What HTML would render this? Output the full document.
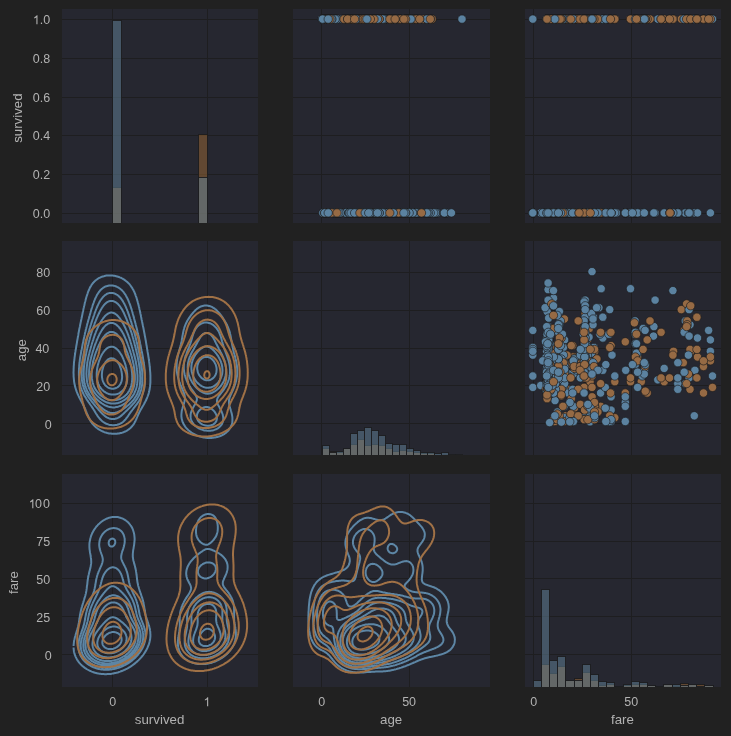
<!DOCTYPE html>
<html><head><meta charset="utf-8"><title>pairgrid</title>
<style>html,body{margin:0;padding:0;background:#212121;}body{width:731px;height:736px;overflow:hidden;font-family:"Liberation Sans",sans-serif;}</style>
</head><body>
<svg width="731" height="736" viewBox="0 0 731 736" font-family="Liberation Sans, sans-serif" style="display:block">
<rect width="731" height="736" fill="#212121"/>
<defs>
<clipPath id="c00"><rect x="62" y="9" width="196" height="214"/></clipPath>
<clipPath id="c01"><rect x="293" y="9" width="197" height="214"/></clipPath>
<clipPath id="c02"><rect x="525" y="9" width="196" height="214"/></clipPath>
<clipPath id="c10"><rect x="62" y="241" width="196" height="214"/></clipPath>
<clipPath id="c11"><rect x="293" y="241" width="197" height="214"/></clipPath>
<clipPath id="c12"><rect x="525" y="241" width="196" height="214"/></clipPath>
<clipPath id="c20"><rect x="62" y="474" width="196" height="213"/></clipPath>
<clipPath id="c21"><rect x="293" y="474" width="197" height="213"/></clipPath>
<clipPath id="c22"><rect x="525" y="474" width="196" height="213"/></clipPath>
</defs>
<g clip-path="url(#c00)">
<rect x="62" y="9" width="196" height="214" fill="#262730"/>
<path d="M112.5 9V223M207.5 9V223M62 213.5H258M62 174.5H258M62 135.5H258M62 97.5H258M62 58.5H258M62 19.5H258" stroke="#1e1e20" stroke-width="1" fill="none"/>
<rect x="112.5" y="187.5" width="9.0" height="38.5" fill="#9e6934" fill-opacity="0.5" stroke="#1c1c1e" stroke-width="1" stroke-opacity="0.9"/>
<rect x="198.5" y="134.5" width="9.0" height="91.5" fill="#9e6934" fill-opacity="0.5" stroke="#1c1c1e" stroke-width="1" stroke-opacity="0.9"/>
<rect x="112.5" y="20.5" width="9.0" height="205.5" fill="#64869c" fill-opacity="0.5" stroke="#1c1c1e" stroke-width="1" stroke-opacity="0.9"/>
<rect x="198.5" y="177.5" width="9.0" height="48.5" fill="#64869c" fill-opacity="0.5" stroke="#1c1c1e" stroke-width="1" stroke-opacity="0.9"/>
</g>
<g clip-path="url(#c01)">
<rect x="293" y="9" width="197" height="214" fill="#262730"/>
<path d="M321.5 9V223M409.5 9V223M293 213.5H490M293 174.5H490M293 135.5H490M293 97.5H490M293 58.5H490M293 19.5H490" stroke="#1e1e20" stroke-width="1" fill="none"/>
<g stroke="#1c1c1e" stroke-width="0.67">
<circle cx="359.9" cy="212.9" r="4.17" fill="#5b82a0"/>
<circle cx="388" cy="19.1" r="4.17" fill="#966a44"/>
<circle cx="366.9" cy="19.1" r="4.17" fill="#966a44"/>
<circle cx="382.8" cy="19.1" r="4.17" fill="#966a44"/>
<circle cx="382.8" cy="212.9" r="4.17" fill="#5b82a0"/>
<circle cx="416.2" cy="212.9" r="4.17" fill="#5b82a0"/>
<circle cx="324.7" cy="212.9" r="4.17" fill="#5b82a0"/>
<circle cx="368.7" cy="19.1" r="4.17" fill="#966a44"/>
<circle cx="345.8" cy="19.1" r="4.17" fill="#966a44"/>
<circle cx="328.2" cy="19.1" r="4.17" fill="#966a44"/>
<circle cx="423.2" cy="19.1" r="4.17" fill="#966a44"/>
<circle cx="356.4" cy="212.9" r="4.17" fill="#5b82a0"/>
<circle cx="389.8" cy="212.9" r="4.17" fill="#5b82a0"/>
<circle cx="345.8" cy="212.9" r="4.17" fill="#966a44"/>
<circle cx="418" cy="19.1" r="4.17" fill="#966a44"/>
<circle cx="324.7" cy="212.9" r="4.17" fill="#5b82a0"/>
<circle cx="375.7" cy="212.9" r="4.17" fill="#966a44"/>
<circle cx="382.8" cy="212.9" r="4.17" fill="#5b82a0"/>
<circle cx="381" cy="19.1" r="4.17" fill="#5b82a0"/>
<circle cx="347.6" cy="19.1" r="4.17" fill="#966a44"/>
<circle cx="370.4" cy="19.1" r="4.17" fill="#5b82a0"/>
<circle cx="335.2" cy="212.9" r="4.17" fill="#966a44"/>
<circle cx="388" cy="19.1" r="4.17" fill="#966a44"/>
<circle cx="391.6" cy="212.9" r="4.17" fill="#5b82a0"/>
<circle cx="437.3" cy="212.9" r="4.17" fill="#5b82a0"/>
<circle cx="370.4" cy="212.9" r="4.17" fill="#5b82a0"/>
<circle cx="395.1" cy="212.9" r="4.17" fill="#5b82a0"/>
<circle cx="358.1" cy="212.9" r="4.17" fill="#5b82a0"/>
<circle cx="352.8" cy="212.9" r="4.17" fill="#966a44"/>
<circle cx="345.8" cy="19.1" r="4.17" fill="#966a44"/>
<circle cx="391.6" cy="212.9" r="4.17" fill="#966a44"/>
<circle cx="368.7" cy="212.9" r="4.17" fill="#966a44"/>
<circle cx="326.4" cy="19.1" r="4.17" fill="#966a44"/>
<circle cx="354.6" cy="19.1" r="4.17" fill="#966a44"/>
<circle cx="352.8" cy="212.9" r="4.17" fill="#966a44"/>
<circle cx="333.5" cy="212.9" r="4.17" fill="#5b82a0"/>
<circle cx="358.1" cy="212.9" r="4.17" fill="#5b82a0"/>
<circle cx="407.4" cy="19.1" r="4.17" fill="#966a44"/>
<circle cx="372.2" cy="19.1" r="4.17" fill="#966a44"/>
<circle cx="435.6" cy="212.9" r="4.17" fill="#5b82a0"/>
<circle cx="358.1" cy="19.1" r="4.17" fill="#966a44"/>
<circle cx="371.3" cy="212.9" r="4.17" fill="#5b82a0"/>
<circle cx="330" cy="19.1" r="4.17" fill="#966a44"/>
<circle cx="340.5" cy="212.9" r="4.17" fill="#5b82a0"/>
<circle cx="359.9" cy="212.9" r="4.17" fill="#5b82a0"/>
<circle cx="388" cy="19.1" r="4.17" fill="#966a44"/>
<circle cx="400.4" cy="212.9" r="4.17" fill="#5b82a0"/>
<circle cx="328.2" cy="212.9" r="4.17" fill="#5b82a0"/>
<circle cx="372.2" cy="19.1" r="4.17" fill="#966a44"/>
<circle cx="354.6" cy="212.9" r="4.17" fill="#5b82a0"/>
<circle cx="351.1" cy="19.1" r="4.17" fill="#966a44"/>
<circle cx="366.9" cy="212.9" r="4.17" fill="#5b82a0"/>
<circle cx="377.5" cy="212.9" r="4.17" fill="#5b82a0"/>
<circle cx="349.3" cy="212.9" r="4.17" fill="#966a44"/>
<circle cx="358.1" cy="212.9" r="4.17" fill="#5b82a0"/>
<circle cx="366.9" cy="212.9" r="4.17" fill="#5b82a0"/>
<circle cx="377.5" cy="19.1" r="4.17" fill="#5b82a0"/>
<circle cx="365.2" cy="212.9" r="4.17" fill="#5b82a0"/>
<circle cx="322.6" cy="19.1" r="4.17" fill="#5b82a0"/>
<circle cx="374" cy="19.1" r="4.17" fill="#966a44"/>
<circle cx="359.9" cy="212.9" r="4.17" fill="#5b82a0"/>
<circle cx="372.2" cy="19.1" r="4.17" fill="#5b82a0"/>
<circle cx="370.4" cy="212.9" r="4.17" fill="#5b82a0"/>
<circle cx="351.1" cy="19.1" r="4.17" fill="#966a44"/>
<circle cx="379.2" cy="19.1" r="4.17" fill="#966a44"/>
<circle cx="349.3" cy="212.9" r="4.17" fill="#5b82a0"/>
<circle cx="363.4" cy="212.9" r="4.17" fill="#5b82a0"/>
<circle cx="372.2" cy="212.9" r="4.17" fill="#5b82a0"/>
<circle cx="356.4" cy="212.9" r="4.17" fill="#5b82a0"/>
<circle cx="402.1" cy="212.9" r="4.17" fill="#5b82a0"/>
<circle cx="366.9" cy="212.9" r="4.17" fill="#5b82a0"/>
<circle cx="425" cy="212.9" r="4.17" fill="#5b82a0"/>
<circle cx="446.1" cy="212.9" r="4.17" fill="#5b82a0"/>
<circle cx="361.6" cy="19.1" r="4.17" fill="#5b82a0"/>
<circle cx="381" cy="19.1" r="4.17" fill="#966a44"/>
<circle cx="381" cy="212.9" r="4.17" fill="#5b82a0"/>
<circle cx="370.4" cy="212.9" r="4.17" fill="#966a44"/>
<circle cx="358.1" cy="212.9" r="4.17" fill="#5b82a0"/>
<circle cx="379.2" cy="212.9" r="4.17" fill="#5b82a0"/>
<circle cx="386.3" cy="212.9" r="4.17" fill="#5b82a0"/>
<circle cx="370.4" cy="212.9" r="4.17" fill="#5b82a0"/>
<circle cx="358.1" cy="19.1" r="4.17" fill="#966a44"/>
<circle cx="388" cy="212.9" r="4.17" fill="#5b82a0"/>
<circle cx="403.9" cy="212.9" r="4.17" fill="#5b82a0"/>
<circle cx="346.7" cy="212.9" r="4.17" fill="#966a44"/>
<circle cx="359.9" cy="212.9" r="4.17" fill="#5b82a0"/>
<circle cx="356.4" cy="212.9" r="4.17" fill="#966a44"/>
<circle cx="351.1" cy="212.9" r="4.17" fill="#966a44"/>
<circle cx="358.1" cy="212.9" r="4.17" fill="#5b82a0"/>
<circle cx="445.2" cy="212.9" r="4.17" fill="#5b82a0"/>
<circle cx="372.2" cy="212.9" r="4.17" fill="#5b82a0"/>
<circle cx="324.7" cy="212.9" r="4.17" fill="#966a44"/>
<circle cx="358.1" cy="212.9" r="4.17" fill="#5b82a0"/>
<circle cx="378.4" cy="212.9" r="4.17" fill="#5b82a0"/>
<circle cx="378.4" cy="19.1" r="4.17" fill="#966a44"/>
<circle cx="416.2" cy="212.9" r="4.17" fill="#5b82a0"/>
<circle cx="342.3" cy="19.1" r="4.17" fill="#5b82a0"/>
<circle cx="363.4" cy="19.1" r="4.17" fill="#5b82a0"/>
<circle cx="400.4" cy="212.9" r="4.17" fill="#5b82a0"/>
<circle cx="379.2" cy="212.9" r="4.17" fill="#5b82a0"/>
<circle cx="356.4" cy="212.9" r="4.17" fill="#5b82a0"/>
<circle cx="403.9" cy="212.9" r="4.17" fill="#966a44"/>
<circle cx="372.2" cy="19.1" r="4.17" fill="#966a44"/>
<circle cx="365.2" cy="212.9" r="4.17" fill="#5b82a0"/>
<circle cx="361.6" cy="212.9" r="4.17" fill="#5b82a0"/>
<circle cx="354.6" cy="19.1" r="4.17" fill="#966a44"/>
<circle cx="386.3" cy="212.9" r="4.17" fill="#5b82a0"/>
<circle cx="349.3" cy="212.9" r="4.17" fill="#5b82a0"/>
<circle cx="363.4" cy="212.9" r="4.17" fill="#5b82a0"/>
<circle cx="359.9" cy="19.1" r="4.17" fill="#966a44"/>
<circle cx="363.4" cy="19.1" r="4.17" fill="#966a44"/>
<circle cx="354.6" cy="212.9" r="4.17" fill="#5b82a0"/>
<circle cx="352.8" cy="212.9" r="4.17" fill="#5b82a0"/>
<circle cx="354.6" cy="212.9" r="4.17" fill="#5b82a0"/>
<circle cx="368.7" cy="19.1" r="4.17" fill="#5b82a0"/>
<circle cx="337" cy="212.9" r="4.17" fill="#966a44"/>
<circle cx="385.4" cy="212.9" r="4.17" fill="#5b82a0"/>
<circle cx="395.1" cy="212.9" r="4.17" fill="#5b82a0"/>
<circle cx="410.9" cy="212.9" r="4.17" fill="#5b82a0"/>
<circle cx="359.9" cy="19.1" r="4.17" fill="#966a44"/>
<circle cx="418.8" cy="212.9" r="4.17" fill="#5b82a0"/>
<circle cx="392.4" cy="212.9" r="4.17" fill="#5b82a0"/>
<circle cx="410.9" cy="212.9" r="4.17" fill="#5b82a0"/>
<circle cx="349.3" cy="19.1" r="4.17" fill="#966a44"/>
<circle cx="374" cy="212.9" r="4.17" fill="#5b82a0"/>
<circle cx="398.6" cy="212.9" r="4.17" fill="#5b82a0"/>
<circle cx="391.6" cy="19.1" r="4.17" fill="#966a44"/>
<circle cx="366.9" cy="212.9" r="4.17" fill="#5b82a0"/>
<circle cx="351.1" cy="212.9" r="4.17" fill="#5b82a0"/>
<circle cx="322.9" cy="212.9" r="4.17" fill="#5b82a0"/>
<circle cx="337" cy="19.1" r="4.17" fill="#5b82a0"/>
<circle cx="400.4" cy="212.9" r="4.17" fill="#966a44"/>
<circle cx="370.4" cy="212.9" r="4.17" fill="#5b82a0"/>
<circle cx="428.5" cy="212.9" r="4.17" fill="#5b82a0"/>
<circle cx="328.2" cy="212.9" r="4.17" fill="#5b82a0"/>
<circle cx="322.9" cy="19.1" r="4.17" fill="#966a44"/>
<circle cx="358.1" cy="212.9" r="4.17" fill="#5b82a0"/>
<circle cx="419.7" cy="212.9" r="4.17" fill="#5b82a0"/>
<circle cx="352.8" cy="212.9" r="4.17" fill="#5b82a0"/>
<circle cx="409.2" cy="212.9" r="4.17" fill="#966a44"/>
<circle cx="374" cy="212.9" r="4.17" fill="#5b82a0"/>
<circle cx="384.5" cy="212.9" r="4.17" fill="#5b82a0"/>
<circle cx="337" cy="212.9" r="4.17" fill="#5b82a0"/>
<circle cx="322.9" cy="19.1" r="4.17" fill="#5b82a0"/>
<circle cx="328.2" cy="19.1" r="4.17" fill="#966a44"/>
<circle cx="400.4" cy="19.1" r="4.17" fill="#5b82a0"/>
<circle cx="391.6" cy="212.9" r="4.17" fill="#5b82a0"/>
<circle cx="384.5" cy="212.9" r="4.17" fill="#5b82a0"/>
<circle cx="377.5" cy="19.1" r="4.17" fill="#966a44"/>
<circle cx="354.6" cy="212.9" r="4.17" fill="#5b82a0"/>
<circle cx="354.6" cy="19.1" r="4.17" fill="#966a44"/>
<circle cx="326.4" cy="19.1" r="4.17" fill="#5b82a0"/>
<circle cx="398.6" cy="19.1" r="4.17" fill="#966a44"/>
<circle cx="395.1" cy="212.9" r="4.17" fill="#5b82a0"/>
<circle cx="363.4" cy="212.9" r="4.17" fill="#966a44"/>
<circle cx="370.4" cy="212.9" r="4.17" fill="#5b82a0"/>
<circle cx="381" cy="212.9" r="4.17" fill="#5b82a0"/>
<circle cx="401.2" cy="212.9" r="4.17" fill="#5b82a0"/>
<circle cx="352.8" cy="19.1" r="4.17" fill="#5b82a0"/>
<circle cx="324.7" cy="212.9" r="4.17" fill="#966a44"/>
<circle cx="377.5" cy="212.9" r="4.17" fill="#5b82a0"/>
<circle cx="366.9" cy="19.1" r="4.17" fill="#5b82a0"/>
<circle cx="349.3" cy="19.1" r="4.17" fill="#966a44"/>
<circle cx="391.6" cy="19.1" r="4.17" fill="#5b82a0"/>
<circle cx="363.4" cy="212.9" r="4.17" fill="#5b82a0"/>
<circle cx="382.8" cy="19.1" r="4.17" fill="#966a44"/>
<circle cx="359.9" cy="212.9" r="4.17" fill="#5b82a0"/>
<circle cx="374" cy="212.9" r="4.17" fill="#5b82a0"/>
<circle cx="368.7" cy="19.1" r="4.17" fill="#966a44"/>
<circle cx="395.1" cy="212.9" r="4.17" fill="#5b82a0"/>
<circle cx="377.5" cy="19.1" r="4.17" fill="#966a44"/>
<circle cx="374" cy="212.9" r="4.17" fill="#5b82a0"/>
<circle cx="349.3" cy="19.1" r="4.17" fill="#5b82a0"/>
<circle cx="368.7" cy="212.9" r="4.17" fill="#5b82a0"/>
<circle cx="410.9" cy="212.9" r="4.17" fill="#5b82a0"/>
<circle cx="388" cy="19.1" r="4.17" fill="#5b82a0"/>
<circle cx="359.9" cy="212.9" r="4.17" fill="#5b82a0"/>
<circle cx="354.6" cy="19.1" r="4.17" fill="#5b82a0"/>
<circle cx="357.2" cy="212.9" r="4.17" fill="#5b82a0"/>
<circle cx="352.8" cy="212.9" r="4.17" fill="#5b82a0"/>
<circle cx="382.8" cy="19.1" r="4.17" fill="#966a44"/>
<circle cx="372.2" cy="212.9" r="4.17" fill="#5b82a0"/>
<circle cx="425" cy="212.9" r="4.17" fill="#5b82a0"/>
<circle cx="330" cy="19.1" r="4.17" fill="#966a44"/>
<circle cx="363.4" cy="212.9" r="4.17" fill="#5b82a0"/>
<circle cx="398.6" cy="212.9" r="4.17" fill="#5b82a0"/>
<circle cx="335.2" cy="19.1" r="4.17" fill="#966a44"/>
<circle cx="354.6" cy="212.9" r="4.17" fill="#5b82a0"/>
<circle cx="379.2" cy="212.9" r="4.17" fill="#5b82a0"/>
<circle cx="372.2" cy="212.9" r="4.17" fill="#5b82a0"/>
<circle cx="359.9" cy="212.9" r="4.17" fill="#5b82a0"/>
<circle cx="374" cy="212.9" r="4.17" fill="#5b82a0"/>
<circle cx="398.6" cy="212.9" r="4.17" fill="#5b82a0"/>
<circle cx="365.2" cy="212.9" r="4.17" fill="#966a44"/>
<circle cx="363.4" cy="19.1" r="4.17" fill="#966a44"/>
<circle cx="386.3" cy="19.1" r="4.17" fill="#5b82a0"/>
<circle cx="416.2" cy="212.9" r="4.17" fill="#5b82a0"/>
<circle cx="372.2" cy="212.9" r="4.17" fill="#966a44"/>
<circle cx="430.3" cy="212.9" r="4.17" fill="#5b82a0"/>
<circle cx="374" cy="212.9" r="4.17" fill="#5b82a0"/>
<circle cx="393.3" cy="212.9" r="4.17" fill="#966a44"/>
<circle cx="372.2" cy="19.1" r="4.17" fill="#966a44"/>
<circle cx="374" cy="19.1" r="4.17" fill="#966a44"/>
<circle cx="409.2" cy="19.1" r="4.17" fill="#966a44"/>
<circle cx="326.4" cy="19.1" r="4.17" fill="#5b82a0"/>
<circle cx="412.7" cy="212.9" r="4.17" fill="#5b82a0"/>
<circle cx="391.6" cy="212.9" r="4.17" fill="#5b82a0"/>
<circle cx="384.5" cy="212.9" r="4.17" fill="#5b82a0"/>
<circle cx="349.3" cy="212.9" r="4.17" fill="#5b82a0"/>
<circle cx="365.2" cy="19.1" r="4.17" fill="#5b82a0"/>
<circle cx="365.2" cy="19.1" r="4.17" fill="#5b82a0"/>
<circle cx="393.3" cy="19.1" r="4.17" fill="#966a44"/>
<circle cx="386.3" cy="212.9" r="4.17" fill="#5b82a0"/>
<circle cx="432" cy="19.1" r="4.17" fill="#966a44"/>
<circle cx="400.4" cy="212.9" r="4.17" fill="#966a44"/>
<circle cx="333.5" cy="212.9" r="4.17" fill="#5b82a0"/>
<circle cx="382.8" cy="19.1" r="4.17" fill="#966a44"/>
<circle cx="435.6" cy="212.9" r="4.17" fill="#5b82a0"/>
<circle cx="370.4" cy="212.9" r="4.17" fill="#5b82a0"/>
<circle cx="349.3" cy="212.9" r="4.17" fill="#5b82a0"/>
<circle cx="354.6" cy="19.1" r="4.17" fill="#5b82a0"/>
<circle cx="379.2" cy="212.9" r="4.17" fill="#5b82a0"/>
<circle cx="374" cy="19.1" r="4.17" fill="#5b82a0"/>
<circle cx="359.9" cy="212.9" r="4.17" fill="#5b82a0"/>
<circle cx="395.1" cy="19.1" r="4.17" fill="#5b82a0"/>
<circle cx="359.9" cy="19.1" r="4.17" fill="#966a44"/>
<circle cx="366.9" cy="19.1" r="4.17" fill="#966a44"/>
<circle cx="354.6" cy="19.1" r="4.17" fill="#966a44"/>
<circle cx="384.5" cy="212.9" r="4.17" fill="#5b82a0"/>
<circle cx="363.4" cy="212.9" r="4.17" fill="#966a44"/>
<circle cx="363.4" cy="212.9" r="4.17" fill="#5b82a0"/>
<circle cx="362.5" cy="212.9" r="4.17" fill="#5b82a0"/>
<circle cx="354.6" cy="212.9" r="4.17" fill="#5b82a0"/>
<circle cx="374" cy="212.9" r="4.17" fill="#5b82a0"/>
<circle cx="374" cy="19.1" r="4.17" fill="#966a44"/>
<circle cx="363.4" cy="19.1" r="4.17" fill="#966a44"/>
<circle cx="366.9" cy="212.9" r="4.17" fill="#966a44"/>
<circle cx="370.4" cy="212.9" r="4.17" fill="#5b82a0"/>
<circle cx="396.8" cy="212.9" r="4.17" fill="#5b82a0"/>
<circle cx="366.9" cy="19.1" r="4.17" fill="#966a44"/>
<circle cx="363.4" cy="19.1" r="4.17" fill="#966a44"/>
<circle cx="416.2" cy="212.9" r="4.17" fill="#5b82a0"/>
<circle cx="359.9" cy="212.9" r="4.17" fill="#5b82a0"/>
<circle cx="368.7" cy="212.9" r="4.17" fill="#5b82a0"/>
<circle cx="374" cy="19.1" r="4.17" fill="#966a44"/>
<circle cx="359.9" cy="19.1" r="4.17" fill="#966a44"/>
<circle cx="428.5" cy="212.9" r="4.17" fill="#5b82a0"/>
<circle cx="384.5" cy="19.1" r="4.17" fill="#966a44"/>
<circle cx="375.7" cy="19.1" r="4.17" fill="#966a44"/>
<circle cx="349.3" cy="19.1" r="4.17" fill="#966a44"/>
<circle cx="401.2" cy="212.9" r="4.17" fill="#5b82a0"/>
<circle cx="349.3" cy="212.9" r="4.17" fill="#5b82a0"/>
<circle cx="372.2" cy="212.9" r="4.17" fill="#5b82a0"/>
<circle cx="400.4" cy="19.1" r="4.17" fill="#5b82a0"/>
<circle cx="400.4" cy="212.9" r="4.17" fill="#5b82a0"/>
<circle cx="324.7" cy="19.1" r="4.17" fill="#5b82a0"/>
<circle cx="370.4" cy="212.9" r="4.17" fill="#5b82a0"/>
<circle cx="365.2" cy="212.9" r="4.17" fill="#5b82a0"/>
<circle cx="384.5" cy="212.9" r="4.17" fill="#5b82a0"/>
<circle cx="363.4" cy="19.1" r="4.17" fill="#966a44"/>
<circle cx="391.6" cy="19.1" r="4.17" fill="#966a44"/>
<circle cx="326.4" cy="19.1" r="4.17" fill="#5b82a0"/>
<circle cx="395.1" cy="212.9" r="4.17" fill="#5b82a0"/>
<circle cx="361.6" cy="212.9" r="4.17" fill="#5b82a0"/>
<circle cx="347.6" cy="212.9" r="4.17" fill="#5b82a0"/>
<circle cx="365.2" cy="212.9" r="4.17" fill="#5b82a0"/>
<circle cx="370.4" cy="212.9" r="4.17" fill="#5b82a0"/>
<circle cx="359.9" cy="19.1" r="4.17" fill="#966a44"/>
<circle cx="388" cy="212.9" r="4.17" fill="#966a44"/>
<circle cx="391.6" cy="212.9" r="4.17" fill="#5b82a0"/>
<circle cx="372.2" cy="212.9" r="4.17" fill="#5b82a0"/>
<circle cx="400.4" cy="212.9" r="4.17" fill="#966a44"/>
<circle cx="382.8" cy="212.9" r="4.17" fill="#5b82a0"/>
<circle cx="374" cy="212.9" r="4.17" fill="#5b82a0"/>
<circle cx="426.8" cy="19.1" r="4.17" fill="#966a44"/>
<circle cx="363.4" cy="19.1" r="4.17" fill="#966a44"/>
<circle cx="365.2" cy="19.1" r="4.17" fill="#5b82a0"/>
<circle cx="352.8" cy="212.9" r="4.17" fill="#5b82a0"/>
<circle cx="354.6" cy="212.9" r="4.17" fill="#5b82a0"/>
<circle cx="326.4" cy="212.9" r="4.17" fill="#966a44"/>
<circle cx="359.9" cy="19.1" r="4.17" fill="#966a44"/>
<circle cx="356.4" cy="212.9" r="4.17" fill="#5b82a0"/>
<circle cx="354.6" cy="212.9" r="4.17" fill="#5b82a0"/>
<circle cx="322.9" cy="19.1" r="4.17" fill="#966a44"/>
<circle cx="377.5" cy="212.9" r="4.17" fill="#5b82a0"/>
<circle cx="382.8" cy="19.1" r="4.17" fill="#966a44"/>
<circle cx="352.8" cy="212.9" r="4.17" fill="#5b82a0"/>
<circle cx="322.9" cy="212.9" r="4.17" fill="#5b82a0"/>
<circle cx="384.5" cy="19.1" r="4.17" fill="#966a44"/>
<circle cx="351.1" cy="19.1" r="4.17" fill="#966a44"/>
<circle cx="358.1" cy="19.1" r="4.17" fill="#5b82a0"/>
<circle cx="370.4" cy="212.9" r="4.17" fill="#5b82a0"/>
<circle cx="363.4" cy="19.1" r="4.17" fill="#966a44"/>
<circle cx="359.9" cy="212.9" r="4.17" fill="#5b82a0"/>
<circle cx="375.7" cy="212.9" r="4.17" fill="#966a44"/>
<circle cx="402.1" cy="212.9" r="4.17" fill="#5b82a0"/>
<circle cx="361.6" cy="212.9" r="4.17" fill="#5b82a0"/>
<circle cx="370.4" cy="19.1" r="4.17" fill="#966a44"/>
<circle cx="389.8" cy="19.1" r="4.17" fill="#5b82a0"/>
<circle cx="366.9" cy="212.9" r="4.17" fill="#5b82a0"/>
<circle cx="358.1" cy="212.9" r="4.17" fill="#966a44"/>
<circle cx="370.4" cy="212.9" r="4.17" fill="#5b82a0"/>
<circle cx="356.4" cy="212.9" r="4.17" fill="#966a44"/>
<circle cx="381" cy="212.9" r="4.17" fill="#5b82a0"/>
<circle cx="410.9" cy="212.9" r="4.17" fill="#5b82a0"/>
<circle cx="326.4" cy="19.1" r="4.17" fill="#5b82a0"/>
<circle cx="358.1" cy="212.9" r="4.17" fill="#5b82a0"/>
<circle cx="379.2" cy="19.1" r="4.17" fill="#966a44"/>
<circle cx="398.6" cy="19.1" r="4.17" fill="#5b82a0"/>
<circle cx="381" cy="19.1" r="4.17" fill="#966a44"/>
<circle cx="352.8" cy="19.1" r="4.17" fill="#966a44"/>
<circle cx="374" cy="212.9" r="4.17" fill="#5b82a0"/>
<circle cx="338.8" cy="212.9" r="4.17" fill="#966a44"/>
<circle cx="358.1" cy="212.9" r="4.17" fill="#5b82a0"/>
<circle cx="372.2" cy="212.9" r="4.17" fill="#5b82a0"/>
<circle cx="370.4" cy="212.9" r="4.17" fill="#966a44"/>
<circle cx="352.8" cy="212.9" r="4.17" fill="#5b82a0"/>
<circle cx="370.4" cy="19.1" r="4.17" fill="#966a44"/>
<circle cx="354.6" cy="19.1" r="4.17" fill="#966a44"/>
<circle cx="377.5" cy="19.1" r="4.17" fill="#5b82a0"/>
<circle cx="370.4" cy="19.1" r="4.17" fill="#5b82a0"/>
<circle cx="395.1" cy="19.1" r="4.17" fill="#966a44"/>
<circle cx="351.1" cy="212.9" r="4.17" fill="#5b82a0"/>
<circle cx="409.2" cy="212.9" r="4.17" fill="#5b82a0"/>
<circle cx="358.1" cy="212.9" r="4.17" fill="#966a44"/>
<circle cx="363.4" cy="19.1" r="4.17" fill="#966a44"/>
<circle cx="375.7" cy="212.9" r="4.17" fill="#5b82a0"/>
<circle cx="400.4" cy="19.1" r="4.17" fill="#966a44"/>
<circle cx="356.4" cy="212.9" r="4.17" fill="#5b82a0"/>
<circle cx="365.2" cy="212.9" r="4.17" fill="#5b82a0"/>
<circle cx="370.4" cy="19.1" r="4.17" fill="#966a44"/>
<circle cx="328.2" cy="19.1" r="4.17" fill="#5b82a0"/>
<circle cx="344" cy="19.1" r="4.17" fill="#966a44"/>
<circle cx="381" cy="19.1" r="4.17" fill="#5b82a0"/>
<circle cx="330" cy="19.1" r="4.17" fill="#966a44"/>
<circle cx="412.7" cy="19.1" r="4.17" fill="#5b82a0"/>
<circle cx="384.5" cy="212.9" r="4.17" fill="#5b82a0"/>
<circle cx="374" cy="212.9" r="4.17" fill="#5b82a0"/>
<circle cx="407.4" cy="19.1" r="4.17" fill="#5b82a0"/>
<circle cx="372.2" cy="19.1" r="4.17" fill="#5b82a0"/>
<circle cx="435.6" cy="212.9" r="4.17" fill="#5b82a0"/>
<circle cx="409.2" cy="19.1" r="4.17" fill="#966a44"/>
<circle cx="405.6" cy="19.1" r="4.17" fill="#5b82a0"/>
<circle cx="381" cy="212.9" r="4.17" fill="#5b82a0"/>
<circle cx="403.9" cy="212.9" r="4.17" fill="#5b82a0"/>
<circle cx="405.6" cy="212.9" r="4.17" fill="#5b82a0"/>
<circle cx="388" cy="212.9" r="4.17" fill="#5b82a0"/>
<circle cx="419.7" cy="212.9" r="4.17" fill="#5b82a0"/>
<circle cx="322.5" cy="19.1" r="4.17" fill="#966a44"/>
<circle cx="388" cy="212.9" r="4.17" fill="#5b82a0"/>
<circle cx="379.2" cy="19.1" r="4.17" fill="#966a44"/>
<circle cx="361.6" cy="19.1" r="4.17" fill="#966a44"/>
<circle cx="359.9" cy="212.9" r="4.17" fill="#966a44"/>
<circle cx="381" cy="212.9" r="4.17" fill="#5b82a0"/>
<circle cx="372.2" cy="212.9" r="4.17" fill="#5b82a0"/>
<circle cx="359.9" cy="212.9" r="4.17" fill="#5b82a0"/>
<circle cx="324.7" cy="19.1" r="4.17" fill="#966a44"/>
<circle cx="337" cy="212.9" r="4.17" fill="#5b82a0"/>
<circle cx="409.2" cy="212.9" r="4.17" fill="#5b82a0"/>
<circle cx="432" cy="19.1" r="4.17" fill="#966a44"/>
<circle cx="365.2" cy="19.1" r="4.17" fill="#5b82a0"/>
<circle cx="382.8" cy="19.1" r="4.17" fill="#966a44"/>
<circle cx="423.2" cy="212.9" r="4.17" fill="#5b82a0"/>
<circle cx="374" cy="212.9" r="4.17" fill="#5b82a0"/>
<circle cx="337" cy="19.1" r="4.17" fill="#5b82a0"/>
<circle cx="358.1" cy="212.9" r="4.17" fill="#5b82a0"/>
<circle cx="418" cy="212.9" r="4.17" fill="#5b82a0"/>
<circle cx="446.1" cy="212.9" r="4.17" fill="#5b82a0"/>
<circle cx="358.1" cy="212.9" r="4.17" fill="#5b82a0"/>
<circle cx="416.2" cy="19.1" r="4.17" fill="#966a44"/>
<circle cx="363.4" cy="212.9" r="4.17" fill="#5b82a0"/>
<circle cx="351.1" cy="212.9" r="4.17" fill="#5b82a0"/>
<circle cx="358.1" cy="212.9" r="4.17" fill="#966a44"/>
<circle cx="386.3" cy="212.9" r="4.17" fill="#966a44"/>
<circle cx="349.3" cy="19.1" r="4.17" fill="#966a44"/>
<circle cx="379.2" cy="19.1" r="4.17" fill="#966a44"/>
<circle cx="370.4" cy="212.9" r="4.17" fill="#5b82a0"/>
<circle cx="366.9" cy="19.1" r="4.17" fill="#5b82a0"/>
<circle cx="372.2" cy="19.1" r="4.17" fill="#5b82a0"/>
<circle cx="384.5" cy="19.1" r="4.17" fill="#5b82a0"/>
<circle cx="416.2" cy="19.1" r="4.17" fill="#966a44"/>
<circle cx="363.4" cy="212.9" r="4.17" fill="#5b82a0"/>
<circle cx="403.9" cy="212.9" r="4.17" fill="#5b82a0"/>
<circle cx="381" cy="19.1" r="4.17" fill="#966a44"/>
<circle cx="384.5" cy="19.1" r="4.17" fill="#966a44"/>
<circle cx="377.5" cy="212.9" r="4.17" fill="#5b82a0"/>
<circle cx="359.9" cy="212.9" r="4.17" fill="#5b82a0"/>
<circle cx="398.6" cy="19.1" r="4.17" fill="#966a44"/>
<circle cx="392.4" cy="212.9" r="4.17" fill="#5b82a0"/>
<circle cx="409.2" cy="19.1" r="4.17" fill="#966a44"/>
<circle cx="389.8" cy="212.9" r="4.17" fill="#5b82a0"/>
<circle cx="361.6" cy="212.9" r="4.17" fill="#5b82a0"/>
<circle cx="324.7" cy="19.1" r="4.17" fill="#966a44"/>
<circle cx="351.1" cy="212.9" r="4.17" fill="#5b82a0"/>
<circle cx="374" cy="212.9" r="4.17" fill="#966a44"/>
<circle cx="333.5" cy="19.1" r="4.17" fill="#966a44"/>
<circle cx="400.4" cy="212.9" r="4.17" fill="#5b82a0"/>
<circle cx="359.9" cy="19.1" r="4.17" fill="#966a44"/>
<circle cx="384.5" cy="19.1" r="4.17" fill="#966a44"/>
<circle cx="337" cy="212.9" r="4.17" fill="#966a44"/>
<circle cx="340.5" cy="212.9" r="4.17" fill="#966a44"/>
<circle cx="377.5" cy="19.1" r="4.17" fill="#5b82a0"/>
<circle cx="433.8" cy="212.9" r="4.17" fill="#5b82a0"/>
<circle cx="354.6" cy="19.1" r="4.17" fill="#966a44"/>
<circle cx="379.2" cy="212.9" r="4.17" fill="#5b82a0"/>
<circle cx="335.2" cy="19.1" r="4.17" fill="#5b82a0"/>
<circle cx="368.7" cy="212.9" r="4.17" fill="#5b82a0"/>
<circle cx="359.9" cy="19.1" r="4.17" fill="#5b82a0"/>
<circle cx="359.9" cy="19.1" r="4.17" fill="#966a44"/>
<circle cx="430.3" cy="212.9" r="4.17" fill="#5b82a0"/>
<circle cx="405.6" cy="19.1" r="4.17" fill="#966a44"/>
<circle cx="389.8" cy="19.1" r="4.17" fill="#966a44"/>
<circle cx="384.5" cy="19.1" r="4.17" fill="#966a44"/>
<circle cx="391.6" cy="212.9" r="4.17" fill="#5b82a0"/>
<circle cx="370.4" cy="212.9" r="4.17" fill="#5b82a0"/>
<circle cx="363.4" cy="212.9" r="4.17" fill="#5b82a0"/>
<circle cx="354.6" cy="212.9" r="4.17" fill="#5b82a0"/>
<circle cx="372.2" cy="212.9" r="4.17" fill="#966a44"/>
<circle cx="377.5" cy="19.1" r="4.17" fill="#5b82a0"/>
<circle cx="430.3" cy="19.1" r="4.17" fill="#5b82a0"/>
<circle cx="414.4" cy="19.1" r="4.17" fill="#966a44"/>
<circle cx="384.5" cy="19.1" r="4.17" fill="#5b82a0"/>
<circle cx="349.3" cy="212.9" r="4.17" fill="#5b82a0"/>
<circle cx="354.6" cy="212.9" r="4.17" fill="#5b82a0"/>
<circle cx="381" cy="19.1" r="4.17" fill="#966a44"/>
<circle cx="389.8" cy="19.1" r="4.17" fill="#966a44"/>
<circle cx="377.5" cy="19.1" r="4.17" fill="#5b82a0"/>
<circle cx="365.2" cy="19.1" r="4.17" fill="#966a44"/>
<circle cx="416.2" cy="212.9" r="4.17" fill="#5b82a0"/>
<circle cx="384.5" cy="212.9" r="4.17" fill="#5b82a0"/>
<circle cx="352.8" cy="19.1" r="4.17" fill="#966a44"/>
<circle cx="403.9" cy="212.9" r="4.17" fill="#5b82a0"/>
<circle cx="426.8" cy="19.1" r="4.17" fill="#5b82a0"/>
<circle cx="359.9" cy="212.9" r="4.17" fill="#5b82a0"/>
<circle cx="382.8" cy="212.9" r="4.17" fill="#5b82a0"/>
<circle cx="412.7" cy="19.1" r="4.17" fill="#966a44"/>
<circle cx="403.9" cy="212.9" r="4.17" fill="#5b82a0"/>
<circle cx="386.3" cy="212.9" r="4.17" fill="#5b82a0"/>
<circle cx="384.5" cy="212.9" r="4.17" fill="#5b82a0"/>
<circle cx="407.4" cy="212.9" r="4.17" fill="#5b82a0"/>
<circle cx="407.4" cy="19.1" r="4.17" fill="#5b82a0"/>
<circle cx="363.4" cy="19.1" r="4.17" fill="#966a44"/>
<circle cx="398.6" cy="212.9" r="4.17" fill="#5b82a0"/>
<circle cx="382.8" cy="19.1" r="4.17" fill="#5b82a0"/>
<circle cx="384.5" cy="212.9" r="4.17" fill="#5b82a0"/>
<circle cx="374" cy="212.9" r="4.17" fill="#5b82a0"/>
<circle cx="368.7" cy="19.1" r="4.17" fill="#5b82a0"/>
<circle cx="359.9" cy="19.1" r="4.17" fill="#966a44"/>
<circle cx="389.8" cy="212.9" r="4.17" fill="#966a44"/>
<circle cx="382.8" cy="212.9" r="4.17" fill="#5b82a0"/>
<circle cx="363.4" cy="19.1" r="4.17" fill="#966a44"/>
<circle cx="381" cy="212.9" r="4.17" fill="#5b82a0"/>
<circle cx="366.9" cy="212.9" r="4.17" fill="#966a44"/>
<circle cx="328.2" cy="19.1" r="4.17" fill="#966a44"/>
<circle cx="366.9" cy="212.9" r="4.17" fill="#5b82a0"/>
<circle cx="368.7" cy="212.9" r="4.17" fill="#5b82a0"/>
<circle cx="395.1" cy="19.1" r="4.17" fill="#5b82a0"/>
<circle cx="356.4" cy="19.1" r="4.17" fill="#5b82a0"/>
<circle cx="358.1" cy="212.9" r="4.17" fill="#5b82a0"/>
<circle cx="358.1" cy="212.9" r="4.17" fill="#5b82a0"/>
<circle cx="428.5" cy="212.9" r="4.17" fill="#5b82a0"/>
<circle cx="421.5" cy="212.9" r="4.17" fill="#5b82a0"/>
<circle cx="358.1" cy="19.1" r="4.17" fill="#966a44"/>
<circle cx="366.9" cy="212.9" r="4.17" fill="#5b82a0"/>
<circle cx="462" cy="19.1" r="4.17" fill="#5b82a0"/>
<circle cx="410.9" cy="212.9" r="4.17" fill="#5b82a0"/>
<circle cx="377.5" cy="19.1" r="4.17" fill="#5b82a0"/>
<circle cx="337" cy="212.9" r="4.17" fill="#966a44"/>
<circle cx="370.4" cy="19.1" r="4.17" fill="#966a44"/>
<circle cx="377.5" cy="212.9" r="4.17" fill="#5b82a0"/>
<circle cx="375.7" cy="212.9" r="4.17" fill="#5b82a0"/>
<circle cx="393.3" cy="212.9" r="4.17" fill="#966a44"/>
<circle cx="356.4" cy="212.9" r="4.17" fill="#5b82a0"/>
<circle cx="363.4" cy="19.1" r="4.17" fill="#966a44"/>
<circle cx="324.7" cy="212.9" r="4.17" fill="#966a44"/>
<circle cx="322.5" cy="19.1" r="4.17" fill="#966a44"/>
<circle cx="405.6" cy="19.1" r="4.17" fill="#5b82a0"/>
<circle cx="354.6" cy="212.9" r="4.17" fill="#5b82a0"/>
<circle cx="419.7" cy="19.1" r="4.17" fill="#5b82a0"/>
<circle cx="361.6" cy="19.1" r="4.17" fill="#966a44"/>
<circle cx="352.8" cy="19.1" r="4.17" fill="#966a44"/>
<circle cx="358.1" cy="212.9" r="4.17" fill="#5b82a0"/>
<circle cx="352.8" cy="212.9" r="4.17" fill="#966a44"/>
<circle cx="363.4" cy="212.9" r="4.17" fill="#5b82a0"/>
<circle cx="377.5" cy="212.9" r="4.17" fill="#966a44"/>
<circle cx="361.6" cy="212.9" r="4.17" fill="#5b82a0"/>
<circle cx="391.6" cy="212.9" r="4.17" fill="#5b82a0"/>
<circle cx="403.9" cy="212.9" r="4.17" fill="#5b82a0"/>
<circle cx="384.5" cy="212.9" r="4.17" fill="#5b82a0"/>
<circle cx="356.4" cy="19.1" r="4.17" fill="#5b82a0"/>
<circle cx="377.5" cy="212.9" r="4.17" fill="#5b82a0"/>
<circle cx="365.2" cy="212.9" r="4.17" fill="#5b82a0"/>
<circle cx="396.8" cy="212.9" r="4.17" fill="#5b82a0"/>
<circle cx="391.6" cy="19.1" r="4.17" fill="#966a44"/>
<circle cx="375.7" cy="212.9" r="4.17" fill="#5b82a0"/>
<circle cx="444.4" cy="212.9" r="4.17" fill="#5b82a0"/>
<circle cx="375.7" cy="19.1" r="4.17" fill="#5b82a0"/>
<circle cx="352.8" cy="212.9" r="4.17" fill="#5b82a0"/>
<circle cx="364.3" cy="212.9" r="4.17" fill="#5b82a0"/>
<circle cx="352.8" cy="19.1" r="4.17" fill="#966a44"/>
<circle cx="396.8" cy="212.9" r="4.17" fill="#966a44"/>
<circle cx="368.7" cy="19.1" r="4.17" fill="#5b82a0"/>
<circle cx="356.4" cy="212.9" r="4.17" fill="#5b82a0"/>
<circle cx="345.8" cy="212.9" r="4.17" fill="#5b82a0"/>
<circle cx="426.8" cy="212.9" r="4.17" fill="#5b82a0"/>
<circle cx="365.2" cy="212.9" r="4.17" fill="#5b82a0"/>
<circle cx="345.8" cy="212.9" r="4.17" fill="#5b82a0"/>
<circle cx="354.6" cy="212.9" r="4.17" fill="#5b82a0"/>
<circle cx="352.8" cy="212.9" r="4.17" fill="#5b82a0"/>
<circle cx="375.7" cy="19.1" r="4.17" fill="#5b82a0"/>
<circle cx="328.2" cy="19.1" r="4.17" fill="#966a44"/>
<circle cx="365.2" cy="212.9" r="4.17" fill="#5b82a0"/>
<circle cx="426.8" cy="212.9" r="4.17" fill="#5b82a0"/>
<circle cx="412.7" cy="212.9" r="4.17" fill="#5b82a0"/>
<circle cx="398.6" cy="212.9" r="4.17" fill="#5b82a0"/>
<circle cx="395.1" cy="212.9" r="4.17" fill="#5b82a0"/>
<circle cx="382.8" cy="19.1" r="4.17" fill="#5b82a0"/>
<circle cx="352.8" cy="212.9" r="4.17" fill="#966a44"/>
<circle cx="365.2" cy="212.9" r="4.17" fill="#5b82a0"/>
<circle cx="366.9" cy="212.9" r="4.17" fill="#5b82a0"/>
<circle cx="389.8" cy="212.9" r="4.17" fill="#5b82a0"/>
<circle cx="400.4" cy="19.1" r="4.17" fill="#966a44"/>
<circle cx="395.1" cy="19.1" r="4.17" fill="#5b82a0"/>
<circle cx="363.4" cy="19.1" r="4.17" fill="#966a44"/>
<circle cx="405.6" cy="19.1" r="4.17" fill="#5b82a0"/>
<circle cx="372.2" cy="212.9" r="4.17" fill="#5b82a0"/>
<circle cx="412.7" cy="212.9" r="4.17" fill="#5b82a0"/>
<circle cx="354.6" cy="212.9" r="4.17" fill="#5b82a0"/>
<circle cx="368.7" cy="19.1" r="4.17" fill="#966a44"/>
<circle cx="379.2" cy="212.9" r="4.17" fill="#5b82a0"/>
<circle cx="331.7" cy="19.1" r="4.17" fill="#966a44"/>
<circle cx="351.1" cy="212.9" r="4.17" fill="#5b82a0"/>
<circle cx="381" cy="212.9" r="4.17" fill="#5b82a0"/>
<circle cx="409.2" cy="212.9" r="4.17" fill="#5b82a0"/>
<circle cx="368.7" cy="19.1" r="4.17" fill="#5b82a0"/>
<circle cx="356.4" cy="212.9" r="4.17" fill="#5b82a0"/>
<circle cx="374" cy="19.1" r="4.17" fill="#966a44"/>
<circle cx="365.2" cy="212.9" r="4.17" fill="#5b82a0"/>
<circle cx="365.2" cy="212.9" r="4.17" fill="#966a44"/>
<circle cx="340.5" cy="212.9" r="4.17" fill="#5b82a0"/>
<circle cx="361.6" cy="212.9" r="4.17" fill="#5b82a0"/>
<circle cx="361.6" cy="212.9" r="4.17" fill="#5b82a0"/>
<circle cx="371.3" cy="212.9" r="4.17" fill="#5b82a0"/>
<circle cx="405.6" cy="212.9" r="4.17" fill="#966a44"/>
<circle cx="384.5" cy="212.9" r="4.17" fill="#5b82a0"/>
<circle cx="363.4" cy="212.9" r="4.17" fill="#5b82a0"/>
<circle cx="375.7" cy="19.1" r="4.17" fill="#5b82a0"/>
<circle cx="444.4" cy="212.9" r="4.17" fill="#5b82a0"/>
<circle cx="349.3" cy="212.9" r="4.17" fill="#5b82a0"/>
<circle cx="374" cy="19.1" r="4.17" fill="#966a44"/>
<circle cx="354.6" cy="212.9" r="4.17" fill="#5b82a0"/>
<circle cx="375.7" cy="212.9" r="4.17" fill="#5b82a0"/>
<circle cx="328.2" cy="19.1" r="4.17" fill="#966a44"/>
<circle cx="331.7" cy="19.1" r="4.17" fill="#5b82a0"/>
<circle cx="379.2" cy="212.9" r="4.17" fill="#5b82a0"/>
<circle cx="361.6" cy="212.9" r="4.17" fill="#5b82a0"/>
<circle cx="405.6" cy="19.1" r="4.17" fill="#966a44"/>
<circle cx="322.3" cy="19.1" r="4.17" fill="#5b82a0"/>
<circle cx="370.4" cy="212.9" r="4.17" fill="#5b82a0"/>
<circle cx="352.8" cy="212.9" r="4.17" fill="#5b82a0"/>
<circle cx="381" cy="212.9" r="4.17" fill="#5b82a0"/>
<circle cx="379.2" cy="19.1" r="4.17" fill="#966a44"/>
<circle cx="393.3" cy="212.9" r="4.17" fill="#5b82a0"/>
<circle cx="356.4" cy="19.1" r="4.17" fill="#5b82a0"/>
<circle cx="349.3" cy="212.9" r="4.17" fill="#5b82a0"/>
<circle cx="410.9" cy="19.1" r="4.17" fill="#966a44"/>
<circle cx="374.8" cy="212.9" r="4.17" fill="#966a44"/>
<circle cx="377.5" cy="212.9" r="4.17" fill="#5b82a0"/>
<circle cx="363.4" cy="212.9" r="4.17" fill="#5b82a0"/>
<circle cx="405.6" cy="212.9" r="4.17" fill="#5b82a0"/>
<circle cx="421.5" cy="212.9" r="4.17" fill="#966a44"/>
<circle cx="416.2" cy="19.1" r="4.17" fill="#966a44"/>
<circle cx="352.8" cy="212.9" r="4.17" fill="#5b82a0"/>
<circle cx="330" cy="19.1" r="4.17" fill="#966a44"/>
<circle cx="344" cy="19.1" r="4.17" fill="#966a44"/>
<circle cx="351.1" cy="19.1" r="4.17" fill="#966a44"/>
<circle cx="372.2" cy="212.9" r="4.17" fill="#5b82a0"/>
<circle cx="365.2" cy="212.9" r="4.17" fill="#5b82a0"/>
<circle cx="365.2" cy="212.9" r="4.17" fill="#5b82a0"/>
<circle cx="352.8" cy="19.1" r="4.17" fill="#966a44"/>
<circle cx="335.2" cy="212.9" r="4.17" fill="#5b82a0"/>
<circle cx="322.9" cy="19.1" r="4.17" fill="#5b82a0"/>
<circle cx="402.1" cy="212.9" r="4.17" fill="#5b82a0"/>
<circle cx="349.3" cy="212.9" r="4.17" fill="#5b82a0"/>
<circle cx="365.2" cy="212.9" r="4.17" fill="#5b82a0"/>
<circle cx="389.8" cy="212.9" r="4.17" fill="#5b82a0"/>
<circle cx="407.4" cy="19.1" r="4.17" fill="#966a44"/>
<circle cx="375.7" cy="19.1" r="4.17" fill="#966a44"/>
<circle cx="374" cy="212.9" r="4.17" fill="#5b82a0"/>
<circle cx="374" cy="212.9" r="4.17" fill="#966a44"/>
<circle cx="381" cy="212.9" r="4.17" fill="#5b82a0"/>
<circle cx="375.7" cy="19.1" r="4.17" fill="#966a44"/>
<circle cx="321.9" cy="19.1" r="4.17" fill="#5b82a0"/>
<circle cx="368.7" cy="19.1" r="4.17" fill="#5b82a0"/>
<circle cx="375.7" cy="212.9" r="4.17" fill="#5b82a0"/>
<circle cx="389.8" cy="212.9" r="4.17" fill="#5b82a0"/>
<circle cx="352.8" cy="212.9" r="4.17" fill="#966a44"/>
<circle cx="389.8" cy="212.9" r="4.17" fill="#5b82a0"/>
<circle cx="379.2" cy="19.1" r="4.17" fill="#966a44"/>
<circle cx="366.9" cy="212.9" r="4.17" fill="#5b82a0"/>
<circle cx="389.8" cy="212.9" r="4.17" fill="#5b82a0"/>
<circle cx="382.8" cy="212.9" r="4.17" fill="#5b82a0"/>
<circle cx="331.7" cy="212.9" r="4.17" fill="#966a44"/>
<circle cx="374.8" cy="212.9" r="4.17" fill="#5b82a0"/>
<circle cx="361.6" cy="212.9" r="4.17" fill="#966a44"/>
<circle cx="375.7" cy="212.9" r="4.17" fill="#5b82a0"/>
<circle cx="396.8" cy="212.9" r="4.17" fill="#5b82a0"/>
<circle cx="338.8" cy="212.9" r="4.17" fill="#5b82a0"/>
<circle cx="368.7" cy="19.1" r="4.17" fill="#5b82a0"/>
<circle cx="388" cy="212.9" r="4.17" fill="#5b82a0"/>
<circle cx="368.7" cy="19.1" r="4.17" fill="#966a44"/>
<circle cx="324.7" cy="212.9" r="4.17" fill="#5b82a0"/>
<circle cx="322.9" cy="19.1" r="4.17" fill="#5b82a0"/>
<circle cx="430.3" cy="19.1" r="4.17" fill="#966a44"/>
<circle cx="347.6" cy="19.1" r="4.17" fill="#966a44"/>
<circle cx="322.6" cy="19.1" r="4.17" fill="#5b82a0"/>
<circle cx="361.6" cy="212.9" r="4.17" fill="#5b82a0"/>
<circle cx="352.8" cy="212.9" r="4.17" fill="#5b82a0"/>
<circle cx="389.8" cy="19.1" r="4.17" fill="#966a44"/>
<circle cx="358.1" cy="212.9" r="4.17" fill="#5b82a0"/>
<circle cx="377.5" cy="19.1" r="4.17" fill="#5b82a0"/>
<circle cx="356.4" cy="212.9" r="4.17" fill="#5b82a0"/>
<circle cx="349.3" cy="212.9" r="4.17" fill="#5b82a0"/>
<circle cx="374" cy="19.1" r="4.17" fill="#966a44"/>
<circle cx="381.9" cy="212.9" r="4.17" fill="#5b82a0"/>
<circle cx="351.1" cy="212.9" r="4.17" fill="#5b82a0"/>
<circle cx="395.1" cy="212.9" r="4.17" fill="#5b82a0"/>
<circle cx="382.8" cy="212.9" r="4.17" fill="#5b82a0"/>
<circle cx="370.4" cy="212.9" r="4.17" fill="#5b82a0"/>
<circle cx="328.2" cy="212.9" r="4.17" fill="#5b82a0"/>
<circle cx="451.4" cy="212.9" r="4.17" fill="#5b82a0"/>
<circle cx="337" cy="212.9" r="4.17" fill="#966a44"/>
<circle cx="349.3" cy="19.1" r="4.17" fill="#966a44"/>
<circle cx="398.6" cy="212.9" r="4.17" fill="#966a44"/>
<circle cx="352.8" cy="19.1" r="4.17" fill="#966a44"/>
<circle cx="410.9" cy="19.1" r="4.17" fill="#5b82a0"/>
<circle cx="363.4" cy="19.1" r="4.17" fill="#966a44"/>
<circle cx="393.3" cy="212.9" r="4.17" fill="#5b82a0"/>
<circle cx="358.1" cy="212.9" r="4.17" fill="#5b82a0"/>
<circle cx="405.6" cy="19.1" r="4.17" fill="#966a44"/>
<circle cx="363.4" cy="212.9" r="4.17" fill="#5b82a0"/>
<circle cx="395.1" cy="19.1" r="4.17" fill="#966a44"/>
<circle cx="368.7" cy="19.1" r="4.17" fill="#966a44"/>
<circle cx="375.7" cy="212.9" r="4.17" fill="#5b82a0"/>
<circle cx="328.2" cy="19.1" r="4.17" fill="#5b82a0"/>
<circle cx="366.9" cy="212.9" r="4.17" fill="#5b82a0"/>
<circle cx="403.9" cy="19.1" r="4.17" fill="#966a44"/>
<circle cx="379.2" cy="212.9" r="4.17" fill="#5b82a0"/>
<circle cx="403.9" cy="212.9" r="4.17" fill="#5b82a0"/>
<circle cx="370.4" cy="19.1" r="4.17" fill="#966a44"/>
<circle cx="347.6" cy="19.1" r="4.17" fill="#966a44"/>
<circle cx="356.4" cy="212.9" r="4.17" fill="#5b82a0"/>
<circle cx="354.6" cy="212.9" r="4.17" fill="#5b82a0"/>
<circle cx="419.7" cy="19.1" r="4.17" fill="#966a44"/>
<circle cx="365.2" cy="19.1" r="4.17" fill="#966a44"/>
<circle cx="379.2" cy="212.9" r="4.17" fill="#5b82a0"/>
<circle cx="359.9" cy="212.9" r="4.17" fill="#966a44"/>
<circle cx="370.4" cy="212.9" r="4.17" fill="#5b82a0"/>
<circle cx="365.2" cy="212.9" r="4.17" fill="#5b82a0"/>
<circle cx="389.8" cy="212.9" r="4.17" fill="#966a44"/>
<circle cx="368.7" cy="212.9" r="4.17" fill="#5b82a0"/>
<circle cx="354.6" cy="19.1" r="4.17" fill="#966a44"/>
<circle cx="366.9" cy="19.1" r="4.17" fill="#5b82a0"/>
<circle cx="377.5" cy="212.9" r="4.17" fill="#5b82a0"/>
</g>
</g>
<g clip-path="url(#c02)">
<rect x="525" y="9" width="196" height="214" fill="#262730"/>
<path d="M533.5 9V223M631.5 9V223M525 213.5H721M525 174.5H721M525 135.5H721M525 97.5H721M525 58.5H721M525 19.5H721" stroke="#1e1e20" stroke-width="1" fill="none"/>
<g stroke="#1c1c1e" stroke-width="0.67">
<circle cx="547.1" cy="212.9" r="4.17" fill="#5b82a0"/>
<circle cx="673.5" cy="19.1" r="4.17" fill="#966a44"/>
<circle cx="548.4" cy="19.1" r="4.17" fill="#966a44"/>
<circle cx="637.6" cy="19.1" r="4.17" fill="#966a44"/>
<circle cx="548.7" cy="212.9" r="4.17" fill="#5b82a0"/>
<circle cx="549.5" cy="212.9" r="4.17" fill="#5b82a0"/>
<circle cx="635.1" cy="212.9" r="4.17" fill="#5b82a0"/>
<circle cx="574.4" cy="212.9" r="4.17" fill="#5b82a0"/>
<circle cx="554.8" cy="19.1" r="4.17" fill="#966a44"/>
<circle cx="592.1" cy="19.1" r="4.17" fill="#966a44"/>
<circle cx="565.7" cy="19.1" r="4.17" fill="#966a44"/>
<circle cx="585.2" cy="19.1" r="4.17" fill="#966a44"/>
<circle cx="548.7" cy="212.9" r="4.17" fill="#5b82a0"/>
<circle cx="594.5" cy="212.9" r="4.17" fill="#5b82a0"/>
<circle cx="548.3" cy="212.9" r="4.17" fill="#966a44"/>
<circle cx="564.4" cy="19.1" r="4.17" fill="#966a44"/>
<circle cx="590.3" cy="212.9" r="4.17" fill="#5b82a0"/>
<circle cx="558.4" cy="19.1" r="4.17" fill="#5b82a0"/>
<circle cx="568.3" cy="212.9" r="4.17" fill="#966a44"/>
<circle cx="547" cy="19.1" r="4.17" fill="#966a44"/>
<circle cx="584.1" cy="212.9" r="4.17" fill="#5b82a0"/>
<circle cx="558.4" cy="19.1" r="4.17" fill="#5b82a0"/>
<circle cx="548.6" cy="19.1" r="4.17" fill="#966a44"/>
<circle cx="602.8" cy="19.1" r="4.17" fill="#5b82a0"/>
<circle cx="574.4" cy="212.9" r="4.17" fill="#966a44"/>
<circle cx="594.7" cy="19.1" r="4.17" fill="#966a44"/>
<circle cx="547" cy="212.9" r="4.17" fill="#5b82a0"/>
<circle cx="548.3" cy="19.1" r="4.17" fill="#966a44"/>
<circle cx="548.4" cy="212.9" r="4.17" fill="#5b82a0"/>
<circle cx="587.5" cy="212.9" r="4.17" fill="#5b82a0"/>
<circle cx="548.1" cy="19.1" r="4.17" fill="#966a44"/>
<circle cx="553.5" cy="212.9" r="4.17" fill="#5b82a0"/>
<circle cx="694.9" cy="212.9" r="4.17" fill="#5b82a0"/>
<circle cx="635.4" cy="212.9" r="4.17" fill="#5b82a0"/>
<circle cx="547.1" cy="19.1" r="4.17" fill="#5b82a0"/>
<circle cx="548.7" cy="212.9" r="4.17" fill="#5b82a0"/>
<circle cx="568.3" cy="212.9" r="4.17" fill="#966a44"/>
<circle cx="555" cy="19.1" r="4.17" fill="#966a44"/>
<circle cx="551.5" cy="212.9" r="4.17" fill="#966a44"/>
<circle cx="574.2" cy="212.9" r="4.17" fill="#966a44"/>
<circle cx="548.4" cy="212.9" r="4.17" fill="#5b82a0"/>
<circle cx="614.8" cy="19.1" r="4.17" fill="#966a44"/>
<circle cx="548.3" cy="19.1" r="4.17" fill="#966a44"/>
<circle cx="548.7" cy="212.9" r="4.17" fill="#5b82a0"/>
<circle cx="563.4" cy="212.9" r="4.17" fill="#5b82a0"/>
<circle cx="548.1" cy="19.1" r="4.17" fill="#966a44"/>
<circle cx="575.6" cy="212.9" r="4.17" fill="#5b82a0"/>
<circle cx="567.9" cy="212.9" r="4.17" fill="#966a44"/>
<circle cx="611.1" cy="212.9" r="4.17" fill="#5b82a0"/>
<circle cx="548.2" cy="212.9" r="4.17" fill="#5b82a0"/>
<circle cx="684.2" cy="19.1" r="4.17" fill="#966a44"/>
<circle cx="584.1" cy="19.1" r="4.17" fill="#966a44"/>
<circle cx="655.1" cy="212.9" r="4.17" fill="#5b82a0"/>
<circle cx="602.8" cy="19.1" r="4.17" fill="#5b82a0"/>
<circle cx="553.5" cy="19.1" r="4.17" fill="#966a44"/>
<circle cx="547.1" cy="212.9" r="4.17" fill="#5b82a0"/>
<circle cx="587.5" cy="19.1" r="4.17" fill="#966a44"/>
<circle cx="625.3" cy="212.9" r="4.17" fill="#5b82a0"/>
<circle cx="547.1" cy="212.9" r="4.17" fill="#5b82a0"/>
<circle cx="690.7" cy="19.1" r="4.17" fill="#966a44"/>
<circle cx="697.5" cy="212.9" r="4.17" fill="#5b82a0"/>
<circle cx="587.8" cy="212.9" r="4.17" fill="#5b82a0"/>
<circle cx="587.5" cy="212.9" r="4.17" fill="#5b82a0"/>
<circle cx="562.9" cy="19.1" r="4.17" fill="#5b82a0"/>
<circle cx="553.5" cy="19.1" r="4.17" fill="#966a44"/>
<circle cx="548.9" cy="212.9" r="4.17" fill="#5b82a0"/>
<circle cx="548.4" cy="19.1" r="4.17" fill="#966a44"/>
<circle cx="549.9" cy="212.9" r="4.17" fill="#5b82a0"/>
<circle cx="553.5" cy="212.9" r="4.17" fill="#5b82a0"/>
<circle cx="625.3" cy="212.9" r="4.17" fill="#966a44"/>
<circle cx="677.8" cy="212.9" r="4.17" fill="#5b82a0"/>
<circle cx="561.3" cy="212.9" r="4.17" fill="#5b82a0"/>
<circle cx="644.3" cy="19.1" r="4.17" fill="#5b82a0"/>
<circle cx="547.9" cy="212.9" r="4.17" fill="#5b82a0"/>
<circle cx="548.4" cy="212.9" r="4.17" fill="#5b82a0"/>
<circle cx="548.7" cy="212.9" r="4.17" fill="#5b82a0"/>
<circle cx="590" cy="19.1" r="4.17" fill="#5b82a0"/>
<circle cx="557.4" cy="19.1" r="4.17" fill="#966a44"/>
<circle cx="550.5" cy="212.9" r="4.17" fill="#5b82a0"/>
<circle cx="551.5" cy="19.1" r="4.17" fill="#5b82a0"/>
<circle cx="548.2" cy="19.1" r="4.17" fill="#966a44"/>
<circle cx="625.7" cy="212.9" r="4.17" fill="#5b82a0"/>
<circle cx="553.5" cy="19.1" r="4.17" fill="#966a44"/>
<circle cx="564.1" cy="19.1" r="4.17" fill="#966a44"/>
<circle cx="600.6" cy="212.9" r="4.17" fill="#5b82a0"/>
<circle cx="548.7" cy="212.9" r="4.17" fill="#5b82a0"/>
<circle cx="548.7" cy="212.9" r="4.17" fill="#5b82a0"/>
<circle cx="548.7" cy="212.9" r="4.17" fill="#5b82a0"/>
<circle cx="548.3" cy="212.9" r="4.17" fill="#5b82a0"/>
<circle cx="653.5" cy="212.9" r="4.17" fill="#5b82a0"/>
<circle cx="573.4" cy="212.9" r="4.17" fill="#5b82a0"/>
<circle cx="547.1" cy="212.9" r="4.17" fill="#5b82a0"/>
<circle cx="548.7" cy="212.9" r="4.17" fill="#5b82a0"/>
<circle cx="601.2" cy="212.9" r="4.17" fill="#5b82a0"/>
<circle cx="657.8" cy="19.1" r="4.17" fill="#5b82a0"/>
<circle cx="578.2" cy="19.1" r="4.17" fill="#966a44"/>
<circle cx="584.1" cy="212.9" r="4.17" fill="#5b82a0"/>
<circle cx="548.4" cy="212.9" r="4.17" fill="#966a44"/>
<circle cx="548.4" cy="212.9" r="4.17" fill="#5b82a0"/>
<circle cx="685.3" cy="212.9" r="4.17" fill="#5b82a0"/>
<circle cx="549.9" cy="212.9" r="4.17" fill="#5b82a0"/>
<circle cx="548.4" cy="212.9" r="4.17" fill="#5b82a0"/>
<circle cx="548.4" cy="212.9" r="4.17" fill="#5b82a0"/>
<circle cx="547.9" cy="19.1" r="4.17" fill="#966a44"/>
<circle cx="548.1" cy="19.1" r="4.17" fill="#5b82a0"/>
<circle cx="548.4" cy="212.9" r="4.17" fill="#5b82a0"/>
<circle cx="580.4" cy="19.1" r="4.17" fill="#966a44"/>
<circle cx="635.4" cy="212.9" r="4.17" fill="#5b82a0"/>
<circle cx="561.3" cy="212.9" r="4.17" fill="#966a44"/>
<circle cx="548.7" cy="212.9" r="4.17" fill="#5b82a0"/>
<circle cx="552.2" cy="212.9" r="4.17" fill="#966a44"/>
<circle cx="561.3" cy="212.9" r="4.17" fill="#966a44"/>
<circle cx="548.4" cy="212.9" r="4.17" fill="#5b82a0"/>
<circle cx="548.1" cy="212.9" r="4.17" fill="#5b82a0"/>
<circle cx="574.2" cy="212.9" r="4.17" fill="#5b82a0"/>
<circle cx="594.5" cy="212.9" r="4.17" fill="#966a44"/>
<circle cx="677.8" cy="212.9" r="4.17" fill="#5b82a0"/>
<circle cx="548.7" cy="212.9" r="4.17" fill="#5b82a0"/>
<circle cx="592.1" cy="212.9" r="4.17" fill="#5b82a0"/>
<circle cx="558.4" cy="19.1" r="4.17" fill="#966a44"/>
<circle cx="685.3" cy="212.9" r="4.17" fill="#5b82a0"/>
<circle cx="555" cy="19.1" r="4.17" fill="#5b82a0"/>
<circle cx="548.1" cy="212.9" r="4.17" fill="#5b82a0"/>
<circle cx="546.9" cy="19.1" r="4.17" fill="#5b82a0"/>
<circle cx="576.9" cy="19.1" r="4.17" fill="#966a44"/>
<circle cx="546.6" cy="212.9" r="4.17" fill="#5b82a0"/>
<circle cx="548.4" cy="212.9" r="4.17" fill="#5b82a0"/>
<circle cx="546.7" cy="212.9" r="4.17" fill="#5b82a0"/>
<circle cx="561.4" cy="212.9" r="4.17" fill="#966a44"/>
<circle cx="584.1" cy="19.1" r="4.17" fill="#966a44"/>
<circle cx="558.4" cy="212.9" r="4.17" fill="#5b82a0"/>
<circle cx="562.5" cy="212.9" r="4.17" fill="#5b82a0"/>
<circle cx="584.7" cy="19.1" r="4.17" fill="#966a44"/>
<circle cx="637.6" cy="212.9" r="4.17" fill="#5b82a0"/>
<circle cx="551" cy="212.9" r="4.17" fill="#5b82a0"/>
<circle cx="689.1" cy="212.9" r="4.17" fill="#5b82a0"/>
<circle cx="562.9" cy="212.9" r="4.17" fill="#966a44"/>
<circle cx="548.1" cy="19.1" r="4.17" fill="#966a44"/>
<circle cx="564.1" cy="19.1" r="4.17" fill="#966a44"/>
<circle cx="546.1" cy="212.9" r="4.17" fill="#5b82a0"/>
<circle cx="555.5" cy="212.9" r="4.17" fill="#5b82a0"/>
<circle cx="605.3" cy="212.9" r="4.17" fill="#5b82a0"/>
<circle cx="548.2" cy="19.1" r="4.17" fill="#5b82a0"/>
<circle cx="600.6" cy="212.9" r="4.17" fill="#966a44"/>
<circle cx="584.1" cy="212.9" r="4.17" fill="#5b82a0"/>
<circle cx="558.4" cy="212.9" r="4.17" fill="#5b82a0"/>
<circle cx="557.5" cy="212.9" r="4.17" fill="#5b82a0"/>
<circle cx="664.2" cy="19.1" r="4.17" fill="#966a44"/>
<circle cx="548.7" cy="212.9" r="4.17" fill="#5b82a0"/>
<circle cx="561.4" cy="212.9" r="4.17" fill="#5b82a0"/>
<circle cx="547.2" cy="212.9" r="4.17" fill="#5b82a0"/>
<circle cx="653.9" cy="212.9" r="4.17" fill="#5b82a0"/>
<circle cx="548" cy="19.1" r="4.17" fill="#966a44"/>
<circle cx="548.7" cy="212.9" r="4.17" fill="#5b82a0"/>
<circle cx="549.9" cy="212.9" r="4.17" fill="#5b82a0"/>
<circle cx="670" cy="212.9" r="4.17" fill="#5b82a0"/>
<circle cx="564.6" cy="212.9" r="4.17" fill="#5b82a0"/>
<circle cx="563.9" cy="19.1" r="4.17" fill="#966a44"/>
<circle cx="548.1" cy="212.9" r="4.17" fill="#5b82a0"/>
<circle cx="549.9" cy="212.9" r="4.17" fill="#5b82a0"/>
<circle cx="611.1" cy="212.9" r="4.17" fill="#5b82a0"/>
<circle cx="573.3" cy="19.1" r="4.17" fill="#5b82a0"/>
<circle cx="641.3" cy="19.1" r="4.17" fill="#966a44"/>
<circle cx="587.8" cy="212.9" r="4.17" fill="#966a44"/>
<circle cx="583.9" cy="212.9" r="4.17" fill="#5b82a0"/>
<circle cx="644.3" cy="212.9" r="4.17" fill="#5b82a0"/>
<circle cx="598.9" cy="212.9" r="4.17" fill="#5b82a0"/>
<circle cx="590.3" cy="212.9" r="4.17" fill="#5b82a0"/>
<circle cx="554.8" cy="19.1" r="4.17" fill="#966a44"/>
<circle cx="548.4" cy="212.9" r="4.17" fill="#5b82a0"/>
<circle cx="593.4" cy="212.9" r="4.17" fill="#5b82a0"/>
<circle cx="548.3" cy="212.9" r="4.17" fill="#5b82a0"/>
<circle cx="583" cy="212.9" r="4.17" fill="#5b82a0"/>
<circle cx="589.4" cy="212.9" r="4.17" fill="#966a44"/>
<circle cx="558.4" cy="212.9" r="4.17" fill="#5b82a0"/>
<circle cx="532.8" cy="212.9" r="4.17" fill="#5b82a0"/>
<circle cx="670" cy="212.9" r="4.17" fill="#966a44"/>
<circle cx="562.5" cy="212.9" r="4.17" fill="#5b82a0"/>
<circle cx="594.7" cy="212.9" r="4.17" fill="#5b82a0"/>
<circle cx="609.7" cy="19.1" r="4.17" fill="#5b82a0"/>
<circle cx="576.2" cy="19.1" r="4.17" fill="#966a44"/>
<circle cx="631.5" cy="212.9" r="4.17" fill="#5b82a0"/>
<circle cx="563.4" cy="19.1" r="4.17" fill="#966a44"/>
<circle cx="585.2" cy="19.1" r="4.17" fill="#5b82a0"/>
<circle cx="563.4" cy="212.9" r="4.17" fill="#5b82a0"/>
<circle cx="548.4" cy="212.9" r="4.17" fill="#5b82a0"/>
<circle cx="558.4" cy="19.1" r="4.17" fill="#966a44"/>
<circle cx="558.4" cy="212.9" r="4.17" fill="#5b82a0"/>
<circle cx="548.3" cy="19.1" r="4.17" fill="#966a44"/>
<circle cx="584.1" cy="19.1" r="4.17" fill="#5b82a0"/>
<circle cx="587.5" cy="19.1" r="4.17" fill="#966a44"/>
<circle cx="548.1" cy="212.9" r="4.17" fill="#5b82a0"/>
<circle cx="549.4" cy="212.9" r="4.17" fill="#5b82a0"/>
<circle cx="548.1" cy="19.1" r="4.17" fill="#966a44"/>
<circle cx="558.4" cy="212.9" r="4.17" fill="#966a44"/>
<circle cx="551.5" cy="212.9" r="4.17" fill="#5b82a0"/>
<circle cx="670" cy="212.9" r="4.17" fill="#5b82a0"/>
<circle cx="545.6" cy="212.9" r="4.17" fill="#5b82a0"/>
<circle cx="547" cy="212.9" r="4.17" fill="#5b82a0"/>
<circle cx="548.7" cy="19.1" r="4.17" fill="#5b82a0"/>
<circle cx="553.4" cy="212.9" r="4.17" fill="#966a44"/>
<circle cx="564.1" cy="212.9" r="4.17" fill="#5b82a0"/>
<circle cx="569.9" cy="19.1" r="4.17" fill="#5b82a0"/>
<circle cx="548.1" cy="19.1" r="4.17" fill="#966a44"/>
<circle cx="594" cy="19.1" r="4.17" fill="#5b82a0"/>
<circle cx="546.7" cy="212.9" r="4.17" fill="#5b82a0"/>
<circle cx="574.2" cy="19.1" r="4.17" fill="#966a44"/>
<circle cx="547.1" cy="212.9" r="4.17" fill="#5b82a0"/>
<circle cx="558.4" cy="212.9" r="4.17" fill="#5b82a0"/>
<circle cx="548.1" cy="212.9" r="4.17" fill="#5b82a0"/>
<circle cx="548.4" cy="19.1" r="4.17" fill="#966a44"/>
<circle cx="586.1" cy="212.9" r="4.17" fill="#5b82a0"/>
<circle cx="683.3" cy="19.1" r="4.17" fill="#966a44"/>
<circle cx="553.5" cy="212.9" r="4.17" fill="#5b82a0"/>
<circle cx="548.7" cy="19.1" r="4.17" fill="#5b82a0"/>
<circle cx="558.4" cy="212.9" r="4.17" fill="#5b82a0"/>
<circle cx="548.7" cy="212.9" r="4.17" fill="#5b82a0"/>
<circle cx="548.4" cy="212.9" r="4.17" fill="#5b82a0"/>
<circle cx="710.4" cy="19.1" r="4.17" fill="#5b82a0"/>
<circle cx="551.2" cy="212.9" r="4.17" fill="#5b82a0"/>
<circle cx="553.5" cy="19.1" r="4.17" fill="#5b82a0"/>
<circle cx="547.1" cy="212.9" r="4.17" fill="#5b82a0"/>
<circle cx="558.4" cy="212.9" r="4.17" fill="#5b82a0"/>
<circle cx="583" cy="212.9" r="4.17" fill="#966a44"/>
<circle cx="697.5" cy="19.1" r="4.17" fill="#966a44"/>
<circle cx="548.1" cy="212.9" r="4.17" fill="#5b82a0"/>
<circle cx="559.4" cy="212.9" r="4.17" fill="#5b82a0"/>
<circle cx="594.7" cy="19.1" r="4.17" fill="#966a44"/>
<circle cx="553.5" cy="212.9" r="4.17" fill="#5b82a0"/>
<circle cx="547.7" cy="212.9" r="4.17" fill="#966a44"/>
<circle cx="584.1" cy="212.9" r="4.17" fill="#5b82a0"/>
<circle cx="584.6" cy="19.1" r="4.17" fill="#966a44"/>
<circle cx="553.5" cy="212.9" r="4.17" fill="#5b82a0"/>
<circle cx="557" cy="212.9" r="4.17" fill="#5b82a0"/>
<circle cx="561.3" cy="212.9" r="4.17" fill="#966a44"/>
<circle cx="563.4" cy="19.1" r="4.17" fill="#966a44"/>
<circle cx="553.5" cy="212.9" r="4.17" fill="#5b82a0"/>
<circle cx="546.8" cy="212.9" r="4.17" fill="#5b82a0"/>
<circle cx="547" cy="212.9" r="4.17" fill="#5b82a0"/>
<circle cx="710.4" cy="212.9" r="4.17" fill="#5b82a0"/>
<circle cx="548.1" cy="212.9" r="4.17" fill="#966a44"/>
<circle cx="561.4" cy="19.1" r="4.17" fill="#966a44"/>
<circle cx="636.5" cy="19.1" r="4.17" fill="#5b82a0"/>
<circle cx="584.1" cy="212.9" r="4.17" fill="#5b82a0"/>
<circle cx="547.1" cy="212.9" r="4.17" fill="#5b82a0"/>
<circle cx="553.4" cy="212.9" r="4.17" fill="#966a44"/>
<circle cx="585.2" cy="212.9" r="4.17" fill="#5b82a0"/>
<circle cx="564.6" cy="212.9" r="4.17" fill="#5b82a0"/>
<circle cx="572.7" cy="212.9" r="4.17" fill="#966a44"/>
<circle cx="562.9" cy="19.1" r="4.17" fill="#966a44"/>
<circle cx="689.1" cy="19.1" r="4.17" fill="#966a44"/>
<circle cx="703.5" cy="19.1" r="4.17" fill="#966a44"/>
<circle cx="584.1" cy="19.1" r="4.17" fill="#966a44"/>
<circle cx="548.1" cy="212.9" r="4.17" fill="#5b82a0"/>
<circle cx="594.7" cy="19.1" r="4.17" fill="#5b82a0"/>
<circle cx="690" cy="212.9" r="4.17" fill="#5b82a0"/>
<circle cx="532.8" cy="212.9" r="4.17" fill="#5b82a0"/>
<circle cx="548.1" cy="212.9" r="4.17" fill="#966a44"/>
<circle cx="553.5" cy="212.9" r="4.17" fill="#5b82a0"/>
<circle cx="611.1" cy="212.9" r="4.17" fill="#5b82a0"/>
<circle cx="548.1" cy="19.1" r="4.17" fill="#5b82a0"/>
<circle cx="594" cy="212.9" r="4.17" fill="#5b82a0"/>
<circle cx="532.8" cy="19.1" r="4.17" fill="#5b82a0"/>
<circle cx="571.3" cy="19.1" r="4.17" fill="#966a44"/>
<circle cx="591.4" cy="212.9" r="4.17" fill="#5b82a0"/>
<circle cx="548.1" cy="19.1" r="4.17" fill="#966a44"/>
<circle cx="686.6" cy="19.1" r="4.17" fill="#966a44"/>
<circle cx="548.1" cy="212.9" r="4.17" fill="#966a44"/>
<circle cx="532.8" cy="212.9" r="4.17" fill="#5b82a0"/>
<circle cx="590.3" cy="212.9" r="4.17" fill="#5b82a0"/>
<circle cx="572.7" cy="19.1" r="4.17" fill="#966a44"/>
<circle cx="548.1" cy="212.9" r="4.17" fill="#5b82a0"/>
<circle cx="548.3" cy="212.9" r="4.17" fill="#5b82a0"/>
<circle cx="551.5" cy="212.9" r="4.17" fill="#5b82a0"/>
<circle cx="548.7" cy="19.1" r="4.17" fill="#5b82a0"/>
<circle cx="584.1" cy="212.9" r="4.17" fill="#5b82a0"/>
<circle cx="549.9" cy="212.9" r="4.17" fill="#5b82a0"/>
<circle cx="551.5" cy="19.1" r="4.17" fill="#5b82a0"/>
<circle cx="548.4" cy="212.9" r="4.17" fill="#5b82a0"/>
<circle cx="558.4" cy="19.1" r="4.17" fill="#5b82a0"/>
<circle cx="548.1" cy="19.1" r="4.17" fill="#966a44"/>
<circle cx="688.4" cy="19.1" r="4.17" fill="#966a44"/>
<circle cx="712.5" cy="19.1" r="4.17" fill="#966a44"/>
<circle cx="558.2" cy="212.9" r="4.17" fill="#5b82a0"/>
<circle cx="550.3" cy="212.9" r="4.17" fill="#966a44"/>
<circle cx="548.4" cy="212.9" r="4.17" fill="#5b82a0"/>
<circle cx="587.5" cy="212.9" r="4.17" fill="#5b82a0"/>
<circle cx="547.1" cy="212.9" r="4.17" fill="#5b82a0"/>
<circle cx="593" cy="19.1" r="4.17" fill="#5b82a0"/>
<circle cx="548.1" cy="19.1" r="4.17" fill="#966a44"/>
<circle cx="578.7" cy="19.1" r="4.17" fill="#5b82a0"/>
<circle cx="532.8" cy="212.9" r="4.17" fill="#5b82a0"/>
<circle cx="557.2" cy="19.1" r="4.17" fill="#966a44"/>
<circle cx="548.7" cy="212.9" r="4.17" fill="#5b82a0"/>
<circle cx="580.1" cy="212.9" r="4.17" fill="#5b82a0"/>
<circle cx="645.1" cy="19.1" r="4.17" fill="#966a44"/>
<circle cx="696.9" cy="19.1" r="4.17" fill="#966a44"/>
<circle cx="584.1" cy="212.9" r="4.17" fill="#966a44"/>
<circle cx="548.4" cy="212.9" r="4.17" fill="#5b82a0"/>
<circle cx="584.6" cy="212.9" r="4.17" fill="#5b82a0"/>
<circle cx="548.3" cy="19.1" r="4.17" fill="#966a44"/>
<circle cx="584.1" cy="19.1" r="4.17" fill="#966a44"/>
<circle cx="560.4" cy="212.9" r="4.17" fill="#5b82a0"/>
<circle cx="547.1" cy="212.9" r="4.17" fill="#5b82a0"/>
<circle cx="548.4" cy="212.9" r="4.17" fill="#5b82a0"/>
<circle cx="557.2" cy="19.1" r="4.17" fill="#966a44"/>
<circle cx="590" cy="19.1" r="4.17" fill="#966a44"/>
<circle cx="670" cy="212.9" r="4.17" fill="#5b82a0"/>
<circle cx="545.1" cy="212.9" r="4.17" fill="#5b82a0"/>
<circle cx="558.4" cy="19.1" r="4.17" fill="#966a44"/>
<circle cx="573.3" cy="19.1" r="4.17" fill="#966a44"/>
<circle cx="647.2" cy="19.1" r="4.17" fill="#966a44"/>
<circle cx="578.7" cy="19.1" r="4.17" fill="#966a44"/>
<circle cx="589" cy="212.9" r="4.17" fill="#5b82a0"/>
<circle cx="568.3" cy="212.9" r="4.17" fill="#5b82a0"/>
<circle cx="548.4" cy="212.9" r="4.17" fill="#5b82a0"/>
<circle cx="664.2" cy="212.9" r="4.17" fill="#5b82a0"/>
<circle cx="548.7" cy="19.1" r="4.17" fill="#5b82a0"/>
<circle cx="602.8" cy="212.9" r="4.17" fill="#5b82a0"/>
<circle cx="584.1" cy="19.1" r="4.17" fill="#5b82a0"/>
<circle cx="558.4" cy="212.9" r="4.17" fill="#5b82a0"/>
<circle cx="558.4" cy="212.9" r="4.17" fill="#5b82a0"/>
<circle cx="558.4" cy="212.9" r="4.17" fill="#5b82a0"/>
<circle cx="558.4" cy="19.1" r="4.17" fill="#966a44"/>
<circle cx="558.4" cy="19.1" r="4.17" fill="#966a44"/>
<circle cx="564.6" cy="19.1" r="4.17" fill="#966a44"/>
<circle cx="564.2" cy="19.1" r="4.17" fill="#5b82a0"/>
<circle cx="549.9" cy="212.9" r="4.17" fill="#5b82a0"/>
<circle cx="551" cy="212.9" r="4.17" fill="#5b82a0"/>
<circle cx="601.9" cy="212.9" r="4.17" fill="#5b82a0"/>
<circle cx="547.1" cy="212.9" r="4.17" fill="#5b82a0"/>
<circle cx="567.9" cy="212.9" r="4.17" fill="#5b82a0"/>
<circle cx="547" cy="212.9" r="4.17" fill="#5b82a0"/>
<circle cx="551.5" cy="212.9" r="4.17" fill="#5b82a0"/>
<circle cx="641.3" cy="19.1" r="4.17" fill="#966a44"/>
<circle cx="558.4" cy="212.9" r="4.17" fill="#966a44"/>
<circle cx="548.3" cy="19.1" r="4.17" fill="#966a44"/>
<circle cx="548.3" cy="19.1" r="4.17" fill="#966a44"/>
<circle cx="587.8" cy="212.9" r="4.17" fill="#5b82a0"/>
<circle cx="587.5" cy="212.9" r="4.17" fill="#5b82a0"/>
<circle cx="561.3" cy="212.9" r="4.17" fill="#966a44"/>
<circle cx="546.7" cy="212.9" r="4.17" fill="#5b82a0"/>
<circle cx="563.4" cy="212.9" r="4.17" fill="#5b82a0"/>
<circle cx="547.1" cy="212.9" r="4.17" fill="#5b82a0"/>
<circle cx="681.3" cy="19.1" r="4.17" fill="#966a44"/>
<circle cx="547.1" cy="19.1" r="4.17" fill="#966a44"/>
<circle cx="548.1" cy="19.1" r="4.17" fill="#966a44"/>
<circle cx="669.5" cy="19.1" r="4.17" fill="#966a44"/>
<circle cx="642.2" cy="19.1" r="4.17" fill="#5b82a0"/>
<circle cx="545.6" cy="212.9" r="4.17" fill="#5b82a0"/>
<circle cx="548.7" cy="212.9" r="4.17" fill="#5b82a0"/>
<circle cx="574.4" cy="212.9" r="4.17" fill="#966a44"/>
<circle cx="694.9" cy="19.1" r="4.17" fill="#966a44"/>
<circle cx="547.1" cy="19.1" r="4.17" fill="#966a44"/>
<circle cx="540.7" cy="212.9" r="4.17" fill="#5b82a0"/>
<circle cx="548.1" cy="212.9" r="4.17" fill="#5b82a0"/>
<circle cx="563.8" cy="19.1" r="4.17" fill="#966a44"/>
<circle cx="548.4" cy="212.9" r="4.17" fill="#5b82a0"/>
<circle cx="635.4" cy="19.1" r="4.17" fill="#966a44"/>
<circle cx="548.4" cy="212.9" r="4.17" fill="#5b82a0"/>
<circle cx="677.8" cy="212.9" r="4.17" fill="#5b82a0"/>
<circle cx="625.3" cy="212.9" r="4.17" fill="#5b82a0"/>
<circle cx="558.4" cy="19.1" r="4.17" fill="#966a44"/>
<circle cx="548" cy="212.9" r="4.17" fill="#5b82a0"/>
<circle cx="556.5" cy="19.1" r="4.17" fill="#966a44"/>
<circle cx="548.2" cy="19.1" r="4.17" fill="#5b82a0"/>
<circle cx="548.4" cy="212.9" r="4.17" fill="#5b82a0"/>
<circle cx="565.7" cy="19.1" r="4.17" fill="#966a44"/>
<circle cx="548.2" cy="212.9" r="4.17" fill="#5b82a0"/>
<circle cx="548.3" cy="212.9" r="4.17" fill="#966a44"/>
<circle cx="584.1" cy="212.9" r="4.17" fill="#5b82a0"/>
<circle cx="553.5" cy="212.9" r="4.17" fill="#5b82a0"/>
<circle cx="557.7" cy="19.1" r="4.17" fill="#966a44"/>
<circle cx="548.4" cy="19.1" r="4.17" fill="#5b82a0"/>
<circle cx="548.7" cy="212.9" r="4.17" fill="#5b82a0"/>
<circle cx="552.2" cy="212.9" r="4.17" fill="#966a44"/>
<circle cx="564.1" cy="212.9" r="4.17" fill="#5b82a0"/>
<circle cx="549.9" cy="212.9" r="4.17" fill="#966a44"/>
<circle cx="574.2" cy="212.9" r="4.17" fill="#5b82a0"/>
<circle cx="548.1" cy="212.9" r="4.17" fill="#5b82a0"/>
<circle cx="569.8" cy="19.1" r="4.17" fill="#5b82a0"/>
<circle cx="548.1" cy="212.9" r="4.17" fill="#5b82a0"/>
<circle cx="583" cy="212.9" r="4.17" fill="#966a44"/>
<circle cx="548.4" cy="212.9" r="4.17" fill="#5b82a0"/>
<circle cx="546.3" cy="212.9" r="4.17" fill="#5b82a0"/>
<circle cx="710.4" cy="19.1" r="4.17" fill="#966a44"/>
<circle cx="532.8" cy="212.9" r="4.17" fill="#5b82a0"/>
<circle cx="548.4" cy="19.1" r="4.17" fill="#5b82a0"/>
<circle cx="548.7" cy="212.9" r="4.17" fill="#966a44"/>
<circle cx="596.9" cy="19.1" r="4.17" fill="#966a44"/>
<circle cx="558.4" cy="19.1" r="4.17" fill="#966a44"/>
<circle cx="558.4" cy="212.9" r="4.17" fill="#5b82a0"/>
<circle cx="580.4" cy="212.9" r="4.17" fill="#966a44"/>
<circle cx="548.4" cy="212.9" r="4.17" fill="#5b82a0"/>
<circle cx="548" cy="212.9" r="4.17" fill="#5b82a0"/>
<circle cx="548.3" cy="212.9" r="4.17" fill="#5b82a0"/>
<circle cx="561.2" cy="212.9" r="4.17" fill="#966a44"/>
<circle cx="572.7" cy="212.9" r="4.17" fill="#5b82a0"/>
<circle cx="547.1" cy="212.9" r="4.17" fill="#5b82a0"/>
<circle cx="584.1" cy="19.1" r="4.17" fill="#966a44"/>
<circle cx="584.1" cy="19.1" r="4.17" fill="#966a44"/>
<circle cx="548.1" cy="212.9" r="4.17" fill="#5b82a0"/>
<circle cx="548.7" cy="19.1" r="4.17" fill="#5b82a0"/>
<circle cx="585.2" cy="19.1" r="4.17" fill="#5b82a0"/>
<circle cx="564.6" cy="19.1" r="4.17" fill="#966a44"/>
<circle cx="584.1" cy="19.1" r="4.17" fill="#966a44"/>
<circle cx="546.8" cy="212.9" r="4.17" fill="#5b82a0"/>
<circle cx="643.1" cy="212.9" r="4.17" fill="#5b82a0"/>
<circle cx="600.6" cy="212.9" r="4.17" fill="#966a44"/>
<circle cx="569.8" cy="19.1" r="4.17" fill="#966a44"/>
<circle cx="553.5" cy="212.9" r="4.17" fill="#5b82a0"/>
<circle cx="584.6" cy="19.1" r="4.17" fill="#966a44"/>
<circle cx="551.5" cy="212.9" r="4.17" fill="#5b82a0"/>
<circle cx="548.1" cy="212.9" r="4.17" fill="#5b82a0"/>
<circle cx="558.4" cy="19.1" r="4.17" fill="#966a44"/>
<circle cx="548.8" cy="19.1" r="4.17" fill="#5b82a0"/>
<circle cx="694.3" cy="19.1" r="4.17" fill="#5b82a0"/>
<circle cx="571.3" cy="19.1" r="4.17" fill="#966a44"/>
<circle cx="585.2" cy="19.1" r="4.17" fill="#5b82a0"/>
<circle cx="570.8" cy="19.1" r="4.17" fill="#966a44"/>
<circle cx="593" cy="19.1" r="4.17" fill="#5b82a0"/>
<circle cx="587.5" cy="212.9" r="4.17" fill="#5b82a0"/>
<circle cx="572.2" cy="212.9" r="4.17" fill="#5b82a0"/>
<circle cx="587.5" cy="212.9" r="4.17" fill="#5b82a0"/>
<circle cx="708.6" cy="19.1" r="4.17" fill="#5b82a0"/>
<circle cx="548.7" cy="212.9" r="4.17" fill="#5b82a0"/>
<circle cx="548.4" cy="19.1" r="4.17" fill="#5b82a0"/>
<circle cx="585.2" cy="212.9" r="4.17" fill="#5b82a0"/>
<circle cx="635.1" cy="19.1" r="4.17" fill="#966a44"/>
<circle cx="553.5" cy="19.1" r="4.17" fill="#966a44"/>
<circle cx="548.1" cy="212.9" r="4.17" fill="#5b82a0"/>
<circle cx="585.2" cy="19.1" r="4.17" fill="#5b82a0"/>
<circle cx="548.7" cy="212.9" r="4.17" fill="#5b82a0"/>
<circle cx="608.8" cy="212.9" r="4.17" fill="#5b82a0"/>
<circle cx="558.4" cy="212.9" r="4.17" fill="#5b82a0"/>
<circle cx="548.7" cy="212.9" r="4.17" fill="#5b82a0"/>
<circle cx="546.7" cy="212.9" r="4.17" fill="#5b82a0"/>
<circle cx="532.8" cy="212.9" r="4.17" fill="#5b82a0"/>
<circle cx="585.2" cy="212.9" r="4.17" fill="#5b82a0"/>
<circle cx="548" cy="212.9" r="4.17" fill="#5b82a0"/>
<circle cx="570.8" cy="19.1" r="4.17" fill="#966a44"/>
<circle cx="547.1" cy="212.9" r="4.17" fill="#5b82a0"/>
<circle cx="549.9" cy="212.9" r="4.17" fill="#5b82a0"/>
<circle cx="587.5" cy="19.1" r="4.17" fill="#966a44"/>
<circle cx="560" cy="19.1" r="4.17" fill="#966a44"/>
<circle cx="552.2" cy="212.9" r="4.17" fill="#966a44"/>
<circle cx="635.4" cy="212.9" r="4.17" fill="#5b82a0"/>
<circle cx="574.2" cy="212.9" r="4.17" fill="#5b82a0"/>
<circle cx="546.7" cy="212.9" r="4.17" fill="#5b82a0"/>
<circle cx="547.6" cy="212.9" r="4.17" fill="#5b82a0"/>
<circle cx="557" cy="19.1" r="4.17" fill="#966a44"/>
<circle cx="625.3" cy="212.9" r="4.17" fill="#5b82a0"/>
<circle cx="532.8" cy="212.9" r="4.17" fill="#5b82a0"/>
<circle cx="548.7" cy="212.9" r="4.17" fill="#5b82a0"/>
<circle cx="551.7" cy="19.1" r="4.17" fill="#966a44"/>
<circle cx="712.5" cy="19.1" r="4.17" fill="#5b82a0"/>
<circle cx="583" cy="212.9" r="4.17" fill="#966a44"/>
<circle cx="710.4" cy="19.1" r="4.17" fill="#966a44"/>
<circle cx="591.4" cy="212.9" r="4.17" fill="#5b82a0"/>
<circle cx="548.7" cy="212.9" r="4.17" fill="#5b82a0"/>
<circle cx="564.2" cy="19.1" r="4.17" fill="#5b82a0"/>
<circle cx="572.2" cy="212.9" r="4.17" fill="#5b82a0"/>
<circle cx="547.1" cy="212.9" r="4.17" fill="#5b82a0"/>
<circle cx="593" cy="212.9" r="4.17" fill="#5b82a0"/>
<circle cx="630.5" cy="212.9" r="4.17" fill="#5b82a0"/>
<circle cx="548.7" cy="212.9" r="4.17" fill="#5b82a0"/>
<circle cx="561.3" cy="212.9" r="4.17" fill="#5b82a0"/>
<circle cx="687.2" cy="19.1" r="4.17" fill="#966a44"/>
<circle cx="562.6" cy="212.9" r="4.17" fill="#5b82a0"/>
<circle cx="548.2" cy="212.9" r="4.17" fill="#5b82a0"/>
<circle cx="549.9" cy="212.9" r="4.17" fill="#5b82a0"/>
<circle cx="548.1" cy="212.9" r="4.17" fill="#966a44"/>
<circle cx="547.8" cy="212.9" r="4.17" fill="#966a44"/>
<circle cx="551.7" cy="212.9" r="4.17" fill="#966a44"/>
<circle cx="703.5" cy="19.1" r="4.17" fill="#966a44"/>
<circle cx="584.1" cy="19.1" r="4.17" fill="#966a44"/>
<circle cx="585.2" cy="19.1" r="4.17" fill="#5b82a0"/>
<circle cx="577.2" cy="212.9" r="4.17" fill="#5b82a0"/>
<circle cx="644.3" cy="19.1" r="4.17" fill="#5b82a0"/>
<circle cx="548.1" cy="19.1" r="4.17" fill="#5b82a0"/>
<circle cx="548.7" cy="212.9" r="4.17" fill="#5b82a0"/>
<circle cx="584.7" cy="19.1" r="4.17" fill="#5b82a0"/>
<circle cx="650" cy="19.1" r="4.17" fill="#966a44"/>
<circle cx="547.6" cy="212.9" r="4.17" fill="#5b82a0"/>
<circle cx="599.9" cy="212.9" r="4.17" fill="#5b82a0"/>
<circle cx="553.5" cy="19.1" r="4.17" fill="#966a44"/>
<circle cx="580.4" cy="212.9" r="4.17" fill="#5b82a0"/>
<circle cx="584.1" cy="19.1" r="4.17" fill="#966a44"/>
<circle cx="548.4" cy="212.9" r="4.17" fill="#5b82a0"/>
<circle cx="548.4" cy="212.9" r="4.17" fill="#5b82a0"/>
<circle cx="547" cy="212.9" r="4.17" fill="#5b82a0"/>
<circle cx="647.2" cy="19.1" r="4.17" fill="#966a44"/>
<circle cx="547.1" cy="212.9" r="4.17" fill="#5b82a0"/>
<circle cx="548.1" cy="212.9" r="4.17" fill="#5b82a0"/>
<circle cx="553.5" cy="19.1" r="4.17" fill="#966a44"/>
<circle cx="548.4" cy="212.9" r="4.17" fill="#5b82a0"/>
<circle cx="555.5" cy="212.9" r="4.17" fill="#5b82a0"/>
<circle cx="584.1" cy="19.1" r="4.17" fill="#966a44"/>
<circle cx="547.1" cy="212.9" r="4.17" fill="#5b82a0"/>
<circle cx="547.1" cy="212.9" r="4.17" fill="#5b82a0"/>
<circle cx="576.9" cy="19.1" r="4.17" fill="#966a44"/>
<circle cx="549.9" cy="212.9" r="4.17" fill="#966a44"/>
<circle cx="584.6" cy="19.1" r="4.17" fill="#966a44"/>
<circle cx="585.2" cy="212.9" r="4.17" fill="#5b82a0"/>
<circle cx="561.4" cy="212.9" r="4.17" fill="#5b82a0"/>
<circle cx="630.5" cy="19.1" r="4.17" fill="#966a44"/>
<circle cx="672.9" cy="19.1" r="4.17" fill="#966a44"/>
<circle cx="594.5" cy="212.9" r="4.17" fill="#966a44"/>
<circle cx="594.5" cy="212.9" r="4.17" fill="#966a44"/>
<circle cx="584.1" cy="19.1" r="4.17" fill="#5b82a0"/>
<circle cx="584.1" cy="212.9" r="4.17" fill="#5b82a0"/>
<circle cx="584.1" cy="19.1" r="4.17" fill="#966a44"/>
<circle cx="560.1" cy="19.1" r="4.17" fill="#5b82a0"/>
<circle cx="573.3" cy="212.9" r="4.17" fill="#5b82a0"/>
<circle cx="605.3" cy="19.1" r="4.17" fill="#5b82a0"/>
<circle cx="584.1" cy="212.9" r="4.17" fill="#5b82a0"/>
<circle cx="548.2" cy="212.9" r="4.17" fill="#5b82a0"/>
<circle cx="547" cy="19.1" r="4.17" fill="#5b82a0"/>
<circle cx="548.1" cy="19.1" r="4.17" fill="#966a44"/>
<circle cx="585.2" cy="212.9" r="4.17" fill="#5b82a0"/>
<circle cx="610.9" cy="19.1" r="4.17" fill="#966a44"/>
<circle cx="690" cy="19.1" r="4.17" fill="#966a44"/>
<circle cx="567.1" cy="19.1" r="4.17" fill="#966a44"/>
<circle cx="548.1" cy="212.9" r="4.17" fill="#5b82a0"/>
<circle cx="548.4" cy="212.9" r="4.17" fill="#5b82a0"/>
<circle cx="559.4" cy="212.9" r="4.17" fill="#5b82a0"/>
<circle cx="548.7" cy="212.9" r="4.17" fill="#5b82a0"/>
<circle cx="548.7" cy="212.9" r="4.17" fill="#966a44"/>
<circle cx="580.4" cy="212.9" r="4.17" fill="#5b82a0"/>
<circle cx="548.4" cy="212.9" r="4.17" fill="#5b82a0"/>
<circle cx="574.4" cy="212.9" r="4.17" fill="#966a44"/>
<circle cx="547.1" cy="212.9" r="4.17" fill="#5b82a0"/>
<circle cx="548.3" cy="19.1" r="4.17" fill="#5b82a0"/>
<circle cx="553.5" cy="19.1" r="4.17" fill="#5b82a0"/>
<circle cx="634.4" cy="19.1" r="4.17" fill="#966a44"/>
<circle cx="584.9" cy="19.1" r="4.17" fill="#5b82a0"/>
<circle cx="548.1" cy="19.1" r="4.17" fill="#966a44"/>
<circle cx="548.7" cy="212.9" r="4.17" fill="#5b82a0"/>
<circle cx="561.4" cy="212.9" r="4.17" fill="#5b82a0"/>
<circle cx="558.4" cy="19.1" r="4.17" fill="#966a44"/>
<circle cx="643.1" cy="19.1" r="4.17" fill="#966a44"/>
<circle cx="561.3" cy="212.9" r="4.17" fill="#966a44"/>
<circle cx="548.4" cy="19.1" r="4.17" fill="#5b82a0"/>
<circle cx="592" cy="19.1" r="4.17" fill="#966a44"/>
<circle cx="584.1" cy="212.9" r="4.17" fill="#5b82a0"/>
<circle cx="612" cy="212.9" r="4.17" fill="#5b82a0"/>
<circle cx="550" cy="212.9" r="4.17" fill="#5b82a0"/>
<circle cx="690" cy="19.1" r="4.17" fill="#966a44"/>
<circle cx="562.4" cy="212.9" r="4.17" fill="#5b82a0"/>
<circle cx="689.1" cy="19.1" r="4.17" fill="#5b82a0"/>
<circle cx="548.7" cy="212.9" r="4.17" fill="#5b82a0"/>
<circle cx="548.7" cy="212.9" r="4.17" fill="#5b82a0"/>
<circle cx="546.8" cy="212.9" r="4.17" fill="#5b82a0"/>
<circle cx="687.2" cy="19.1" r="4.17" fill="#966a44"/>
<circle cx="547.1" cy="212.9" r="4.17" fill="#5b82a0"/>
<circle cx="548.1" cy="212.9" r="4.17" fill="#966a44"/>
<circle cx="584.1" cy="212.9" r="4.17" fill="#5b82a0"/>
<circle cx="580.4" cy="212.9" r="4.17" fill="#5b82a0"/>
<circle cx="597.9" cy="19.1" r="4.17" fill="#966a44"/>
<circle cx="532.8" cy="212.9" r="4.17" fill="#5b82a0"/>
<circle cx="547" cy="212.9" r="4.17" fill="#5b82a0"/>
<circle cx="645.1" cy="19.1" r="4.17" fill="#5b82a0"/>
<circle cx="586.1" cy="19.1" r="4.17" fill="#966a44"/>
<circle cx="548.4" cy="212.9" r="4.17" fill="#5b82a0"/>
<circle cx="616.5" cy="212.9" r="4.17" fill="#5b82a0"/>
<circle cx="548.7" cy="212.9" r="4.17" fill="#5b82a0"/>
<circle cx="585.2" cy="19.1" r="4.17" fill="#5b82a0"/>
<circle cx="563.5" cy="212.9" r="4.17" fill="#5b82a0"/>
<circle cx="548.4" cy="212.9" r="4.17" fill="#5b82a0"/>
<circle cx="593" cy="19.1" r="4.17" fill="#5b82a0"/>
<circle cx="614.8" cy="19.1" r="4.17" fill="#966a44"/>
<circle cx="594.5" cy="212.9" r="4.17" fill="#966a44"/>
<circle cx="546.7" cy="212.9" r="4.17" fill="#5b82a0"/>
<circle cx="563.4" cy="19.1" r="4.17" fill="#966a44"/>
<circle cx="548.1" cy="212.9" r="4.17" fill="#5b82a0"/>
<circle cx="548.7" cy="212.9" r="4.17" fill="#5b82a0"/>
<circle cx="661.1" cy="19.1" r="4.17" fill="#966a44"/>
<circle cx="561.2" cy="212.9" r="4.17" fill="#5b82a0"/>
<circle cx="564.6" cy="212.9" r="4.17" fill="#966a44"/>
<circle cx="609.7" cy="19.1" r="4.17" fill="#966a44"/>
<circle cx="553.5" cy="212.9" r="4.17" fill="#5b82a0"/>
<circle cx="561.3" cy="212.9" r="4.17" fill="#5b82a0"/>
<circle cx="636.5" cy="19.1" r="4.17" fill="#5b82a0"/>
<circle cx="563.8" cy="19.1" r="4.17" fill="#5b82a0"/>
<circle cx="548.3" cy="212.9" r="4.17" fill="#5b82a0"/>
<circle cx="564.6" cy="212.9" r="4.17" fill="#5b82a0"/>
<circle cx="596.6" cy="212.9" r="4.17" fill="#5b82a0"/>
<circle cx="557.2" cy="212.9" r="4.17" fill="#5b82a0"/>
<circle cx="686.6" cy="19.1" r="4.17" fill="#966a44"/>
<circle cx="548.4" cy="212.9" r="4.17" fill="#5b82a0"/>
<circle cx="548" cy="212.9" r="4.17" fill="#5b82a0"/>
<circle cx="592" cy="19.1" r="4.17" fill="#5b82a0"/>
<circle cx="546.7" cy="212.9" r="4.17" fill="#5b82a0"/>
<circle cx="593" cy="19.1" r="4.17" fill="#5b82a0"/>
<circle cx="532.8" cy="212.9" r="4.17" fill="#5b82a0"/>
<circle cx="587.8" cy="212.9" r="4.17" fill="#966a44"/>
<circle cx="558.4" cy="19.1" r="4.17" fill="#966a44"/>
<circle cx="548.4" cy="212.9" r="4.17" fill="#5b82a0"/>
<circle cx="584.6" cy="212.9" r="4.17" fill="#5b82a0"/>
<circle cx="611.1" cy="212.9" r="4.17" fill="#966a44"/>
<circle cx="564.6" cy="212.9" r="4.17" fill="#5b82a0"/>
<circle cx="548.3" cy="212.9" r="4.17" fill="#5b82a0"/>
<circle cx="669.5" cy="19.1" r="4.17" fill="#966a44"/>
<circle cx="587.8" cy="212.9" r="4.17" fill="#966a44"/>
<circle cx="644.3" cy="19.1" r="4.17" fill="#5b82a0"/>
<circle cx="570.8" cy="19.1" r="4.17" fill="#966a44"/>
<circle cx="684.2" cy="19.1" r="4.17" fill="#5b82a0"/>
<circle cx="548.4" cy="212.9" r="4.17" fill="#5b82a0"/>
<circle cx="602.8" cy="19.1" r="4.17" fill="#5b82a0"/>
<circle cx="547.7" cy="212.9" r="4.17" fill="#5b82a0"/>
<circle cx="547.7" cy="19.1" r="4.17" fill="#966a44"/>
<circle cx="548.4" cy="212.9" r="4.17" fill="#5b82a0"/>
<circle cx="578.2" cy="19.1" r="4.17" fill="#966a44"/>
<circle cx="549.4" cy="212.9" r="4.17" fill="#5b82a0"/>
<circle cx="548.2" cy="19.1" r="4.17" fill="#966a44"/>
<circle cx="546.1" cy="212.9" r="4.17" fill="#966a44"/>
<circle cx="677.8" cy="212.9" r="4.17" fill="#5b82a0"/>
<circle cx="548.4" cy="212.9" r="4.17" fill="#5b82a0"/>
<circle cx="563.4" cy="212.9" r="4.17" fill="#966a44"/>
<circle cx="558.4" cy="212.9" r="4.17" fill="#5b82a0"/>
<circle cx="547" cy="212.9" r="4.17" fill="#5b82a0"/>
<circle cx="583.3" cy="212.9" r="4.17" fill="#5b82a0"/>
<circle cx="547.6" cy="212.9" r="4.17" fill="#5b82a0"/>
<circle cx="548.4" cy="19.1" r="4.17" fill="#5b82a0"/>
<circle cx="677.8" cy="212.9" r="4.17" fill="#5b82a0"/>
<circle cx="558.4" cy="212.9" r="4.17" fill="#5b82a0"/>
<circle cx="548.1" cy="212.9" r="4.17" fill="#5b82a0"/>
<circle cx="548.7" cy="212.9" r="4.17" fill="#5b82a0"/>
<circle cx="635.4" cy="19.1" r="4.17" fill="#966a44"/>
<circle cx="609.7" cy="19.1" r="4.17" fill="#966a44"/>
<circle cx="635.4" cy="212.9" r="4.17" fill="#5b82a0"/>
<circle cx="553.5" cy="212.9" r="4.17" fill="#5b82a0"/>
<circle cx="558.4" cy="19.1" r="4.17" fill="#5b82a0"/>
<circle cx="532.8" cy="212.9" r="4.17" fill="#5b82a0"/>
<circle cx="548.1" cy="212.9" r="4.17" fill="#5b82a0"/>
<circle cx="548.7" cy="212.9" r="4.17" fill="#5b82a0"/>
<circle cx="552.2" cy="19.1" r="4.17" fill="#966a44"/>
<circle cx="625.3" cy="212.9" r="4.17" fill="#966a44"/>
<circle cx="548.8" cy="212.9" r="4.17" fill="#966a44"/>
<circle cx="684.2" cy="19.1" r="4.17" fill="#5b82a0"/>
<circle cx="551" cy="212.9" r="4.17" fill="#5b82a0"/>
<circle cx="625.3" cy="212.9" r="4.17" fill="#5b82a0"/>
<circle cx="609.7" cy="212.9" r="4.17" fill="#5b82a0"/>
<circle cx="614.8" cy="212.9" r="4.17" fill="#5b82a0"/>
<circle cx="611.1" cy="212.9" r="4.17" fill="#5b82a0"/>
<circle cx="552.9" cy="212.9" r="4.17" fill="#5b82a0"/>
<circle cx="548.2" cy="212.9" r="4.17" fill="#5b82a0"/>
<circle cx="645.3" cy="19.1" r="4.17" fill="#5b82a0"/>
<circle cx="559.3" cy="19.1" r="4.17" fill="#966a44"/>
<circle cx="644.3" cy="19.1" r="4.17" fill="#5b82a0"/>
<circle cx="547" cy="212.9" r="4.17" fill="#5b82a0"/>
<circle cx="585.2" cy="212.9" r="4.17" fill="#5b82a0"/>
<circle cx="559.4" cy="212.9" r="4.17" fill="#5b82a0"/>
<circle cx="548.7" cy="212.9" r="4.17" fill="#5b82a0"/>
<circle cx="548" cy="19.1" r="4.17" fill="#966a44"/>
<circle cx="547.9" cy="212.9" r="4.17" fill="#5b82a0"/>
<circle cx="584.7" cy="19.1" r="4.17" fill="#5b82a0"/>
<circle cx="561.3" cy="212.9" r="4.17" fill="#966a44"/>
<circle cx="548.1" cy="212.9" r="4.17" fill="#5b82a0"/>
<circle cx="548.3" cy="212.9" r="4.17" fill="#5b82a0"/>
<circle cx="584.1" cy="212.9" r="4.17" fill="#5b82a0"/>
<circle cx="559.4" cy="19.1" r="4.17" fill="#966a44"/>
<circle cx="584.7" cy="19.1" r="4.17" fill="#5b82a0"/>
<circle cx="562.9" cy="19.1" r="4.17" fill="#5b82a0"/>
<circle cx="630.5" cy="19.1" r="4.17" fill="#966a44"/>
<circle cx="585.2" cy="212.9" r="4.17" fill="#5b82a0"/>
<circle cx="635.4" cy="19.1" r="4.17" fill="#5b82a0"/>
<circle cx="551.5" cy="212.9" r="4.17" fill="#5b82a0"/>
<circle cx="558.4" cy="212.9" r="4.17" fill="#5b82a0"/>
<circle cx="547.9" cy="212.9" r="4.17" fill="#5b82a0"/>
<circle cx="553.5" cy="19.1" r="4.17" fill="#966a44"/>
<circle cx="563.4" cy="212.9" r="4.17" fill="#5b82a0"/>
<circle cx="548.1" cy="212.9" r="4.17" fill="#5b82a0"/>
<circle cx="597.9" cy="19.1" r="4.17" fill="#966a44"/>
<circle cx="546.7" cy="212.9" r="4.17" fill="#5b82a0"/>
<circle cx="558.4" cy="212.9" r="4.17" fill="#5b82a0"/>
<circle cx="558.4" cy="212.9" r="4.17" fill="#5b82a0"/>
<circle cx="637.6" cy="19.1" r="4.17" fill="#5b82a0"/>
<circle cx="549.9" cy="212.9" r="4.17" fill="#5b82a0"/>
<circle cx="574.2" cy="19.1" r="4.17" fill="#966a44"/>
<circle cx="548.1" cy="19.1" r="4.17" fill="#966a44"/>
<circle cx="584.1" cy="212.9" r="4.17" fill="#5b82a0"/>
<circle cx="548.4" cy="212.9" r="4.17" fill="#966a44"/>
<circle cx="569.9" cy="212.9" r="4.17" fill="#5b82a0"/>
<circle cx="532.8" cy="212.9" r="4.17" fill="#5b82a0"/>
<circle cx="558.4" cy="212.9" r="4.17" fill="#5b82a0"/>
<circle cx="558.4" cy="212.9" r="4.17" fill="#5b82a0"/>
<circle cx="564.6" cy="212.9" r="4.17" fill="#5b82a0"/>
<circle cx="600.6" cy="212.9" r="4.17" fill="#966a44"/>
<circle cx="548.4" cy="212.9" r="4.17" fill="#5b82a0"/>
<circle cx="548.4" cy="212.9" r="4.17" fill="#5b82a0"/>
<circle cx="592" cy="19.1" r="4.17" fill="#5b82a0"/>
<circle cx="688.4" cy="212.9" r="4.17" fill="#5b82a0"/>
<circle cx="564.6" cy="212.9" r="4.17" fill="#5b82a0"/>
<circle cx="548.4" cy="19.1" r="4.17" fill="#5b82a0"/>
<circle cx="672.9" cy="212.9" r="4.17" fill="#5b82a0"/>
<circle cx="572.7" cy="212.9" r="4.17" fill="#5b82a0"/>
<circle cx="558.4" cy="19.1" r="4.17" fill="#966a44"/>
<circle cx="637.6" cy="212.9" r="4.17" fill="#5b82a0"/>
<circle cx="548.1" cy="212.9" r="4.17" fill="#5b82a0"/>
<circle cx="578.2" cy="19.1" r="4.17" fill="#966a44"/>
<circle cx="557.4" cy="19.1" r="4.17" fill="#5b82a0"/>
<circle cx="551.5" cy="212.9" r="4.17" fill="#5b82a0"/>
<circle cx="548.4" cy="212.9" r="4.17" fill="#5b82a0"/>
<circle cx="661.1" cy="19.1" r="4.17" fill="#966a44"/>
<circle cx="561.4" cy="19.1" r="4.17" fill="#5b82a0"/>
<circle cx="548.2" cy="212.9" r="4.17" fill="#5b82a0"/>
<circle cx="555.5" cy="212.9" r="4.17" fill="#5b82a0"/>
<circle cx="548.7" cy="212.9" r="4.17" fill="#5b82a0"/>
<circle cx="703.5" cy="19.1" r="4.17" fill="#966a44"/>
<circle cx="561.4" cy="212.9" r="4.17" fill="#5b82a0"/>
<circle cx="546.8" cy="212.9" r="4.17" fill="#5b82a0"/>
<circle cx="547.1" cy="19.1" r="4.17" fill="#5b82a0"/>
<circle cx="548.1" cy="212.9" r="4.17" fill="#5b82a0"/>
<circle cx="686.6" cy="19.1" r="4.17" fill="#966a44"/>
<circle cx="610.9" cy="212.9" r="4.17" fill="#5b82a0"/>
<circle cx="548.1" cy="212.9" r="4.17" fill="#966a44"/>
<circle cx="580.4" cy="212.9" r="4.17" fill="#5b82a0"/>
<circle cx="549.3" cy="212.9" r="4.17" fill="#5b82a0"/>
<circle cx="551.5" cy="212.9" r="4.17" fill="#5b82a0"/>
<circle cx="548.3" cy="212.9" r="4.17" fill="#5b82a0"/>
<circle cx="553.5" cy="212.9" r="4.17" fill="#966a44"/>
<circle cx="547" cy="212.9" r="4.17" fill="#5b82a0"/>
<circle cx="578.2" cy="19.1" r="4.17" fill="#966a44"/>
<circle cx="548.1" cy="212.9" r="4.17" fill="#5b82a0"/>
<circle cx="548.1" cy="212.9" r="4.17" fill="#5b82a0"/>
<circle cx="557.4" cy="19.1" r="4.17" fill="#966a44"/>
<circle cx="548.1" cy="212.9" r="4.17" fill="#5b82a0"/>
<circle cx="547.1" cy="19.1" r="4.17" fill="#966a44"/>
<circle cx="645.3" cy="19.1" r="4.17" fill="#966a44"/>
<circle cx="592" cy="212.9" r="4.17" fill="#5b82a0"/>
<circle cx="579.1" cy="212.9" r="4.17" fill="#5b82a0"/>
<circle cx="546.7" cy="212.9" r="4.17" fill="#5b82a0"/>
<circle cx="547.1" cy="212.9" r="4.17" fill="#5b82a0"/>
<circle cx="547.6" cy="19.1" r="4.17" fill="#966a44"/>
<circle cx="590.3" cy="212.9" r="4.17" fill="#5b82a0"/>
<circle cx="573.4" cy="19.1" r="4.17" fill="#5b82a0"/>
<circle cx="689.1" cy="212.9" r="4.17" fill="#5b82a0"/>
<circle cx="548.1" cy="212.9" r="4.17" fill="#5b82a0"/>
<circle cx="584.1" cy="212.9" r="4.17" fill="#5b82a0"/>
<circle cx="670" cy="212.9" r="4.17" fill="#966a44"/>
<circle cx="593.4" cy="212.9" r="4.17" fill="#5b82a0"/>
<circle cx="548.4" cy="212.9" r="4.17" fill="#5b82a0"/>
<circle cx="558.4" cy="212.9" r="4.17" fill="#5b82a0"/>
<circle cx="584" cy="19.1" r="4.17" fill="#966a44"/>
<circle cx="549.9" cy="19.1" r="4.17" fill="#966a44"/>
<circle cx="547.1" cy="212.9" r="4.17" fill="#5b82a0"/>
<circle cx="580.4" cy="212.9" r="4.17" fill="#966a44"/>
<circle cx="558.4" cy="212.9" r="4.17" fill="#5b82a0"/>
<circle cx="584.6" cy="19.1" r="4.17" fill="#966a44"/>
<circle cx="549.6" cy="19.1" r="4.17" fill="#5b82a0"/>
<circle cx="546.6" cy="19.1" r="4.17" fill="#5b82a0"/>
<circle cx="548.1" cy="212.9" r="4.17" fill="#5b82a0"/>
<circle cx="532.8" cy="212.9" r="4.17" fill="#5b82a0"/>
<circle cx="548.1" cy="212.9" r="4.17" fill="#966a44"/>
<circle cx="558.4" cy="212.9" r="4.17" fill="#5b82a0"/>
<circle cx="637.6" cy="19.1" r="4.17" fill="#966a44"/>
<circle cx="548.4" cy="212.9" r="4.17" fill="#5b82a0"/>
<circle cx="580.4" cy="212.9" r="4.17" fill="#5b82a0"/>
<circle cx="553.5" cy="212.9" r="4.17" fill="#5b82a0"/>
<circle cx="594.5" cy="212.9" r="4.17" fill="#966a44"/>
<circle cx="548.7" cy="212.9" r="4.17" fill="#5b82a0"/>
<circle cx="532.8" cy="212.9" r="4.17" fill="#5b82a0"/>
<circle cx="548.4" cy="212.9" r="4.17" fill="#966a44"/>
<circle cx="605.8" cy="212.9" r="4.17" fill="#5b82a0"/>
<circle cx="545.5" cy="212.9" r="4.17" fill="#5b82a0"/>
<circle cx="587.8" cy="212.9" r="4.17" fill="#5b82a0"/>
<circle cx="549.9" cy="19.1" r="4.17" fill="#5b82a0"/>
<circle cx="532.8" cy="212.9" r="4.17" fill="#5b82a0"/>
<circle cx="557.4" cy="19.1" r="4.17" fill="#966a44"/>
<circle cx="611.1" cy="212.9" r="4.17" fill="#5b82a0"/>
<circle cx="546.5" cy="212.9" r="4.17" fill="#5b82a0"/>
<circle cx="644.3" cy="212.9" r="4.17" fill="#5b82a0"/>
<circle cx="605.8" cy="19.1" r="4.17" fill="#5b82a0"/>
<circle cx="548.1" cy="19.1" r="4.17" fill="#5b82a0"/>
<circle cx="690.7" cy="19.1" r="4.17" fill="#966a44"/>
<circle cx="561.3" cy="19.1" r="4.17" fill="#966a44"/>
<circle cx="569.8" cy="19.1" r="4.17" fill="#5b82a0"/>
<circle cx="547.1" cy="212.9" r="4.17" fill="#5b82a0"/>
<circle cx="548.3" cy="212.9" r="4.17" fill="#5b82a0"/>
<circle cx="549.2" cy="212.9" r="4.17" fill="#5b82a0"/>
<circle cx="696.9" cy="19.1" r="4.17" fill="#966a44"/>
<circle cx="549.9" cy="212.9" r="4.17" fill="#5b82a0"/>
<circle cx="548.7" cy="212.9" r="4.17" fill="#5b82a0"/>
<circle cx="644.3" cy="19.1" r="4.17" fill="#5b82a0"/>
<circle cx="591.4" cy="19.1" r="4.17" fill="#5b82a0"/>
<circle cx="548.4" cy="212.9" r="4.17" fill="#5b82a0"/>
<circle cx="553.5" cy="212.9" r="4.17" fill="#5b82a0"/>
<circle cx="594" cy="19.1" r="4.17" fill="#966a44"/>
<circle cx="545.5" cy="212.9" r="4.17" fill="#5b82a0"/>
<circle cx="549.9" cy="212.9" r="4.17" fill="#5b82a0"/>
<circle cx="547.7" cy="212.9" r="4.17" fill="#5b82a0"/>
<circle cx="670" cy="212.9" r="4.17" fill="#5b82a0"/>
<circle cx="548.4" cy="212.9" r="4.17" fill="#5b82a0"/>
<circle cx="597.9" cy="212.9" r="4.17" fill="#5b82a0"/>
<circle cx="708.6" cy="19.1" r="4.17" fill="#966a44"/>
<circle cx="594.5" cy="212.9" r="4.17" fill="#5b82a0"/>
<circle cx="548.1" cy="212.9" r="4.17" fill="#5b82a0"/>
<circle cx="562.9" cy="212.9" r="4.17" fill="#966a44"/>
<circle cx="610.5" cy="19.1" r="4.17" fill="#966a44"/>
<circle cx="584.1" cy="212.9" r="4.17" fill="#966a44"/>
<circle cx="551.2" cy="19.1" r="4.17" fill="#966a44"/>
<circle cx="585.2" cy="19.1" r="4.17" fill="#5b82a0"/>
<circle cx="570.8" cy="19.1" r="4.17" fill="#966a44"/>
<circle cx="547.1" cy="212.9" r="4.17" fill="#5b82a0"/>
<circle cx="560.6" cy="212.9" r="4.17" fill="#5b82a0"/>
<circle cx="555.5" cy="212.9" r="4.17" fill="#5b82a0"/>
<circle cx="584" cy="19.1" r="4.17" fill="#966a44"/>
<circle cx="670" cy="212.9" r="4.17" fill="#966a44"/>
<circle cx="558.4" cy="212.9" r="4.17" fill="#5b82a0"/>
<circle cx="558.4" cy="19.1" r="4.17" fill="#966a44"/>
<circle cx="560.1" cy="19.1" r="4.17" fill="#966a44"/>
<circle cx="632.4" cy="212.9" r="4.17" fill="#5b82a0"/>
<circle cx="551.5" cy="212.9" r="4.17" fill="#5b82a0"/>
<circle cx="554.8" cy="19.1" r="4.17" fill="#5b82a0"/>
<circle cx="548.4" cy="212.9" r="4.17" fill="#5b82a0"/>
<circle cx="636.5" cy="19.1" r="4.17" fill="#966a44"/>
<circle cx="542.7" cy="212.9" r="4.17" fill="#5b82a0"/>
<circle cx="550.5" cy="212.9" r="4.17" fill="#5b82a0"/>
<circle cx="580.1" cy="19.1" r="4.17" fill="#966a44"/>
<circle cx="547" cy="19.1" r="4.17" fill="#966a44"/>
<circle cx="552.2" cy="212.9" r="4.17" fill="#5b82a0"/>
<circle cx="548.4" cy="212.9" r="4.17" fill="#5b82a0"/>
<circle cx="548.4" cy="212.9" r="4.17" fill="#5b82a0"/>
<circle cx="696.9" cy="19.1" r="4.17" fill="#966a44"/>
<circle cx="584.1" cy="19.1" r="4.17" fill="#966a44"/>
<circle cx="548.4" cy="212.9" r="4.17" fill="#5b82a0"/>
<circle cx="553.5" cy="212.9" r="4.17" fill="#966a44"/>
<circle cx="553.5" cy="212.9" r="4.17" fill="#5b82a0"/>
<circle cx="546.7" cy="212.9" r="4.17" fill="#5b82a0"/>
<circle cx="590.3" cy="212.9" r="4.17" fill="#966a44"/>
<circle cx="558.4" cy="212.9" r="4.17" fill="#5b82a0"/>
<circle cx="592" cy="19.1" r="4.17" fill="#966a44"/>
<circle cx="579.1" cy="212.9" r="4.17" fill="#966a44"/>
<circle cx="592" cy="19.1" r="4.17" fill="#5b82a0"/>
<circle cx="548.1" cy="212.9" r="4.17" fill="#5b82a0"/>
</g>
</g>
<g clip-path="url(#c10)">
<rect x="62" y="241" width="196" height="214" fill="#262730"/>
<path d="M112.5 241V455M207.5 241V455M62 423.5H258M62 385.5H258M62 348.5H258M62 310.5H258M62 272.5H258" stroke="#1e1e20" stroke-width="1" fill="none"/>
<path d="M208 437.9L208.9 438L209.8 438L210.7 437.9L211.6 437.9L211.8 437.9L212.5 437.8L213.4 437.7L214.3 437.6L215.1 437.5L216 437.3L216.9 437.1L217.8 436.9L218 436.8L218.7 436.6L219.6 436.3L220.5 436L220.9 435.8L221.4 435.6L222.3 435.1L223.1 434.7L223.2 434.7L224.1 434.1L224.8 433.6L224.9 433.5L225.8 432.9L226.2 432.6L226.7 432.1L227.4 431.5L227.6 431.3L228.4 430.5L228.5 430.3L229.3 429.4L229.4 429.2L230 428.3L230.3 427.8L230.6 427.3L231.1 426.2L231.2 425.9L231.5 425.1L231.8 424.1L232.1 423L232.1 423L232.3 422L232.4 420.9L232.4 419.8L232.4 418.8L232.4 417.7L232.3 416.6L232.1 415.6L232.1 415.4L231.9 414.5L231.7 413.5L231.4 412.4L231.2 411.6L231.1 411.3L230.8 410.3L230.5 409.2L230.3 408.7L230.1 408.2L229.8 407.1L229.5 406L229.4 405.5L229.3 405L229.1 403.9L229 402.8L229 401.8L229 400.7L229.1 399.7L229.4 398.6L229.4 398.4L229.7 397.5L230 396.5L230.3 395.8L230.5 395.4L230.9 394.4L231.2 393.8L231.4 393.3L231.9 392.2L232.1 391.8L232.4 391.2L232.9 390.1L233 389.9L233.3 389L233.8 388L233.9 387.8L234.2 386.9L234.6 385.9L234.8 385.4L235 384.8L235.3 383.7L235.6 382.7L235.6 382.7L235.9 381.6L236.2 380.6L236.4 379.5L236.5 378.9L236.6 378.4L236.8 377.4L237 376.3L237.1 375.2L237.2 374.2L237.2 373.1L237.2 372.1L237.2 371L237.2 369.9L237.2 368.9L237.1 367.8L237 366.8L236.9 365.7L236.7 364.6L236.5 363.6L236.5 363.5L236.4 362.5L236.2 361.4L235.9 360.4L235.7 359.3L235.6 359.2L235.4 358.3L235.2 357.2L234.9 356.1L234.8 355.7L234.6 355.1L234.3 354L234 353L233.9 352.3L233.7 351.9L233.5 350.8L233.2 349.8L233 348.8L233 348.7L232.7 347.6L232.5 346.6L232.3 345.5L232.1 344.5L232.1 344.4L231.9 343.4L231.7 342.3L231.6 341.3L231.4 340.2L231.2 339.2L231.2 339.1L231 338.1L230.8 337L230.6 336L230.4 334.9L230.3 334.5L230.1 333.8L229.9 332.8L229.6 331.7L229.4 331.2L229.2 330.7L228.9 329.6L228.5 328.6L228.5 328.5L228.1 327.5L227.6 326.5L227.6 326.4L227.1 325.3L226.7 324.6L226.6 324.3L226 323.2L225.8 322.9L225.4 322.2L224.9 321.3L224.8 321.1L224.2 320L224.1 319.8L223.5 319L223.2 318.4L222.8 317.9L222.3 317.1L222.1 316.9L221.4 315.9L221.3 315.8L220.5 314.7L220.5 314.7L219.7 313.7L219.6 313.5L218.8 312.6L218.7 312.5L217.9 311.5L217.8 311.5L216.9 310.6L216.8 310.5L216 309.7L215.7 309.4L215.1 309L214.3 308.4L214.3 308.3L213.4 307.8L212.6 307.3L212.5 307.2L211.6 306.8L210.7 306.4L210.1 306.2L209.8 306.1L208.9 305.9L208 305.7L207.1 305.6L206.2 305.5L205.3 305.5L204.5 305.6L203.6 305.7L202.7 305.9L201.8 306.2L201.6 306.2L200.9 306.5L200 306.9L199.3 307.3L199.1 307.4L198.2 307.9L197.6 308.4L197.3 308.6L196.4 309.3L196.3 309.4L195.5 310.1L195.2 310.5L194.7 311L194.1 311.5L193.8 311.9L193.2 312.6L192.9 313L192.3 313.7L192 314L191.4 314.7L191.1 315.2L190.6 315.8L190.2 316.4L189.9 316.9L189.3 317.7L189.2 317.9L188.5 319L188.4 319.1L187.8 320L187.5 320.5L187.2 321.1L186.6 322.2L186.6 322.2L186.1 323.2L185.7 324.1L185.6 324.3L185.2 325.3L184.8 326.3L184.8 326.4L184.4 327.5L184.1 328.5L184 329L183.8 329.6L183.5 330.7L183.3 331.7L183.1 332.8L183.1 332.8L182.9 333.8L182.7 334.9L182.5 336L182.3 337L182.2 337.9L182.1 338.1L181.9 339.2L181.8 340.2L181.6 341.3L181.3 342.3L181.3 342.6L181.1 343.4L180.9 344.5L180.6 345.5L180.4 346.3L180.3 346.6L180 347.6L179.7 348.7L179.5 349.6L179.4 349.8L179.1 350.8L178.9 351.9L178.6 352.8L178.6 353L178.3 354L178 355.1L177.8 356.1L177.7 356.5L177.6 357.2L177.3 358.3L177.2 359.3L177 360.4L176.9 361.4L176.8 361.9L176.8 362.5L176.7 363.6L176.6 364.6L176.6 365.7L176.6 366.8L176.6 367.8L176.7 368.9L176.7 369.9L176.8 370.8L176.8 371L177 372.1L177.1 373.1L177.3 374.2L177.5 375.2L177.7 376L177.8 376.3L178 377.4L178.3 378.4L178.6 379.4L178.6 379.5L179 380.6L179.3 381.6L179.5 382.1L179.7 382.7L180.1 383.7L180.4 384.4L180.5 384.8L181 385.9L181.3 386.6L181.4 386.9L181.9 388L182.2 388.7L182.3 389L182.8 390.1L183.1 390.8L183.2 391.2L183.6 392.2L184 393.1L184 393.3L184.3 394.4L184.6 395.4L184.8 396.5L184.8 397.3L184.9 397.5L184.9 398.6L184.8 399.1L184.8 399.7L184.6 400.7L184.4 401.8L184.1 402.8L184 403.5L183.8 403.9L183.5 405L183.1 406L183.1 406.3L182.8 407.1L182.5 408.2L182.2 409.2L182.2 409.3L181.9 410.3L181.7 411.3L181.6 412.4L181.5 413.5L181.4 414.5L181.4 415.6L181.4 416.6L181.6 417.7L181.7 418.8L182 419.8L182.2 420.5L182.3 420.9L182.6 422L183.1 422.9L183.1 423L183.6 424.1L184 424.7L184.2 425.1L184.8 426.1L184.9 426.2L185.7 427.3L185.7 427.3L186.6 428.3L186.6 428.4L187.5 429.3L187.6 429.4L188.4 430.2L188.7 430.5L189.3 430.9L190 431.5L190.2 431.6L191.1 432.3L191.5 432.6L192 432.9L192.9 433.4L193.2 433.6L193.8 433.9L194.7 434.4L195.2 434.7L195.5 434.8L196.4 435.3L197.3 435.6L197.7 435.8L198.2 436L199.1 436.3L200 436.6L200.9 436.8L201 436.8L201.8 437L202.7 437.2L203.6 437.4L204.5 437.6L205.3 437.7L206.2 437.8L207.1 437.9L207.4 437.9ZM111.8 433.7L112.7 433.8L113.6 433.8L114.4 433.8L115.3 433.8L116.2 433.8L117.1 433.7L117.6 433.6L118 433.6L118.9 433.5L119.8 433.3L120.7 433.1L121.6 432.9L122.5 432.6L122.5 432.6L123.4 432.3L124.2 431.9L125.1 431.5L125.2 431.5L126 431.1L126.9 430.6L127.2 430.5L127.8 430L128.7 429.4L128.7 429.4L129.6 428.7L130.1 428.3L130.5 427.9L131.2 427.3L131.4 427L132.1 426.2L132.3 426L133 425.1L133.2 424.9L133.7 424.1L134.1 423.5L134.4 423L134.9 422L134.9 421.9L135.5 420.9L135.8 420.1L136 419.8L136.5 418.8L136.7 418.1L136.9 417.7L137.4 416.6L137.6 416.1L137.8 415.6L138.3 414.5L138.5 414.1L138.8 413.5L139.3 412.4L139.4 412.2L139.9 411.3L140.3 410.5L140.4 410.3L141 409.2L141.2 408.9L141.6 408.2L142.1 407.4L142.2 407.1L142.9 406L143 405.8L143.5 405L143.9 404.3L144.1 403.9L144.7 402.8L144.7 402.7L145.2 401.8L145.6 401L145.8 400.7L146.3 399.7L146.5 399.1L146.8 398.6L147.2 397.5L147.4 397L147.6 396.5L148 395.4L148.3 394.5L148.4 394.4L148.7 393.3L149 392.2L149.2 391.3L149.2 391.2L149.5 390.1L149.7 389L149.8 388L150 386.9L150.1 385.9L150.1 385.9L150.2 384.8L150.3 383.7L150.4 382.7L150.4 381.6L150.4 380.6L150.4 379.5L150.4 378.4L150.4 377.4L150.4 376.3L150.4 375.2L150.3 374.2L150.3 373.1L150.2 372.1L150.1 371L150.1 370.8L150 369.9L149.9 368.9L149.9 367.8L149.7 366.8L149.6 365.7L149.5 364.6L149.4 363.6L149.2 362.5L149.2 362.2L149.1 361.4L149 360.4L148.8 359.3L148.7 358.3L148.5 357.2L148.3 356.1L148.3 356.1L148.2 355.1L148 354L147.8 353L147.6 351.9L147.5 350.8L147.4 350.6L147.3 349.8L147.1 348.7L146.9 347.6L146.8 346.6L146.6 345.5L146.5 345.3L146.4 344.5L146.2 343.4L146 342.3L145.9 341.3L145.7 340.2L145.6 340.1L145.5 339.2L145.3 338.1L145.1 337L144.9 336L144.7 335.2L144.7 334.9L144.5 333.8L144.3 332.8L144.1 331.7L143.9 330.7L143.9 330.5L143.7 329.6L143.5 328.5L143.3 327.5L143 326.4L143 326.1L142.8 325.3L142.6 324.3L142.4 323.2L142.2 322.2L142.1 321.7L142 321.1L141.7 320L141.5 319L141.3 317.9L141.2 317.3L141.1 316.9L140.9 315.8L140.7 314.7L140.4 313.7L140.3 312.9L140.2 312.6L140 311.5L139.8 310.5L139.5 309.4L139.4 308.8L139.3 308.4L139.1 307.3L138.8 306.2L138.6 305.2L138.5 305L138.3 304.1L138 303.1L137.7 302L137.6 301.6L137.4 300.9L137.1 299.9L136.8 298.8L136.7 298.6L136.5 297.7L136.1 296.7L135.8 295.9L135.7 295.6L135.4 294.6L134.9 293.5L134.9 293.5L134.5 292.4L134.1 291.5L134 291.4L133.5 290.3L133.2 289.7L132.9 289.3L132.3 288.2L132.3 288.1L131.6 287.1L131.4 286.8L130.9 286.1L130.5 285.5L130.1 285L129.6 284.4L129.2 283.9L128.7 283.4L128.2 282.9L127.8 282.6L127 281.8L126.9 281.7L126 281L125.7 280.8L125.1 280.3L124.2 279.7L124.2 279.7L123.4 279.2L122.5 278.6L122.5 278.6L121.6 278.2L120.7 277.7L120.3 277.6L119.8 277.4L118.9 277L118 276.7L117.4 276.5L117.1 276.4L116.2 276.2L115.3 276L114.4 275.8L113.6 275.7L112.7 275.6L111.8 275.5L111.4 275.5L110.9 275.4L110 275.4L109.1 275.4L108.4 275.5L108.2 275.5L107.3 275.5L106.4 275.6L105.5 275.8L104.6 276L103.8 276.2L102.9 276.4L102.6 276.5L102 276.7L101.1 277.1L100.2 277.5L100 277.6L99.3 277.9L98.4 278.4L98 278.6L97.5 279L96.6 279.6L96.5 279.7L95.7 280.3L95.2 280.8L94.8 281.1L94.1 281.8L94 282L93.1 282.9L93.1 283L92.3 283.9L92.2 284.1L91.5 285L91.3 285.4L90.9 286.1L90.4 286.9L90.3 287.1L89.7 288.2L89.5 288.7L89.2 289.3L88.8 290.3L88.6 290.7L88.3 291.4L87.9 292.4L87.7 293.1L87.6 293.5L87.2 294.6L86.9 295.6L86.8 295.8L86.5 296.7L86.2 297.7L85.9 298.8L85.9 298.9L85.6 299.9L85.4 300.9L85.1 302L85 302.3L84.8 303.1L84.6 304.1L84.4 305.2L84.1 306.1L84.1 306.2L83.9 307.3L83.6 308.4L83.4 309.4L83.3 310.2L83.2 310.5L83 311.5L82.7 312.6L82.5 313.7L82.4 314.5L82.3 314.7L82.1 315.8L81.9 316.9L81.6 317.9L81.5 318.7L81.4 319L81.2 320L81 321.1L80.7 322.2L80.6 323L80.5 323.2L80.3 324.3L80.1 325.3L79.9 326.4L79.7 327.3L79.7 327.5L79.4 328.5L79.2 329.6L79 330.7L78.8 331.7L78.8 332L78.6 332.8L78.4 333.8L78.3 334.9L78.1 336L77.9 336.9L77.9 337L77.7 338.1L77.5 339.2L77.3 340.2L77.1 341.3L77 342L77 342.3L76.8 343.4L76.6 344.5L76.4 345.5L76.2 346.6L76.1 347.3L76.1 347.6L75.9 348.7L75.7 349.8L75.5 350.8L75.4 351.9L75.2 352.8L75.2 353L75.1 354L74.9 355.1L74.8 356.1L74.6 357.2L74.5 358.3L74.4 359.3L74.3 359.6L74.3 360.4L74.1 361.4L74 362.5L73.9 363.6L73.9 364.6L73.8 365.7L73.7 366.8L73.7 367.8L73.6 368.9L73.6 369.9L73.6 371L73.5 372.1L73.5 373.1L73.6 374.2L73.6 375.2L73.6 376.3L73.7 377.4L73.8 378.4L73.9 379.5L74 380.6L74.1 381.6L74.3 382.7L74.3 383L74.5 383.7L74.7 384.8L74.9 385.9L75.2 386.9L75.2 387L75.5 388L75.8 389L76.1 390L76.2 390.1L76.5 391.2L76.9 392.2L77 392.4L77.4 393.3L77.8 394.4L77.9 394.5L78.3 395.4L78.8 396.4L78.8 396.5L79.3 397.5L79.7 398.2L79.9 398.6L80.4 399.7L80.6 399.9L81 400.7L81.5 401.6L81.6 401.8L82.1 402.8L82.4 403.3L82.7 403.9L83.2 405L83.3 405L83.8 406L84.1 406.8L84.3 407.1L84.8 408.2L85 408.7L85.3 409.2L85.7 410.3L85.9 410.8L86.1 411.3L86.6 412.4L86.8 413L87 413.5L87.4 414.5L87.7 415.2L87.9 415.6L88.3 416.6L88.6 417.3L88.8 417.7L89.3 418.8L89.5 419.1L89.9 419.8L90.4 420.7L90.5 420.9L91.2 422L91.3 422.1L91.9 423L92.2 423.3L92.8 424.1L93.1 424.4L93.7 425.1L94 425.4L94.8 426.2L94.8 426.3L95.7 427.1L96 427.3L96.6 427.8L97.3 428.3L97.5 428.5L98.4 429.1L98.9 429.4L99.3 429.7L100.2 430.2L100.7 430.5L101.1 430.7L102 431.1L102.9 431.5L102.9 431.5L103.8 431.9L104.6 432.2L105.5 432.5L105.9 432.6L106.4 432.7L107.3 433L108.2 433.2L109.1 433.4L110 433.5L110.9 433.6L111 433.6ZM205.3 430.5L206.2 430.6L207.1 430.7L208 430.8L208.9 430.8L209.8 430.7L210.7 430.7L211.6 430.6L212.1 430.5L212.5 430.4L213.4 430.2L214.3 429.9L215.1 429.6L215.7 429.4L216 429.3L216.9 428.8L217.8 428.3L217.8 428.3L218.7 427.7L219.2 427.3L219.6 426.9L220.3 426.2L220.5 426L221.2 425.1L221.4 424.9L221.9 424.1L222.3 423.3L222.4 423L222.8 422L223 420.9L223.2 420.1L223.2 419.8L223.3 418.8L223.2 417.7L223.2 417.1L223.1 416.6L222.9 415.6L222.7 414.5L222.3 413.5L222.3 413.3L221.9 412.4L221.5 411.3L221.4 411.2L221 410.3L220.5 409.4L220.4 409.2L219.8 408.2L219.6 407.7L219.3 407.1L218.7 406.1L218.7 406L218.1 405L217.8 404.3L217.6 403.9L217.3 402.8L217 401.8L217 400.7L217.1 399.7L217.4 398.6L217.8 397.7L217.9 397.5L218.5 396.5L218.7 396.2L219.3 395.4L219.6 395L220.1 394.4L220.5 393.9L220.9 393.3L221.4 392.7L221.8 392.2L222.3 391.6L222.6 391.2L223.2 390.4L223.4 390.1L224.1 389.2L224.1 389L224.8 388L224.9 387.8L225.5 386.9L225.8 386.3L226.1 385.9L226.7 384.8L226.7 384.7L227.2 383.7L227.6 382.7L227.6 382.7L228.1 381.6L228.4 380.6L228.5 380.3L228.8 379.5L229.1 378.4L229.3 377.4L229.4 377L229.5 376.3L229.7 375.2L229.9 374.2L230 373.1L230 372.1L230.1 371L230 369.9L230 368.9L229.9 367.8L229.8 366.8L229.7 365.7L229.5 364.6L229.4 364.3L229.3 363.6L229 362.5L228.8 361.4L228.5 360.5L228.5 360.4L228.2 359.3L227.8 358.3L227.6 357.7L227.5 357.2L227.1 356.1L226.7 355.2L226.7 355.1L226.3 354L225.9 353L225.8 352.8L225.5 351.9L225.1 350.8L224.9 350.4L224.7 349.8L224.3 348.7L224.1 348L223.9 347.6L223.6 346.6L223.2 345.5L223.2 345.2L222.9 344.5L222.6 343.4L222.3 342.3L222.3 342.2L222 341.3L221.8 340.2L221.5 339.2L221.4 338.9L221.2 338.1L220.9 337L220.5 336L220.5 335.9L220.1 334.9L219.7 333.8L219.6 333.5L219.3 332.8L218.8 331.7L218.7 331.6L218.2 330.7L217.8 330.1L217.5 329.6L216.9 328.8L216.8 328.5L216 327.6L215.9 327.5L215.1 326.7L214.9 326.4L214.3 325.9L213.6 325.3L213.4 325.1L212.5 324.5L212.1 324.3L211.6 324L210.7 323.5L209.9 323.2L209.8 323.2L208.9 322.9L208 322.7L207.1 322.6L206.2 322.5L205.3 322.5L204.5 322.6L203.6 322.8L202.7 323.1L202.3 323.2L201.8 323.4L200.9 323.8L200.1 324.3L200 324.4L199.1 325L198.7 325.3L198.2 325.7L197.5 326.4L197.3 326.6L196.6 327.5L196.4 327.7L195.8 328.5L195.5 329L195.2 329.6L194.7 330.5L194.6 330.7L194.1 331.7L193.8 332.5L193.7 332.8L193.3 333.8L192.9 334.9L192.9 335.1L192.6 336L192.3 337L192 338.1L192 338.1L191.7 339.2L191.4 340.2L191.1 341.2L191.1 341.3L190.7 342.3L190.4 343.4L190.2 344L190 344.5L189.6 345.5L189.3 346.4L189.2 346.6L188.8 347.6L188.4 348.6L188.4 348.7L188 349.8L187.5 350.8L187.5 350.9L187.1 351.9L186.7 353L186.6 353.1L186.3 354L185.9 355.1L185.7 355.6L185.6 356.1L185.2 357.2L185 358.3L184.8 358.7L184.7 359.3L184.5 360.4L184.3 361.4L184.1 362.5L184 363.6L184 363.7L183.9 364.6L183.8 365.7L183.8 366.8L183.8 367.8L183.8 368.9L183.9 369.9L184 370.2L184 371L184.2 372.1L184.4 373.1L184.6 374.2L184.8 375.1L184.9 375.2L185.2 376.3L185.5 377.4L185.7 378L185.9 378.4L186.3 379.5L186.6 380.3L186.7 380.6L187.2 381.6L187.5 382.3L187.7 382.7L188.3 383.7L188.4 384L188.9 384.8L189.3 385.6L189.5 385.9L190.1 386.9L190.2 387L190.8 388L191.1 388.4L191.5 389L192 389.7L192.3 390.1L192.9 390.9L193 391.2L193.8 392.2L193.8 392.2L194.5 393.3L194.7 393.6L195.2 394.4L195.5 395L195.8 395.4L196.3 396.5L196.4 396.9L196.7 397.5L196.9 398.6L196.9 399.7L196.7 400.7L196.4 401.5L196.3 401.8L195.8 402.8L195.5 403.4L195.3 403.9L194.7 404.9L194.6 405L194 406L193.8 406.4L193.4 407.1L192.9 408L192.8 408.2L192.2 409.2L192 409.8L191.8 410.3L191.4 411.3L191.1 412.3L191 412.4L190.8 413.5L190.6 414.5L190.6 415.6L190.6 416.6L190.7 417.7L190.9 418.8L191.1 419.4L191.2 419.8L191.6 420.9L192 421.6L192.1 422L192.8 423L192.9 423.1L193.6 424.1L193.8 424.3L194.5 425.1L194.7 425.3L195.5 426.1L195.7 426.2L196.4 426.8L197.1 427.3L197.3 427.4L198.2 428L198.8 428.3L199.1 428.5L200 428.9L200.9 429.3L201.1 429.4L201.8 429.6L202.7 429.9L203.6 430.2L204.5 430.4L205 430.5ZM111.8 425.2L112.7 425.2L113.6 425.2L114.4 425.2L115.1 425.1L115.3 425.1L116.2 425L117.1 424.8L118 424.5L118.9 424.2L119.3 424.1L119.8 423.9L120.7 423.4L121.4 423L121.6 422.9L122.5 422.3L122.9 422L123.4 421.6L124.1 420.9L124.2 420.7L125.1 419.8L125.1 419.8L126 418.8L126 418.7L126.8 417.7L126.9 417.6L127.6 416.6L127.8 416.3L128.3 415.6L128.7 415L129 414.5L129.6 413.7L129.8 413.5L130.5 412.4L130.5 412.4L131.3 411.3L131.4 411.2L132.1 410.3L132.3 410L132.9 409.2L133.2 408.9L133.7 408.2L134.1 407.7L134.5 407.1L134.9 406.6L135.4 406L135.8 405.4L136.2 405L136.7 404.3L137 403.9L137.6 403L137.8 402.8L138.5 401.8L138.5 401.7L139.2 400.7L139.4 400.4L139.8 399.7L140.3 398.9L140.4 398.6L141 397.5L141.2 397.2L141.5 396.5L142 395.4L142.1 395.3L142.5 394.4L142.8 393.3L143 392.9L143.2 392.2L143.5 391.2L143.8 390.1L143.9 389.9L144.1 389L144.3 388L144.5 386.9L144.6 385.9L144.7 384.8L144.7 384.6L144.8 383.7L144.9 382.7L145 381.6L145 380.6L145.1 379.5L145.1 378.4L145 377.4L145 376.3L145 375.2L144.9 374.2L144.9 373.1L144.8 372.1L144.7 371.5L144.7 371L144.6 369.9L144.5 368.9L144.4 367.8L144.3 366.8L144.2 365.7L144 364.6L143.9 363.6L143.9 363.5L143.7 362.5L143.6 361.4L143.4 360.4L143.2 359.3L143 358.3L143 357.9L142.9 357.2L142.7 356.1L142.5 355.1L142.3 354L142.1 353.1L142.1 353L141.9 351.9L141.6 350.8L141.4 349.8L141.2 348.7L141.2 348.6L141 347.6L140.8 346.6L140.6 345.5L140.4 344.5L140.3 344.2L140.1 343.4L139.9 342.3L139.7 341.3L139.5 340.2L139.4 339.9L139.2 339.2L139 338.1L138.8 337L138.5 336L138.5 335.8L138.3 334.9L138.1 333.8L137.8 332.8L137.6 332L137.5 331.7L137.3 330.7L137 329.6L136.8 328.5L136.7 328.4L136.5 327.5L136.2 326.4L135.9 325.3L135.8 325L135.7 324.3L135.4 323.2L135.1 322.2L134.9 321.6L134.8 321.1L134.5 320L134.2 319L134.1 318.3L134 317.9L133.7 316.9L133.4 315.8L133.2 315L133.1 314.7L132.8 313.7L132.5 312.6L132.3 311.8L132.2 311.5L131.9 310.5L131.6 309.4L131.4 308.9L131.2 308.4L130.9 307.3L130.5 306.2L130.5 306.1L130.2 305.2L129.8 304.1L129.6 303.6L129.4 303.1L129 302L128.7 301.4L128.5 300.9L128.1 299.9L127.8 299.3L127.6 298.8L127.1 297.7L126.9 297.5L126.5 296.7L126 295.8L125.9 295.6L125.3 294.6L125.1 294.4L124.6 293.5L124.2 293.1L123.8 292.4L123.4 291.9L122.9 291.4L122.5 290.9L121.9 290.3L121.6 290L120.8 289.3L120.7 289.2L119.8 288.5L119.4 288.2L118.9 287.9L118 287.3L117.6 287.1L117.1 286.9L116.2 286.5L115.3 286.1L115.1 286.1L114.4 285.9L113.6 285.7L112.7 285.5L111.8 285.4L110.9 285.4L110 285.4L109.1 285.5L108.2 285.7L107.3 285.9L106.7 286.1L106.4 286.2L105.5 286.5L104.6 286.9L104.3 287.1L103.8 287.4L102.9 288L102.7 288.2L102 288.7L101.4 289.3L101.1 289.5L100.3 290.3L100.2 290.5L99.4 291.4L99.3 291.6L98.7 292.4L98.4 292.8L97.9 293.5L97.5 294.2L97.3 294.6L96.7 295.6L96.6 295.8L96.2 296.7L95.7 297.6L95.6 297.7L95.2 298.8L94.8 299.6L94.7 299.9L94.3 300.9L94 301.8L93.9 302L93.5 303.1L93.1 304.1L93.1 304.3L92.7 305.2L92.4 306.2L92.2 307L92.1 307.3L91.7 308.4L91.4 309.4L91.3 309.9L91.1 310.5L90.8 311.5L90.5 312.6L90.4 313L90.2 313.7L89.9 314.7L89.6 315.8L89.5 316.1L89.3 316.9L89 317.9L88.7 319L88.6 319.3L88.4 320L88.1 321.1L87.8 322.2L87.7 322.6L87.5 323.2L87.2 324.3L87 325.3L86.8 325.9L86.7 326.4L86.4 327.5L86.2 328.5L85.9 329.5L85.9 329.6L85.6 330.7L85.4 331.7L85.1 332.8L85 333.3L84.9 333.8L84.7 334.9L84.4 336L84.2 337L84.1 337.3L84 338.1L83.7 339.2L83.5 340.2L83.3 341.3L83.3 341.5L83.1 342.3L82.8 343.4L82.6 344.5L82.4 345.5L82.4 345.8L82.2 346.6L82 347.6L81.8 348.7L81.6 349.8L81.5 350.2L81.4 350.8L81.1 351.9L81 353L80.8 354L80.6 355.1L80.6 355.2L80.4 356.1L80.2 357.2L80.1 358.3L79.9 359.3L79.8 360.4L79.7 361.3L79.7 361.4L79.6 362.5L79.4 363.6L79.3 364.6L79.2 365.7L79.2 366.8L79.1 367.8L79 368.9L79 369.9L78.9 371L78.9 372.1L78.9 373.1L78.9 374.2L78.9 375.2L79 376.3L79 377.4L79.1 378.4L79.2 379.5L79.4 380.6L79.5 381.6L79.7 382.6L79.7 382.7L79.9 383.7L80.1 384.8L80.4 385.9L80.6 386.4L80.7 386.9L81 388L81.4 389L81.5 389.2L81.8 390.1L82.2 391.2L82.4 391.4L82.7 392.2L83.2 393.3L83.3 393.4L83.7 394.4L84.1 395.1L84.3 395.4L84.9 396.5L85 396.7L85.6 397.5L85.9 398.1L86.2 398.6L86.8 399.5L86.9 399.7L87.6 400.7L87.7 400.9L88.3 401.8L88.6 402.2L89.1 402.8L89.5 403.5L89.8 403.9L90.4 404.8L90.5 405L91.3 406L91.3 406L92 407.1L92.2 407.4L92.7 408.2L93.1 408.7L93.4 409.2L94 410.1L94.1 410.3L94.7 411.3L94.8 411.6L95.4 412.4L95.7 413L96 413.5L96.6 414.4L96.7 414.5L97.4 415.6L97.5 415.8L98.1 416.6L98.4 417.1L98.9 417.7L99.3 418.2L99.8 418.8L100.2 419.2L100.8 419.8L101.1 420.1L101.9 420.9L102 421L102.9 421.7L103.3 422L103.8 422.3L104.6 422.9L104.9 423L105.5 423.3L106.4 423.8L107.2 424.1L107.3 424.1L108.2 424.4L109.1 424.7L110 424.9L110.9 425.1L111.6 425.1ZM204.5 425.2L205.3 425.4L206.2 425.6L207.1 425.7L208 425.7L208.9 425.7L209.8 425.6L210.7 425.4L211.5 425.1L211.6 425.1L212.5 424.8L213.4 424.3L213.7 424.1L214.3 423.7L215 423L215.1 422.8L215.8 422L216 421.6L216.4 420.9L216.7 419.8L216.9 418.8L216.9 418.7L216.9 417.7L216.9 417.5L216.8 416.6L216.6 415.6L216.2 414.5L216 414.2L215.7 413.5L215.1 412.6L215 412.4L214.3 411.4L214.2 411.3L213.4 410.4L213.2 410.3L212.5 409.6L212 409.2L211.6 408.9L210.7 408.3L210.4 408.2L209.8 407.8L208.9 407.5L208 407.2L207.4 407.1L207.1 407.1L206.2 407L205.3 407.1L205.2 407.1L204.5 407.2L203.6 407.5L202.7 407.9L202.2 408.2L201.8 408.4L200.9 409L200.6 409.2L200 409.8L199.5 410.3L199.1 410.7L198.6 411.3L198.2 411.9L197.9 412.4L197.4 413.5L197.3 413.8L197.1 414.5L196.9 415.6L196.9 416.6L197 417.7L197.2 418.8L197.3 419L197.7 419.8L198.2 420.8L198.3 420.9L199.1 422L199.1 422L200 422.8L200.2 423L200.9 423.5L201.7 424.1L201.8 424.1L202.7 424.6L203.6 424.9L204.2 425.1ZM110.9 418.9L111.8 419L112.7 419L113.6 419L114.4 418.9L115.3 418.8L115.3 418.8L116.2 418.5L117.1 418.2L118 417.8L118.2 417.7L118.9 417.3L119.8 416.8L120 416.6L120.7 416.1L121.4 415.6L121.6 415.4L122.5 414.6L122.6 414.5L123.4 413.8L123.7 413.5L124.2 413L124.8 412.4L125.1 412.1L125.9 411.3L126 411.2L126.9 410.4L127 410.3L127.8 409.5L128.1 409.2L128.7 408.6L129.1 408.2L129.6 407.7L130.2 407.1L130.5 406.8L131.2 406L131.4 405.8L132.2 405L132.3 404.9L133.1 403.9L133.2 403.9L134.1 402.8L134.1 402.8L134.9 401.8L134.9 401.8L135.7 400.7L135.8 400.6L136.5 399.7L136.7 399.3L137.2 398.6L137.6 397.9L137.8 397.5L138.4 396.5L138.5 396.3L139 395.4L139.4 394.5L139.5 394.4L139.9 393.3L140.3 392.3L140.3 392.2L140.7 391.2L141 390.1L141.2 389.4L141.3 389L141.5 388L141.7 386.9L141.9 385.9L142.1 384.8L142.1 384.6L142.2 383.7L142.3 382.7L142.3 381.6L142.4 380.6L142.4 379.5L142.4 378.4L142.4 377.4L142.4 376.3L142.4 375.2L142.3 374.2L142.3 373.1L142.2 372.1L142.1 371L142.1 370.9L142 369.9L141.9 368.9L141.8 367.8L141.6 366.8L141.5 365.7L141.3 364.6L141.2 363.6L141.2 363.6L141 362.5L140.9 361.4L140.7 360.4L140.5 359.3L140.3 358.4L140.3 358.3L140.1 357.2L139.9 356.1L139.7 355.1L139.4 354L139.4 353.9L139.2 353L139 351.9L138.7 350.8L138.5 349.8L138.5 349.8L138.3 348.7L138 347.6L137.8 346.6L137.6 345.8L137.6 345.5L137.3 344.5L137.1 343.4L136.8 342.3L136.7 341.9L136.6 341.3L136.3 340.2L136.1 339.2L135.8 338.2L135.8 338.1L135.5 337L135.3 336L135 334.9L134.9 334.7L134.7 333.8L134.4 332.8L134.1 331.7L134.1 331.4L133.8 330.7L133.5 329.6L133.2 328.5L133.2 328.3L132.9 327.5L132.6 326.4L132.3 325.4L132.3 325.3L131.9 324.3L131.6 323.2L131.4 322.5L131.3 322.2L130.9 321.1L130.6 320L130.5 319.8L130.2 319L129.9 317.9L129.6 317.1L129.5 316.9L129.2 315.8L128.8 314.7L128.7 314.4L128.4 313.7L128.1 312.6L127.8 311.9L127.7 311.5L127.3 310.5L126.9 309.6L126.9 309.4L126.4 308.4L126 307.4L126 307.3L125.5 306.2L125.1 305.4L125 305.2L124.5 304.1L124.2 303.7L123.9 303.1L123.4 302.1L123.3 302L122.7 300.9L122.5 300.6L122 299.9L121.6 299.3L121.2 298.8L120.7 298.2L120.3 297.7L119.8 297.2L119.3 296.7L118.9 296.3L118.2 295.6L118 295.5L117.1 294.8L116.7 294.6L116.2 294.3L115.3 293.8L114.6 293.5L114.4 293.4L113.6 293.2L112.7 293L111.8 292.9L110.9 292.9L110 293L109.1 293.1L108.2 293.4L107.9 293.5L107.3 293.7L106.4 294.2L105.9 294.6L105.5 294.8L104.6 295.5L104.5 295.6L103.8 296.3L103.3 296.7L102.9 297.2L102.4 297.7L102 298.3L101.6 298.8L101.1 299.5L100.8 299.9L100.2 300.8L100.1 300.9L99.5 302L99.3 302.4L98.9 303.1L98.4 304.1L98.4 304.1L97.9 305.2L97.5 306L97.4 306.2L97 307.3L96.6 308.1L96.5 308.4L96.1 309.4L95.7 310.4L95.7 310.5L95.3 311.5L94.9 312.6L94.8 312.8L94.5 313.7L94.2 314.7L94 315.3L93.8 315.8L93.4 316.9L93.1 317.9L93.1 317.9L92.7 319L92.3 320L92.2 320.6L92 321.1L91.7 322.2L91.3 323.2L91.3 323.3L91 324.3L90.6 325.3L90.4 326.2L90.3 326.4L90 327.5L89.7 328.5L89.5 329.2L89.4 329.6L89.1 330.7L88.8 331.7L88.6 332.5L88.5 332.8L88.2 333.8L88 334.9L87.7 335.9L87.7 336L87.4 337L87.2 338.1L86.9 339.2L86.8 339.6L86.7 340.2L86.4 341.3L86.2 342.3L85.9 343.4L85.9 343.4L85.7 344.5L85.4 345.5L85.2 346.6L85 347.2L84.9 347.6L84.7 348.7L84.5 349.8L84.3 350.8L84.1 351.3L84 351.9L83.8 353L83.6 354L83.4 355.1L83.3 355.9L83.2 356.1L83 357.2L82.8 358.3L82.7 359.3L82.5 360.4L82.4 361.4L82.4 361.7L82.3 362.5L82.1 363.6L82 364.6L81.9 365.7L81.8 366.8L81.7 367.8L81.7 368.9L81.6 369.9L81.6 371L81.5 372.1L81.5 373.1L81.5 374.2L81.6 375.2L81.6 376.3L81.7 377.4L81.8 378.4L81.9 379.5L82 380.6L82.2 381.6L82.4 382.7L82.4 382.7L82.6 383.7L82.8 384.8L83.1 385.9L83.3 386.3L83.4 386.9L83.8 388L84.1 389L84.2 389L84.6 390.1L85 391.1L85.1 391.2L85.6 392.2L85.9 392.9L86.1 393.3L86.7 394.4L86.8 394.5L87.3 395.4L87.7 396L88 396.5L88.6 397.4L88.7 397.5L89.5 398.6L89.5 398.6L90.3 399.7L90.4 399.8L91.1 400.7L91.3 401L91.9 401.8L92.2 402.1L92.8 402.8L93.1 403.2L93.6 403.9L94 404.3L94.5 405L94.8 405.3L95.4 406L95.7 406.4L96.4 407.1L96.6 407.4L97.3 408.2L97.5 408.4L98.2 409.2L98.4 409.5L99.1 410.3L99.3 410.5L100.1 411.3L100.2 411.5L101 412.4L101.1 412.5L102 413.4L102 413.5L102.9 414.3L103.1 414.5L103.8 415.1L104.3 415.6L104.6 415.9L105.5 416.5L105.7 416.6L106.4 417.1L107.3 417.6L107.5 417.7L108.2 418L109.1 418.4L110 418.7L110.5 418.8ZM205.3 393.4L206.2 393.6L207.1 393.7L208 393.7L208.9 393.6L209.8 393.5L210.5 393.3L210.7 393.2L211.6 393L212.5 392.6L213.2 392.2L213.4 392.1L214.3 391.7L215 391.2L215.1 391.1L216 390.5L216.5 390.1L216.9 389.8L217.8 389L217.8 389L218.7 388.2L218.9 388L219.6 387.3L219.9 386.9L220.5 386.3L220.8 385.9L221.4 385.1L221.6 384.8L222.3 383.8L222.3 383.7L222.9 382.7L223.2 382.3L223.5 381.6L224 380.6L224.1 380.4L224.4 379.5L224.8 378.4L224.9 378L225.2 377.4L225.4 376.3L225.7 375.2L225.8 374.2L225.8 374.2L226 373.1L226.1 372.1L226.1 371L226.1 369.9L226.1 368.9L226 367.8L225.9 366.8L225.8 366.6L225.7 365.7L225.5 364.6L225.3 363.6L225 362.5L224.9 362.4L224.7 361.4L224.3 360.4L224.1 359.7L223.9 359.3L223.5 358.3L223.2 357.4L223.1 357.2L222.6 356.1L222.3 355.4L222.1 355.1L221.6 354L221.4 353.6L221.1 353L220.5 351.9L220.5 351.9L220 350.8L219.6 350.1L219.4 349.8L218.8 348.7L218.7 348.5L218.3 347.6L217.8 346.7L217.7 346.6L217.2 345.5L216.9 345L216.7 344.5L216.1 343.4L216 343.2L215.6 342.3L215.1 341.4L215.1 341.3L214.6 340.2L214.3 339.6L214 339.2L213.4 338.1L213.4 338L212.7 337L212.5 336.7L211.9 336L211.6 335.6L210.9 334.9L210.7 334.7L209.8 334L209.5 333.8L208.9 333.5L208 333.2L207.1 333L206.2 332.9L205.3 333.1L204.5 333.3L203.6 333.8L203.5 333.8L202.7 334.4L202.2 334.9L201.8 335.3L201.2 336L200.9 336.4L200.4 337L200 337.7L199.8 338.1L199.1 339.2L199.1 339.2L198.6 340.2L198.2 340.9L198 341.3L197.4 342.3L197.3 342.5L196.9 343.4L196.4 344.2L196.3 344.5L195.7 345.5L195.5 345.8L195.1 346.6L194.7 347.3L194.5 347.6L193.9 348.7L193.8 348.9L193.3 349.8L192.9 350.5L192.7 350.8L192.1 351.9L192 352.1L191.5 353L191.1 353.9L191 354L190.5 355.1L190.2 355.8L190.1 356.1L189.6 357.2L189.3 358.1L189.3 358.3L188.9 359.3L188.6 360.4L188.4 361.2L188.4 361.4L188.1 362.5L188 363.6L187.8 364.6L187.8 365.7L187.7 366.8L187.7 367.8L187.8 368.9L187.8 369.9L188 371L188.1 372.1L188.4 373.1L188.4 373.3L188.6 374.2L188.9 375.2L189.3 376.3L189.3 376.4L189.7 377.4L190.1 378.4L190.2 378.6L190.6 379.5L191.1 380.4L191.2 380.6L191.8 381.6L192 382L192.4 382.7L192.9 383.3L193.1 383.7L193.8 384.6L193.9 384.8L194.7 385.7L194.8 385.9L195.5 386.7L195.7 386.9L196.4 387.7L196.8 388L197.3 388.5L197.9 389L198.2 389.3L199.1 390.1L199.2 390.1L200 390.8L200.6 391.2L200.9 391.4L201.8 391.9L202.4 392.2L202.7 392.4L203.6 392.8L204.5 393.1L205 393.3ZM110 412.7L110.9 412.9L111.8 413L112.7 413L113.6 413L114.4 412.9L115.3 412.8L116.2 412.6L116.7 412.4L117.1 412.3L118 411.9L118.9 411.5L119.3 411.3L119.8 411.1L120.7 410.6L121.2 410.3L121.6 410.1L122.5 409.5L122.9 409.2L123.4 408.9L124.2 408.3L124.4 408.2L125.1 407.6L125.8 407.1L126 407L126.9 406.2L127.2 406L127.8 405.5L128.4 405L128.7 404.7L129.6 403.9L129.6 403.9L130.5 403.1L130.7 402.8L131.4 402.2L131.7 401.8L132.3 401.2L132.7 400.7L133.2 400.2L133.6 399.7L134.1 399L134.4 398.6L134.9 397.8L135.1 397.5L135.8 396.5L135.8 396.4L136.4 395.4L136.7 394.8L137 394.4L137.5 393.3L137.6 392.9L137.9 392.2L138.3 391.2L138.5 390.6L138.7 390.1L139 389L139.3 388L139.4 387.3L139.5 386.9L139.7 385.9L139.9 384.8L140 383.7L140.1 382.7L140.2 381.6L140.2 380.6L140.3 379.5L140.3 378.4L140.3 377.4L140.2 376.3L140.2 375.2L140.2 374.2L140.1 373.1L140 372.1L139.9 371L139.8 369.9L139.7 368.9L139.6 367.8L139.4 366.8L139.4 366.6L139.3 365.7L139.1 364.6L139 363.6L138.8 362.5L138.6 361.4L138.5 361L138.4 360.4L138.2 359.3L138 358.3L137.8 357.2L137.6 356.6L137.5 356.1L137.3 355.1L137.1 354L136.8 353L136.7 352.6L136.6 351.9L136.3 350.8L136.1 349.8L135.8 348.9L135.8 348.7L135.5 347.6L135.3 346.6L135 345.5L134.9 345.3L134.7 344.5L134.5 343.4L134.2 342.3L134.1 341.9L133.9 341.3L133.6 340.2L133.3 339.2L133.2 338.5L133 338.1L132.7 337L132.4 336L132.3 335.4L132.1 334.9L131.8 333.8L131.5 332.8L131.4 332.5L131.1 331.7L130.8 330.7L130.5 329.7L130.4 329.6L130.1 328.5L129.7 327.5L129.6 327.2L129.3 326.4L128.9 325.3L128.7 324.7L128.6 324.3L128.2 323.2L127.8 322.3L127.7 322.2L127.3 321.1L126.9 320.1L126.9 320L126.5 319L126 317.9L126 317.9L125.6 316.9L125.1 315.8L125.1 315.8L124.6 314.7L124.2 313.9L124.2 313.7L123.6 312.6L123.4 312L123.1 311.5L122.5 310.5L122.5 310.3L122 309.4L121.6 308.8L121.3 308.4L120.7 307.4L120.6 307.3L119.9 306.2L119.8 306.2L119 305.2L118.9 305.1L118 304.1L118 304.1L117.1 303.3L116.8 303.1L116.2 302.6L115.3 302L115.3 302L114.4 301.6L113.6 301.2L112.7 301L111.9 300.9L111.8 300.9L110.9 300.9L110.9 300.9L110 301.1L109.1 301.3L108.2 301.6L107.6 302L107.3 302.1L106.4 302.7L106 303.1L105.5 303.5L104.9 304.1L104.6 304.3L103.9 305.2L103.8 305.4L103.1 306.2L102.9 306.5L102.3 307.3L102 307.8L101.6 308.4L101.1 309.3L101 309.4L100.4 310.5L100.2 310.9L99.9 311.5L99.3 312.6L99.3 312.7L98.8 313.7L98.4 314.6L98.3 314.7L97.8 315.8L97.5 316.5L97.4 316.9L96.9 317.9L96.6 318.6L96.5 319L96 320L95.7 320.8L95.6 321.1L95.2 322.2L94.8 323L94.8 323.2L94.4 324.3L94 325.3L94 325.4L93.6 326.4L93.2 327.5L93.1 327.9L92.8 328.5L92.5 329.6L92.2 330.6L92.1 330.7L91.8 331.7L91.5 332.8L91.3 333.4L91.2 333.8L90.8 334.9L90.5 336L90.4 336.5L90.2 337L89.9 338.1L89.7 339.2L89.5 339.8L89.4 340.2L89.1 341.3L88.8 342.3L88.6 343.1L88.5 343.4L88.3 344.5L88 345.5L87.7 346.6L87.7 346.6L87.5 347.6L87.2 348.7L86.9 349.8L86.8 350.3L86.7 350.8L86.4 351.9L86.2 353L86 354L85.9 354.3L85.8 355.1L85.5 356.1L85.3 357.2L85.2 358.3L85 359L85 359.3L84.8 360.4L84.6 361.4L84.5 362.5L84.4 363.6L84.2 364.6L84.1 365.5L84.1 365.7L84 366.8L83.9 367.8L83.8 368.9L83.8 369.9L83.7 371L83.7 372.1L83.7 373.1L83.7 374.2L83.7 375.2L83.8 376.3L83.8 377.4L83.9 378.4L84 379.5L84.1 380.3L84.2 380.6L84.3 381.6L84.5 382.7L84.8 383.7L85 384.8L85 384.8L85.3 385.9L85.7 386.9L85.9 387.6L86.1 388L86.5 389L86.8 389.8L86.9 390.1L87.4 391.2L87.7 391.7L88 392.2L88.6 393.3L88.6 393.3L89.2 394.4L89.5 394.8L89.9 395.4L90.4 396.1L90.7 396.5L91.3 397.3L91.5 397.5L92.2 398.4L92.3 398.6L93.1 399.5L93.2 399.7L94 400.6L94.1 400.7L94.8 401.5L95.1 401.8L95.7 402.5L96.1 402.8L96.6 403.4L97.2 403.9L97.5 404.2L98.3 405L98.4 405.1L99.3 405.9L99.5 406L100.2 406.7L100.7 407.1L101.1 407.4L102 408.1L102 408.2L102.9 408.9L103.4 409.2L103.8 409.5L104.6 410.1L104.9 410.3L105.5 410.7L106.4 411.2L106.7 411.3L107.3 411.7L108.2 412.1L109.1 412.4L109.2 412.4ZM203.6 387L204.5 387.3L205.3 387.5L206.2 387.7L207.1 387.8L208 387.8L208.9 387.8L209.8 387.6L210.7 387.4L211.6 387.2L212.2 386.9L212.5 386.8L213.4 386.4L214.3 385.9L214.3 385.9L215.1 385.3L215.8 384.8L216 384.6L216.9 383.8L217 383.7L217.8 382.9L218 382.7L218.7 381.8L218.8 381.6L219.5 380.6L219.6 380.5L220.2 379.5L220.5 378.8L220.7 378.4L221.1 377.4L221.4 376.7L221.5 376.3L221.8 375.2L222.1 374.2L222.3 373.1L222.3 372.9L222.4 372.1L222.5 371L222.5 369.9L222.4 368.9L222.3 367.8L222.3 367.3L222.2 366.8L222 365.7L221.8 364.6L221.5 363.6L221.4 363.3L221.1 362.5L220.8 361.4L220.5 360.8L220.3 360.4L219.8 359.3L219.6 358.9L219.3 358.3L218.7 357.2L218.7 357.2L218.1 356.1L217.8 355.7L217.4 355.1L216.9 354.4L216.6 354L216 353.2L215.8 353L215.1 352.1L214.9 351.9L214.3 351.1L214 350.8L213.4 350.2L212.9 349.8L212.5 349.3L211.7 348.7L211.6 348.6L210.7 347.9L210.2 347.6L209.8 347.4L208.9 347L208 346.7L207.4 346.6L207.1 346.5L206.2 346.5L205.4 346.6L205.3 346.6L204.5 346.8L203.6 347.1L202.7 347.6L202.6 347.6L201.8 348.1L201 348.7L200.9 348.8L200 349.5L199.7 349.8L199.1 350.3L198.6 350.8L198.2 351.2L197.6 351.9L197.3 352.3L196.8 353L196.4 353.4L196 354L195.5 354.6L195.2 355.1L194.7 356L194.6 356.1L194 357.2L193.8 357.7L193.5 358.3L193 359.3L192.9 359.7L192.6 360.4L192.3 361.4L192 362.5L192 362.5L191.7 363.6L191.6 364.6L191.4 365.7L191.4 366.8L191.4 367.8L191.4 368.9L191.5 369.9L191.6 371L191.8 372.1L192 372.6L192.1 373.1L192.4 374.2L192.8 375.2L192.9 375.5L193.2 376.3L193.7 377.4L193.8 377.5L194.3 378.4L194.7 379.1L194.9 379.5L195.5 380.4L195.6 380.6L196.4 381.6L196.4 381.6L197.3 382.6L197.4 382.7L198.2 383.5L198.5 383.7L199.1 384.3L199.7 384.8L200 385L200.9 385.6L201.3 385.9L201.8 386.2L202.7 386.6L203.4 386.9ZM110.9 407.2L111.8 407.3L112.7 407.4L113.6 407.4L114.4 407.4L115.3 407.3L116.2 407.1L116.4 407.1L117.1 406.9L118 406.7L118.9 406.4L119.8 406.1L119.9 406L120.7 405.7L121.6 405.3L122.2 405L122.5 404.9L123.4 404.4L124.1 403.9L124.2 403.8L125.1 403.3L125.7 402.8L126 402.6L126.9 402L127.1 401.8L127.8 401.2L128.4 400.7L128.7 400.4L129.5 399.7L129.6 399.6L130.5 398.6L130.5 398.6L131.4 397.6L131.4 397.5L132.3 396.5L132.3 396.5L133 395.4L133.2 395.2L133.7 394.4L134.1 393.7L134.3 393.3L134.8 392.2L134.9 391.9L135.2 391.2L135.7 390.1L135.8 389.6L136 389L136.3 388L136.6 386.9L136.7 386.3L136.8 385.9L137 384.8L137.2 383.7L137.3 382.7L137.4 381.6L137.5 380.6L137.5 379.5L137.5 378.4L137.5 377.4L137.5 376.3L137.5 375.2L137.4 374.2L137.3 373.1L137.3 372.1L137.2 371L137 369.9L136.9 368.9L136.8 367.8L136.7 367.5L136.6 366.8L136.5 365.7L136.3 364.6L136.1 363.6L135.9 362.5L135.8 362.1L135.7 361.4L135.5 360.4L135.3 359.3L135 358.3L134.9 358L134.8 357.2L134.5 356.1L134.2 355.1L134.1 354.3L134 354L133.7 353L133.4 351.9L133.2 351L133.1 350.8L132.8 349.8L132.5 348.7L132.3 347.8L132.2 347.6L131.9 346.6L131.6 345.5L131.4 344.8L131.3 344.5L131 343.4L130.6 342.3L130.5 341.8L130.3 341.3L130 340.2L129.6 339.2L129.6 339L129.3 338.1L128.9 337L128.7 336.4L128.5 336L128.2 334.9L127.8 334L127.8 333.8L127.4 332.8L126.9 331.7L126.9 331.7L126.5 330.7L126 329.6L126 329.6L125.6 328.5L125.1 327.6L125.1 327.5L124.6 326.4L124.2 325.8L124 325.3L123.5 324.3L123.4 324.1L122.9 323.2L122.5 322.5L122.3 322.2L121.7 321.1L121.6 321L121 320L120.7 319.6L120.3 319L119.8 318.3L119.5 317.9L118.9 317.2L118.6 316.9L118 316.2L117.6 315.8L117.1 315.3L116.5 314.7L116.2 314.5L115.3 313.9L115 313.7L114.4 313.3L113.6 313L112.7 312.7L111.8 312.6L110.9 312.6L110 312.8L109.1 313.1L108.2 313.5L108 313.7L107.3 314.1L106.5 314.7L106.4 314.8L105.5 315.6L105.3 315.8L104.6 316.5L104.3 316.9L103.8 317.5L103.5 317.9L102.9 318.7L102.7 319L102 320L101.9 320L101.3 321.1L101.1 321.4L100.6 322.2L100.2 322.9L100 323.2L99.4 324.3L99.3 324.5L98.9 325.3L98.4 326.3L98.3 326.4L97.8 327.5L97.5 328.2L97.4 328.5L96.9 329.6L96.6 330.2L96.4 330.7L96 331.7L95.7 332.4L95.6 332.8L95.2 333.8L94.8 334.8L94.8 334.9L94.4 336L94.1 337L94 337.4L93.7 338.1L93.4 339.2L93.1 340.1L93 340.2L92.7 341.3L92.3 342.3L92.2 342.9L92 343.4L91.7 344.5L91.4 345.5L91.3 345.9L91.1 346.6L90.8 347.6L90.5 348.7L90.4 349L90.2 349.8L89.9 350.8L89.6 351.9L89.5 352.3L89.3 353L89.1 354L88.8 355.1L88.6 356L88.6 356.1L88.3 357.2L88.1 358.3L87.9 359.3L87.7 360.4L87.7 360.4L87.5 361.4L87.4 362.5L87.2 363.6L87.1 364.6L86.9 365.7L86.8 366.8L86.8 366.8L86.7 367.8L86.6 368.9L86.6 369.9L86.5 371L86.5 372.1L86.4 373.1L86.4 374.2L86.5 375.2L86.5 376.3L86.6 377.4L86.7 378.4L86.8 379.5L86.8 379.7L86.9 380.6L87.1 381.6L87.3 382.7L87.6 383.7L87.7 384.2L87.9 384.8L88.2 385.9L88.6 386.9L88.6 387L89 388L89.5 389L89.5 389.1L90 390.1L90.4 390.9L90.5 391.2L91.1 392.2L91.3 392.4L91.8 393.3L92.2 393.8L92.5 394.4L93.1 395L93.3 395.4L94 396.2L94.2 396.5L94.8 397.2L95.1 397.5L95.7 398.2L96.1 398.6L96.6 399.1L97.2 399.7L97.5 399.9L98.4 400.7L98.4 400.7L99.3 401.5L99.7 401.8L100.2 402.2L101.1 402.8L101.1 402.8L102 403.5L102.7 403.9L102.9 404L103.8 404.6L104.5 405L104.6 405.1L105.5 405.5L106.4 405.9L106.7 406L107.3 406.3L108.2 406.6L109.1 406.9L110 407.1L110.2 407.1ZM204.5 379.7L205.3 380L206.2 380.2L207.1 380.3L208 380.3L208.9 380.2L209.8 380L210.7 379.7L211 379.5L211.6 379.2L212.5 378.6L212.7 378.4L213.4 377.9L213.8 377.4L214.3 376.9L214.7 376.3L215.1 375.5L215.3 375.2L215.8 374.2L216 373.4L216.1 373.1L216.4 372.1L216.5 371L216.6 369.9L216.6 368.9L216.5 367.8L216.3 366.8L216 365.7L216 365.7L215.7 364.6L215.2 363.6L215.1 363.4L214.6 362.5L214.3 361.9L214 361.4L213.4 360.6L213.1 360.4L212.5 359.7L212.1 359.3L211.6 358.9L210.8 358.3L210.7 358.2L209.8 357.7L208.9 357.3L208.6 357.2L208 357L207.1 356.9L206.2 356.8L205.3 356.9L204.5 357.1L204.1 357.2L203.6 357.4L202.7 357.8L202 358.3L201.8 358.4L200.9 359.2L200.7 359.3L200 360.1L199.8 360.4L199.1 361.3L199 361.4L198.5 362.5L198.2 363.1L198 363.6L197.7 364.6L197.4 365.7L197.3 366.5L197.3 366.8L197.2 367.8L197.2 368.9L197.3 369.7L197.4 369.9L197.6 371L197.8 372.1L198.2 373.1L198.2 373.1L198.7 374.2L199.1 374.9L199.3 375.2L200 376.2L200.1 376.3L200.9 377.2L201 377.4L201.8 378.1L202.2 378.4L202.7 378.7L203.6 379.3L204 379.5ZM109.1 403L110 403.2L110.9 403.4L111.8 403.5L112.7 403.6L113.6 403.6L114.4 403.5L115.3 403.5L116.2 403.3L117.1 403.2L118 403L118.4 402.8L118.9 402.7L119.8 402.4L120.7 402L121.3 401.8L121.6 401.6L122.5 401.2L123.3 400.7L123.4 400.7L124.2 400.2L125 399.7L125.1 399.5L126 398.9L126.3 398.6L126.9 398.1L127.6 397.5L127.8 397.3L128.6 396.5L128.7 396.4L129.5 395.4L129.6 395.3L130.3 394.4L130.5 394.1L131 393.3L131.4 392.7L131.7 392.2L132.2 391.2L132.3 391.1L132.7 390.1L133.1 389L133.2 389L133.5 388L133.8 386.9L134.1 386L134.1 385.9L134.3 384.8L134.5 383.7L134.6 382.7L134.7 381.6L134.8 380.6L134.9 379.5L134.9 378.4L134.9 377.4L134.9 376.3L134.9 375.2L134.8 374.2L134.7 373.1L134.6 372.1L134.5 371L134.4 369.9L134.3 368.9L134.1 367.8L134.1 367.4L133.9 366.8L133.8 365.7L133.6 364.6L133.4 363.6L133.2 362.6L133.1 362.5L132.9 361.4L132.7 360.4L132.4 359.3L132.3 358.8L132.1 358.3L131.9 357.2L131.6 356.1L131.4 355.5L131.3 355.1L131 354L130.6 353L130.5 352.5L130.3 351.9L130 350.8L129.6 349.8L129.6 349.7L129.3 348.7L128.9 347.6L128.7 347.1L128.5 346.6L128.2 345.5L127.8 344.5L127.8 344.5L127.4 343.4L127 342.3L126.9 342.1L126.6 341.3L126.2 340.2L126 339.9L125.7 339.2L125.3 338.1L125.1 337.8L124.8 337L124.3 336L124.2 335.8L123.8 334.9L123.4 334L123.3 333.8L122.7 332.8L122.5 332.4L122.1 331.7L121.6 330.9L121.4 330.7L120.7 329.6L120.7 329.5L120 328.5L119.8 328.3L119.1 327.5L118.9 327.2L118.2 326.4L118 326.2L117.1 325.4L117.1 325.3L116.2 324.7L115.7 324.3L115.3 324L114.4 323.6L113.6 323.2L113.6 323.2L112.7 323L111.8 322.9L110.9 322.9L110 323L109.4 323.2L109.1 323.3L108.2 323.7L107.3 324.2L107.2 324.3L106.4 324.8L105.8 325.3L105.5 325.6L104.7 326.4L104.6 326.5L103.8 327.5L103.8 327.5L102.9 328.5L102.9 328.6L102.2 329.6L102 329.9L101.5 330.7L101.1 331.3L100.9 331.7L100.3 332.8L100.2 332.9L99.7 333.8L99.3 334.6L99.2 334.9L98.7 336L98.4 336.5L98.2 337L97.7 338.1L97.5 338.5L97.3 339.2L96.8 340.2L96.6 340.7L96.4 341.3L96 342.3L95.7 343L95.6 343.4L95.2 344.5L94.8 345.4L94.8 345.5L94.4 346.6L94.1 347.6L94 348L93.7 348.7L93.4 349.8L93.1 350.7L93 350.8L92.7 351.9L92.4 353L92.2 353.7L92.1 354L91.8 355.1L91.5 356.1L91.3 357L91.2 357.2L91 358.3L90.7 359.3L90.5 360.4L90.4 361.1L90.3 361.4L90.1 362.5L89.9 363.6L89.8 364.6L89.6 365.7L89.5 366.8L89.5 366.8L89.4 367.8L89.3 368.9L89.2 369.9L89.1 371L89.1 372.1L89.1 373.1L89 374.2L89.1 375.2L89.1 376.3L89.2 377.4L89.3 378.4L89.4 379.5L89.5 380.1L89.6 380.6L89.8 381.6L90 382.7L90.3 383.7L90.4 384.1L90.6 384.8L90.9 385.9L91.3 386.7L91.3 386.9L91.8 388L92.2 388.7L92.3 389L92.9 390.1L93.1 390.4L93.5 391.2L94 391.8L94.2 392.2L94.8 393.1L95 393.3L95.7 394.2L95.9 394.4L96.6 395.2L96.8 395.4L97.5 396.1L97.9 396.5L98.4 397L99 397.5L99.3 397.8L100.2 398.5L100.3 398.6L101.1 399.2L101.8 399.7L102 399.8L102.9 400.4L103.5 400.7L103.8 400.9L104.6 401.4L105.5 401.8L105.6 401.8L106.4 402.2L107.3 402.5L108.2 402.8L108.5 402.8ZM109.1 399.7L110 399.9L110.9 400.1L111.8 400.2L112.7 400.2L113.6 400.3L114.4 400.2L115.3 400.1L116.2 400L117.1 399.8L117.8 399.7L118 399.6L118.9 399.3L119.8 399L120.7 398.6L120.7 398.6L121.6 398.2L122.5 397.7L122.7 397.5L123.4 397.1L124.2 396.5L124.3 396.5L125.1 395.8L125.5 395.4L126 394.9L126.6 394.4L126.9 394L127.5 393.3L127.8 392.9L128.3 392.2L128.7 391.7L129 391.2L129.6 390.1L129.6 390.1L130.1 389L130.5 388.1L130.6 388L130.9 386.9L131.2 385.9L131.4 385.3L131.5 384.8L131.7 383.7L131.9 382.7L132 381.6L132.1 380.6L132.2 379.5L132.2 378.4L132.3 377.4L132.2 376.3L132.2 375.2L132.1 374.2L132.1 373.1L132 372.1L131.8 371L131.7 369.9L131.6 368.9L131.4 367.8L131.4 367.8L131.2 366.8L131 365.7L130.8 364.6L130.5 363.6L130.5 363.3L130.3 362.5L130 361.4L129.7 360.4L129.6 359.8L129.5 359.3L129.1 358.3L128.8 357.2L128.7 356.9L128.5 356.1L128.1 355.1L127.8 354.2L127.7 354L127.4 353L127 351.9L126.9 351.8L126.5 350.8L126.1 349.8L126 349.6L125.7 348.7L125.2 347.6L125.1 347.5L124.8 346.6L124.3 345.5L124.2 345.5L123.8 344.5L123.4 343.6L123.2 343.4L122.7 342.3L122.5 341.9L122.1 341.3L121.6 340.3L121.5 340.2L120.9 339.2L120.7 338.9L120.1 338.1L119.8 337.6L119.4 337L118.9 336.4L118.5 336L118 335.4L117.5 334.9L117.1 334.5L116.4 333.8L116.2 333.7L115.3 333.1L114.8 332.8L114.4 332.6L113.6 332.2L112.7 332L111.8 331.9L110.9 331.9L110 332.1L109.1 332.3L108.2 332.8L108.2 332.8L107.3 333.3L106.6 333.8L106.4 334L105.5 334.8L105.4 334.9L104.6 335.7L104.4 336L103.8 336.8L103.6 337L102.9 338L102.8 338.1L102.1 339.2L102 339.4L101.5 340.2L101.1 340.9L100.9 341.3L100.3 342.3L100.2 342.5L99.8 343.4L99.3 344.3L99.2 344.5L98.7 345.5L98.4 346.2L98.2 346.6L97.8 347.6L97.5 348.2L97.3 348.7L96.9 349.8L96.6 350.4L96.5 350.8L96 351.9L95.7 352.8L95.7 353L95.3 354L94.9 355.1L94.8 355.4L94.6 356.1L94.3 357.2L94 358.3L94 358.4L93.7 359.3L93.5 360.4L93.2 361.4L93.1 362.1L93 362.5L92.8 363.6L92.6 364.6L92.4 365.7L92.3 366.8L92.2 367.4L92.1 367.8L92 368.9L91.9 369.9L91.8 371L91.8 372.1L91.7 373.1L91.7 374.2L91.7 375.2L91.8 376.3L91.8 377.4L91.9 378.4L92.1 379.5L92.2 380.1L92.2 380.6L92.5 381.6L92.7 382.7L93 383.7L93.1 383.9L93.4 384.8L93.8 385.9L94 386.3L94.2 386.9L94.8 388L94.8 388.1L95.3 389L95.7 389.7L96 390.1L96.6 391L96.8 391.2L97.5 392.1L97.6 392.2L98.4 393.2L98.5 393.3L99.3 394.1L99.6 394.4L100.2 394.9L100.8 395.4L101.1 395.6L102 396.3L102.2 396.5L102.9 396.9L103.8 397.5L103.9 397.5L104.6 398L105.5 398.4L105.9 398.6L106.4 398.8L107.3 399.2L108.2 399.5L109 399.7ZM110.9 394.4L111.8 394.5L112.7 394.6L113.6 394.6L114.4 394.5L115.3 394.4L115.6 394.4L116.2 394.2L117.1 394L118 393.7L118.9 393.3L118.9 393.3L119.8 392.8L120.7 392.2L120.7 392.2L121.6 391.6L122 391.2L122.5 390.8L123.1 390.1L123.4 389.8L124 389L124.2 388.6L124.7 388L125.1 387.1L125.2 386.9L125.7 385.9L126 385.1L126.1 384.8L126.5 383.7L126.7 382.7L126.9 381.6L126.9 381.6L127.1 380.6L127.2 379.5L127.2 378.4L127.3 377.4L127.3 376.3L127.2 375.2L127.2 374.2L127.1 373.1L126.9 372.1L126.9 372L126.8 371L126.6 369.9L126.4 368.9L126.2 367.8L126 367.1L125.9 366.8L125.7 365.7L125.4 364.6L125.1 363.8L125.1 363.6L124.7 362.5L124.3 361.4L124.2 361.2L123.9 360.4L123.5 359.3L123.4 359L123 358.3L122.5 357.2L122.5 357L122 356.1L121.6 355.3L121.4 355.1L120.8 354L120.7 353.8L120.1 353L119.8 352.5L119.4 351.9L118.9 351.3L118.5 350.8L118 350.2L117.5 349.8L117.1 349.3L116.4 348.7L116.2 348.6L115.3 347.9L114.8 347.6L114.4 347.4L113.6 347L112.7 346.8L111.8 346.7L110.9 346.7L110 346.9L109.1 347.2L108.2 347.6L108.1 347.6L107.3 348.1L106.6 348.7L106.4 348.8L105.5 349.7L105.4 349.8L104.6 350.6L104.5 350.8L103.8 351.7L103.6 351.9L102.9 353L102.9 353L102.2 354L102 354.5L101.6 355.1L101.1 356.1L101.1 356.1L100.6 357.2L100.2 358L100.1 358.3L99.7 359.3L99.3 360.3L99.3 360.4L98.9 361.4L98.6 362.5L98.4 363L98.3 363.6L98 364.6L97.7 365.7L97.5 366.7L97.5 366.8L97.3 367.8L97.1 368.9L97 369.9L96.9 371L96.8 372.1L96.7 373.1L96.7 374.2L96.7 375.2L96.7 376.3L96.8 377.4L96.9 378.4L97.1 379.5L97.3 380.6L97.5 381.4L97.6 381.6L97.9 382.7L98.3 383.7L98.4 384L98.7 384.8L99.3 385.9L99.3 385.9L99.9 386.9L100.2 387.3L100.6 388L101.1 388.5L101.5 389L102 389.6L102.5 390.1L102.9 390.4L103.7 391.2L103.8 391.2L104.6 391.9L105.2 392.2L105.5 392.4L106.4 392.9L107.2 393.3L107.3 393.3L108.2 393.7L109.1 394L110 394.2L110.6 394.4ZM109.1 388L110 388.3L110.9 388.6L111.8 388.7L112.7 388.8L113.6 388.7L114.4 388.6L115.3 388.3L116.2 388L116.3 388L117.1 387.5L118 386.9L118 386.9L118.9 386.1L119.1 385.9L119.8 385L119.9 384.8L120.6 383.7L120.7 383.5L121 382.7L121.4 381.6L121.6 381L121.7 380.6L121.9 379.5L122 378.4L122.1 377.4L122.1 376.3L122 375.2L121.9 374.2L121.8 373.1L121.6 372.1L121.6 371.8L121.4 371L121.2 369.9L120.9 368.9L120.7 368.3L120.5 367.8L120.1 366.8L119.8 366L119.7 365.7L119.2 364.6L118.9 364.1L118.6 363.6L118 362.7L117.9 362.5L117.1 361.4L117.1 361.4L116.2 360.5L116.1 360.4L115.3 359.7L114.8 359.3L114.4 359.1L113.6 358.6L112.7 358.4L111.8 358.3L111.8 358.3L111.8 358.3L110.9 358.3L110 358.5L109.1 358.9L108.3 359.3L108.2 359.4L107.3 360.1L107.1 360.4L106.4 361.1L106.1 361.4L105.5 362.2L105.4 362.5L104.7 363.6L104.6 363.7L104.2 364.6L103.8 365.6L103.7 365.7L103.3 366.8L103 367.8L102.9 368.2L102.7 368.9L102.4 369.9L102.2 371L102.1 372.1L102 373.1L102 373.1L101.9 374.2L101.9 375.2L101.9 376.3L102 376.7L102 377.4L102.2 378.4L102.4 379.5L102.7 380.6L102.9 381L103.1 381.6L103.6 382.7L103.8 383L104.2 383.7L104.6 384.4L104.9 384.8L105.5 385.5L105.9 385.9L106.4 386.3L107.2 386.9L107.3 387L108.2 387.6L109.1 388Z" fill="none" stroke="#5d86a5" stroke-width="2.0" stroke-linejoin="round"/>
<path d="M200.7 436.3L201.7 436.4L202.7 436.4L203.7 436.5L204.7 436.5L205.6 436.5L206.6 436.4L207.6 436.4L208.6 436.3L209.3 436.2L209.6 436.2L210.6 436.1L211.6 435.9L212.6 435.7L213.6 435.6L214.6 435.3L214.8 435.3L215.6 435.1L216.6 434.8L217.6 434.5L218.1 434.4L218.6 434.2L219.6 433.9L220.5 433.5L220.7 433.4L221.5 433.1L222.5 432.7L222.8 432.5L223.5 432.2L224.5 431.7L224.6 431.6L225.5 431.1L226.3 430.7L226.5 430.5L227.5 429.9L227.7 429.8L228.5 429.2L228.9 428.8L229.5 428.4L230.1 427.9L230.5 427.6L231.1 427L231.5 426.6L232 426.1L232.5 425.6L232.9 425.1L233.5 424.5L233.7 424.2L234.3 423.3L234.5 423.1L235 422.4L235.5 421.6L235.5 421.5L236 420.5L236.4 419.7L236.5 419.6L236.9 418.7L237.2 417.8L237.4 417.1L237.5 416.8L237.8 415.9L238.1 415L238.3 414.1L238.4 413.3L238.5 413.2L238.6 412.2L238.8 411.3L239 410.4L239.1 409.5L239.3 408.6L239.4 407.9L239.5 407.6L239.7 406.7L239.9 405.8L240.1 404.9L240.4 403.9L240.4 403.7L240.6 403L240.9 402.1L241.2 401.2L241.4 400.7L241.6 400.3L241.9 399.3L242.3 398.4L242.4 398L242.6 397.5L243 396.6L243.3 395.6L243.4 395.5L243.7 394.7L244 393.8L244.4 392.9L244.4 392.8L244.7 392L245 391L245.3 390.1L245.4 389.8L245.6 389.2L245.8 388.3L246.1 387.4L246.3 386.4L246.4 386L246.5 385.5L246.7 384.6L246.9 383.7L247 382.7L247.2 381.8L247.3 380.9L247.4 380L247.4 380L247.5 379.1L247.6 378.1L247.6 377.2L247.7 376.3L247.7 375.4L247.7 374.4L247.7 373.5L247.8 372.6L247.7 371.7L247.7 370.8L247.7 369.8L247.7 368.9L247.6 368L247.5 367.1L247.5 366.2L247.4 365.2L247.4 365L247.3 364.3L247.2 363.4L247.1 362.5L247 361.5L246.9 360.6L246.7 359.7L246.6 358.8L246.4 357.9L246.4 357.7L246.2 356.9L246.1 356L245.9 355.1L245.6 354.2L245.4 353.2L245.4 353.2L245.2 352.3L244.9 351.4L244.7 350.5L244.4 349.6L244.4 349.5L244.1 348.6L243.8 347.7L243.6 346.8L243.4 346.3L243.3 345.9L243 345L242.7 344L242.4 343.2L242.4 343.1L242.1 342.2L241.8 341.3L241.5 340.3L241.4 340L241.2 339.4L241 338.5L240.8 337.6L240.5 336.7L240.4 336.3L240.3 335.7L240.1 334.8L239.9 333.9L239.7 333L239.5 332L239.4 331.5L239.4 331.1L239.2 330.2L239 329.3L238.9 328.4L238.7 327.4L238.5 326.5L238.4 326.2L238.3 325.6L238.1 324.7L237.9 323.8L237.7 322.8L237.4 322L237.4 321.9L237.1 321L236.9 320.1L236.6 319.1L236.4 318.8L236.2 318.2L235.9 317.3L235.5 316.4L235.5 316.3L235.1 315.5L234.7 314.5L234.5 314.1L234.2 313.6L233.7 312.7L233.5 312.3L233.2 311.8L232.6 310.8L232.5 310.6L232.1 309.9L231.5 309.1L231.4 309L230.8 308.1L230.5 307.7L230 307.2L229.5 306.5L229.3 306.2L228.5 305.4L228.4 305.3L227.5 304.4L227.5 304.4L226.5 303.5L226.5 303.5L225.5 302.6L225.4 302.6L224.5 301.9L224.2 301.6L223.5 301.2L222.8 300.7L222.5 300.6L221.5 300L221.1 299.8L220.5 299.5L219.6 299.1L219.1 298.9L218.6 298.7L217.6 298.3L216.6 298L216.4 297.9L215.6 297.7L214.6 297.5L213.6 297.3L212.6 297.1L211.7 297L211.6 297L210.6 296.9L209.6 296.9L208.6 296.8L207.6 296.9L206.6 296.9L205.6 297L205.3 297L204.7 297.1L203.7 297.2L202.7 297.4L201.7 297.6L200.7 297.9L200.4 297.9L199.7 298.1L198.7 298.5L197.7 298.8L197.6 298.9L196.7 299.2L195.7 299.7L195.4 299.8L194.7 300.1L193.7 300.7L193.7 300.7L192.7 301.2L192.1 301.6L191.7 301.9L190.8 302.6L190.7 302.6L189.8 303.3L189.6 303.5L188.8 304.2L188.5 304.4L187.8 305.1L187.5 305.3L186.8 306L186.6 306.2L185.8 307.1L185.7 307.2L184.9 308.1L184.8 308.3L184.2 309L183.8 309.6L183.5 309.9L182.9 310.8L182.8 311L182.3 311.8L181.8 312.5L181.7 312.7L181.1 313.6L180.8 314.2L180.6 314.5L180.1 315.5L179.8 316.1L179.7 316.4L179.2 317.3L178.8 318.2L178.8 318.2L178.4 319.1L178 320.1L177.8 320.6L177.7 321L177.4 321.9L177.1 322.8L176.8 323.6L176.8 323.8L176.5 324.7L176.3 325.6L176 326.5L175.8 327.3L175.8 327.4L175.6 328.4L175.4 329.3L175.2 330.2L175.1 331.1L174.9 332L174.8 332.3L174.7 333L174.5 333.9L174.4 334.8L174.2 335.7L174 336.7L173.9 337.5L173.8 337.6L173.6 338.5L173.4 339.4L173.2 340.3L173 341.3L172.9 341.8L172.7 342.2L172.5 343.1L172.2 344L172 345L171.9 345.2L171.7 345.9L171.4 346.8L171.1 347.7L170.9 348.4L170.8 348.6L170.5 349.6L170.2 350.5L169.9 351.4L169.9 351.6L169.6 352.3L169.4 353.2L169.1 354.2L168.9 355L168.8 355.1L168.6 356L168.3 356.9L168.1 357.9L167.9 358.8L167.9 358.8L167.7 359.7L167.5 360.6L167.3 361.5L167.1 362.5L167 363.4L166.9 363.8L166.8 364.3L166.7 365.2L166.5 366.2L166.4 367.1L166.3 368L166.2 368.9L166.1 369.8L166 370.8L166 371.7L165.9 372.5L165.9 372.6L165.8 373.5L165.8 374.4L165.8 375.4L165.8 376.3L165.8 377.2L165.8 378.1L165.8 379.1L165.8 380L165.9 380.9L165.9 381.4L165.9 381.8L166 382.7L166.1 383.7L166.2 384.6L166.3 385.5L166.5 386.4L166.6 387.4L166.8 388.3L166.9 388.6L167 389.2L167.2 390.1L167.5 391L167.7 392L167.9 392.5L168 392.9L168.3 393.8L168.6 394.7L168.9 395.5L168.9 395.6L169.3 396.6L169.6 397.5L169.9 398.1L170 398.4L170.4 399.3L170.8 400.3L170.9 400.5L171.1 401.2L171.5 402.1L171.9 403L171.9 403L172.2 403.9L172.6 404.9L172.9 405.6L172.9 405.8L173.2 406.7L173.5 407.6L173.8 408.6L173.9 408.9L174 409.5L174.2 410.4L174.4 411.3L174.6 412.2L174.7 413.2L174.8 413.8L174.9 414.1L175.1 415L175.2 415.9L175.4 416.8L175.6 417.8L175.8 418.5L175.9 418.7L176.2 419.6L176.5 420.5L176.8 421.5L176.8 421.5L177.2 422.4L177.7 423.3L177.8 423.6L178.2 424.2L178.8 425.1L178.8 425.2L179.4 426.1L179.8 426.5L180.2 427L180.8 427.7L181 427.9L181.8 428.7L182 428.8L182.8 429.6L183 429.8L183.8 430.3L184.3 430.7L184.8 431L185.7 431.6L185.8 431.7L186.8 432.2L187.3 432.5L187.8 432.8L188.8 433.2L189.2 433.4L189.8 433.7L190.7 434.1L191.6 434.4L191.7 434.4L192.7 434.7L193.7 435L194.7 435.3L194.7 435.3L195.7 435.5L196.7 435.7L197.7 435.9L198.7 436.1L199.7 436.2L200 436.2ZM104.3 428L105.3 428.2L106.3 428.3L107.3 428.4L108.3 428.5L109.3 428.6L110.3 428.6L111.3 428.6L112.3 428.5L113.3 428.4L114.2 428.3L115.2 428.2L116.2 428L116.8 427.9L117.2 427.8L118.2 427.6L119.2 427.3L120.2 427L120.3 427L121.2 426.7L122.2 426.3L122.7 426.1L123.2 425.9L124.2 425.4L124.7 425.1L125.2 424.9L126.2 424.3L126.3 424.2L127.2 423.7L127.8 423.3L128.2 423L129 422.4L129.1 422.3L130.1 421.5L130.1 421.5L131.1 420.5L131.1 420.5L132.1 419.6L132.1 419.5L132.9 418.7L133.1 418.4L133.6 417.8L134.1 417.1L134.3 416.8L134.9 415.9L135.1 415.7L135.5 415L136 414.1L136.1 414L136.5 413.2L137 412.2L137.1 412L137.4 411.3L137.8 410.4L138.1 409.6L138.1 409.5L138.5 408.6L138.8 407.6L139.1 406.8L139.1 406.7L139.4 405.8L139.7 404.9L139.9 403.9L140.1 403.4L140.2 403L140.4 402.1L140.7 401.2L140.9 400.3L141.1 399.7L141.2 399.3L141.4 398.4L141.7 397.5L141.9 396.6L142.1 396L142.1 395.6L142.4 394.7L142.6 393.8L142.9 392.9L143.1 392L143.1 392L143.3 391L143.5 390.1L143.7 389.2L143.9 388.3L144.1 387.5L144.1 387.4L144.2 386.4L144.4 385.5L144.5 384.6L144.7 383.7L144.8 382.7L144.8 381.8L144.9 380.9L145 380L145 379.1L145 378.1L145 377.2L145 376.3L144.9 375.4L144.9 374.4L144.8 373.5L144.7 372.6L144.6 371.7L144.4 370.8L144.3 369.8L144.1 368.9L144.1 368.7L143.9 368L143.7 367.1L143.5 366.2L143.2 365.2L143.1 364.6L143 364.3L142.7 363.4L142.5 362.5L142.2 361.5L142.1 361.1L141.9 360.6L141.6 359.7L141.4 358.8L141.1 357.9L141.1 357.7L140.9 356.9L140.7 356L140.5 355.1L140.3 354.2L140.1 353.2L140.1 353.1L140 352.3L139.8 351.4L139.7 350.5L139.7 349.6L139.6 348.6L139.5 347.7L139.4 346.8L139.4 345.9L139.3 345L139.2 344L139.1 343.1L139.1 342.8L139 342.2L138.9 341.3L138.7 340.3L138.5 339.4L138.3 338.5L138.1 337.7L138.1 337.6L137.8 336.7L137.4 335.7L137.1 334.9L137 334.8L136.6 333.9L136.1 333L136.1 332.9L135.6 332L135.1 331.3L135 331.1L134.3 330.2L134.1 329.9L133.6 329.3L133.1 328.8L132.8 328.4L132.1 327.7L131.8 327.4L131.1 326.8L130.8 326.5L130.1 325.9L129.7 325.6L129.1 325.2L128.4 324.7L128.2 324.5L127.2 323.9L127 323.8L126.2 323.3L125.3 322.8L125.2 322.8L124.2 322.3L123.2 321.9L123.2 321.9L122.2 321.5L121.2 321.2L120.5 321L120.2 320.9L119.2 320.7L118.2 320.5L117.2 320.3L116.2 320.2L115.2 320.1L115.2 320.1L114.2 320L113.3 320L112.3 320L111.6 320.1L111.3 320.1L110.3 320.2L109.3 320.3L108.3 320.5L107.3 320.7L106.3 320.9L106.2 321L105.3 321.2L104.3 321.6L103.4 321.9L103.3 321.9L102.3 322.3L101.3 322.8L101.3 322.8L100.3 323.3L99.5 323.8L99.3 323.8L98.4 324.4L98 324.7L97.4 325.1L96.6 325.6L96.4 325.8L95.4 326.5L95.4 326.5L94.4 327.3L94.3 327.4L93.4 328.2L93.2 328.4L92.4 329.2L92.3 329.3L91.5 330.2L91.4 330.3L90.7 331.1L90.4 331.5L90 332L89.4 332.9L89.3 333L88.7 333.9L88.4 334.4L88.2 334.8L87.7 335.7L87.4 336.3L87.3 336.7L86.9 337.6L86.5 338.5L86.4 338.7L86.2 339.4L85.9 340.3L85.7 341.3L85.5 342.2L85.4 342.3L85.3 343.1L85.1 344L85 345L84.9 345.9L84.8 346.8L84.7 347.7L84.6 348.6L84.6 349.6L84.5 350.5L84.4 351.4L84.4 351.4L84.4 352.3L84.3 353.2L84.2 354.2L84.1 355.1L83.9 356L83.8 356.9L83.6 357.9L83.4 358.6L83.4 358.8L83.2 359.7L83 360.6L82.7 361.5L82.5 362.5L82.5 362.6L82.2 363.4L82 364.3L81.7 365.2L81.5 366.2L81.5 366.2L81.2 367.1L81 368L80.8 368.9L80.5 369.8L80.5 370.2L80.3 370.8L80.1 371.7L80 372.6L79.8 373.5L79.7 374.4L79.5 375.4L79.5 376L79.4 376.3L79.4 377.2L79.3 378.1L79.2 379.1L79.2 380L79.2 380.9L79.2 381.8L79.2 382.7L79.2 383.7L79.3 384.6L79.4 385.5L79.5 386.4L79.5 386.6L79.6 387.4L79.7 388.3L79.8 389.2L80 390.1L80.1 391L80.3 392L80.5 392.7L80.5 392.9L80.7 393.8L80.9 394.7L81.1 395.6L81.4 396.6L81.5 397L81.6 397.5L81.8 398.4L82.1 399.3L82.3 400.3L82.5 400.8L82.5 401.2L82.8 402.1L83 403L83.3 403.9L83.4 404.6L83.5 404.9L83.8 405.8L84 406.7L84.3 407.6L84.4 408.1L84.6 408.6L84.9 409.5L85.2 410.4L85.4 411.1L85.5 411.3L85.9 412.2L86.2 413.2L86.4 413.6L86.6 414.1L87.1 415L87.4 415.6L87.6 415.9L88.1 416.8L88.4 417.4L88.7 417.8L89.3 418.7L89.4 418.8L90 419.6L90.4 420.1L90.8 420.5L91.4 421.2L91.7 421.5L92.4 422.1L92.7 422.4L93.4 423L93.8 423.3L94.4 423.7L95.1 424.2L95.4 424.4L96.4 425L96.6 425.1L97.4 425.6L98.4 426.1L98.4 426.1L99.3 426.5L100.3 426.9L100.7 427L101.3 427.2L102.3 427.5L103.3 427.8L104 427.9ZM203.7 428L204.7 428L205.6 428L206.6 428L207.6 428L208.1 427.9L208.6 427.9L209.6 427.7L210.6 427.6L211.6 427.3L212.6 427.1L213 427L213.6 426.8L214.6 426.5L215.6 426.1L215.6 426.1L216.6 425.6L217.5 425.1L217.6 425.1L218.6 424.6L219.1 424.2L219.6 423.9L220.4 423.3L220.5 423.2L221.5 422.4L221.5 422.4L222.5 421.5L222.5 421.4L223.3 420.5L223.5 420.2L224 419.6L224.5 418.9L224.6 418.7L225.2 417.8L225.5 417.1L225.7 416.8L226.1 415.9L226.4 415L226.5 414.8L226.7 414.1L227 413.2L227.3 412.2L227.5 411.5L227.5 411.3L227.8 410.4L228 409.5L228.3 408.6L228.5 407.9L228.6 407.6L228.9 406.7L229.2 405.8L229.5 405.1L229.6 404.9L230 403.9L230.4 403L230.5 402.8L230.8 402.1L231.3 401.2L231.5 400.7L231.7 400.3L232.2 399.3L232.5 398.8L232.7 398.4L233.2 397.5L233.5 397L233.7 396.6L234.1 395.6L234.5 395L234.6 394.7L235.1 393.8L235.5 392.9L235.5 392.9L235.9 392L236.3 391L236.4 390.6L236.7 390.1L237 389.2L237.3 388.3L237.4 387.9L237.6 387.4L237.9 386.4L238.2 385.5L238.4 384.6L238.4 384.3L238.6 383.7L238.8 382.7L238.9 381.8L239.1 380.9L239.2 380L239.3 379.1L239.4 378.1L239.4 377.8L239.5 377.2L239.5 376.3L239.6 375.4L239.6 374.4L239.6 373.5L239.6 372.6L239.6 371.7L239.6 370.8L239.5 369.8L239.5 368.9L239.4 368.4L239.4 368L239.3 367.1L239.2 366.2L239.1 365.2L239 364.3L238.9 363.4L238.7 362.5L238.6 361.5L238.4 360.7L238.4 360.6L238.2 359.7L238 358.8L237.8 357.9L237.6 356.9L237.4 356.4L237.3 356L237.1 355.1L236.8 354.2L236.5 353.2L236.4 353.1L236.2 352.3L235.9 351.4L235.5 350.5L235.5 350.4L235.1 349.6L234.8 348.6L234.5 347.9L234.4 347.7L234 346.8L233.6 345.9L233.5 345.6L233.2 345L232.8 344L232.5 343.4L232.4 343.1L232 342.2L231.6 341.3L231.5 341.1L231.2 340.3L230.8 339.4L230.5 338.6L230.4 338.5L230.1 337.6L229.8 336.7L229.5 335.9L229.4 335.7L229.1 334.8L228.9 333.9L228.6 333L228.5 332.7L228.3 332L228.1 331.1L227.8 330.2L227.5 329.3L227.5 329.2L227.3 328.4L227 327.4L226.7 326.5L226.5 326L226.4 325.6L226 324.7L225.7 323.8L225.5 323.4L225.3 322.8L224.8 321.9L224.5 321.3L224.3 321L223.8 320.1L223.5 319.6L223.2 319.1L222.6 318.2L222.5 318.2L221.9 317.3L221.5 316.9L221.1 316.4L220.5 315.8L220.2 315.5L219.6 314.9L219.2 314.5L218.6 314L218 313.6L217.6 313.3L216.6 312.7L216.6 312.7L215.6 312.1L214.9 311.8L214.6 311.6L213.6 311.2L212.6 310.9L212.5 310.8L211.6 310.6L210.6 310.4L209.6 310.3L208.6 310.2L207.6 310.2L206.6 310.2L205.6 310.3L204.7 310.5L203.7 310.7L203.1 310.8L202.7 311L201.7 311.3L200.7 311.7L200.6 311.8L199.7 312.2L198.8 312.7L198.7 312.7L197.7 313.4L197.3 313.6L196.7 314.1L196.1 314.5L195.7 314.9L195 315.5L194.7 315.8L194.1 316.4L193.7 316.8L193.2 317.3L192.7 317.9L192.5 318.2L191.7 319.1L191.7 319.2L191.1 320.1L190.7 320.6L190.5 321L190 321.9L189.8 322.3L189.5 322.8L189 323.8L188.8 324.3L188.6 324.7L188.2 325.6L187.8 326.5L187.8 326.7L187.5 327.4L187.2 328.4L186.9 329.3L186.8 329.8L186.6 330.2L186.4 331.1L186.1 332L185.9 333L185.8 333.3L185.6 333.9L185.4 334.8L185.1 335.7L184.8 336.7L184.8 336.8L184.5 337.6L184.2 338.5L183.9 339.4L183.8 339.8L183.6 340.3L183.3 341.3L182.9 342.2L182.8 342.5L182.6 343.1L182.2 344L181.8 345L181.8 345L181.4 345.9L181 346.8L180.8 347.3L180.6 347.7L180.2 348.6L179.9 349.6L179.8 349.7L179.5 350.5L179.1 351.4L178.8 352.1L178.7 352.3L178.4 353.2L178.1 354.2L177.8 354.8L177.7 355.1L177.4 356L177.1 356.9L176.9 357.9L176.8 357.9L176.6 358.8L176.3 359.7L176.1 360.6L175.9 361.5L175.8 361.8L175.7 362.5L175.5 363.4L175.3 364.3L175.2 365.2L175 366.2L174.9 367.1L174.8 367.3L174.8 368L174.6 368.9L174.5 369.8L174.5 370.8L174.4 371.7L174.3 372.6L174.3 373.5L174.2 374.4L174.2 375.4L174.2 376.3L174.2 377.2L174.2 378.1L174.2 379.1L174.3 380L174.3 380.9L174.4 381.8L174.5 382.7L174.6 383.7L174.8 384.6L174.8 385L174.9 385.5L175.1 386.4L175.3 387.4L175.5 388.3L175.8 389.2L175.8 389.4L176.1 390.1L176.4 391L176.7 392L176.8 392.3L177 392.9L177.4 393.8L177.8 394.7L177.8 394.7L178.2 395.6L178.7 396.6L178.8 396.8L179.2 397.5L179.7 398.4L179.8 398.7L180.2 399.3L180.7 400.3L180.8 400.5L181.2 401.2L181.7 402.1L181.8 402.3L182.2 403L182.7 403.9L182.8 404.1L183.2 404.9L183.6 405.8L183.8 406.1L184 406.7L184.4 407.6L184.8 408.5L184.8 408.6L185.1 409.5L185.4 410.4L185.7 411.3L185.8 411.6L185.9 412.2L186.2 413.2L186.5 414.1L186.7 415L186.8 415.1L187 415.9L187.3 416.8L187.7 417.8L187.8 417.9L188.1 418.7L188.6 419.6L188.8 419.8L189.2 420.5L189.8 421.3L189.9 421.5L190.7 422.4L190.7 422.5L191.6 423.3L191.7 423.4L192.7 424.2L192.7 424.2L193.7 424.9L194.1 425.1L194.7 425.5L195.7 426L195.9 426.1L196.7 426.4L197.7 426.8L198.3 427L198.7 427.1L199.7 427.4L200.7 427.6L201.7 427.8L202.7 427.9L203 427.9ZM108.3 414.2L109.3 414.4L110.3 414.5L111.3 414.6L112.3 414.6L113.3 414.4L114.2 414.3L114.9 414.1L115.2 414L116.2 413.6L117.2 413.2L117.3 413.2L118.2 412.7L118.9 412.2L119.2 412L120.1 411.3L120.2 411.3L121.2 410.4L121.2 410.4L122.1 409.5L122.2 409.3L122.8 408.6L123.2 408.1L123.5 407.6L124.2 406.7L124.2 406.7L124.8 405.8L125.2 405.1L125.3 404.9L125.8 403.9L126.2 403.3L126.3 403L126.8 402.1L127.2 401.4L127.3 401.2L127.7 400.3L128.1 399.3L128.2 399.3L128.6 398.4L129 397.5L129.1 397.1L129.4 396.6L129.8 395.6L130.1 394.7L130.1 394.7L130.5 393.8L130.9 392.9L131.1 392.2L131.2 392L131.5 391L131.8 390.1L132.1 389.2L132.1 389.2L132.4 388.3L132.7 387.4L132.9 386.4L133.1 385.5L133.1 385.4L133.3 384.6L133.4 383.7L133.6 382.7L133.7 381.8L133.8 380.9L133.8 380L133.9 379.1L133.9 378.1L133.8 377.2L133.8 376.3L133.7 375.4L133.6 374.4L133.5 373.5L133.3 372.6L133.1 371.8L133.1 371.7L132.9 370.8L132.6 369.8L132.4 368.9L132.1 368.3L132 368L131.7 367.1L131.3 366.2L131.1 365.7L131 365.2L130.5 364.3L130.1 363.5L130.1 363.4L129.7 362.5L129.2 361.5L129.1 361.5L128.7 360.6L128.3 359.7L128.2 359.5L127.8 358.8L127.4 357.9L127.2 357.4L126.9 356.9L126.5 356L126.2 355.1L126.2 355.1L125.8 354.2L125.5 353.2L125.3 352.3L125.2 351.9L125 351.4L124.9 350.5L124.7 349.6L124.5 348.6L124.4 347.7L124.3 346.8L124.2 346.4L124.1 345.9L123.9 345L123.7 344L123.5 343.1L123.2 342.3L123.2 342.2L122.8 341.3L122.3 340.3L122.2 340.2L121.7 339.4L121.2 338.7L121 338.5L120.2 337.7L120.1 337.6L119.2 336.9L118.9 336.7L118.2 336.2L117.2 335.8L117.2 335.7L116.2 335.4L115.2 335.1L114.2 334.9L113.3 334.8L112.3 334.8L111.3 334.9L110.3 335L109.3 335.3L108.3 335.6L107.9 335.7L107.3 336L106.3 336.5L106.1 336.7L105.3 337.2L104.8 337.6L104.3 338L103.8 338.5L103.3 339L103 339.4L102.3 340.3L102.3 340.3L101.7 341.3L101.3 342.1L101.3 342.2L100.9 343.1L100.6 344L100.3 344.9L100.3 345L100.1 345.9L99.9 346.8L99.8 347.7L99.6 348.6L99.5 349.6L99.3 350.5L99.3 350.5L99.2 351.4L99 352.3L98.8 353.2L98.6 354.2L98.4 354.9L98.3 355.1L98 356L97.7 356.9L97.4 357.7L97.3 357.9L96.9 358.8L96.5 359.7L96.4 360L96.1 360.6L95.6 361.5L95.4 362.1L95.2 362.5L94.7 363.4L94.4 364.2L94.3 364.3L93.9 365.2L93.5 366.2L93.4 366.3L93.1 367.1L92.7 368L92.4 368.8L92.3 368.9L92 369.8L91.7 370.8L91.4 371.7L91.4 371.8L91.2 372.6L90.9 373.5L90.7 374.4L90.6 375.4L90.4 376.3L90.4 376.5L90.3 377.2L90.2 378.1L90.2 379.1L90.1 380L90.1 380.9L90.1 381.8L90.2 382.7L90.3 383.7L90.4 384.6L90.4 385L90.5 385.5L90.6 386.4L90.8 387.4L91 388.3L91.2 389.2L91.4 389.8L91.5 390.1L91.8 391L92.1 392L92.4 392.9L92.4 392.9L92.7 393.8L93.1 394.7L93.4 395.5L93.4 395.6L93.8 396.6L94.2 397.5L94.4 397.9L94.6 398.4L95 399.3L95.4 400L95.5 400.3L95.9 401.2L96.4 402.1L96.4 402.1L96.8 403L97.3 403.9L97.4 404L97.8 404.9L98.4 405.8L98.4 405.8L98.9 406.7L99.3 407.3L99.6 407.6L100.2 408.6L100.3 408.7L101 409.5L101.3 409.9L101.8 410.4L102.3 410.9L102.8 411.3L103.3 411.8L104 412.2L104.3 412.5L105.3 413.1L105.5 413.2L106.3 413.6L107.3 413.9L107.8 414.1ZM203.7 421.5L204.7 421.7L205.6 421.7L206.6 421.7L207.6 421.7L208.6 421.5L209 421.5L209.6 421.3L210.6 421L211.6 420.7L212 420.5L212.6 420.3L213.6 419.7L213.8 419.6L214.6 419.1L215.1 418.7L215.6 418.2L216.1 417.8L216.6 417.3L216.9 416.8L217.6 416L217.6 415.9L218.2 415L218.6 414.4L218.7 414.1L219.2 413.2L219.6 412.4L219.6 412.2L220 411.3L220.4 410.4L220.5 410L220.8 409.5L221.2 408.6L221.5 407.8L221.6 407.6L222.1 406.7L222.5 405.8L222.6 405.8L223.1 404.9L223.5 404.1L223.6 403.9L224.2 403L224.5 402.5L224.8 402.1L225.4 401.2L225.5 401L226 400.3L226.5 399.5L226.6 399.3L227.3 398.4L227.5 398L227.9 397.5L228.5 396.6L228.5 396.5L229.1 395.6L229.5 394.9L229.6 394.7L230.2 393.8L230.5 393.2L230.7 392.9L231.2 392L231.5 391.3L231.6 391L232 390.1L232.4 389.2L232.5 389.1L232.8 388.3L233.2 387.4L233.5 386.4L233.5 386.4L233.8 385.5L234 384.6L234.3 383.7L234.5 382.8L234.5 382.7L234.6 381.8L234.8 380.9L235 380L235.1 379.1L235.2 378.1L235.2 377.2L235.3 376.3L235.3 375.4L235.4 374.4L235.4 373.5L235.4 372.6L235.3 371.7L235.3 370.8L235.3 369.8L235.2 368.9L235.1 368L235 367.1L234.9 366.2L234.8 365.2L234.7 364.3L234.5 363.4L234.5 363.2L234.3 362.5L234.2 361.5L234 360.6L233.7 359.7L233.5 358.8L233.5 358.7L233.2 357.9L233 356.9L232.7 356L232.5 355.5L232.3 355.1L232 354.2L231.6 353.2L231.5 352.9L231.3 352.3L230.9 351.4L230.5 350.6L230.4 350.5L230 349.6L229.5 348.6L229.5 348.6L229 347.7L228.5 346.8L228.5 346.7L228 345.9L227.5 345L227.5 344.9L227 344L226.5 343.2L226.5 343.1L225.9 342.2L225.5 341.5L225.4 341.3L224.9 340.3L224.5 339.7L224.4 339.4L223.9 338.5L223.5 337.8L223.4 337.6L223 336.7L222.5 335.8L222.5 335.7L222.1 334.8L221.7 333.9L221.5 333.6L221.3 333L220.9 332L220.5 331.3L220.5 331.1L220.1 330.2L219.6 329.3L219.6 329.1L219.2 328.4L218.7 327.4L218.6 327.2L218.2 326.5L217.6 325.6L217.6 325.6L216.9 324.7L216.6 324.3L216.1 323.8L215.6 323.2L215.2 322.8L214.6 322.3L214.1 321.9L213.6 321.5L212.7 321L212.6 320.9L211.6 320.5L210.6 320.1L210.5 320.1L209.6 319.9L208.6 319.7L207.6 319.6L206.6 319.7L205.6 319.8L204.7 320L204.4 320.1L203.7 320.3L202.7 320.7L202.2 321L201.7 321.3L200.7 321.9L200.7 321.9L199.7 322.7L199.5 322.8L198.7 323.6L198.5 323.8L197.7 324.7L197.7 324.7L197 325.6L196.7 326L196.4 326.5L195.8 327.4L195.7 327.6L195.3 328.4L194.8 329.3L194.7 329.5L194.4 330.2L194 331.1L193.7 331.7L193.6 332L193.2 333L192.8 333.9L192.7 334L192.4 334.8L192 335.7L191.7 336.4L191.6 336.7L191.2 337.6L190.8 338.5L190.7 338.6L190.3 339.4L189.9 340.3L189.8 340.6L189.4 341.3L188.9 342.2L188.8 342.5L188.5 343.1L188 344L187.8 344.4L187.5 345L187 345.9L186.8 346.2L186.5 346.8L186 347.7L185.8 348.1L185.5 348.6L185 349.6L184.8 350L184.6 350.5L184.1 351.4L183.8 352.1L183.7 352.3L183.3 353.2L182.9 354.2L182.8 354.3L182.5 355.1L182.1 356L181.8 356.8L181.8 356.9L181.4 357.9L181.1 358.8L180.9 359.7L180.8 359.9L180.6 360.6L180.3 361.5L180.1 362.5L179.9 363.4L179.8 363.7L179.7 364.3L179.5 365.2L179.3 366.2L179.2 367.1L179.1 368L178.9 368.9L178.8 369.8L178.8 369.9L178.7 370.8L178.6 371.7L178.6 372.6L178.5 373.5L178.5 374.4L178.5 375.4L178.4 376.3L178.4 377.2L178.5 378.1L178.5 379.1L178.6 380L178.6 380.9L178.7 381.8L178.8 382.4L178.9 382.7L179 383.7L179.2 384.6L179.3 385.5L179.6 386.4L179.8 387.4L179.8 387.4L180.1 388.3L180.4 389.2L180.7 390.1L180.8 390.4L181.1 391L181.4 392L181.8 392.7L181.9 392.9L182.3 393.8L182.8 394.7L182.8 394.7L183.3 395.6L183.8 396.4L183.9 396.6L184.5 397.5L184.8 397.9L185.1 398.4L185.7 399.3L185.8 399.4L186.4 400.3L186.8 400.8L187.1 401.2L187.7 402.1L187.8 402.2L188.4 403L188.8 403.5L189 403.9L189.7 404.9L189.8 405L190.3 405.8L190.7 406.5L190.9 406.7L191.4 407.6L191.7 408.2L191.9 408.6L192.4 409.5L192.7 410.2L192.8 410.4L193.2 411.3L193.6 412.2L193.7 412.4L194 413.2L194.5 414.1L194.7 414.6L194.9 415L195.5 415.9L195.7 416.3L196.1 416.8L196.7 417.7L196.8 417.8L197.7 418.7L197.7 418.7L198.7 419.5L198.9 419.6L199.7 420.1L200.5 420.5L200.7 420.6L201.7 421L202.7 421.3L203.4 421.5ZM111.3 400.3L112.3 400.3L112.5 400.3L113.3 400.1L114.2 399.9L115.2 399.5L115.5 399.3L116.2 398.9L117 398.4L117.2 398.2L118.2 397.5L118.2 397.4L119.2 396.6L119.2 396.5L120 395.6L120.2 395.5L120.8 394.7L121.2 394.3L121.5 393.8L122.2 392.9L122.2 392.9L122.8 392L123.2 391.3L123.4 391L123.9 390.1L124.2 389.5L124.3 389.2L124.7 388.3L125.1 387.4L125.2 387.2L125.5 386.4L125.8 385.5L126 384.6L126.2 384.1L126.3 383.7L126.4 382.7L126.6 381.8L126.7 380.9L126.8 380L126.8 379.1L126.8 378.1L126.7 377.2L126.6 376.3L126.5 375.4L126.3 374.4L126.2 373.7L126.1 373.5L125.8 372.6L125.5 371.7L125.2 370.8L125.2 370.8L124.7 369.8L124.3 368.9L124.2 368.8L123.7 368L123.2 367.2L123.1 367.1L122.4 366.2L122.2 365.9L121.6 365.2L121.2 364.8L120.7 364.3L120.2 363.8L119.8 363.4L119.2 362.9L118.6 362.5L118.2 362.2L117.2 361.6L117.2 361.5L116.2 361L115.2 360.6L115.2 360.6L114.2 360.3L113.3 360.2L112.3 360.1L111.3 360.2L110.3 360.4L109.6 360.6L109.3 360.7L108.3 361.2L107.7 361.5L107.3 361.7L106.3 362.4L106.2 362.5L105.3 363.2L105.1 363.4L104.3 364.1L104.1 364.3L103.3 365.1L103.2 365.2L102.4 366.2L102.3 366.2L101.7 367.1L101.3 367.6L101 368L100.4 368.9L100.3 369.1L99.9 369.8L99.4 370.8L99.3 370.9L99 371.7L98.6 372.6L98.4 373.3L98.3 373.5L98 374.4L97.8 375.4L97.6 376.3L97.4 377.2L97.4 377.5L97.3 378.1L97.2 379.1L97.2 380L97.2 380.9L97.2 381.8L97.3 382.7L97.4 383.2L97.4 383.7L97.6 384.6L97.8 385.5L98 386.4L98.3 387.4L98.4 387.4L98.7 388.3L99 389.2L99.3 389.9L99.5 390.1L99.9 391L100.3 391.8L100.5 392L101 392.9L101.3 393.3L101.7 393.8L102.3 394.7L102.4 394.7L103.2 395.6L103.3 395.8L104 396.6L104.3 396.9L105 397.5L105.3 397.7L106.2 398.4L106.3 398.5L107.3 399.1L107.7 399.3L108.3 399.6L109.3 400L110.3 400.2L110.7 400.3ZM204.7 409.5L205.6 409.7L206.6 409.8L207.6 409.7L208.6 409.5L208.6 409.5L209.6 409.1L210.6 408.6L210.6 408.6L211.6 407.9L212 407.6L212.6 407.2L213.2 406.7L213.6 406.4L214.3 405.8L214.6 405.6L215.4 404.9L215.6 404.7L216.4 403.9L216.6 403.8L217.4 403L217.6 402.8L218.3 402.1L218.6 401.9L219.2 401.2L219.6 400.9L220.2 400.3L220.5 399.9L221 399.3L221.5 398.8L221.9 398.4L222.5 397.7L222.7 397.5L223.5 396.6L223.5 396.5L224.2 395.6L224.5 395.3L224.9 394.7L225.5 393.9L225.6 393.8L226.2 392.9L226.5 392.4L226.8 392L227.4 391L227.5 390.8L227.9 390.1L228.3 389.2L228.5 388.9L228.8 388.3L229.2 387.4L229.5 386.5L229.5 386.4L229.9 385.5L230.2 384.6L230.4 383.7L230.5 383.4L230.7 382.7L230.9 381.8L231.1 380.9L231.2 380L231.3 379.1L231.4 378.1L231.5 377.8L231.5 377.2L231.6 376.3L231.6 375.4L231.7 374.4L231.7 373.5L231.7 372.6L231.6 371.7L231.6 370.8L231.5 369.8L231.5 369.4L231.4 368.9L231.3 368L231.2 367.1L231.1 366.2L231 365.2L230.8 364.3L230.6 363.4L230.5 362.8L230.4 362.5L230.2 361.5L230 360.6L229.7 359.7L229.5 359.1L229.4 358.8L229.1 357.9L228.8 356.9L228.5 356.3L228.4 356L228 355.1L227.6 354.2L227.5 354L227.1 353.2L226.7 352.3L226.5 352L226.2 351.4L225.6 350.5L225.5 350.3L225.1 349.6L224.5 348.7L224.5 348.6L223.8 347.7L223.5 347.3L223.2 346.8L222.5 346L222.5 345.9L221.7 345L221.5 344.7L221 344L220.5 343.5L220.2 343.1L219.6 342.3L219.5 342.2L218.6 341.3L218.6 341.2L217.8 340.3L217.6 340.1L217 339.4L216.6 339L216.1 338.5L215.6 338L215.2 337.6L214.6 337L214.2 336.7L213.6 336.1L213.2 335.7L212.6 335.2L212 334.8L211.6 334.5L210.6 333.9L210.6 333.9L209.6 333.4L208.6 333.1L207.6 333L206.6 333L205.6 333.2L204.7 333.5L203.9 333.9L203.7 334L202.7 334.7L202.5 334.8L201.7 335.4L201.4 335.7L200.7 336.3L200.4 336.7L199.7 337.3L199.5 337.6L198.7 338.4L198.6 338.5L197.8 339.4L197.7 339.5L197 340.3L196.7 340.6L196.2 341.3L195.7 341.8L195.4 342.2L194.7 343.1L194.7 343.1L194 344L193.7 344.3L193.2 345L192.7 345.6L192.5 345.9L191.9 346.8L191.7 347L191.2 347.7L190.7 348.4L190.6 348.6L190 349.6L189.8 349.9L189.4 350.5L188.8 351.4L188.8 351.5L188.3 352.3L187.8 353.2L187.8 353.2L187.3 354.2L186.8 355.1L186.8 355.2L186.4 356L186 356.9L185.8 357.4L185.6 357.9L185.2 358.8L184.9 359.7L184.8 360L184.6 360.6L184.3 361.5L184 362.5L183.8 363.4L183.8 363.4L183.6 364.3L183.3 365.2L183.2 366.2L183 367.1L182.8 368L182.8 368.2L182.7 368.9L182.6 369.8L182.5 370.8L182.4 371.7L182.3 372.6L182.2 373.5L182.2 374.4L182.2 375.4L182.2 376.3L182.2 377.2L182.2 378.1L182.2 379.1L182.3 380L182.4 380.9L182.5 381.8L182.7 382.7L182.8 383.5L182.8 383.7L183 384.6L183.2 385.5L183.5 386.4L183.8 387.3L183.8 387.4L184.1 388.3L184.5 389.2L184.8 389.9L184.9 390.1L185.3 391L185.8 391.9L185.8 392L186.3 392.9L186.8 393.6L186.9 393.8L187.5 394.7L187.8 395.1L188.2 395.6L188.8 396.4L188.9 396.6L189.7 397.5L189.8 397.6L190.5 398.4L190.7 398.7L191.3 399.3L191.7 399.8L192.2 400.3L192.7 400.7L193.2 401.2L193.7 401.7L194.2 402.1L194.7 402.6L195.2 403L195.7 403.5L196.3 403.9L196.7 404.3L197.4 404.9L197.7 405.1L198.5 405.8L198.7 405.9L199.7 406.7L199.7 406.7L200.7 407.4L201 407.6L201.7 408.1L202.5 408.6L202.7 408.7L203.7 409.1L204.6 409.5ZM110.3 385L111.3 385.3L112.3 385.3L113.3 385L114.1 384.6L114.2 384.5L115.1 383.7L115.2 383.5L115.8 382.7L116.2 381.8L116.2 381.8L116.5 380.9L116.6 380L116.7 379.1L116.6 378.1L116.3 377.2L116.2 377L115.9 376.3L115.3 375.4L115.2 375.3L114.2 374.5L114.1 374.4L113.3 374.1L112.3 374L111.3 374.1L110.3 374.4L110.2 374.4L109.3 375.1L109 375.4L108.3 376.3L108.3 376.3L107.8 377.2L107.5 378.1L107.3 379.1L107.3 379.6L107.3 380L107.3 380.2L107.4 380.9L107.6 381.8L108 382.7L108.3 383.3L108.6 383.7L109.3 384.4L109.5 384.6ZM202.7 398.6L203.7 398.8L204.7 398.9L205.6 399L206.6 399L207.6 398.9L208.6 398.8L209.6 398.6L210.3 398.4L210.6 398.3L211.6 398L212.6 397.6L212.7 397.5L213.6 397.1L214.5 396.6L214.6 396.5L215.6 395.9L216 395.6L216.6 395.2L217.2 394.7L217.6 394.4L218.3 393.8L218.6 393.6L219.2 392.9L219.6 392.6L220.1 392L220.5 391.5L220.9 391L221.5 390.2L221.6 390.1L222.3 389.2L222.5 388.8L222.8 388.3L223.4 387.4L223.5 387L223.8 386.4L224.3 385.5L224.5 384.9L224.6 384.6L225 383.7L225.3 382.7L225.5 381.9L225.5 381.8L225.8 380.9L225.9 380L226.1 379.1L226.2 378.1L226.3 377.2L226.4 376.3L226.5 375.4L226.5 374.4L226.5 373.5L226.5 372.6L226.4 371.7L226.3 370.8L226.3 369.8L226.2 368.9L226 368L225.9 367.1L225.7 366.2L225.5 365.2L225.5 365.2L225.3 364.3L225.1 363.4L224.8 362.5L224.5 361.7L224.5 361.5L224.2 360.6L223.8 359.7L223.5 359.1L223.4 358.8L223 357.9L222.5 357.1L222.5 356.9L221.9 356L221.5 355.4L221.4 355.1L220.7 354.2L220.5 353.9L220 353.2L219.6 352.7L219.3 352.3L218.6 351.6L218.4 351.4L217.6 350.6L217.4 350.5L216.6 349.7L216.3 349.6L215.6 349L215.1 348.6L214.6 348.3L213.6 347.8L213.5 347.7L212.6 347.3L211.6 346.9L211.4 346.8L210.6 346.6L209.6 346.3L208.6 346.2L207.6 346.1L206.6 346.2L205.6 346.3L204.7 346.5L203.7 346.8L203.6 346.8L202.7 347.2L201.7 347.6L201.5 347.7L200.7 348.2L199.9 348.6L199.7 348.8L198.7 349.5L198.7 349.6L197.7 350.3L197.5 350.5L196.7 351.3L196.6 351.4L195.7 352.3L195.7 352.3L194.9 353.2L194.7 353.4L194.1 354.2L193.7 354.7L193.5 355.1L192.8 356L192.7 356.2L192.3 356.9L191.7 357.8L191.7 357.9L191.2 358.8L190.8 359.7L190.7 359.8L190.4 360.6L190 361.5L189.8 362.2L189.7 362.5L189.3 363.4L189.1 364.3L188.8 365.2L188.8 365.4L188.6 366.2L188.3 367.1L188.1 368L188 368.9L187.8 369.8L187.8 370.3L187.7 370.8L187.6 371.7L187.5 372.6L187.4 373.5L187.4 374.4L187.4 375.4L187.4 376.3L187.4 377.2L187.4 378.1L187.5 379.1L187.6 380L187.7 380.9L187.8 381.2L187.9 381.8L188.1 382.7L188.3 383.7L188.5 384.6L188.8 385.2L188.8 385.5L189.2 386.4L189.6 387.4L189.8 387.7L190 388.3L190.5 389.2L190.7 389.5L191.1 390.1L191.7 391L191.8 391L192.5 392L192.7 392.3L193.3 392.9L193.7 393.3L194.2 393.8L194.7 394.3L195.2 394.7L195.7 395.1L196.4 395.6L196.7 395.8L197.7 396.5L197.9 396.6L198.7 397L199.6 397.5L199.7 397.5L200.7 398L201.7 398.3L202.1 398.4ZM202.7 391.2L203.7 391.4L204.7 391.6L205.6 391.7L206.6 391.7L207.6 391.7L208.6 391.5L209.6 391.3L210.3 391L210.6 390.9L211.6 390.5L212.4 390.1L212.6 390L213.6 389.4L213.8 389.2L214.6 388.6L215 388.3L215.6 387.7L215.9 387.4L216.6 386.6L216.7 386.4L217.4 385.5L217.6 385.2L218 384.6L218.5 383.7L218.6 383.5L218.9 382.7L219.3 381.8L219.6 381L219.6 380.9L219.9 380L220.1 379.1L220.2 378.1L220.4 377.2L220.5 376.3L220.5 375.4L220.5 374.8L220.6 374.4L220.5 373.5L220.5 373.5L220.5 372.6L220.4 371.7L220.3 370.8L220.2 369.8L220 368.9L219.8 368L219.6 367.1L219.6 366.9L219.3 366.2L219 365.2L218.7 364.3L218.6 364.1L218.3 363.4L217.8 362.5L217.6 362L217.3 361.5L216.7 360.6L216.6 360.5L216 359.7L215.6 359.2L215.2 358.8L214.6 358.2L214.2 357.9L213.6 357.3L213 356.9L212.6 356.7L211.6 356.1L211.3 356L210.6 355.7L209.6 355.4L208.6 355.3L207.6 355.2L206.6 355.2L205.6 355.3L204.7 355.6L203.7 355.9L203.4 356L202.7 356.4L201.7 356.9L201.7 357L200.7 357.7L200.5 357.9L199.7 358.5L199.4 358.8L198.7 359.6L198.6 359.7L197.9 360.6L197.7 360.8L197.2 361.5L196.7 362.4L196.6 362.5L196.1 363.4L195.7 364.3L195.7 364.3L195.3 365.2L194.9 366.2L194.7 366.8L194.6 367.1L194.3 368L194.1 368.9L193.9 369.8L193.7 370.7L193.7 370.8L193.6 371.7L193.5 372.6L193.4 373.5L193.3 374.4L193.3 375.4L193.3 376.3L193.3 377.2L193.4 378.1L193.5 379.1L193.7 380L193.7 380.3L193.9 380.9L194.1 381.8L194.4 382.7L194.7 383.5L194.8 383.7L195.2 384.6L195.7 385.5L195.7 385.5L196.3 386.4L196.7 386.9L197.1 387.4L197.7 388.1L197.9 388.3L198.7 389L199 389.2L199.7 389.7L200.3 390.1L200.7 390.3L201.7 390.8L202.3 391ZM205.6 378.3L206.6 378.6L207.6 378.4L208.1 378.1L208.6 377.7L209 377.2L209.4 376.3L209.6 375.4L209.6 375.4L209.6 374.4L209.6 374.3L209.5 373.5L209.1 372.6L208.6 371.9L208.4 371.7L207.6 371.2L206.6 371.2L205.6 371.6L205.6 371.7L204.9 372.6L204.7 373L204.5 373.5L204.3 374.4L204.2 375.4L204.4 376.3L204.7 377.2L204.7 377.2L205.5 378.1Z" fill="none" stroke="#a07146" stroke-width="2.0" stroke-linejoin="round"/>
</g>
<g clip-path="url(#c11)">
<rect x="293" y="241" width="197" height="214" fill="#262730"/>
<path d="M321.5 241V455M409.5 241V455M293 423.5H490M293 385.5H490M293 348.5H490M293 310.5H490M293 272.5H490" stroke="#1e1e20" stroke-width="1" fill="none"/>
<rect x="322.5" y="448.5" width="7.0" height="9.5" fill="#9e6934" fill-opacity="0.5" stroke="#1c1c1e" stroke-width="1" stroke-opacity="0.9"/>
<rect x="329.5" y="451.5" width="7.0" height="6.5" fill="#9e6934" fill-opacity="0.5" stroke="#1c1c1e" stroke-width="1" stroke-opacity="0.9"/>
<rect x="336.5" y="452.5" width="7.0" height="5.5" fill="#9e6934" fill-opacity="0.5" stroke="#1c1c1e" stroke-width="1" stroke-opacity="0.9"/>
<rect x="343.5" y="448.5" width="7.0" height="9.5" fill="#9e6934" fill-opacity="0.5" stroke="#1c1c1e" stroke-width="1" stroke-opacity="0.9"/>
<rect x="350.5" y="444.5" width="7.0" height="13.5" fill="#9e6934" fill-opacity="0.5" stroke="#1c1c1e" stroke-width="1" stroke-opacity="0.9"/>
<rect x="357.5" y="439.5" width="7.0" height="18.5" fill="#9e6934" fill-opacity="0.5" stroke="#1c1c1e" stroke-width="1" stroke-opacity="0.9"/>
<rect x="364.5" y="445.5" width="7.0" height="12.5" fill="#9e6934" fill-opacity="0.5" stroke="#1c1c1e" stroke-width="1" stroke-opacity="0.9"/>
<rect x="371.5" y="444.5" width="7.0" height="13.5" fill="#9e6934" fill-opacity="0.5" stroke="#1c1c1e" stroke-width="1" stroke-opacity="0.9"/>
<rect x="378.5" y="445.5" width="7.0" height="12.5" fill="#9e6934" fill-opacity="0.5" stroke="#1c1c1e" stroke-width="1" stroke-opacity="0.9"/>
<rect x="385.5" y="448.5" width="7.0" height="9.5" fill="#9e6934" fill-opacity="0.5" stroke="#1c1c1e" stroke-width="1" stroke-opacity="0.9"/>
<rect x="392.5" y="451.5" width="7.0" height="6.5" fill="#9e6934" fill-opacity="0.5" stroke="#1c1c1e" stroke-width="1" stroke-opacity="0.9"/>
<rect x="399.5" y="450.5" width="7.0" height="7.5" fill="#9e6934" fill-opacity="0.5" stroke="#1c1c1e" stroke-width="1" stroke-opacity="0.9"/>
<rect x="406.5" y="451.5" width="7.0" height="6.5" fill="#9e6934" fill-opacity="0.5" stroke="#1c1c1e" stroke-width="1" stroke-opacity="0.9"/>
<rect x="413.5" y="452.5" width="7.0" height="5.5" fill="#9e6934" fill-opacity="0.5" stroke="#1c1c1e" stroke-width="1" stroke-opacity="0.9"/>
<rect x="420.5" y="453.5" width="7.0" height="4.5" fill="#9e6934" fill-opacity="0.5" stroke="#1c1c1e" stroke-width="1" stroke-opacity="0.9"/>
<rect x="427.5" y="453.5" width="7.0" height="4.5" fill="#9e6934" fill-opacity="0.5" stroke="#1c1c1e" stroke-width="1" stroke-opacity="0.9"/>
<rect x="322.5" y="445.5" width="7.0" height="12.5" fill="#64869c" fill-opacity="0.5" stroke="#1c1c1e" stroke-width="1" stroke-opacity="0.9"/>
<rect x="329.5" y="452.5" width="7.0" height="5.5" fill="#64869c" fill-opacity="0.5" stroke="#1c1c1e" stroke-width="1" stroke-opacity="0.9"/>
<rect x="336.5" y="451.5" width="7.0" height="6.5" fill="#64869c" fill-opacity="0.5" stroke="#1c1c1e" stroke-width="1" stroke-opacity="0.9"/>
<rect x="343.5" y="448.5" width="7.0" height="9.5" fill="#64869c" fill-opacity="0.5" stroke="#1c1c1e" stroke-width="1" stroke-opacity="0.9"/>
<rect x="350.5" y="433.5" width="7.0" height="24.5" fill="#64869c" fill-opacity="0.5" stroke="#1c1c1e" stroke-width="1" stroke-opacity="0.9"/>
<rect x="357.5" y="430.5" width="7.0" height="27.5" fill="#64869c" fill-opacity="0.5" stroke="#1c1c1e" stroke-width="1" stroke-opacity="0.9"/>
<rect x="364.5" y="427.5" width="7.0" height="30.5" fill="#64869c" fill-opacity="0.5" stroke="#1c1c1e" stroke-width="1" stroke-opacity="0.9"/>
<rect x="371.5" y="430.5" width="7.0" height="27.5" fill="#64869c" fill-opacity="0.5" stroke="#1c1c1e" stroke-width="1" stroke-opacity="0.9"/>
<rect x="378.5" y="435.5" width="7.0" height="22.5" fill="#64869c" fill-opacity="0.5" stroke="#1c1c1e" stroke-width="1" stroke-opacity="0.9"/>
<rect x="385.5" y="443.5" width="7.0" height="14.5" fill="#64869c" fill-opacity="0.5" stroke="#1c1c1e" stroke-width="1" stroke-opacity="0.9"/>
<rect x="392.5" y="444.5" width="7.0" height="13.5" fill="#64869c" fill-opacity="0.5" stroke="#1c1c1e" stroke-width="1" stroke-opacity="0.9"/>
<rect x="399.5" y="444.5" width="7.0" height="13.5" fill="#64869c" fill-opacity="0.5" stroke="#1c1c1e" stroke-width="1" stroke-opacity="0.9"/>
<rect x="406.5" y="448.5" width="7.0" height="9.5" fill="#64869c" fill-opacity="0.5" stroke="#1c1c1e" stroke-width="1" stroke-opacity="0.9"/>
<rect x="413.5" y="450.5" width="7.0" height="7.5" fill="#64869c" fill-opacity="0.5" stroke="#1c1c1e" stroke-width="1" stroke-opacity="0.9"/>
<rect x="420.5" y="452.5" width="7.0" height="5.5" fill="#64869c" fill-opacity="0.5" stroke="#1c1c1e" stroke-width="1" stroke-opacity="0.9"/>
<rect x="427.5" y="452.5" width="7.0" height="5.5" fill="#64869c" fill-opacity="0.5" stroke="#1c1c1e" stroke-width="1" stroke-opacity="0.9"/>
<rect x="434.5" y="453.5" width="7.0" height="4.5" fill="#64869c" fill-opacity="0.5" stroke="#1c1c1e" stroke-width="1" stroke-opacity="0.9"/>
<rect x="441.5" y="452.5" width="7.0" height="5.5" fill="#64869c" fill-opacity="0.5" stroke="#1c1c1e" stroke-width="1" stroke-opacity="0.9"/>
<rect x="448.5" y="454.5" width="7.0" height="3.5" fill="#64869c" fill-opacity="0.5" stroke="#1c1c1e" stroke-width="1" stroke-opacity="0.9"/>
<rect x="455.5" y="454.5" width="7.0" height="3.5" fill="#64869c" fill-opacity="0.5" stroke="#1c1c1e" stroke-width="1" stroke-opacity="0.9"/>
</g>
<g clip-path="url(#c12)">
<rect x="525" y="241" width="196" height="214" fill="#262730"/>
<path d="M533.5 241V455M631.5 241V455M525 423.5H721M525 385.5H721M525 348.5H721M525 310.5H721M525 272.5H721" stroke="#1e1e20" stroke-width="1" fill="none"/>
<g stroke="#1c1c1e" stroke-width="0.67">
<circle cx="547.1" cy="381.7" r="4.17" fill="#5b82a0"/>
<circle cx="673.5" cy="351.3" r="4.17" fill="#966a44"/>
<circle cx="548.4" cy="374.1" r="4.17" fill="#966a44"/>
<circle cx="637.6" cy="357" r="4.17" fill="#966a44"/>
<circle cx="548.7" cy="357" r="4.17" fill="#5b82a0"/>
<circle cx="635.1" cy="320.9" r="4.17" fill="#5b82a0"/>
<circle cx="574.4" cy="419.6" r="4.17" fill="#5b82a0"/>
<circle cx="554.8" cy="372.2" r="4.17" fill="#966a44"/>
<circle cx="592.1" cy="396.8" r="4.17" fill="#966a44"/>
<circle cx="565.7" cy="415.8" r="4.17" fill="#966a44"/>
<circle cx="585.2" cy="313.4" r="4.17" fill="#966a44"/>
<circle cx="548.7" cy="385.5" r="4.17" fill="#5b82a0"/>
<circle cx="594.5" cy="349.4" r="4.17" fill="#5b82a0"/>
<circle cx="548.3" cy="396.8" r="4.17" fill="#966a44"/>
<circle cx="564.4" cy="319" r="4.17" fill="#966a44"/>
<circle cx="590.3" cy="419.6" r="4.17" fill="#5b82a0"/>
<circle cx="568.3" cy="364.6" r="4.17" fill="#966a44"/>
<circle cx="584.1" cy="357" r="4.17" fill="#5b82a0"/>
<circle cx="558.4" cy="358.9" r="4.17" fill="#5b82a0"/>
<circle cx="548.6" cy="394.9" r="4.17" fill="#966a44"/>
<circle cx="602.8" cy="370.3" r="4.17" fill="#5b82a0"/>
<circle cx="574.4" cy="408.2" r="4.17" fill="#966a44"/>
<circle cx="594.7" cy="351.3" r="4.17" fill="#966a44"/>
<circle cx="587.5" cy="347.5" r="4.17" fill="#5b82a0"/>
<circle cx="553.5" cy="298.2" r="4.17" fill="#5b82a0"/>
<circle cx="694.9" cy="370.3" r="4.17" fill="#5b82a0"/>
<circle cx="635.4" cy="343.7" r="4.17" fill="#5b82a0"/>
<circle cx="548.7" cy="383.6" r="4.17" fill="#5b82a0"/>
<circle cx="568.3" cy="389.3" r="4.17" fill="#966a44"/>
<circle cx="555" cy="396.8" r="4.17" fill="#966a44"/>
<circle cx="551.5" cy="347.5" r="4.17" fill="#966a44"/>
<circle cx="574.2" cy="372.2" r="4.17" fill="#966a44"/>
<circle cx="614.8" cy="417.7" r="4.17" fill="#966a44"/>
<circle cx="548.3" cy="387.4" r="4.17" fill="#966a44"/>
<circle cx="567.9" cy="389.3" r="4.17" fill="#966a44"/>
<circle cx="611.1" cy="410.1" r="4.17" fill="#5b82a0"/>
<circle cx="548.2" cy="383.6" r="4.17" fill="#5b82a0"/>
<circle cx="684.2" cy="330.4" r="4.17" fill="#966a44"/>
<circle cx="584.1" cy="368.4" r="4.17" fill="#966a44"/>
<circle cx="655.1" cy="300.1" r="4.17" fill="#5b82a0"/>
<circle cx="553.5" cy="383.6" r="4.17" fill="#966a44"/>
<circle cx="547.1" cy="369.3" r="4.17" fill="#5b82a0"/>
<circle cx="587.5" cy="413.9" r="4.17" fill="#966a44"/>
<circle cx="625.3" cy="402.5" r="4.17" fill="#5b82a0"/>
<circle cx="547.1" cy="381.7" r="4.17" fill="#5b82a0"/>
<circle cx="690.7" cy="351.3" r="4.17" fill="#966a44"/>
<circle cx="697.5" cy="338" r="4.17" fill="#5b82a0"/>
<circle cx="587.8" cy="415.8" r="4.17" fill="#5b82a0"/>
<circle cx="553.5" cy="368.4" r="4.17" fill="#966a44"/>
<circle cx="548.9" cy="387.4" r="4.17" fill="#5b82a0"/>
<circle cx="548.4" cy="391.2" r="4.17" fill="#966a44"/>
<circle cx="549.9" cy="374.1" r="4.17" fill="#5b82a0"/>
<circle cx="553.5" cy="362.7" r="4.17" fill="#5b82a0"/>
<circle cx="625.3" cy="393" r="4.17" fill="#966a44"/>
<circle cx="677.8" cy="383.6" r="4.17" fill="#5b82a0"/>
<circle cx="561.3" cy="374.1" r="4.17" fill="#5b82a0"/>
<circle cx="644.3" cy="362.7" r="4.17" fill="#5b82a0"/>
<circle cx="547.9" cy="376" r="4.17" fill="#5b82a0"/>
<circle cx="590" cy="421.8" r="4.17" fill="#5b82a0"/>
<circle cx="557.4" cy="366.5" r="4.17" fill="#966a44"/>
<circle cx="550.5" cy="381.7" r="4.17" fill="#5b82a0"/>
<circle cx="551.5" cy="368.4" r="4.17" fill="#5b82a0"/>
<circle cx="625.7" cy="370.3" r="4.17" fill="#5b82a0"/>
<circle cx="553.5" cy="391.2" r="4.17" fill="#966a44"/>
<circle cx="564.1" cy="360.8" r="4.17" fill="#966a44"/>
<circle cx="600.6" cy="393" r="4.17" fill="#5b82a0"/>
<circle cx="548.7" cy="377.9" r="4.17" fill="#5b82a0"/>
<circle cx="548.7" cy="368.4" r="4.17" fill="#5b82a0"/>
<circle cx="548.3" cy="385.5" r="4.17" fill="#5b82a0"/>
<circle cx="653.5" cy="336.1" r="4.17" fill="#5b82a0"/>
<circle cx="573.4" cy="374.1" r="4.17" fill="#5b82a0"/>
<circle cx="547.1" cy="311.5" r="4.17" fill="#5b82a0"/>
<circle cx="601.2" cy="288.7" r="4.17" fill="#5b82a0"/>
<circle cx="657.8" cy="379.8" r="4.17" fill="#5b82a0"/>
<circle cx="578.2" cy="358.9" r="4.17" fill="#966a44"/>
<circle cx="584.1" cy="358.9" r="4.17" fill="#5b82a0"/>
<circle cx="548.4" cy="370.3" r="4.17" fill="#966a44"/>
<circle cx="685.3" cy="383.6" r="4.17" fill="#5b82a0"/>
<circle cx="549.9" cy="360.8" r="4.17" fill="#5b82a0"/>
<circle cx="548.4" cy="353.2" r="4.17" fill="#5b82a0"/>
<circle cx="548.4" cy="370.3" r="4.17" fill="#5b82a0"/>
<circle cx="547.9" cy="383.6" r="4.17" fill="#966a44"/>
<circle cx="548.4" cy="351.3" r="4.17" fill="#5b82a0"/>
<circle cx="635.4" cy="334.2" r="4.17" fill="#5b82a0"/>
<circle cx="561.3" cy="395.9" r="4.17" fill="#966a44"/>
<circle cx="548.7" cy="381.7" r="4.17" fill="#5b82a0"/>
<circle cx="552.2" cy="385.5" r="4.17" fill="#966a44"/>
<circle cx="561.3" cy="391.2" r="4.17" fill="#966a44"/>
<circle cx="548.4" cy="383.6" r="4.17" fill="#5b82a0"/>
<circle cx="548.1" cy="289.6" r="4.17" fill="#5b82a0"/>
<circle cx="574.2" cy="368.4" r="4.17" fill="#5b82a0"/>
<circle cx="594.5" cy="419.6" r="4.17" fill="#966a44"/>
<circle cx="677.8" cy="383.6" r="4.17" fill="#5b82a0"/>
<circle cx="592.1" cy="361.7" r="4.17" fill="#5b82a0"/>
<circle cx="558.4" cy="361.7" r="4.17" fill="#966a44"/>
<circle cx="685.3" cy="320.9" r="4.17" fill="#5b82a0"/>
<circle cx="555" cy="400.6" r="4.17" fill="#5b82a0"/>
<circle cx="546.9" cy="377.9" r="4.17" fill="#5b82a0"/>
<circle cx="546.6" cy="338" r="4.17" fill="#5b82a0"/>
<circle cx="548.4" cy="360.8" r="4.17" fill="#5b82a0"/>
<circle cx="546.7" cy="385.5" r="4.17" fill="#5b82a0"/>
<circle cx="561.4" cy="334.2" r="4.17" fill="#966a44"/>
<circle cx="584.1" cy="368.4" r="4.17" fill="#966a44"/>
<circle cx="558.4" cy="376" r="4.17" fill="#5b82a0"/>
<circle cx="562.5" cy="379.8" r="4.17" fill="#5b82a0"/>
<circle cx="584.7" cy="387.4" r="4.17" fill="#966a44"/>
<circle cx="637.6" cy="353.2" r="4.17" fill="#5b82a0"/>
<circle cx="551" cy="393" r="4.17" fill="#5b82a0"/>
<circle cx="689.1" cy="377.9" r="4.17" fill="#5b82a0"/>
<circle cx="548.1" cy="381.7" r="4.17" fill="#966a44"/>
<circle cx="564.1" cy="377.9" r="4.17" fill="#966a44"/>
<circle cx="546.1" cy="387.4" r="4.17" fill="#5b82a0"/>
<circle cx="555.5" cy="389.3" r="4.17" fill="#5b82a0"/>
<circle cx="605.3" cy="387.4" r="4.17" fill="#5b82a0"/>
<circle cx="548.2" cy="372.2" r="4.17" fill="#5b82a0"/>
<circle cx="600.6" cy="406.3" r="4.17" fill="#966a44"/>
<circle cx="584.1" cy="354.2" r="4.17" fill="#5b82a0"/>
<circle cx="558.4" cy="343.7" r="4.17" fill="#5b82a0"/>
<circle cx="557.5" cy="326.6" r="4.17" fill="#5b82a0"/>
<circle cx="664.2" cy="381.7" r="4.17" fill="#966a44"/>
<circle cx="548.7" cy="318.1" r="4.17" fill="#5b82a0"/>
<circle cx="561.4" cy="346.6" r="4.17" fill="#5b82a0"/>
<circle cx="653.9" cy="326.6" r="4.17" fill="#5b82a0"/>
<circle cx="548" cy="393" r="4.17" fill="#966a44"/>
<circle cx="548.7" cy="366.5" r="4.17" fill="#5b82a0"/>
<circle cx="564.6" cy="339.9" r="4.17" fill="#5b82a0"/>
<circle cx="563.9" cy="347.5" r="4.17" fill="#966a44"/>
<circle cx="548.1" cy="374.1" r="4.17" fill="#5b82a0"/>
<circle cx="549.9" cy="391.2" r="4.17" fill="#5b82a0"/>
<circle cx="611.1" cy="421.5" r="4.17" fill="#5b82a0"/>
<circle cx="573.3" cy="406.3" r="4.17" fill="#5b82a0"/>
<circle cx="587.8" cy="338" r="4.17" fill="#966a44"/>
<circle cx="644.3" cy="370.3" r="4.17" fill="#5b82a0"/>
<circle cx="598.9" cy="307.7" r="4.17" fill="#5b82a0"/>
<circle cx="590.3" cy="415.8" r="4.17" fill="#5b82a0"/>
<circle cx="554.8" cy="421.5" r="4.17" fill="#966a44"/>
<circle cx="548.4" cy="383.6" r="4.17" fill="#5b82a0"/>
<circle cx="593.4" cy="317.2" r="4.17" fill="#5b82a0"/>
<circle cx="548.3" cy="389.3" r="4.17" fill="#5b82a0"/>
<circle cx="589.4" cy="328.5" r="4.17" fill="#966a44"/>
<circle cx="558.4" cy="366.5" r="4.17" fill="#5b82a0"/>
<circle cx="532.8" cy="355.1" r="4.17" fill="#5b82a0"/>
<circle cx="594.7" cy="406.3" r="4.17" fill="#5b82a0"/>
<circle cx="609.7" cy="421.5" r="4.17" fill="#5b82a0"/>
<circle cx="576.2" cy="415.8" r="4.17" fill="#966a44"/>
<circle cx="585.2" cy="338" r="4.17" fill="#5b82a0"/>
<circle cx="563.4" cy="347.5" r="4.17" fill="#5b82a0"/>
<circle cx="548.4" cy="355.1" r="4.17" fill="#5b82a0"/>
<circle cx="558.4" cy="362.7" r="4.17" fill="#966a44"/>
<circle cx="558.4" cy="387.4" r="4.17" fill="#5b82a0"/>
<circle cx="548.3" cy="387.4" r="4.17" fill="#966a44"/>
<circle cx="584.1" cy="417.7" r="4.17" fill="#5b82a0"/>
<circle cx="587.5" cy="339.9" r="4.17" fill="#966a44"/>
<circle cx="549.4" cy="343.7" r="4.17" fill="#5b82a0"/>
<circle cx="558.4" cy="377.9" r="4.17" fill="#966a44"/>
<circle cx="551.5" cy="370.3" r="4.17" fill="#5b82a0"/>
<circle cx="545.6" cy="358.9" r="4.17" fill="#5b82a0"/>
<circle cx="547" cy="337.1" r="4.17" fill="#5b82a0"/>
<circle cx="548.7" cy="389.3" r="4.17" fill="#5b82a0"/>
<circle cx="553.4" cy="419.6" r="4.17" fill="#966a44"/>
<circle cx="564.1" cy="362.7" r="4.17" fill="#5b82a0"/>
<circle cx="569.9" cy="374.1" r="4.17" fill="#5b82a0"/>
<circle cx="548.1" cy="393" r="4.17" fill="#966a44"/>
<circle cx="594" cy="347.5" r="4.17" fill="#5b82a0"/>
<circle cx="546.7" cy="377.9" r="4.17" fill="#5b82a0"/>
<circle cx="574.2" cy="357" r="4.17" fill="#966a44"/>
<circle cx="547.1" cy="381.7" r="4.17" fill="#5b82a0"/>
<circle cx="558.4" cy="366.5" r="4.17" fill="#5b82a0"/>
<circle cx="548.4" cy="372.2" r="4.17" fill="#966a44"/>
<circle cx="586.1" cy="343.7" r="4.17" fill="#5b82a0"/>
<circle cx="683.3" cy="362.7" r="4.17" fill="#966a44"/>
<circle cx="553.5" cy="366.5" r="4.17" fill="#5b82a0"/>
<circle cx="548.7" cy="393" r="4.17" fill="#5b82a0"/>
<circle cx="558.4" cy="372.2" r="4.17" fill="#5b82a0"/>
<circle cx="548.7" cy="326.6" r="4.17" fill="#5b82a0"/>
<circle cx="710.4" cy="351.3" r="4.17" fill="#5b82a0"/>
<circle cx="551.2" cy="381.7" r="4.17" fill="#5b82a0"/>
<circle cx="553.5" cy="387.4" r="4.17" fill="#5b82a0"/>
<circle cx="547.1" cy="384.5" r="4.17" fill="#5b82a0"/>
<circle cx="558.4" cy="389.3" r="4.17" fill="#5b82a0"/>
<circle cx="697.5" cy="357" r="4.17" fill="#966a44"/>
<circle cx="548.1" cy="368.4" r="4.17" fill="#5b82a0"/>
<circle cx="559.4" cy="311.5" r="4.17" fill="#5b82a0"/>
<circle cx="594.7" cy="413.9" r="4.17" fill="#966a44"/>
<circle cx="553.5" cy="377.9" r="4.17" fill="#5b82a0"/>
<circle cx="584.1" cy="339.9" r="4.17" fill="#5b82a0"/>
<circle cx="584.6" cy="408.2" r="4.17" fill="#966a44"/>
<circle cx="553.5" cy="387.4" r="4.17" fill="#5b82a0"/>
<circle cx="557" cy="360.8" r="4.17" fill="#5b82a0"/>
<circle cx="553.5" cy="368.4" r="4.17" fill="#5b82a0"/>
<circle cx="546.8" cy="381.7" r="4.17" fill="#5b82a0"/>
<circle cx="547" cy="366.5" r="4.17" fill="#5b82a0"/>
<circle cx="710.4" cy="339.9" r="4.17" fill="#5b82a0"/>
<circle cx="548.1" cy="376" r="4.17" fill="#966a44"/>
<circle cx="561.4" cy="377.9" r="4.17" fill="#966a44"/>
<circle cx="636.5" cy="353.2" r="4.17" fill="#5b82a0"/>
<circle cx="584.1" cy="320.9" r="4.17" fill="#5b82a0"/>
<circle cx="553.4" cy="368.4" r="4.17" fill="#966a44"/>
<circle cx="585.2" cy="305.8" r="4.17" fill="#5b82a0"/>
<circle cx="564.6" cy="366.5" r="4.17" fill="#5b82a0"/>
<circle cx="572.7" cy="345.6" r="4.17" fill="#966a44"/>
<circle cx="562.9" cy="368.4" r="4.17" fill="#966a44"/>
<circle cx="703.5" cy="366.5" r="4.17" fill="#966a44"/>
<circle cx="584.1" cy="328.5" r="4.17" fill="#966a44"/>
<circle cx="594.7" cy="417.7" r="4.17" fill="#5b82a0"/>
<circle cx="690" cy="324.7" r="4.17" fill="#5b82a0"/>
<circle cx="532.8" cy="347.5" r="4.17" fill="#5b82a0"/>
<circle cx="553.5" cy="355.1" r="4.17" fill="#5b82a0"/>
<circle cx="611.1" cy="393" r="4.17" fill="#5b82a0"/>
<circle cx="548.1" cy="376" r="4.17" fill="#5b82a0"/>
<circle cx="532.8" cy="376" r="4.17" fill="#5b82a0"/>
<circle cx="571.3" cy="345.6" r="4.17" fill="#966a44"/>
<circle cx="591.4" cy="353.2" r="4.17" fill="#5b82a0"/>
<circle cx="686.6" cy="303.9" r="4.17" fill="#966a44"/>
<circle cx="548.1" cy="338" r="4.17" fill="#966a44"/>
<circle cx="590.3" cy="410.1" r="4.17" fill="#5b82a0"/>
<circle cx="572.7" cy="357" r="4.17" fill="#966a44"/>
<circle cx="548.1" cy="300.1" r="4.17" fill="#5b82a0"/>
<circle cx="548.3" cy="370.3" r="4.17" fill="#5b82a0"/>
<circle cx="551.5" cy="393" r="4.17" fill="#5b82a0"/>
<circle cx="548.7" cy="387.4" r="4.17" fill="#5b82a0"/>
<circle cx="549.9" cy="360.8" r="4.17" fill="#5b82a0"/>
<circle cx="551.5" cy="366.5" r="4.17" fill="#5b82a0"/>
<circle cx="548.4" cy="381.7" r="4.17" fill="#5b82a0"/>
<circle cx="558.4" cy="343.7" r="4.17" fill="#5b82a0"/>
<circle cx="548.1" cy="381.7" r="4.17" fill="#966a44"/>
<circle cx="688.4" cy="374.1" r="4.17" fill="#966a44"/>
<circle cx="712.5" cy="387.4" r="4.17" fill="#966a44"/>
<circle cx="558.2" cy="355.1" r="4.17" fill="#5b82a0"/>
<circle cx="550.3" cy="377.9" r="4.17" fill="#966a44"/>
<circle cx="548.4" cy="377.9" r="4.17" fill="#5b82a0"/>
<circle cx="547.1" cy="378.8" r="4.17" fill="#5b82a0"/>
<circle cx="532.8" cy="387.4" r="4.17" fill="#5b82a0"/>
<circle cx="580.1" cy="366.5" r="4.17" fill="#5b82a0"/>
<circle cx="645.1" cy="366.5" r="4.17" fill="#966a44"/>
<circle cx="696.9" cy="377.9" r="4.17" fill="#966a44"/>
<circle cx="584.1" cy="374.1" r="4.17" fill="#966a44"/>
<circle cx="548.4" cy="370.3" r="4.17" fill="#5b82a0"/>
<circle cx="584.6" cy="341.8" r="4.17" fill="#5b82a0"/>
<circle cx="548.3" cy="374.1" r="4.17" fill="#966a44"/>
<circle cx="584.1" cy="377.9" r="4.17" fill="#966a44"/>
<circle cx="560.4" cy="320.9" r="4.17" fill="#5b82a0"/>
<circle cx="547.1" cy="381.7" r="4.17" fill="#5b82a0"/>
<circle cx="548.4" cy="372.2" r="4.17" fill="#5b82a0"/>
<circle cx="557.2" cy="366.5" r="4.17" fill="#966a44"/>
<circle cx="590" cy="381.7" r="4.17" fill="#966a44"/>
<circle cx="545.1" cy="307.7" r="4.17" fill="#5b82a0"/>
<circle cx="558.4" cy="355.1" r="4.17" fill="#966a44"/>
<circle cx="573.3" cy="364.6" r="4.17" fill="#966a44"/>
<circle cx="647.2" cy="393" r="4.17" fill="#966a44"/>
<circle cx="589" cy="337.1" r="4.17" fill="#5b82a0"/>
<circle cx="568.3" cy="393" r="4.17" fill="#5b82a0"/>
<circle cx="664.2" cy="368.4" r="4.17" fill="#5b82a0"/>
<circle cx="548.7" cy="338" r="4.17" fill="#5b82a0"/>
<circle cx="602.8" cy="338" r="4.17" fill="#5b82a0"/>
<circle cx="584.1" cy="419.6" r="4.17" fill="#5b82a0"/>
<circle cx="558.4" cy="370.3" r="4.17" fill="#5b82a0"/>
<circle cx="558.4" cy="376" r="4.17" fill="#5b82a0"/>
<circle cx="558.4" cy="355.1" r="4.17" fill="#5b82a0"/>
<circle cx="558.4" cy="377.9" r="4.17" fill="#966a44"/>
<circle cx="558.4" cy="347.5" r="4.17" fill="#966a44"/>
<circle cx="564.2" cy="417.7" r="4.17" fill="#5b82a0"/>
<circle cx="549.9" cy="343.7" r="4.17" fill="#5b82a0"/>
<circle cx="551" cy="379.8" r="4.17" fill="#5b82a0"/>
<circle cx="547.1" cy="394.9" r="4.17" fill="#5b82a0"/>
<circle cx="567.9" cy="376" r="4.17" fill="#5b82a0"/>
<circle cx="551.5" cy="370.3" r="4.17" fill="#5b82a0"/>
<circle cx="641.3" cy="381.7" r="4.17" fill="#966a44"/>
<circle cx="558.4" cy="351.3" r="4.17" fill="#966a44"/>
<circle cx="587.8" cy="347.5" r="4.17" fill="#5b82a0"/>
<circle cx="587.5" cy="368.4" r="4.17" fill="#5b82a0"/>
<circle cx="561.3" cy="338" r="4.17" fill="#966a44"/>
<circle cx="546.7" cy="357" r="4.17" fill="#5b82a0"/>
<circle cx="547.1" cy="366.5" r="4.17" fill="#5b82a0"/>
<circle cx="681.3" cy="309.6" r="4.17" fill="#966a44"/>
<circle cx="669.5" cy="377.9" r="4.17" fill="#966a44"/>
<circle cx="642.2" cy="376" r="4.17" fill="#5b82a0"/>
<circle cx="545.6" cy="389.3" r="4.17" fill="#5b82a0"/>
<circle cx="548.7" cy="387.4" r="4.17" fill="#5b82a0"/>
<circle cx="574.4" cy="417.7" r="4.17" fill="#966a44"/>
<circle cx="547.1" cy="381.7" r="4.17" fill="#966a44"/>
<circle cx="540.7" cy="385.5" r="4.17" fill="#5b82a0"/>
<circle cx="548.1" cy="387.4" r="4.17" fill="#5b82a0"/>
<circle cx="563.8" cy="421.5" r="4.17" fill="#966a44"/>
<circle cx="548.4" cy="362.7" r="4.17" fill="#5b82a0"/>
<circle cx="635.4" cy="357" r="4.17" fill="#966a44"/>
<circle cx="677.8" cy="389.3" r="4.17" fill="#5b82a0"/>
<circle cx="625.3" cy="421.5" r="4.17" fill="#5b82a0"/>
<circle cx="558.4" cy="355.1" r="4.17" fill="#966a44"/>
<circle cx="556.5" cy="391.2" r="4.17" fill="#966a44"/>
<circle cx="548.2" cy="383.6" r="4.17" fill="#5b82a0"/>
<circle cx="548.4" cy="370.3" r="4.17" fill="#5b82a0"/>
<circle cx="565.7" cy="377.9" r="4.17" fill="#966a44"/>
<circle cx="548.2" cy="381.7" r="4.17" fill="#5b82a0"/>
<circle cx="548.3" cy="364.6" r="4.17" fill="#966a44"/>
<circle cx="584.1" cy="336.1" r="4.17" fill="#5b82a0"/>
<circle cx="553.5" cy="379.8" r="4.17" fill="#5b82a0"/>
<circle cx="557.7" cy="370.3" r="4.17" fill="#966a44"/>
<circle cx="548.4" cy="349.4" r="4.17" fill="#5b82a0"/>
<circle cx="548.7" cy="374.1" r="4.17" fill="#5b82a0"/>
<circle cx="552.2" cy="383.6" r="4.17" fill="#966a44"/>
<circle cx="564.1" cy="370.3" r="4.17" fill="#5b82a0"/>
<circle cx="549.9" cy="385.5" r="4.17" fill="#966a44"/>
<circle cx="574.2" cy="358.9" r="4.17" fill="#5b82a0"/>
<circle cx="548.1" cy="326.6" r="4.17" fill="#5b82a0"/>
<circle cx="569.8" cy="417.7" r="4.17" fill="#5b82a0"/>
<circle cx="548.1" cy="383.6" r="4.17" fill="#5b82a0"/>
<circle cx="710.4" cy="360.8" r="4.17" fill="#966a44"/>
<circle cx="548.4" cy="339.9" r="4.17" fill="#5b82a0"/>
<circle cx="596.9" cy="358.9" r="4.17" fill="#966a44"/>
<circle cx="558.4" cy="389.3" r="4.17" fill="#966a44"/>
<circle cx="558.4" cy="366.5" r="4.17" fill="#5b82a0"/>
<circle cx="580.4" cy="404.4" r="4.17" fill="#966a44"/>
<circle cx="548" cy="383.6" r="4.17" fill="#5b82a0"/>
<circle cx="548.3" cy="368.4" r="4.17" fill="#5b82a0"/>
<circle cx="561.2" cy="370.3" r="4.17" fill="#966a44"/>
<circle cx="572.7" cy="389.3" r="4.17" fill="#5b82a0"/>
<circle cx="584.1" cy="370.3" r="4.17" fill="#966a44"/>
<circle cx="584.1" cy="387.4" r="4.17" fill="#966a44"/>
<circle cx="548.7" cy="362.7" r="4.17" fill="#5b82a0"/>
<circle cx="585.2" cy="370.3" r="4.17" fill="#5b82a0"/>
<circle cx="584.1" cy="343.7" r="4.17" fill="#966a44"/>
<circle cx="546.8" cy="391.2" r="4.17" fill="#5b82a0"/>
<circle cx="643.1" cy="328.5" r="4.17" fill="#5b82a0"/>
<circle cx="600.6" cy="383.6" r="4.17" fill="#966a44"/>
<circle cx="569.8" cy="377.9" r="4.17" fill="#966a44"/>
<circle cx="553.5" cy="364.6" r="4.17" fill="#5b82a0"/>
<circle cx="584.6" cy="338" r="4.17" fill="#966a44"/>
<circle cx="551.5" cy="385.5" r="4.17" fill="#5b82a0"/>
<circle cx="548.1" cy="376" r="4.17" fill="#5b82a0"/>
<circle cx="558.4" cy="370.3" r="4.17" fill="#966a44"/>
<circle cx="694.3" cy="415.8" r="4.17" fill="#5b82a0"/>
<circle cx="571.3" cy="398.7" r="4.17" fill="#966a44"/>
<circle cx="585.2" cy="358.9" r="4.17" fill="#5b82a0"/>
<circle cx="570.8" cy="413.9" r="4.17" fill="#966a44"/>
<circle cx="593" cy="324.7" r="4.17" fill="#5b82a0"/>
<circle cx="587.5" cy="355.1" r="4.17" fill="#5b82a0"/>
<circle cx="587.5" cy="366.5" r="4.17" fill="#5b82a0"/>
<circle cx="708.6" cy="330.4" r="4.17" fill="#5b82a0"/>
<circle cx="548.4" cy="368.4" r="4.17" fill="#5b82a0"/>
<circle cx="585.2" cy="300.1" r="4.17" fill="#5b82a0"/>
<circle cx="553.5" cy="328.5" r="4.17" fill="#966a44"/>
<circle cx="585.2" cy="332.3" r="4.17" fill="#5b82a0"/>
<circle cx="548.7" cy="358.9" r="4.17" fill="#5b82a0"/>
<circle cx="608.8" cy="334.2" r="4.17" fill="#5b82a0"/>
<circle cx="558.4" cy="332.3" r="4.17" fill="#5b82a0"/>
<circle cx="546.7" cy="351.3" r="4.17" fill="#5b82a0"/>
<circle cx="585.2" cy="317.2" r="4.17" fill="#5b82a0"/>
<circle cx="570.8" cy="422" r="4.17" fill="#966a44"/>
<circle cx="549.9" cy="351.3" r="4.17" fill="#5b82a0"/>
<circle cx="587.5" cy="360.8" r="4.17" fill="#966a44"/>
<circle cx="560" cy="379.8" r="4.17" fill="#966a44"/>
<circle cx="552.2" cy="381.7" r="4.17" fill="#966a44"/>
<circle cx="574.2" cy="358.9" r="4.17" fill="#5b82a0"/>
<circle cx="546.7" cy="368.4" r="4.17" fill="#5b82a0"/>
<circle cx="547.6" cy="381.7" r="4.17" fill="#5b82a0"/>
<circle cx="557" cy="419.6" r="4.17" fill="#966a44"/>
<circle cx="625.3" cy="406.3" r="4.17" fill="#5b82a0"/>
<circle cx="548.7" cy="328.5" r="4.17" fill="#5b82a0"/>
<circle cx="551.7" cy="303.9" r="4.17" fill="#966a44"/>
<circle cx="712.5" cy="376" r="4.17" fill="#5b82a0"/>
<circle cx="710.4" cy="357" r="4.17" fill="#966a44"/>
<circle cx="591.4" cy="313.4" r="4.17" fill="#5b82a0"/>
<circle cx="548.7" cy="366.5" r="4.17" fill="#5b82a0"/>
<circle cx="564.2" cy="406.3" r="4.17" fill="#5b82a0"/>
<circle cx="547.1" cy="383.6" r="4.17" fill="#5b82a0"/>
<circle cx="593" cy="319" r="4.17" fill="#5b82a0"/>
<circle cx="630.5" cy="288.7" r="4.17" fill="#5b82a0"/>
<circle cx="548.7" cy="383.6" r="4.17" fill="#5b82a0"/>
<circle cx="687.2" cy="320.9" r="4.17" fill="#966a44"/>
<circle cx="548.2" cy="377.9" r="4.17" fill="#5b82a0"/>
<circle cx="549.9" cy="391.2" r="4.17" fill="#5b82a0"/>
<circle cx="548.1" cy="383.6" r="4.17" fill="#966a44"/>
<circle cx="551.7" cy="353.2" r="4.17" fill="#966a44"/>
<circle cx="703.5" cy="393" r="4.17" fill="#966a44"/>
<circle cx="584.1" cy="360.8" r="4.17" fill="#966a44"/>
<circle cx="577.2" cy="370.3" r="4.17" fill="#5b82a0"/>
<circle cx="644.3" cy="374.1" r="4.17" fill="#5b82a0"/>
<circle cx="548.1" cy="368.4" r="4.17" fill="#5b82a0"/>
<circle cx="584.7" cy="355.1" r="4.17" fill="#5b82a0"/>
<circle cx="650" cy="320.9" r="4.17" fill="#966a44"/>
<circle cx="547.6" cy="377.9" r="4.17" fill="#5b82a0"/>
<circle cx="599.9" cy="334.2" r="4.17" fill="#5b82a0"/>
<circle cx="553.5" cy="358.9" r="4.17" fill="#966a44"/>
<circle cx="584.1" cy="355.1" r="4.17" fill="#966a44"/>
<circle cx="548.4" cy="362.7" r="4.17" fill="#5b82a0"/>
<circle cx="548.4" cy="381.7" r="4.17" fill="#5b82a0"/>
<circle cx="647.2" cy="339.9" r="4.17" fill="#966a44"/>
<circle cx="548.1" cy="346.6" r="4.17" fill="#5b82a0"/>
<circle cx="553.5" cy="328.5" r="4.17" fill="#966a44"/>
<circle cx="548.4" cy="349.4" r="4.17" fill="#5b82a0"/>
<circle cx="555.5" cy="379.8" r="4.17" fill="#5b82a0"/>
<circle cx="584.1" cy="419.6" r="4.17" fill="#966a44"/>
<circle cx="547.1" cy="391.2" r="4.17" fill="#5b82a0"/>
<circle cx="549.9" cy="366.5" r="4.17" fill="#966a44"/>
<circle cx="584.6" cy="410.1" r="4.17" fill="#966a44"/>
<circle cx="585.2" cy="338" r="4.17" fill="#5b82a0"/>
<circle cx="630.5" cy="381.7" r="4.17" fill="#966a44"/>
<circle cx="672.9" cy="355.1" r="4.17" fill="#966a44"/>
<circle cx="594.5" cy="406.3" r="4.17" fill="#966a44"/>
<circle cx="594.5" cy="402.5" r="4.17" fill="#966a44"/>
<circle cx="584.1" cy="362.7" r="4.17" fill="#5b82a0"/>
<circle cx="584.1" cy="302" r="4.17" fill="#5b82a0"/>
<circle cx="584.1" cy="387.4" r="4.17" fill="#966a44"/>
<circle cx="573.3" cy="360.8" r="4.17" fill="#5b82a0"/>
<circle cx="605.3" cy="408.2" r="4.17" fill="#5b82a0"/>
<circle cx="584.1" cy="372.2" r="4.17" fill="#5b82a0"/>
<circle cx="547" cy="381.7" r="4.17" fill="#5b82a0"/>
<circle cx="548.1" cy="381.7" r="4.17" fill="#966a44"/>
<circle cx="585.2" cy="305.8" r="4.17" fill="#5b82a0"/>
<circle cx="610.9" cy="332.3" r="4.17" fill="#966a44"/>
<circle cx="690" cy="349.4" r="4.17" fill="#966a44"/>
<circle cx="567.1" cy="355.1" r="4.17" fill="#966a44"/>
<circle cx="548.4" cy="347.5" r="4.17" fill="#5b82a0"/>
<circle cx="559.4" cy="370.3" r="4.17" fill="#5b82a0"/>
<circle cx="580.4" cy="377.9" r="4.17" fill="#5b82a0"/>
<circle cx="548.4" cy="387.4" r="4.17" fill="#5b82a0"/>
<circle cx="574.4" cy="368.4" r="4.17" fill="#966a44"/>
<circle cx="548.3" cy="362.7" r="4.17" fill="#5b82a0"/>
<circle cx="553.5" cy="305.8" r="4.17" fill="#5b82a0"/>
<circle cx="634.4" cy="322.8" r="4.17" fill="#966a44"/>
<circle cx="584.9" cy="355.1" r="4.17" fill="#5b82a0"/>
<circle cx="548.7" cy="393" r="4.17" fill="#5b82a0"/>
<circle cx="561.4" cy="387.4" r="4.17" fill="#5b82a0"/>
<circle cx="558.4" cy="358.9" r="4.17" fill="#966a44"/>
<circle cx="643.1" cy="349.4" r="4.17" fill="#966a44"/>
<circle cx="548.4" cy="362.7" r="4.17" fill="#5b82a0"/>
<circle cx="592" cy="376" r="4.17" fill="#966a44"/>
<circle cx="584.1" cy="320.9" r="4.17" fill="#5b82a0"/>
<circle cx="612" cy="355.1" r="4.17" fill="#5b82a0"/>
<circle cx="690" cy="389.3" r="4.17" fill="#966a44"/>
<circle cx="562.4" cy="334.2" r="4.17" fill="#5b82a0"/>
<circle cx="689.1" cy="309.6" r="4.17" fill="#5b82a0"/>
<circle cx="548.7" cy="381.7" r="4.17" fill="#5b82a0"/>
<circle cx="546.8" cy="357" r="4.17" fill="#5b82a0"/>
<circle cx="687.2" cy="324.7" r="4.17" fill="#966a44"/>
<circle cx="547.1" cy="334.2" r="4.17" fill="#5b82a0"/>
<circle cx="584.1" cy="353.2" r="4.17" fill="#5b82a0"/>
<circle cx="580.4" cy="355.1" r="4.17" fill="#5b82a0"/>
<circle cx="532.8" cy="330.4" r="4.17" fill="#5b82a0"/>
<circle cx="645.1" cy="330.4" r="4.17" fill="#5b82a0"/>
<circle cx="586.1" cy="377.9" r="4.17" fill="#966a44"/>
<circle cx="548.7" cy="339.9" r="4.17" fill="#5b82a0"/>
<circle cx="585.2" cy="357" r="4.17" fill="#5b82a0"/>
<circle cx="563.5" cy="355.1" r="4.17" fill="#5b82a0"/>
<circle cx="548.4" cy="366.5" r="4.17" fill="#5b82a0"/>
<circle cx="593" cy="372.2" r="4.17" fill="#5b82a0"/>
<circle cx="614.8" cy="381.7" r="4.17" fill="#966a44"/>
<circle cx="594.5" cy="349.4" r="4.17" fill="#966a44"/>
<circle cx="548.7" cy="357" r="4.17" fill="#5b82a0"/>
<circle cx="661.1" cy="377.9" r="4.17" fill="#966a44"/>
<circle cx="561.2" cy="358.9" r="4.17" fill="#5b82a0"/>
<circle cx="564.6" cy="374.1" r="4.17" fill="#966a44"/>
<circle cx="609.7" cy="415.8" r="4.17" fill="#966a44"/>
<circle cx="553.5" cy="374.1" r="4.17" fill="#5b82a0"/>
<circle cx="561.3" cy="372.2" r="4.17" fill="#5b82a0"/>
<circle cx="636.5" cy="343.7" r="4.17" fill="#5b82a0"/>
<circle cx="563.8" cy="385.5" r="4.17" fill="#5b82a0"/>
<circle cx="548.3" cy="383.6" r="4.17" fill="#5b82a0"/>
<circle cx="564.6" cy="383.6" r="4.17" fill="#5b82a0"/>
<circle cx="596.6" cy="307.7" r="4.17" fill="#5b82a0"/>
<circle cx="557.2" cy="315.3" r="4.17" fill="#5b82a0"/>
<circle cx="686.6" cy="383.6" r="4.17" fill="#966a44"/>
<circle cx="548.4" cy="374.1" r="4.17" fill="#5b82a0"/>
<circle cx="592" cy="271.6" r="4.17" fill="#5b82a0"/>
<circle cx="546.7" cy="326.6" r="4.17" fill="#5b82a0"/>
<circle cx="593" cy="362.7" r="4.17" fill="#5b82a0"/>
<circle cx="587.8" cy="406.3" r="4.17" fill="#966a44"/>
<circle cx="558.4" cy="370.3" r="4.17" fill="#966a44"/>
<circle cx="548.4" cy="362.7" r="4.17" fill="#5b82a0"/>
<circle cx="584.6" cy="364.6" r="4.17" fill="#5b82a0"/>
<circle cx="611.1" cy="345.6" r="4.17" fill="#966a44"/>
<circle cx="548.3" cy="385.5" r="4.17" fill="#5b82a0"/>
<circle cx="669.5" cy="377.9" r="4.17" fill="#966a44"/>
<circle cx="587.8" cy="419.6" r="4.17" fill="#966a44"/>
<circle cx="570.8" cy="422" r="4.17" fill="#966a44"/>
<circle cx="684.2" cy="332.3" r="4.17" fill="#5b82a0"/>
<circle cx="548.4" cy="387.4" r="4.17" fill="#5b82a0"/>
<circle cx="602.8" cy="317.2" r="4.17" fill="#5b82a0"/>
<circle cx="547.7" cy="379.8" r="4.17" fill="#966a44"/>
<circle cx="578.2" cy="389.3" r="4.17" fill="#966a44"/>
<circle cx="549.4" cy="383.6" r="4.17" fill="#5b82a0"/>
<circle cx="546.1" cy="389.3" r="4.17" fill="#966a44"/>
<circle cx="677.8" cy="377.9" r="4.17" fill="#5b82a0"/>
<circle cx="563.4" cy="362.7" r="4.17" fill="#966a44"/>
<circle cx="558.4" cy="379.8" r="4.17" fill="#5b82a0"/>
<circle cx="547" cy="347.5" r="4.17" fill="#5b82a0"/>
<circle cx="583.3" cy="334.2" r="4.17" fill="#5b82a0"/>
<circle cx="547.6" cy="355.1" r="4.17" fill="#5b82a0"/>
<circle cx="548.4" cy="385.5" r="4.17" fill="#5b82a0"/>
<circle cx="677.8" cy="362.7" r="4.17" fill="#5b82a0"/>
<circle cx="558.4" cy="376" r="4.17" fill="#5b82a0"/>
<circle cx="548.7" cy="341.8" r="4.17" fill="#5b82a0"/>
<circle cx="609.7" cy="347.5" r="4.17" fill="#966a44"/>
<circle cx="635.4" cy="364.6" r="4.17" fill="#5b82a0"/>
<circle cx="553.5" cy="290.6" r="4.17" fill="#5b82a0"/>
<circle cx="558.4" cy="364.6" r="4.17" fill="#5b82a0"/>
<circle cx="548.1" cy="389.3" r="4.17" fill="#5b82a0"/>
<circle cx="548.7" cy="376.9" r="4.17" fill="#5b82a0"/>
<circle cx="552.2" cy="389.3" r="4.17" fill="#966a44"/>
<circle cx="625.3" cy="341.8" r="4.17" fill="#966a44"/>
<circle cx="684.2" cy="372.2" r="4.17" fill="#5b82a0"/>
<circle cx="551" cy="385.5" r="4.17" fill="#5b82a0"/>
<circle cx="625.3" cy="396.8" r="4.17" fill="#5b82a0"/>
<circle cx="609.7" cy="309.6" r="4.17" fill="#5b82a0"/>
<circle cx="614.8" cy="376" r="4.17" fill="#5b82a0"/>
<circle cx="611.1" cy="396.8" r="4.17" fill="#5b82a0"/>
<circle cx="552.9" cy="387.4" r="4.17" fill="#5b82a0"/>
<circle cx="548.2" cy="389.3" r="4.17" fill="#5b82a0"/>
<circle cx="645.3" cy="364.6" r="4.17" fill="#5b82a0"/>
<circle cx="559.3" cy="415.8" r="4.17" fill="#966a44"/>
<circle cx="547" cy="376" r="4.17" fill="#5b82a0"/>
<circle cx="585.2" cy="309.6" r="4.17" fill="#5b82a0"/>
<circle cx="559.4" cy="324.7" r="4.17" fill="#5b82a0"/>
<circle cx="548.7" cy="339.9" r="4.17" fill="#5b82a0"/>
<circle cx="547.9" cy="343.7" r="4.17" fill="#5b82a0"/>
<circle cx="584.7" cy="357" r="4.17" fill="#5b82a0"/>
<circle cx="561.3" cy="389.3" r="4.17" fill="#966a44"/>
<circle cx="548.1" cy="376" r="4.17" fill="#5b82a0"/>
<circle cx="548.3" cy="374.1" r="4.17" fill="#5b82a0"/>
<circle cx="584.1" cy="349.4" r="4.17" fill="#5b82a0"/>
<circle cx="559.4" cy="338" r="4.17" fill="#966a44"/>
<circle cx="584.7" cy="343.7" r="4.17" fill="#5b82a0"/>
<circle cx="630.5" cy="377.9" r="4.17" fill="#966a44"/>
<circle cx="635.4" cy="332.3" r="4.17" fill="#5b82a0"/>
<circle cx="551.5" cy="368.4" r="4.17" fill="#5b82a0"/>
<circle cx="558.4" cy="324.7" r="4.17" fill="#5b82a0"/>
<circle cx="547.9" cy="387.4" r="4.17" fill="#5b82a0"/>
<circle cx="553.5" cy="372.2" r="4.17" fill="#966a44"/>
<circle cx="548.1" cy="360.8" r="4.17" fill="#5b82a0"/>
<circle cx="597.9" cy="412" r="4.17" fill="#966a44"/>
<circle cx="546.7" cy="391.2" r="4.17" fill="#5b82a0"/>
<circle cx="558.4" cy="358.9" r="4.17" fill="#5b82a0"/>
<circle cx="558.4" cy="328.5" r="4.17" fill="#5b82a0"/>
<circle cx="637.6" cy="372.2" r="4.17" fill="#5b82a0"/>
<circle cx="549.9" cy="385.5" r="4.17" fill="#5b82a0"/>
<circle cx="574.2" cy="366.5" r="4.17" fill="#966a44"/>
<circle cx="584.1" cy="376" r="4.17" fill="#5b82a0"/>
<circle cx="548.4" cy="376" r="4.17" fill="#966a44"/>
<circle cx="569.9" cy="402.5" r="4.17" fill="#5b82a0"/>
<circle cx="558.4" cy="379.8" r="4.17" fill="#5b82a0"/>
<circle cx="558.4" cy="379.8" r="4.17" fill="#5b82a0"/>
<circle cx="564.6" cy="369.3" r="4.17" fill="#5b82a0"/>
<circle cx="600.6" cy="332.3" r="4.17" fill="#966a44"/>
<circle cx="688.4" cy="355.1" r="4.17" fill="#5b82a0"/>
<circle cx="564.6" cy="377.9" r="4.17" fill="#5b82a0"/>
<circle cx="548.4" cy="364.6" r="4.17" fill="#5b82a0"/>
<circle cx="672.9" cy="290.6" r="4.17" fill="#5b82a0"/>
<circle cx="572.7" cy="393" r="4.17" fill="#5b82a0"/>
<circle cx="558.4" cy="366.5" r="4.17" fill="#966a44"/>
<circle cx="637.6" cy="387.4" r="4.17" fill="#5b82a0"/>
<circle cx="548.1" cy="364.6" r="4.17" fill="#5b82a0"/>
<circle cx="578.2" cy="415.8" r="4.17" fill="#966a44"/>
<circle cx="557.4" cy="412" r="4.17" fill="#5b82a0"/>
<circle cx="551.5" cy="360.8" r="4.17" fill="#5b82a0"/>
<circle cx="548.4" cy="379.8" r="4.17" fill="#5b82a0"/>
<circle cx="661.1" cy="332.3" r="4.17" fill="#966a44"/>
<circle cx="561.4" cy="422.1" r="4.17" fill="#5b82a0"/>
<circle cx="548.2" cy="370.3" r="4.17" fill="#5b82a0"/>
<circle cx="555.5" cy="389.3" r="4.17" fill="#5b82a0"/>
<circle cx="548.7" cy="358.9" r="4.17" fill="#5b82a0"/>
<circle cx="703.5" cy="360.8" r="4.17" fill="#966a44"/>
<circle cx="546.8" cy="345.6" r="4.17" fill="#5b82a0"/>
<circle cx="547.1" cy="385.5" r="4.17" fill="#5b82a0"/>
<circle cx="548.1" cy="393" r="4.17" fill="#5b82a0"/>
<circle cx="686.6" cy="326.6" r="4.17" fill="#966a44"/>
<circle cx="548.1" cy="365.5" r="4.17" fill="#966a44"/>
<circle cx="549.3" cy="362.7" r="4.17" fill="#5b82a0"/>
<circle cx="551.5" cy="377.9" r="4.17" fill="#5b82a0"/>
<circle cx="548.3" cy="332.3" r="4.17" fill="#5b82a0"/>
<circle cx="553.5" cy="315.3" r="4.17" fill="#966a44"/>
<circle cx="578.2" cy="320.9" r="4.17" fill="#966a44"/>
<circle cx="548.1" cy="389.3" r="4.17" fill="#5b82a0"/>
<circle cx="557.4" cy="413.9" r="4.17" fill="#966a44"/>
<circle cx="547.1" cy="398.7" r="4.17" fill="#966a44"/>
<circle cx="645.3" cy="391.2" r="4.17" fill="#966a44"/>
<circle cx="592" cy="368.4" r="4.17" fill="#5b82a0"/>
<circle cx="546.7" cy="376" r="4.17" fill="#5b82a0"/>
<circle cx="547.1" cy="376" r="4.17" fill="#5b82a0"/>
<circle cx="547.6" cy="389.3" r="4.17" fill="#966a44"/>
<circle cx="590.3" cy="408.2" r="4.17" fill="#5b82a0"/>
<circle cx="573.4" cy="421.5" r="4.17" fill="#5b82a0"/>
<circle cx="689.1" cy="336.1" r="4.17" fill="#5b82a0"/>
<circle cx="584.1" cy="393" r="4.17" fill="#5b82a0"/>
<circle cx="548.4" cy="376" r="4.17" fill="#5b82a0"/>
<circle cx="558.4" cy="349.4" r="4.17" fill="#5b82a0"/>
<circle cx="584" cy="330.4" r="4.17" fill="#966a44"/>
<circle cx="549.9" cy="364.6" r="4.17" fill="#966a44"/>
<circle cx="547.1" cy="366.5" r="4.17" fill="#5b82a0"/>
<circle cx="580.4" cy="366.5" r="4.17" fill="#966a44"/>
<circle cx="558.4" cy="358.9" r="4.17" fill="#5b82a0"/>
<circle cx="584.6" cy="364.6" r="4.17" fill="#966a44"/>
<circle cx="549.6" cy="422.6" r="4.17" fill="#5b82a0"/>
<circle cx="546.6" cy="372.2" r="4.17" fill="#5b82a0"/>
<circle cx="548.1" cy="364.6" r="4.17" fill="#5b82a0"/>
<circle cx="532.8" cy="349.4" r="4.17" fill="#5b82a0"/>
<circle cx="548.1" cy="389.3" r="4.17" fill="#966a44"/>
<circle cx="558.4" cy="349.4" r="4.17" fill="#5b82a0"/>
<circle cx="637.6" cy="360.8" r="4.17" fill="#966a44"/>
<circle cx="548.4" cy="374.1" r="4.17" fill="#5b82a0"/>
<circle cx="580.4" cy="349.4" r="4.17" fill="#5b82a0"/>
<circle cx="553.5" cy="357" r="4.17" fill="#5b82a0"/>
<circle cx="594.5" cy="412" r="4.17" fill="#966a44"/>
<circle cx="548.7" cy="365.5" r="4.17" fill="#5b82a0"/>
<circle cx="548.4" cy="379.8" r="4.17" fill="#966a44"/>
<circle cx="605.8" cy="364.6" r="4.17" fill="#5b82a0"/>
<circle cx="545.5" cy="341.8" r="4.17" fill="#5b82a0"/>
<circle cx="587.8" cy="404.4" r="4.17" fill="#5b82a0"/>
<circle cx="549.9" cy="372.2" r="4.17" fill="#5b82a0"/>
<circle cx="532.8" cy="351.3" r="4.17" fill="#5b82a0"/>
<circle cx="557.4" cy="372.2" r="4.17" fill="#966a44"/>
<circle cx="611.1" cy="419.6" r="4.17" fill="#5b82a0"/>
<circle cx="605.8" cy="421.5" r="4.17" fill="#5b82a0"/>
<circle cx="690.7" cy="305.8" r="4.17" fill="#966a44"/>
<circle cx="561.3" cy="394.9" r="4.17" fill="#966a44"/>
<circle cx="569.8" cy="421.8" r="4.17" fill="#5b82a0"/>
<circle cx="548.3" cy="379.8" r="4.17" fill="#5b82a0"/>
<circle cx="549.2" cy="389.3" r="4.17" fill="#5b82a0"/>
<circle cx="696.9" cy="349.4" r="4.17" fill="#966a44"/>
<circle cx="549.9" cy="383.6" r="4.17" fill="#5b82a0"/>
<circle cx="644.3" cy="362.7" r="4.17" fill="#5b82a0"/>
<circle cx="548.4" cy="385.5" r="4.17" fill="#5b82a0"/>
<circle cx="553.5" cy="393" r="4.17" fill="#5b82a0"/>
<circle cx="594" cy="366.5" r="4.17" fill="#966a44"/>
<circle cx="545.5" cy="357.9" r="4.17" fill="#5b82a0"/>
<circle cx="549.9" cy="391.2" r="4.17" fill="#5b82a0"/>
<circle cx="547.7" cy="343.7" r="4.17" fill="#5b82a0"/>
<circle cx="548.4" cy="357" r="4.17" fill="#5b82a0"/>
<circle cx="597.9" cy="370.3" r="4.17" fill="#5b82a0"/>
<circle cx="594.5" cy="415.8" r="4.17" fill="#5b82a0"/>
<circle cx="548.1" cy="283" r="4.17" fill="#5b82a0"/>
<circle cx="562.9" cy="406.3" r="4.17" fill="#966a44"/>
<circle cx="610.5" cy="393" r="4.17" fill="#966a44"/>
<circle cx="584.1" cy="339.9" r="4.17" fill="#966a44"/>
<circle cx="551.2" cy="389.3" r="4.17" fill="#966a44"/>
<circle cx="585.2" cy="326.6" r="4.17" fill="#5b82a0"/>
<circle cx="570.8" cy="377.9" r="4.17" fill="#966a44"/>
<circle cx="560.6" cy="345.6" r="4.17" fill="#5b82a0"/>
<circle cx="555.5" cy="383.6" r="4.17" fill="#5b82a0"/>
<circle cx="584" cy="332.3" r="4.17" fill="#966a44"/>
<circle cx="558.4" cy="377.9" r="4.17" fill="#5b82a0"/>
<circle cx="558.4" cy="343.7" r="4.17" fill="#966a44"/>
<circle cx="560.1" cy="372.2" r="4.17" fill="#966a44"/>
<circle cx="632.4" cy="364.6" r="4.17" fill="#5b82a0"/>
<circle cx="554.8" cy="415.8" r="4.17" fill="#5b82a0"/>
<circle cx="548.4" cy="374.1" r="4.17" fill="#5b82a0"/>
<circle cx="636.5" cy="334.2" r="4.17" fill="#966a44"/>
<circle cx="542.7" cy="360.8" r="4.17" fill="#5b82a0"/>
<circle cx="550.5" cy="334.2" r="4.17" fill="#5b82a0"/>
<circle cx="580.1" cy="370.3" r="4.17" fill="#966a44"/>
<circle cx="547" cy="394.9" r="4.17" fill="#966a44"/>
<circle cx="552.2" cy="385.5" r="4.17" fill="#5b82a0"/>
<circle cx="548.4" cy="387.4" r="4.17" fill="#5b82a0"/>
<circle cx="696.9" cy="317.2" r="4.17" fill="#966a44"/>
<circle cx="584.1" cy="376" r="4.17" fill="#966a44"/>
<circle cx="548.4" cy="360.8" r="4.17" fill="#5b82a0"/>
<circle cx="553.5" cy="381.7" r="4.17" fill="#966a44"/>
<circle cx="553.5" cy="370.3" r="4.17" fill="#5b82a0"/>
<circle cx="546.7" cy="376" r="4.17" fill="#5b82a0"/>
<circle cx="590.3" cy="349.4" r="4.17" fill="#966a44"/>
<circle cx="558.4" cy="372.2" r="4.17" fill="#5b82a0"/>
<circle cx="592" cy="387.4" r="4.17" fill="#966a44"/>
<circle cx="592" cy="374.1" r="4.17" fill="#5b82a0"/>
<circle cx="548.1" cy="362.7" r="4.17" fill="#5b82a0"/>
</g>
</g>
<g clip-path="url(#c20)">
<rect x="62" y="474" width="196" height="213" fill="#262730"/>
<path d="M112.5 474V687M207.5 474V687M62 654.5H258M62 616.5H258M62 578.5H258M62 541.5H258M62 503.5H258" stroke="#1e1e20" stroke-width="1" fill="none"/>
<path d="M73.6 647.4L73.6 648.2L73.7 649.2L73.8 650.2L73.9 651.2L74.1 652.2L74.4 653.2L74.4 653.4L74.6 654.2L75 655.2L75.3 656L75.4 656.2L75.8 657.1L76.2 657.9L76.3 658.1L76.8 659.1L77 659.5L77.4 660.1L77.9 660.9L78.1 661.1L78.8 662.1L78.8 662.1L79.6 663.1L79.6 663.1L80.5 664.1L80.5 664.1L81.4 665L81.5 665.1L82.2 665.8L82.6 666.1L83.1 666.5L83.8 667.1L83.9 667.2L84.8 667.8L85.1 668.1L85.7 668.4L86.5 669L86.6 669L87.4 669.5L88.3 670L88.4 670L89.1 670.4L90 670.8L90.4 671L90.8 671.2L91.7 671.6L92.6 671.9L92.9 672L93.4 672.2L94.3 672.5L95.2 672.8L96 673L96.1 673L96.9 673.2L97.7 673.4L98.6 673.6L99.5 673.7L100.3 673.8L101.2 673.9L102 674L102.1 674L102.9 674.1L103.8 674.1L104.7 674.2L105.5 674.2L106.4 674.2L107.2 674.1L108.1 674.1L109 674L109.2 674L109.8 673.9L110.7 673.9L111.6 673.8L112.4 673.6L113.3 673.5L114.1 673.3L115 673.1L115.4 673L115.9 672.9L116.7 672.7L117.6 672.5L118.5 672.2L119 672L119.3 671.9L120.2 671.6L121 671.3L121.8 671L121.9 671L122.8 670.6L123.6 670.3L124.1 670L124.5 669.9L125.4 669.5L126.2 669L126.2 669L127.1 668.6L128 668.1L128 668.1L128.8 667.6L129.7 667.1L129.7 667.1L130.5 666.6L131.3 666.1L131.4 666L132.3 665.4L132.7 665.1L133.1 664.8L134 664.1L134 664.1L134.9 663.4L135.3 663.1L135.7 662.7L136.4 662.1L136.6 662L137.4 661.2L137.5 661.1L138.3 660.4L138.6 660.1L139.2 659.5L139.6 659.1L140 658.6L140.5 658.1L140.9 657.7L141.4 657.1L141.8 656.7L142.2 656.2L142.6 655.6L143 655.2L143.5 654.5L143.7 654.2L144.3 653.2L144.4 653.2L145 652.2L145.2 651.9L145.7 651.2L146.1 650.4L146.2 650.2L146.8 649.2L146.9 648.8L147.3 648.2L147.7 647.2L147.8 647L148.1 646.2L148.5 645.2L148.7 644.8L148.9 644.3L149.2 643.3L149.5 642.3L149.5 641.9L149.7 641.3L149.9 640.3L150.1 639.3L150.2 638.3L150.3 637.3L150.4 636.3L150.4 635.4L150.4 635.3L150.4 634.9L150.4 634.3L150.3 633.3L150.3 632.4L150.2 631.4L150 630.4L149.9 629.4L149.6 628.4L149.5 627.9L149.4 627.4L149.2 626.4L148.9 625.4L148.7 624.8L148.5 624.4L148.2 623.4L147.9 622.4L147.8 622.2L147.6 621.4L147.2 620.5L146.9 619.7L146.9 619.5L146.6 618.5L146.3 617.5L146.1 616.8L146 616.5L145.7 615.5L145.5 614.5L145.3 613.5L145.2 613L145.1 612.5L145 611.5L144.8 610.5L144.7 609.5L144.5 608.6L144.3 607.6L144.3 607.6L144.2 606.6L144 605.6L143.8 604.6L143.6 603.6L143.5 602.9L143.4 602.6L143.2 601.6L142.9 600.6L142.7 599.6L142.6 599.5L142.4 598.6L142.1 597.6L141.8 596.7L141.7 596.7L141.4 595.7L141.1 594.7L140.9 594.2L140.7 593.7L140.4 592.7L140 591.7L140 591.7L139.7 590.7L139.4 589.7L139.2 589.1L139.1 588.7L138.8 587.7L138.5 586.7L138.3 586.1L138.2 585.7L138 584.8L137.8 583.8L137.6 582.8L137.4 582L137.4 581.8L137.3 580.8L137.1 579.8L137 578.8L136.9 577.8L136.8 576.8L136.7 575.8L136.6 575.3L136.5 574.8L136.4 573.8L136.3 572.9L136.1 571.9L136 570.9L135.8 569.9L135.7 569.6L135.6 568.9L135.3 567.9L135.1 566.9L134.9 565.9L134.8 565.9L134.6 564.9L134.3 563.9L134 562.9L134 562.8L133.8 561.9L133.5 561L133.3 560L133.1 559.1L133.1 559L133 558L132.8 557L132.8 556L132.8 555L132.8 554L132.9 553L133 552L133.1 551L133.1 550.8L133.2 550L133.4 549.1L133.6 548.1L133.7 547.1L133.9 546.1L134 545.5L134.1 545.1L134.2 544.1L134.3 543.1L134.4 542.1L134.5 541.1L134.6 540.1L134.6 539.1L134.6 538.1L134.5 537.2L134.4 536.2L134.3 535.2L134.2 534.2L134 533.4L134 533.2L133.7 532.2L133.4 531.2L133.1 530.3L133.1 530.2L132.7 529.2L132.3 528.2L132.3 528.2L131.8 527.2L131.4 526.6L131.2 526.2L130.5 525.3L130.5 525.3L129.8 524.3L129.7 524.1L128.9 523.3L128.8 523.1L128 522.3L128 522.2L127.1 521.5L126.9 521.3L126.2 520.8L125.6 520.3L125.4 520.2L124.5 519.6L124 519.3L123.6 519.1L122.8 518.7L121.9 518.3L121.9 518.3L121 518L120.2 517.7L119.3 517.5L118.7 517.3L118.5 517.3L117.6 517.1L116.7 517L115.9 516.9L115 516.9L114.1 516.9L113.3 517L112.4 517.1L111.6 517.2L111.1 517.3L110.7 517.4L109.8 517.6L109 517.8L108.1 518.1L107.7 518.3L107.2 518.5L106.4 518.8L105.5 519.2L105.4 519.3L104.7 519.7L103.8 520.2L103.6 520.3L102.9 520.7L102.1 521.3L102.1 521.3L101.2 522L100.8 522.3L100.3 522.7L99.6 523.3L99.5 523.4L98.6 524.2L98.6 524.3L97.7 525.1L97.6 525.3L96.9 526.1L96.7 526.2L96 527.1L95.9 527.2L95.2 528.2L95.2 528.3L94.5 529.2L94.3 529.5L93.9 530.2L93.4 530.9L93.3 531.2L92.7 532.2L92.6 532.5L92.2 533.2L91.8 534.2L91.7 534.4L91.4 535.2L91 536.2L90.8 536.8L90.7 537.2L90.4 538.1L90.2 539.1L90 540.1L90 540.1L89.8 541.1L89.6 542.1L89.5 543.1L89.4 544.1L89.4 545.1L89.4 546.1L89.4 547.1L89.5 548.1L89.5 549.1L89.7 550L89.8 551L89.9 552L90 552.3L90.1 553L90.3 554L90.5 555L90.6 556L90.8 557L90.8 557.3L90.9 558L91.1 559L91.1 560L91.2 561L91.2 561.9L91.2 562.9L91.1 563.9L90.9 564.9L90.8 565.5L90.8 565.9L90.6 566.9L90.4 567.9L90.1 568.9L90 569.4L89.9 569.9L89.6 570.9L89.4 571.9L89.1 572.9L89.1 572.9L88.9 573.8L88.7 574.8L88.4 575.8L88.3 576.8L88.3 576.8L88.1 577.8L87.9 578.8L87.8 579.8L87.6 580.8L87.5 581.8L87.4 582.7L87.4 582.8L87.3 583.8L87.2 584.8L87 585.7L86.9 586.7L86.8 587.7L86.7 588.7L86.5 589.7L86.5 589.7L86.4 590.7L86.2 591.7L86 592.7L85.8 593.7L85.7 594.1L85.5 594.7L85.3 595.7L85 596.7L84.8 597.4L84.7 597.6L84.4 598.6L84.1 599.6L83.9 600.2L83.8 600.6L83.5 601.6L83.2 602.6L83.1 603L82.9 603.6L82.6 604.6L82.3 605.6L82.2 605.8L82 606.6L81.7 607.6L81.4 608.6L81.4 608.8L81.2 609.5L80.9 610.5L80.7 611.5L80.5 612.5L80.5 612.5L80.3 613.5L80.1 614.5L79.9 615.5L79.8 616.5L79.6 617.4L79.6 617.5L79.5 618.5L79.3 619.5L79.2 620.5L79 621.4L78.9 622.4L78.8 623.1L78.7 623.4L78.5 624.4L78.3 625.4L78.1 626.4L77.9 627.2L77.9 627.4L77.6 628.4L77.3 629.4L77 630.3L77 630.4L76.7 631.4L76.4 632.4L76.2 633.1L76.1 633.3L75.8 634.3L75.5 635.3L75.3 636L75.2 636.3L74.9 637.3L74.7 638.3L74.5 639.3L74.4 639.4L74.2 640.3L74 641.3L73.9 642.3L73.8 643.3L73.7 644.3L73.6 645.2L73.6 646.1M200.4 664.1L201.3 664.1L202.2 664.1L203 664.1L203.2 664.1L203.9 664.1L204.8 664L205.6 663.9L206.5 663.8L207.3 663.7L208.2 663.5L209.1 663.3L209.9 663.1L210.1 663.1L210.8 662.9L211.7 662.7L212.5 662.4L213.4 662.1L213.4 662.1L214.2 661.8L215.1 661.5L216 661.1L216 661.1L216.8 660.7L217.7 660.3L218.1 660.1L218.6 659.9L219.4 659.4L219.9 659.1L220.3 658.9L221.2 658.4L221.5 658.1L222 657.8L222.9 657.2L223 657.1L223.7 656.6L224.3 656.2L224.6 655.9L225.5 655.2L225.5 655.2L226.3 654.5L226.7 654.2L227.2 653.7L227.7 653.2L228.1 652.8L228.6 652.2L228.9 651.8L229.5 651.2L229.8 650.8L230.3 650.2L230.6 649.7L231 649.2L231.5 648.5L231.7 648.2L232.3 647.2L232.4 647.1L232.9 646.2L233.2 645.5L233.4 645.2L233.8 644.3L234.1 643.6L234.2 643.3L234.6 642.3L234.9 641.3L235 641.1L235.2 640.3L235.4 639.3L235.6 638.3L235.8 637.3L235.8 636.6L235.9 636.3L235.9 635.3L235.9 634.3L235.9 633.3L235.9 632.4L235.8 631.5L235.8 631.4L235.7 630.4L235.6 629.4L235.4 628.4L235.3 627.4L235.1 626.4L235 625.6L234.9 625.4L234.8 624.4L234.6 623.4L234.5 622.4L234.3 621.4L234.2 620.5L234.1 619.5L234.1 618.5L234.1 618.5L234.1 617.5L234.1 616.5L234.1 615.5L234.1 614.5L234.1 613.5L234.1 612.6L234.1 612.5L234.1 611.5L234.1 610.5L234.1 609.9L234.1 609.5L234.1 608.6L234 607.6L233.9 606.6L233.8 605.6L233.6 604.6L233.5 603.6L233.2 602.6L233.2 602.6L233 601.6L232.7 600.6L232.4 599.8L232.3 599.6L231.9 598.6L231.5 597.8L231.4 597.6L230.9 596.7L230.6 596.1L230.4 595.7L229.8 594.7L229.8 594.7L229.1 593.7L228.9 593.4L228.4 592.7L228.1 592.3L227.6 591.7L227.2 591.2L226.8 590.7L226.3 590.1L226 589.7L225.5 589L225.2 588.7L224.6 587.9L224.4 587.7L223.8 586.7L223.7 586.7L223.3 585.7L222.9 584.8L222.9 584.5L222.8 583.8L222.8 582.8L222.9 582.2L222.9 581.8L223.2 580.8L223.6 579.8L223.7 579.5L224 578.8L224.5 577.8L224.6 577.6L224.9 576.8L225.4 575.8L225.5 575.7L225.8 574.8L226.2 573.8L226.3 573.5L226.6 572.9L226.9 571.9L227.1 570.9L227.2 570.6L227.4 569.9L227.5 568.9L227.6 567.9L227.6 566.9L227.6 565.9L227.5 564.9L227.3 563.9L227.2 563.7L227 562.9L226.7 561.9L226.3 561.2L226.2 561L225.7 560L225.5 559.6L225.1 559L224.6 558.4L224.3 558L223.7 557.3L223.4 557L222.9 556.4L222.4 556L222 555.6L221.2 555L221.2 554.9L220.3 554.3L219.9 554L219.4 553.7L218.6 553.2L218.3 553L217.7 552.6L216.8 552.2L216.5 552L216 551.7L215.1 551.3L214.5 551L214.2 550.9L213.4 550.5L212.5 550.2L212.2 550L211.7 549.8L210.8 549.5L209.9 549.2L209.1 549.1L209 549.1L208.2 548.9L207.3 548.9L206.5 549.1L206.5 549.1L205.6 549.3L204.8 549.7L204.2 550L203.9 550.2L203 550.7L202.6 551L202.2 551.3L201.3 551.9L201.1 552L200.4 552.5L199.8 553L199.6 553.1L198.7 553.8L198.5 554L197.9 554.5L197.3 555L197 555.2L196.1 556L196.1 556L195.3 556.7L195 557L194.4 557.5L194 558L193.5 558.4L193 559L192.7 559.3L192.1 560L191.8 560.3L191.2 561L190.9 561.3L190.5 561.9L190.1 562.5L189.8 562.9L189.2 563.8L189.1 563.9L188.5 564.9L188.4 565.3L188 565.9L187.6 566.9L187.5 567.2L187.2 567.9L186.9 568.9L186.6 569.9L186.6 569.9L186.4 570.9L186.3 571.9L186.2 572.9L186.2 573.8L186.3 574.8L186.4 575.8L186.6 576.8L186.6 576.8L186.9 577.8L187.2 578.8L187.5 579.5L187.6 579.8L188.1 580.8L188.4 581.3L188.6 581.8L189.1 582.8L189.2 582.9L189.7 583.8L190.1 584.6L190.2 584.8L190.6 585.7L190.9 586.7L190.9 587L191.1 587.7L191.1 588.7L190.9 589.4L190.9 589.7L190.6 590.7L190.1 591.7L190.1 591.8L189.6 592.7L189.2 593.3L189 593.7L188.4 594.7L188.4 594.7L187.8 595.7L187.5 596L187.1 596.7L186.6 597.4L186.5 597.6L185.8 598.6L185.8 598.7L185.2 599.6L184.9 600.2L184.6 600.6L184.1 601.6L184 601.7L183.6 602.6L183.2 603.4L183.1 603.6L182.6 604.6L182.3 605.3L182.2 605.6L181.8 606.6L181.5 607.6L181.5 607.6L181.2 608.6L180.9 609.5L180.6 610.5L180.6 610.7L180.4 611.5L180.2 612.5L180.1 613.5L180 614.5L179.9 615.5L179.8 616.5L179.8 617.5L179.7 618.5L179.7 618.5L179.7 619.5L179.7 620.3L179.7 620.5L179.7 621.4L179.8 622.4L179.8 623.4L179.8 624.4L179.8 625.4L179.8 626.4L179.7 626.9L179.7 627.4L179.6 628.4L179.5 629.4L179.4 630.4L179.3 631.4L179.1 632.4L179 633.3L178.9 634.2L178.8 634.3L178.7 635.3L178.5 636.3L178.4 637.3L178.2 638.3L178.1 639.3L178 640.3L178 640.4L177.9 641.3L177.9 642.3L177.9 643.3L177.9 644.3L178 645.2L178 645.4L178.1 646.2L178.2 647.2L178.5 648.2L178.7 649.2L178.9 649.7L179 650.2L179.4 651.2L179.7 651.9L179.9 652.2L180.4 653.2L180.6 653.5L181 654.2L181.5 654.9L181.7 655.2L182.3 656L182.5 656.2L183.2 657L183.4 657.1L184 657.8L184.4 658.1L184.9 658.6L185.6 659.1L185.8 659.2L186.6 659.8L187.1 660.1L187.5 660.4L188.4 660.9L188.8 661.1L189.2 661.3L190.1 661.7L190.9 662.1L190.9 662.1L191.8 662.4L192.7 662.7L193.5 663L193.9 663.1L194.4 663.2L195.3 663.4L196.1 663.6L197 663.8L197.9 663.9L198.7 664L199.6 664L200.4 664.1ZM203.9 544.3L204.8 544.6L205.6 544.8L206.5 544.8L207.3 544.7L208.2 544.4L208.7 544.1L209.1 543.9L209.9 543.3L210.2 543.1L210.8 542.7L211.4 542.1L211.7 541.9L212.4 541.1L212.5 541L213.3 540.1L213.4 540.1L214.1 539.1L214.2 539L214.8 538.1L215.1 537.7L215.5 537.2L216 536.2L216 536.2L216.5 535.2L216.8 534.2L216.8 534.2L217.1 533.2L217.4 532.2L217.6 531.2L217.7 530.3L217.7 530.2L217.8 529.2L217.8 528.2L217.8 527.2L217.8 526.2L217.7 525.5L217.7 525.3L217.6 524.3L217.4 523.3L217.2 522.3L216.9 521.3L216.8 521L216.6 520.3L216.2 519.3L216 518.8L215.7 518.3L215.1 517.4L215.1 517.3L214.2 516.4L214.2 516.3L213.4 515.6L213 515.3L212.5 515.1L211.7 514.7L210.8 514.3L210.8 514.3L209.9 514.2L209.1 514.1L208.2 514L207.3 514.1L206.5 514.2L206 514.3L205.6 514.4L204.8 514.7L203.9 515.1L203.4 515.3L203 515.5L202.2 516.1L201.9 516.3L201.3 516.8L200.7 517.3L200.4 517.6L199.8 518.3L199.6 518.6L199.1 519.3L198.7 519.9L198.5 520.3L198 521.3L197.9 521.6L197.6 522.3L197.2 523.3L197 524L196.9 524.3L196.7 525.3L196.5 526.2L196.3 527.2L196.2 528.2L196.1 528.8L196.1 529.2L196 530.2L196 531.2L196 532.2L196.1 533.2L196.1 533.5L196.2 534.2L196.4 535.2L196.6 536.2L197 537.2L197 537.2L197.4 538.1L197.9 539L198 539.1L198.6 540.1L198.7 540.2L199.5 541.1L199.6 541.2L200.4 542L200.5 542.1L201.3 542.7L201.8 543.1L202.2 543.3L203 543.8L203.6 544.1ZM99.5 669.1L100.3 669.3L101.2 669.4L102.1 669.5L102.9 669.6L103.8 669.7L104.7 669.8L105.5 669.8L106.4 669.8L107.2 669.8L108.1 669.8L109 669.7L109.8 669.6L110.7 669.5L111.6 669.4L112.4 669.3L113.3 669.1L113.7 669L114.1 669L115 668.8L115.9 668.6L116.7 668.3L117.6 668.1L117.6 668.1L118.5 667.8L119.3 667.5L120.2 667.2L120.5 667.1L121 666.9L121.9 666.5L122.8 666.1L122.9 666.1L123.6 665.7L124.5 665.3L124.9 665.1L125.4 664.9L126.2 664.4L126.7 664.1L127.1 663.9L128 663.3L128.3 663.1L128.8 662.8L129.7 662.2L129.8 662.1L130.5 661.6L131.2 661.1L131.4 660.9L132.3 660.3L132.5 660.1L133.1 659.6L133.6 659.1L134 658.8L134.7 658.1L134.9 658L135.7 657.2L135.7 657.1L136.6 656.3L136.7 656.2L137.4 655.3L137.6 655.2L138.3 654.3L138.4 654.2L139.2 653.2L139.2 653.2L139.9 652.2L140 652L140.6 651.2L140.9 650.7L141.2 650.2L141.8 649.3L141.8 649.2L142.4 648.2L142.6 647.7L142.9 647.2L143.3 646.2L143.5 645.8L143.7 645.2L144.1 644.3L144.3 643.5L144.4 643.3L144.7 642.3L145 641.3L145.2 640.3L145.2 639.9L145.3 639.3L145.5 638.3L145.5 637.3L145.6 636.3L145.6 635.3L145.5 634.3L145.5 633.3L145.3 632.4L145.2 631.5L145.2 631.4L145 630.4L144.8 629.4L144.5 628.4L144.3 627.9L144.2 627.4L143.9 626.4L143.5 625.4L143.5 625.3L143.2 624.4L142.8 623.4L142.6 623.1L142.4 622.4L142 621.4L141.8 621L141.6 620.5L141.2 619.5L140.9 618.7L140.8 618.5L140.5 617.5L140.2 616.5L140 616L139.9 615.5L139.6 614.5L139.4 613.5L139.2 612.5L139.2 612.4L139 611.5L138.8 610.5L138.7 609.5L138.5 608.6L138.3 607.7L138.3 607.6L138.1 606.6L137.8 605.6L137.6 604.6L137.4 604L137.3 603.6L137 602.6L136.7 601.6L136.6 601.2L136.4 600.6L136 599.6L135.7 598.9L135.6 598.6L135.2 597.6L134.9 596.9L134.8 596.7L134.3 595.7L134 595L133.9 594.7L133.4 593.7L133.1 593.1L132.9 592.7L132.5 591.7L132.3 591.3L132 590.7L131.6 589.7L131.4 589.3L131.2 588.7L130.8 587.7L130.5 587.1L130.4 586.7L130.1 585.7L129.8 584.8L129.7 584.5L129.5 583.8L129.2 582.8L129 581.8L128.8 580.8L128.8 580.8L128.6 579.8L128.5 578.8L128.3 577.8L128.1 576.8L128 576L127.9 575.8L127.7 574.8L127.5 573.8L127.2 572.9L127.1 572.3L127 571.9L126.6 570.9L126.3 569.9L126.2 569.7L125.9 568.9L125.5 567.9L125.4 567.6L125 566.9L124.5 565.9L124.5 565.8L124 564.9L123.6 564.2L123.5 563.9L123 562.9L122.8 562.5L122.5 561.9L122.1 561L121.9 560.5L121.7 560L121.4 559L121.2 558L121.2 557L121.2 556L121.4 555L121.6 554L121.8 553L121.9 552.7L122.1 552L122.4 551L122.8 550.1L122.8 550L123.1 549.1L123.4 548.1L123.6 547.4L123.7 547.1L124 546.1L124.2 545.1L124.4 544.1L124.5 543.6L124.6 543.1L124.7 542.1L124.7 541.1L124.7 540.1L124.7 539.1L124.6 538.1L124.5 537.7L124.4 537.2L124.1 536.2L123.8 535.2L123.6 534.8L123.4 534.2L122.8 533.2L122.8 533.1L122.1 532.2L121.9 531.9L121.3 531.2L121 531L120.2 530.2L120.1 530.2L119.3 529.6L118.6 529.2L118.5 529.2L117.6 528.8L116.7 528.5L115.9 528.3L115.5 528.2L115 528.2L114.1 528.1L113.3 528.1L112.4 528.2L112 528.2L111.6 528.3L110.7 528.5L109.8 528.7L109 529.1L108.7 529.2L108.1 529.5L107.2 529.9L106.8 530.2L106.4 530.5L105.5 531.1L105.4 531.2L104.7 531.9L104.3 532.2L103.8 532.7L103.4 533.2L102.9 533.7L102.6 534.2L102.1 534.9L101.9 535.2L101.3 536.2L101.2 536.4L100.8 537.2L100.4 538.1L100.3 538.3L100 539.1L99.8 540.1L99.5 541.1L99.5 541.5L99.4 542.1L99.3 543.1L99.2 544.1L99.2 545.1L99.3 546.1L99.4 547.1L99.5 547.4L99.6 548.1L99.8 549.1L100.1 550L100.3 550.9L100.4 551L100.7 552L101.1 553L101.2 553.4L101.4 554L101.8 555L102.1 555.8L102.1 556L102.4 557L102.6 558L102.8 559L102.8 560L102.7 561L102.5 561.9L102.3 562.9L102.1 563.6L101.9 563.9L101.6 564.9L101.2 565.8L101.2 565.9L100.7 566.9L100.3 567.7L100.3 567.9L99.8 568.9L99.5 569.7L99.4 569.9L99 570.9L98.6 571.7L98.5 571.9L98.2 572.9L97.8 573.8L97.7 574L97.5 574.8L97.2 575.8L96.9 576.8L96.9 576.9L96.7 577.8L96.4 578.8L96.2 579.8L96 580.8L96 580.9L95.9 581.8L95.7 582.8L95.5 583.8L95.4 584.8L95.2 585.7L95.2 585.9L95 586.7L94.8 587.7L94.6 588.7L94.3 589.7L94.3 589.9L94.1 590.7L93.8 591.7L93.5 592.7L93.4 592.8L93.1 593.7L92.8 594.7L92.6 595.2L92.4 595.7L92 596.7L91.7 597.4L91.6 597.6L91.2 598.6L90.8 599.6L90.8 599.6L90.4 600.6L90 601.6L90 601.7L89.6 602.6L89.2 603.6L89.1 603.8L88.8 604.6L88.5 605.6L88.3 606.1L88.1 606.6L87.8 607.6L87.4 608.6L87.4 608.7L87.1 609.5L86.8 610.5L86.6 611.5L86.5 611.8L86.3 612.5L86.1 613.5L85.9 614.5L85.7 615.5L85.7 615.7L85.5 616.5L85.3 617.5L85.2 618.5L85 619.5L84.8 620.5L84.8 620.6L84.6 621.4L84.4 622.4L84.2 623.4L84 624.4L83.9 624.6L83.7 625.4L83.4 626.4L83.1 627.4L83.1 627.5L82.8 628.4L82.4 629.4L82.2 630L82.1 630.4L81.7 631.4L81.4 632.4L81.4 632.4L81 633.3L80.7 634.3L80.5 634.9L80.3 635.3L80 636.3L79.7 637.3L79.6 637.7L79.5 638.3L79.2 639.3L79 640.3L78.8 641.3L78.8 641.6L78.7 642.3L78.5 643.3L78.4 644.3L78.4 645.2L78.4 646.2L78.4 647.2L78.5 648.2L78.6 649.2L78.8 650.1L78.8 650.2L79 651.2L79.2 652.2L79.6 653.2L79.6 653.4L79.9 654.2L80.3 655.2L80.5 655.4L80.8 656.2L81.4 657.1L81.4 657.1L82 658.1L82.2 658.4L82.7 659.1L83.1 659.6L83.5 660.1L83.9 660.6L84.4 661.1L84.8 661.5L85.4 662.1L85.7 662.3L86.5 663.1L86.5 663.1L87.4 663.8L87.8 664.1L88.3 664.4L89.1 665L89.3 665.1L90 665.5L90.8 666L91 666.1L91.7 666.5L92.6 666.9L93 667.1L93.4 667.3L94.3 667.6L95.2 667.9L95.5 668.1L96 668.2L96.9 668.5L97.7 668.7L98.6 668.9L99.2 669ZM200.4 658.2L201.3 658.3L202.2 658.3L203 658.3L203.9 658.3L204.8 658.2L205.6 658.2L205.9 658.1L206.5 658.1L207.3 657.9L208.2 657.8L209.1 657.6L209.9 657.4L210.7 657.1L210.8 657.1L211.7 656.9L212.5 656.6L213.4 656.2L213.5 656.2L214.2 655.8L215.1 655.4L215.7 655.2L216 655L216.8 654.5L217.4 654.2L217.7 654L218.6 653.5L219 653.2L219.4 652.9L220.3 652.2L220.3 652.2L221.2 651.5L221.5 651.2L222 650.7L222.6 650.2L222.9 649.9L223.5 649.2L223.7 649L224.4 648.2L224.6 647.9L225.1 647.2L225.5 646.8L225.8 646.2L226.3 645.4L226.4 645.2L227 644.3L227.2 643.8L227.5 643.3L227.9 642.3L228.1 641.7L228.2 641.3L228.5 640.3L228.8 639.3L228.9 638.4L228.9 638.3L229.1 637.3L229.2 636.3L229.2 635.3L229.2 634.3L229.1 633.3L229 632.4L228.9 631.7L228.9 631.4L228.7 630.4L228.5 629.4L228.3 628.4L228.1 627.4L228.1 627.4L227.8 626.4L227.6 625.4L227.4 624.4L227.2 623.5L227.2 623.4L227 622.4L226.9 621.4L226.8 620.5L226.7 619.5L226.7 618.5L226.7 617.5L226.7 616.5L226.7 615.5L226.7 614.5L226.7 613.5L226.7 612.5L226.7 611.5L226.7 610.5L226.6 609.5L226.6 608.6L226.4 607.6L226.3 607L226.3 606.6L226 605.6L225.8 604.6L225.5 603.7L225.4 603.6L225 602.6L224.6 601.7L224.6 601.6L224 600.6L223.7 600.2L223.4 599.6L222.9 599L222.6 598.6L222 597.9L221.7 597.6L221.2 597L220.7 596.7L220.3 596.2L219.5 595.7L219.4 595.6L218.6 594.9L218.1 594.7L217.7 594.4L216.8 593.9L216.3 593.7L216 593.5L215.1 593.1L214.2 592.8L213.9 592.7L213.4 592.5L212.5 592.3L211.7 592.1L210.8 591.9L209.9 591.9L209.1 591.8L208.2 591.9L207.3 591.9L206.5 592.1L205.6 592.2L204.8 592.5L204.2 592.7L203.9 592.8L203 593.1L202.2 593.5L201.9 593.7L201.3 594L200.4 594.5L200.2 594.7L199.6 595L198.7 595.6L198.7 595.7L197.9 596.3L197.4 596.7L197 597L196.2 597.6L196.1 597.7L195.3 598.5L195.1 598.6L194.4 599.4L194.2 599.6L193.5 600.3L193.3 600.6L192.7 601.4L192.5 601.6L191.8 602.6L191.8 602.6L191.1 603.6L190.9 603.9L190.5 604.6L190.1 605.4L190 605.6L189.5 606.6L189.2 607.1L189 607.6L188.6 608.6L188.4 609.4L188.3 609.5L188 610.5L187.8 611.5L187.6 612.5L187.5 613L187.4 613.5L187.3 614.5L187.2 615.5L187.1 616.5L187.1 617.5L187.1 618.5L187.1 619.5L187.1 620.5L187.2 621.4L187.2 622.4L187.2 623.4L187.2 624.4L187.1 625.4L187.1 626.4L187 627.4L186.8 628.4L186.7 629.4L186.6 629.7L186.5 630.4L186.3 631.4L186.1 632.4L185.9 633.3L185.8 633.9L185.7 634.3L185.5 635.3L185.3 636.3L185.1 637.3L184.9 638.3L184.9 638.5L184.8 639.3L184.7 640.3L184.7 641.3L184.7 642.3L184.7 643.3L184.8 644.3L184.9 645L184.9 645.2L185.1 646.2L185.4 647.2L185.8 648.2L185.8 648.2L186.2 649.2L186.6 650L186.8 650.2L187.4 651.2L187.5 651.3L188.2 652.2L188.4 652.4L189.1 653.2L189.2 653.3L190.1 654.1L190.2 654.2L190.9 654.8L191.5 655.2L191.8 655.3L192.7 655.8L193.3 656.2L193.5 656.3L194.4 656.7L195.3 657L195.7 657.1L196.1 657.3L197 657.6L197.9 657.8L198.7 657.9L199.6 658.1L200.1 658.1ZM203 578L203.9 578.3L204.8 578.4L205.6 578.4L206.5 578.4L207.3 578.3L208.2 578L208.9 577.8L209.1 577.7L209.9 577.3L210.8 576.9L210.9 576.8L211.7 576.3L212.2 575.8L212.5 575.6L213.3 574.8L213.4 574.7L214.1 573.8L214.2 573.6L214.7 572.9L215.1 572.1L215.3 571.9L215.6 570.9L215.8 569.9L215.9 568.9L215.8 567.9L215.6 566.9L215.2 565.9L215.1 565.8L214.5 564.9L214.2 564.7L213.4 563.9L213.4 563.9L212.5 563.4L211.7 563L211.4 562.9L210.8 562.7L209.9 562.6L209.1 562.5L208.2 562.5L207.3 562.5L206.5 562.6L205.6 562.8L205.3 562.9L204.8 563.1L203.9 563.5L203 563.9L203 563.9L202.2 564.5L201.5 564.9L201.3 565.1L200.4 565.9L200.4 565.9L199.6 566.9L199.6 566.9L198.9 567.9L198.7 568.4L198.5 568.9L198.1 569.9L198 570.9L197.9 571.9L198 572.9L198.3 573.8L198.7 574.6L198.8 574.8L199.5 575.8L199.6 575.9L200.4 576.7L200.6 576.8L201.3 577.3L202.2 577.7L202.4 577.8ZM100.3 667.1L101.2 667.2L102.1 667.4L102.9 667.5L103.8 667.6L104.7 667.6L105.5 667.7L106.4 667.7L107.2 667.7L108.1 667.7L109 667.6L109.8 667.6L110.7 667.5L111.6 667.3L112.4 667.2L113.2 667.1L113.3 667L114.1 666.9L115 666.7L115.9 666.5L116.7 666.2L117.2 666.1L117.6 666L118.5 665.7L119.3 665.4L120.1 665.1L120.2 665.1L121 664.7L121.9 664.3L122.4 664.1L122.8 663.9L123.6 663.5L124.4 663.1L124.5 663.1L125.4 662.6L126.2 662.1L126.2 662.1L127.1 661.6L127.8 661.1L128 661L128.8 660.4L129.2 660.1L129.7 659.8L130.5 659.1L130.5 659.1L131.4 658.4L131.8 658.1L132.3 657.7L132.9 657.1L133.1 656.9L133.9 656.2L134 656.1L134.9 655.2L134.9 655.2L135.7 654.2L135.8 654.2L136.6 653.2L136.6 653.2L137.4 652.2L137.4 652.1L138.1 651.2L138.3 650.9L138.8 650.2L139.2 649.6L139.4 649.2L140 648.2L140 648.1L140.5 647.2L140.9 646.4L141 646.2L141.4 645.2L141.8 644.3L141.8 644.3L142.1 643.3L142.4 642.3L142.6 641.4L142.6 641.3L142.9 640.3L143 639.3L143.1 638.3L143.2 637.3L143.2 636.3L143.2 635.3L143.2 634.3L143.1 633.3L142.9 632.4L142.8 631.4L142.6 630.8L142.5 630.4L142.3 629.4L142 628.4L141.8 627.8L141.6 627.4L141.3 626.4L140.9 625.5L140.9 625.4L140.4 624.4L140 623.5L140 623.4L139.6 622.4L139.2 621.6L139.1 621.4L138.7 620.5L138.3 619.6L138.3 619.5L137.9 618.5L137.5 617.5L137.4 617.3L137.2 616.5L136.9 615.5L136.6 614.5L136.6 614.3L136.4 613.5L136.2 612.5L136 611.5L135.7 610.5L135.7 610.4L135.5 609.5L135.3 608.6L135.1 607.6L134.9 606.6L134.9 606.6L134.6 605.6L134.3 604.6L134 603.7L134 603.6L133.6 602.6L133.2 601.6L133.1 601.4L132.8 600.6L132.4 599.6L132.3 599.4L131.9 598.6L131.4 597.7L131.4 597.6L130.8 596.7L130.5 596.1L130.3 595.7L129.7 594.7L129.7 594.6L129.1 593.7L128.8 593.1L128.5 592.7L128 591.7L128 591.7L127.4 590.7L127.1 590.2L126.8 589.7L126.3 588.7L126.2 588.6L125.8 587.7L125.4 586.8L125.3 586.7L124.9 585.7L124.5 584.8L124.5 584.8L124.1 583.8L123.8 582.8L123.6 582.2L123.5 581.8L123.2 580.8L122.9 579.8L122.8 579.1L122.7 578.8L122.4 577.8L122.1 576.8L121.9 576.2L121.8 575.8L121.4 574.8L121 573.9L121 573.8L120.5 572.9L120.2 572.3L119.9 571.9L119.3 571L119.2 570.9L118.5 570L118.3 569.9L117.6 569.2L117.2 568.9L116.7 568.5L115.9 568L115.5 567.9L115 567.7L114.1 567.4L113.3 567.3L112.4 567.3L111.6 567.4L110.7 567.7L110.2 567.9L109.8 568.1L109 568.6L108.5 568.9L108.1 569.2L107.4 569.9L107.2 570L106.4 570.9L106.4 570.9L105.6 571.9L105.5 572L104.9 572.9L104.7 573.2L104.3 573.8L103.8 574.8L103.8 574.8L103.3 575.8L102.9 576.7L102.9 576.8L102.5 577.8L102.2 578.8L102.1 579.2L101.9 579.8L101.6 580.8L101.4 581.8L101.2 582.4L101.1 582.8L100.9 583.8L100.6 584.8L100.3 585.7L100.3 585.8L100.1 586.7L99.8 587.7L99.5 588.6L99.4 588.7L99.1 589.7L98.7 590.7L98.6 590.9L98.3 591.7L97.8 592.7L97.7 592.9L97.4 593.7L96.9 594.7L96.9 594.8L96.4 595.7L96 596.5L96 596.7L95.5 597.6L95.2 598.3L95 598.6L94.5 599.6L94.3 600L94 600.6L93.5 601.6L93.4 601.8L93 602.6L92.6 603.6L92.6 603.6L92.1 604.6L91.7 605.6L91.7 605.6L91.3 606.6L90.9 607.6L90.8 607.8L90.6 608.6L90.2 609.5L90 610.4L89.9 610.5L89.6 611.5L89.4 612.5L89.1 613.5L89.1 613.5L88.9 614.5L88.7 615.5L88.5 616.5L88.3 617.5L88.3 617.6L88.1 618.5L87.9 619.5L87.7 620.5L87.5 621.4L87.4 621.8L87.2 622.4L87 623.4L86.7 624.4L86.5 625L86.4 625.4L86.1 626.4L85.7 627.4L85.7 627.6L85.4 628.4L85 629.4L84.8 629.8L84.6 630.4L84.2 631.4L83.9 632L83.8 632.4L83.4 633.3L83.1 634.3L83.1 634.3L82.7 635.3L82.4 636.3L82.2 636.9L82.1 637.3L81.8 638.3L81.5 639.3L81.4 640.1L81.3 640.3L81.1 641.3L81 642.3L80.8 643.3L80.8 644.3L80.7 645.2L80.7 646.2L80.8 647.2L80.9 648.2L81 649.2L81.2 650.2L81.4 650.7L81.5 651.2L81.8 652.2L82.1 653.2L82.2 653.4L82.5 654.2L83 655.2L83.1 655.2L83.6 656.2L83.9 656.7L84.2 657.1L84.8 657.9L85 658.1L85.7 659L85.8 659.1L86.5 659.9L86.7 660.1L87.4 660.7L87.8 661.1L88.3 661.5L89 662.1L89.1 662.2L90 662.8L90.4 663.1L90.8 663.4L91.7 663.9L92.1 664.1L92.6 664.4L93.4 664.8L94 665.1L94.3 665.2L95.2 665.6L96 665.9L96.6 666.1L96.9 666.2L97.7 666.5L98.6 666.7L99.5 666.9L100.3 667.1ZM197.9 654.3L198.7 654.5L199.6 654.7L200.4 654.9L201.3 655L202.2 655.1L203 655.1L203.9 655.1L204.8 655.1L205.6 655L206.5 654.9L207.3 654.8L208.2 654.6L209.1 654.4L209.9 654.2L210 654.2L210.8 653.9L211.7 653.6L212.5 653.3L212.8 653.2L213.4 652.9L214.2 652.5L214.8 652.2L215.1 652L216 651.5L216.4 651.2L216.8 650.9L217.7 650.3L217.8 650.2L218.6 649.6L219 649.2L219.4 648.9L220.1 648.2L220.3 648L221 647.2L221.2 647L221.8 646.2L222 646L222.5 645.2L222.9 644.7L223.1 644.3L223.7 643.3L223.7 643.1L224.1 642.3L224.5 641.3L224.6 641L224.8 640.3L225.1 639.3L225.3 638.3L225.4 637.3L225.4 636.3L225.5 635.3L225.4 634.3L225.3 633.3L225.2 632.4L225 631.4L224.7 630.4L224.6 629.8L224.5 629.4L224.2 628.4L223.9 627.4L223.7 626.8L223.6 626.4L223.4 625.4L223.1 624.4L222.9 623.5L222.9 623.4L222.7 622.4L222.5 621.4L222.4 620.5L222.4 619.5L222.3 618.5L222.3 617.5L222.4 616.5L222.4 615.5L222.4 614.5L222.4 613.5L222.4 612.5L222.4 611.5L222.4 610.5L222.3 609.5L222.1 608.6L222 608.1L221.9 607.6L221.6 606.6L221.3 605.6L221.2 605.2L220.9 604.6L220.3 603.6L220.3 603.5L219.7 602.6L219.4 602.2L218.9 601.6L218.6 601.2L218 600.6L217.7 600.4L216.8 599.7L216.8 599.6L216 599.1L215.2 598.6L215.1 598.6L214.2 598.2L213.4 597.9L212.6 597.6L212.5 597.6L211.7 597.4L210.8 597.3L209.9 597.2L209.1 597.1L208.2 597.2L207.3 597.2L206.5 597.4L205.6 597.6L205.3 597.6L204.8 597.8L203.9 598.1L203 598.4L202.6 598.6L202.2 598.9L201.3 599.3L200.8 599.6L200.4 599.8L199.6 600.4L199.4 600.6L198.7 601.1L198.1 601.6L197.9 601.9L197.1 602.6L197 602.7L196.2 603.6L196.1 603.7L195.4 604.6L195.3 604.8L194.7 605.6L194.4 606.1L194.1 606.6L193.6 607.6L193.5 607.6L193.1 608.6L192.7 609.5L192.7 609.6L192.4 610.5L192.1 611.5L191.9 612.5L191.8 612.7L191.7 613.5L191.5 614.5L191.5 615.5L191.4 616.5L191.4 617.5L191.4 618.5L191.4 619.5L191.5 620.5L191.5 621.4L191.5 622.4L191.5 623.4L191.5 624.4L191.4 625.4L191.3 626.4L191.1 627.4L191 628.4L190.9 628.4L190.7 629.4L190.5 630.4L190.2 631.4L190.1 631.9L190 632.4L189.7 633.3L189.4 634.3L189.2 635.3L189.2 635.3L189 636.3L188.8 637.3L188.6 638.3L188.5 639.3L188.4 640.3L188.4 641.3L188.4 642.3L188.5 643.3L188.6 644.3L188.9 645.2L189.2 646.2L189.2 646.4L189.6 647.2L190.1 648.2L190.1 648.2L190.7 649.2L190.9 649.5L191.5 650.2L191.8 650.6L192.5 651.2L192.7 651.4L193.5 652.1L193.7 652.2L194.4 652.7L195.3 653.2L195.3 653.2L196.1 653.6L197 654L197.6 654.2ZM110.7 546.4L111.6 546.6L112.4 546.5L113.2 546.1L113.3 546L114.1 545.2L114.3 545.1L114.8 544.1L115 543.7L115.2 543.1L115.3 542.1L115.2 541.1L115 540.4L114.9 540.1L114.1 539.2L114 539.1L113.3 538.8L112.4 538.6L111.6 538.8L110.7 539.1L110.7 539.1L109.8 539.9L109.6 540.1L109 541.1L109 541.3L108.7 542.1L108.7 543.1L108.8 544.1L109 544.6L109.2 545.1L109.8 545.9L110.1 546.1ZM102.9 665.1L103.8 665.3L104.7 665.3L105.5 665.4L106.4 665.4L107.2 665.4L108.1 665.4L109 665.4L109.8 665.3L110.7 665.2L111.6 665.1L111.7 665.1L112.4 665L113.3 664.8L114.1 664.7L115 664.4L115.9 664.2L116.3 664.1L116.7 664L117.6 663.7L118.5 663.4L119.3 663.1L119.3 663.1L120.2 662.8L121 662.4L121.6 662.1L121.9 662L122.8 661.6L123.6 661.1L123.6 661.1L124.5 660.6L125.4 660.1L125.4 660.1L126.2 659.6L126.9 659.1L127.1 659L128 658.4L128.3 658.1L128.8 657.8L129.6 657.1L129.7 657.1L130.5 656.4L130.8 656.2L131.4 655.6L131.9 655.2L132.3 654.8L132.8 654.2L133.1 653.9L133.8 653.2L134 652.9L134.6 652.2L134.9 651.9L135.4 651.2L135.7 650.7L136.1 650.2L136.6 649.5L136.8 649.2L137.4 648.2L137.4 648.1L137.9 647.2L138.3 646.4L138.4 646.2L138.9 645.2L139.2 644.4L139.2 644.3L139.6 643.3L139.9 642.3L140 641.7L140.1 641.3L140.4 640.3L140.5 639.3L140.6 638.3L140.7 637.3L140.7 636.3L140.7 635.3L140.6 634.3L140.5 633.3L140.3 632.4L140.1 631.4L140 631.2L139.8 630.4L139.5 629.4L139.2 628.5L139.1 628.4L138.8 627.4L138.3 626.4L138.3 626.3L137.9 625.4L137.4 624.5L137.4 624.4L136.9 623.4L136.6 622.8L136.4 622.4L135.9 621.4L135.7 621L135.4 620.5L135 619.5L134.9 619.2L134.5 618.5L134.1 617.5L134 617.1L133.8 616.5L133.5 615.5L133.2 614.5L133.1 614.4L132.9 613.5L132.6 612.5L132.4 611.5L132.3 611L132.1 610.5L131.9 609.5L131.6 608.6L131.4 607.7L131.4 607.6L131.1 606.6L130.7 605.6L130.5 605.1L130.3 604.6L129.9 603.6L129.7 603.1L129.5 602.6L129 601.6L128.8 601.4L128.4 600.6L128 599.9L127.8 599.6L127.1 598.6L127.1 598.6L126.4 597.6L126.2 597.4L125.7 596.7L125.4 596.2L124.9 595.7L124.5 595.2L124 594.7L123.6 594.2L123.1 593.7L122.8 593.3L122.2 592.7L121.9 592.4L121.2 591.7L121 591.5L120.2 590.7L120.2 590.7L119.3 589.9L119.1 589.7L118.5 589.1L117.9 588.7L117.6 588.4L116.7 587.8L116.6 587.7L115.9 587.2L115 586.8L114.9 586.7L114.1 586.4L113.3 586.2L112.4 586.2L111.6 586.3L110.7 586.6L110.5 586.7L109.8 587.1L109 587.7L108.9 587.7L108.1 588.4L107.8 588.7L107.2 589.2L106.8 589.7L106.4 590.1L105.9 590.7L105.5 591.1L105 591.7L104.7 592.1L104.2 592.7L103.8 593.2L103.4 593.7L102.9 594.3L102.6 594.7L102.1 595.4L101.9 595.7L101.2 596.6L101.1 596.7L100.4 597.6L100.3 597.8L99.7 598.6L99.5 599L99.1 599.6L98.6 600.3L98.4 600.6L97.8 601.6L97.7 601.7L97.2 602.6L96.9 603.2L96.6 603.6L96.1 604.6L96 604.7L95.6 605.6L95.2 606.5L95.1 606.6L94.7 607.6L94.3 608.5L94.3 608.6L93.9 609.5L93.5 610.5L93.4 610.8L93.2 611.5L92.9 612.5L92.6 613.5L92.6 613.6L92.3 614.5L92.1 615.5L91.9 616.5L91.7 617.2L91.6 617.5L91.4 618.5L91.2 619.5L90.9 620.5L90.8 620.8L90.7 621.4L90.4 622.4L90.1 623.4L90 623.8L89.8 624.4L89.4 625.4L89.1 626.2L89 626.4L88.6 627.4L88.3 628.3L88.2 628.4L87.8 629.4L87.4 630.3L87.3 630.4L86.9 631.4L86.5 632.3L86.5 632.4L86.1 633.3L85.7 634.3L85.7 634.4L85.3 635.3L84.9 636.3L84.8 636.7L84.6 637.3L84.3 638.3L84.1 639.3L83.9 639.8L83.8 640.3L83.6 641.3L83.5 642.3L83.4 643.3L83.3 644.3L83.3 645.2L83.3 646.2L83.4 647.2L83.5 648.2L83.7 649.2L83.9 650.2L83.9 650.3L84.2 651.2L84.6 652.2L84.8 652.7L85 653.2L85.5 654.2L85.7 654.5L86.1 655.2L86.5 655.8L86.7 656.2L87.4 657L87.5 657.1L88.3 658L88.4 658.1L89.1 658.9L89.4 659.1L90 659.6L90.6 660.1L90.8 660.3L91.7 661L91.9 661.1L92.6 661.5L93.4 662L93.6 662.1L94.3 662.5L95.2 662.9L95.6 663.1L96 663.3L96.9 663.6L97.7 663.9L98.2 664.1L98.6 664.2L99.5 664.5L100.3 664.7L101.2 664.9L102.1 665L102.5 665.1ZM199.6 650.2L200.4 650.5L201.3 650.7L202.2 650.9L203 651L203.9 651.1L204.8 651.1L205.6 651L206.5 650.9L207.3 650.8L208.2 650.6L209.1 650.4L209.7 650.2L209.9 650.1L210.8 649.8L211.7 649.4L212.1 649.2L212.5 649L213.4 648.5L213.9 648.2L214.2 648L215.1 647.3L215.2 647.2L216 646.6L216.4 646.2L216.8 645.8L217.3 645.2L217.7 644.8L218.1 644.3L218.6 643.6L218.8 643.3L219.3 642.3L219.4 642.1L219.8 641.3L220.1 640.3L220.3 639.8L220.4 639.3L220.6 638.3L220.7 637.3L220.7 636.3L220.7 635.3L220.6 634.3L220.4 633.3L220.3 632.9L220.1 632.4L219.8 631.4L219.5 630.4L219.4 630.2L219.1 629.4L218.7 628.4L218.6 628.1L218.2 627.4L217.8 626.4L217.7 626.1L217.4 625.4L217 624.4L216.8 623.8L216.7 623.4L216.5 622.4L216.3 621.4L216.2 620.5L216.1 619.5L216.1 618.5L216.2 617.5L216.2 616.5L216.3 615.5L216.3 614.5L216.3 613.5L216.3 612.5L216.2 611.5L216 610.5L216 610.4L215.8 609.5L215.4 608.6L215.1 608L214.9 607.6L214.2 606.6L214.2 606.6L213.4 605.7L213.2 605.6L212.5 605.1L211.7 604.6L211.7 604.6L210.8 604.2L209.9 604L209.1 603.9L208.2 603.8L207.3 603.9L206.5 604L205.6 604.2L204.8 604.5L204.6 604.6L203.9 604.9L203 605.4L202.8 605.6L202.2 606L201.5 606.6L201.3 606.8L200.6 607.6L200.4 607.7L199.8 608.6L199.6 608.9L199.2 609.5L198.7 610.5L198.7 610.5L198.3 611.5L198 612.5L197.9 613.2L197.8 613.5L197.6 614.5L197.6 615.5L197.5 616.5L197.5 617.5L197.6 618.5L197.6 619.5L197.7 620.5L197.7 621.4L197.7 622.4L197.6 623.4L197.5 624.4L197.4 625.4L197.1 626.4L197 626.9L196.8 627.4L196.5 628.4L196.2 629.4L196.1 629.5L195.8 630.4L195.4 631.4L195.3 631.7L195 632.4L194.6 633.3L194.4 634L194.3 634.3L194 635.3L193.7 636.3L193.5 637L193.5 637.3L193.3 638.3L193.2 639.3L193.1 640.3L193.1 641.3L193.2 642.3L193.4 643.3L193.5 643.8L193.7 644.3L194.1 645.2L194.4 645.9L194.6 646.2L195.3 647.1L195.3 647.2L196.1 648.1L196.3 648.2L197 648.8L197.6 649.2L197.9 649.4L198.7 649.8L199.6 650.2ZM103.8 663.2L104.7 663.3L105.5 663.4L106.4 663.4L107.2 663.4L108.1 663.4L109 663.4L109.8 663.3L110.7 663.3L111.6 663.1L111.9 663.1L112.4 663L113.3 662.9L114.1 662.7L115 662.5L115.9 662.2L116.3 662.1L116.7 662L117.6 661.7L118.5 661.4L119.2 661.1L119.3 661.1L120.2 660.7L121 660.3L121.5 660.1L121.9 659.9L122.8 659.5L123.4 659.1L123.6 659L124.5 658.5L125 658.1L125.4 657.9L126.2 657.3L126.5 657.1L127.1 656.7L127.8 656.2L128 656.1L128.8 655.4L129 655.2L129.7 654.6L130.1 654.2L130.5 653.8L131.1 653.2L131.4 652.9L132.1 652.2L132.3 652L132.9 651.2L133.1 650.9L133.7 650.2L134 649.8L134.4 649.2L134.9 648.5L135 648.2L135.6 647.2L135.7 647L136.1 646.2L136.6 645.3L136.6 645.2L137 644.3L137.4 643.3L137.4 643L137.7 642.3L137.9 641.3L138.1 640.3L138.3 639.3L138.3 638.9L138.4 638.3L138.4 637.3L138.4 636.3L138.4 635.3L138.3 634.7L138.3 634.3L138.1 633.3L137.9 632.4L137.7 631.4L137.4 630.7L137.4 630.4L137 629.4L136.6 628.4L136.6 628.3L136.2 627.4L135.7 626.5L135.7 626.4L135.2 625.4L134.9 624.9L134.6 624.4L134 623.4L134 623.3L133.5 622.4L133.1 621.8L132.9 621.4L132.4 620.5L132.3 620.2L131.9 619.5L131.4 618.5L131.4 618.5L130.9 617.5L130.5 616.5L130.5 616.5L130.2 615.5L129.8 614.5L129.7 614.1L129.5 613.5L129.2 612.5L128.9 611.5L128.8 611.2L128.6 610.5L128.3 609.5L128 608.6L128 608.4L127.6 607.6L127.2 606.6L127.1 606.3L126.8 605.6L126.2 604.6L126.2 604.5L125.7 603.6L125.4 603.1L125 602.6L124.5 601.9L124.3 601.6L123.6 600.8L123.4 600.6L122.8 599.9L122.5 599.6L121.9 599.1L121.4 598.6L121 598.3L120.2 597.7L120.1 597.6L119.3 597.1L118.5 596.7L118.5 596.6L117.6 596.2L116.7 595.9L116.1 595.7L115.9 595.6L115 595.4L114.1 595.3L113.3 595.2L112.4 595.3L111.6 595.4L110.7 595.7L110.7 595.7L109.8 595.9L109 596.3L108.3 596.7L108.1 596.8L107.2 597.3L106.8 597.6L106.4 597.9L105.5 598.6L105.5 598.6L104.7 599.4L104.4 599.6L103.8 600.2L103.4 600.6L102.9 601.1L102.5 601.6L102.1 602.1L101.7 602.6L101.2 603.2L100.9 603.6L100.3 604.4L100.2 604.6L99.6 605.6L99.5 605.7L99 606.6L98.6 607.2L98.4 607.6L97.9 608.6L97.7 608.9L97.4 609.5L97 610.5L96.9 610.9L96.6 611.5L96.3 612.5L96 613.3L96 613.5L95.7 614.5L95.4 615.5L95.2 616.3L95.1 616.5L94.8 617.5L94.6 618.5L94.3 619.4L94.3 619.5L94 620.5L93.7 621.4L93.4 622.2L93.3 622.4L93 623.4L92.6 624.4L92.6 624.5L92.2 625.4L91.7 626.4L91.7 626.4L91.3 627.4L90.8 628.3L90.8 628.4L90.3 629.4L90 630L89.8 630.4L89.3 631.4L89.1 631.8L88.9 632.4L88.4 633.3L88.3 633.7L88 634.3L87.6 635.3L87.4 635.8L87.2 636.3L86.9 637.3L86.6 638.3L86.5 638.4L86.3 639.3L86 640.3L85.9 641.3L85.7 642.3L85.7 642.7L85.6 643.3L85.5 644.3L85.5 645.2L85.6 646.2L85.7 647.1L85.7 647.2L85.8 648.2L86 649.2L86.3 650.2L86.5 650.8L86.7 651.2L87.1 652.2L87.4 652.8L87.6 653.2L88.2 654.2L88.3 654.3L88.9 655.2L89.1 655.5L89.7 656.2L90 656.5L90.6 657.1L90.8 657.4L91.7 658.1L91.7 658.2L92.6 658.8L93 659.1L93.4 659.5L94.3 660L94.5 660.1L95.2 660.5L96 660.9L96.4 661.1L96.9 661.3L97.7 661.7L98.6 662L98.9 662.1L99.5 662.3L100.3 662.6L101.2 662.8L102.1 662.9L102.9 663.1L103 663.1ZM202.2 645.4L203 645.7L203.9 646L204.8 646.1L205.6 646.1L206.5 646.1L207.3 645.9L208.2 645.7L209.1 645.4L209.5 645.2L209.9 645L210.8 644.6L211.3 644.3L211.7 643.9L212.5 643.3L212.5 643.2L213.3 642.3L213.4 642.2L214 641.3L214.2 640.8L214.5 640.3L214.8 639.3L215 638.3L215.1 637.3L215 636.3L214.8 635.3L214.5 634.3L214.2 633.7L214.1 633.3L213.5 632.4L213.4 632.2L212.7 631.4L212.5 631.2L211.7 630.4L211.7 630.4L210.8 629.7L210.2 629.4L209.9 629.2L209.1 628.9L208.2 628.7L207.3 628.7L206.5 628.8L205.6 629.1L205.1 629.4L204.8 629.5L203.9 630.1L203.6 630.4L203 630.9L202.6 631.4L202.2 631.8L201.7 632.4L201.3 632.9L201 633.3L200.4 634.2L200.4 634.3L199.9 635.3L199.6 636L199.4 636.3L199.1 637.3L198.9 638.3L198.8 639.3L198.8 640.3L198.9 641.3L199.2 642.3L199.6 643L199.7 643.3L200.4 644.2L200.5 644.3L201.3 644.9L201.9 645.2ZM101.2 660.2L102.1 660.5L102.9 660.7L103.8 660.8L104.7 660.9L105.5 661L106.4 661.1L107.2 661.1L108.1 661.1L109 661.1L109.8 661L110.7 661L111.6 660.9L112.4 660.7L113.3 660.6L114.1 660.4L115 660.2L115.1 660.1L115.9 659.9L116.7 659.7L117.6 659.4L118.2 659.1L118.5 659L119.3 658.7L120.2 658.3L120.5 658.1L121 657.9L121.9 657.4L122.4 657.1L122.8 656.9L123.6 656.4L124.1 656.2L124.5 655.9L125.4 655.3L125.5 655.2L126.2 654.6L126.8 654.2L127.1 653.9L127.9 653.2L128 653.1L128.8 652.3L129 652.2L129.7 651.4L129.9 651.2L130.5 650.5L130.8 650.2L131.4 649.4L131.5 649.2L132.2 648.2L132.3 648.1L132.9 647.2L133.1 646.7L133.4 646.2L133.9 645.2L134 645L134.3 644.3L134.7 643.3L134.9 642.8L135 642.3L135.3 641.3L135.5 640.3L135.6 639.3L135.7 638.3L135.7 638.3L135.8 637.3L135.7 636.3L135.7 636.2L135.7 635.3L135.5 634.3L135.3 633.3L135.1 632.4L134.9 631.7L134.8 631.4L134.4 630.4L134 629.5L134 629.4L133.5 628.4L133.1 627.7L132.9 627.4L132.4 626.4L132.3 626.2L131.7 625.4L131.4 624.9L131.1 624.4L130.5 623.6L130.4 623.4L129.7 622.4L129.7 622.4L129.1 621.4L128.8 621.1L128.4 620.5L128 619.7L127.8 619.5L127.2 618.5L127.1 618.3L126.6 617.5L126.2 616.7L126.1 616.5L125.7 615.5L125.4 614.7L125.3 614.5L124.9 613.5L124.5 612.6L124.5 612.5L124 611.5L123.6 610.6L123.6 610.5L123.1 609.5L122.8 608.9L122.6 608.6L122 607.6L121.9 607.4L121.3 606.6L121 606.3L120.4 605.6L120.2 605.4L119.3 604.6L119.3 604.6L118.5 604L117.8 603.6L117.6 603.5L116.7 603.1L115.9 602.8L115.1 602.6L115 602.6L114.1 602.5L113.3 602.4L112.4 602.5L111.6 602.6L111.6 602.6L110.7 602.8L109.8 603.1L109 603.5L108.8 603.6L108.1 604L107.2 604.5L107.2 604.6L106.4 605.2L105.9 605.6L105.5 606L104.9 606.6L104.7 606.8L104 607.6L103.8 607.9L103.3 608.6L102.9 609.1L102.6 609.5L102.1 610.5L102 610.5L101.5 611.5L101.2 612.1L101 612.5L100.6 613.5L100.3 614.1L100.2 614.5L99.8 615.5L99.5 616.4L99.5 616.5L99.1 617.5L98.7 618.5L98.6 618.8L98.4 619.5L98 620.5L97.7 621L97.6 621.4L97.1 622.4L96.9 622.9L96.6 623.4L96.1 624.4L96 624.6L95.6 625.4L95.2 626.2L95.1 626.4L94.5 627.4L94.3 627.7L93.9 628.4L93.4 629.3L93.4 629.4L92.8 630.4L92.6 630.8L92.3 631.4L91.7 632.4L91.7 632.4L91.2 633.3L90.8 634.2L90.8 634.3L90.3 635.3L90 636.2L89.9 636.3L89.5 637.3L89.2 638.3L89.1 638.6L88.9 639.3L88.7 640.3L88.5 641.3L88.3 642.3L88.3 643.2L88.3 643.3L88.2 644.3L88.2 645.2L88.3 645.6L88.3 646.2L88.4 647.2L88.6 648.2L88.9 649.2L89.1 649.8L89.3 650.2L89.7 651.2L90 651.8L90.2 652.2L90.8 653.2L90.8 653.2L91.6 654.2L91.7 654.3L92.4 655.2L92.6 655.3L93.4 656.1L93.5 656.2L94.3 656.8L94.7 657.1L95.2 657.5L96 658L96.2 658.1L96.9 658.5L97.7 659L98.1 659.1L98.6 659.3L99.5 659.7L100.3 660L100.8 660.1ZM105.5 657.2L106.4 657.3L107.2 657.4L108.1 657.5L109 657.5L109.8 657.4L110.7 657.3L111.6 657.2L112.2 657.1L112.4 657.1L113.3 656.9L114.1 656.8L115 656.5L115.9 656.3L116.2 656.2L116.7 656L117.6 655.6L118.5 655.3L118.7 655.2L119.3 654.9L120.2 654.4L120.6 654.2L121 653.9L121.9 653.4L122.2 653.2L122.8 652.8L123.6 652.2L123.6 652.2L124.5 651.5L124.8 651.2L125.4 650.7L125.9 650.2L126.2 649.8L126.8 649.2L127.1 648.9L127.7 648.2L128 647.8L128.4 647.2L128.8 646.6L129 646.2L129.6 645.2L129.7 645.1L130.1 644.3L130.5 643.3L130.5 643.1L130.8 642.3L131.1 641.3L131.3 640.3L131.4 639.5L131.4 639.3L131.5 638.3L131.5 637.3L131.4 636.3L131.4 636.3L131.3 635.3L131.1 634.3L130.8 633.3L130.5 632.7L130.4 632.4L130 631.4L129.7 630.8L129.4 630.4L128.8 629.4L128.8 629.4L128.1 628.4L128 628.2L127.4 627.4L127.1 627.1L126.5 626.4L126.2 626.1L125.6 625.4L125.4 625.2L124.5 624.4L124.5 624.4L123.6 623.6L123.4 623.4L122.8 622.8L122.3 622.4L121.9 622.1L121.1 621.4L121 621.4L120.2 620.7L119.8 620.5L119.3 620.1L118.5 619.5L118.4 619.5L117.6 618.9L116.8 618.5L116.7 618.4L115.9 618L115 617.6L114.5 617.5L114.1 617.4L113.3 617.2L112.4 617.2L111.6 617.4L111.2 617.5L110.7 617.6L109.8 618L109.1 618.5L109 618.5L108.1 619.1L107.7 619.5L107.2 619.8L106.6 620.5L106.4 620.6L105.5 621.4L105.5 621.5L104.7 622.3L104.6 622.4L103.8 623.2L103.6 623.4L102.9 624.2L102.7 624.4L102.1 625.1L101.8 625.4L101.2 626.1L101 626.4L100.3 627.1L100.1 627.4L99.5 628.2L99.3 628.4L98.6 629.3L98.6 629.4L97.8 630.4L97.7 630.4L97.1 631.4L96.9 631.7L96.4 632.4L96 633L95.8 633.3L95.2 634.3L95.2 634.5L94.7 635.3L94.3 636.2L94.3 636.3L93.8 637.3L93.5 638.3L93.4 638.4L93.1 639.3L92.9 640.3L92.7 641.3L92.6 642.1L92.6 642.3L92.5 643.3L92.5 644.3L92.5 645.2L92.6 645.5L92.7 646.2L92.9 647.2L93.2 648.2L93.4 648.8L93.6 649.2L94.1 650.2L94.3 650.5L94.8 651.2L95.2 651.7L95.5 652.2L96 652.7L96.5 653.2L96.9 653.5L97.7 654.2L97.7 654.2L98.6 654.8L99.2 655.2L99.5 655.3L100.3 655.7L101.2 656.1L101.3 656.2L102.1 656.4L102.9 656.7L103.8 656.9L104.7 657.1L104.9 657.1ZM107.2 653.2L108.1 653.3L109 653.3L109.8 653.3L110.7 653.3L111.6 653.2L111.6 653.2L112.4 653.1L113.3 652.9L114.1 652.7L115 652.4L115.6 652.2L115.9 652.1L116.7 651.7L117.6 651.3L117.9 651.2L118.5 650.9L119.3 650.4L119.6 650.2L120.2 649.8L121 649.2L121 649.1L121.9 648.4L122.1 648.2L122.8 647.5L123.1 647.2L123.6 646.5L123.9 646.2L124.5 645.4L124.6 645.2L125.2 644.3L125.4 643.9L125.7 643.3L126 642.3L126.2 641.6L126.3 641.3L126.5 640.3L126.6 639.3L126.6 638.3L126.6 637.3L126.4 636.3L126.2 635.7L126.1 635.3L125.7 634.3L125.4 633.6L125.2 633.3L124.6 632.4L124.5 632.2L123.9 631.4L123.6 631.1L122.9 630.4L122.8 630.2L121.9 629.5L121.7 629.4L121 628.9L120.2 628.4L120.2 628.3L119.3 627.9L118.5 627.5L118.1 627.4L117.6 627.2L116.7 626.9L115.9 626.7L115 626.6L114.1 626.6L113.3 626.6L112.4 626.6L111.6 626.8L110.7 627L109.8 627.2L109.4 627.4L109 627.5L108.1 627.9L107.2 628.4L107.2 628.4L106.4 628.9L105.7 629.4L105.5 629.5L104.7 630.1L104.4 630.4L103.8 630.8L103.2 631.4L102.9 631.6L102.2 632.4L102.1 632.5L101.4 633.3L101.2 633.5L100.6 634.3L100.3 634.7L99.9 635.3L99.5 636L99.3 636.3L98.8 637.3L98.6 637.6L98.3 638.3L98 639.3L97.7 640L97.7 640.3L97.5 641.3L97.3 642.3L97.3 643.3L97.4 644.3L97.5 645.2L97.7 646L97.8 646.2L98.2 647.2L98.6 648L98.8 648.2L99.5 649.2L99.5 649.2L100.3 650.1L100.4 650.2L101.2 650.8L101.7 651.2L102.1 651.4L102.9 651.9L103.5 652.2L103.8 652.3L104.7 652.6L105.5 652.9L106.4 653.1L107.1 653.2ZM106.4 648.3L107.2 648.6L108.1 648.9L109 649L109.8 649.1L110.7 649.1L111.6 649L112.4 648.9L113.3 648.7L114.1 648.4L114.7 648.2L115 648.1L115.9 647.7L116.7 647.2L116.7 647.2L117.6 646.6L118 646.2L118.5 645.9L119.1 645.2L119.3 645L119.9 644.3L120.2 643.9L120.6 643.3L121 642.3L121 642.3L121.4 641.3L121.6 640.3L121.6 639.3L121.5 638.3L121.3 637.3L121 636.7L120.9 636.3L120.3 635.3L120.2 635.2L119.4 634.3L119.3 634.2L118.5 633.6L118.1 633.3L117.6 633L116.7 632.7L115.9 632.4L115.8 632.4L115 632.2L114.1 632.1L113.3 632.1L112.4 632.1L111.6 632.2L111.1 632.4L110.7 632.5L109.8 632.7L109 633.1L108.5 633.3L108.1 633.6L107.2 634.1L106.9 634.3L106.4 634.8L105.7 635.3L105.5 635.5L104.8 636.3L104.7 636.5L104 637.3L103.8 637.7L103.4 638.3L103 639.3L102.9 639.4L102.6 640.3L102.4 641.3L102.3 642.3L102.4 643.3L102.6 644.3L102.9 645L103 645.2L103.7 646.2L103.8 646.4L104.6 647.2L104.7 647.3L105.5 647.9L106.2 648.2Z" fill="none" stroke="#5d86a5" stroke-width="2.0" stroke-linejoin="round"/>
<path d="M193.4 670.7L194.4 670.8L195.3 670.9L196.3 671L197.3 671.1L198.3 671.1L199.3 671.1L200.3 671.1L201.2 671L202.2 671L203.2 670.9L204.2 670.8L205.2 670.6L205.3 670.6L206.2 670.5L207.1 670.3L208.1 670.2L209.1 669.9L210.1 669.7L210.6 669.6L211.1 669.5L212.1 669.2L213 668.9L214 668.6L214.2 668.5L215 668.2L216 667.9L217 667.5L217.1 667.4L218 667.1L218.9 666.7L219.5 666.4L219.9 666.2L220.9 665.7L221.7 665.3L221.9 665.2L222.9 664.7L223.6 664.3L223.9 664.1L224.8 663.5L225.4 663.2L225.8 662.9L226.8 662.3L227 662.2L227.8 661.6L228.5 661.1L228.8 660.9L229.8 660.1L229.9 660L230.7 659.3L231.2 659L231.7 658.5L232.4 657.9L232.7 657.6L233.5 656.9L233.7 656.7L234.6 655.8L234.7 655.7L235.6 654.7L235.7 654.7L236.5 653.7L236.6 653.6L237.4 652.6L237.6 652.4L238.3 651.6L238.6 651.1L239 650.5L239.6 649.7L239.8 649.5L240.5 648.4L240.6 648.2L241.1 647.3L241.6 646.6L241.7 646.3L242.3 645.2L242.5 644.8L242.9 644.2L243.3 643.1L243.5 642.7L243.8 642L244.2 641L244.5 640.3L244.6 639.9L245 638.9L245.3 637.8L245.5 637.2L245.6 636.8L245.9 635.7L246.1 634.6L246.3 633.6L246.5 632.8L246.5 632.5L246.7 631.5L246.8 630.4L246.9 629.3L247 628.3L247.1 627.2L247.1 626.2L247.1 625.1L247.1 624L247.1 623L247 621.9L246.9 620.9L246.9 619.8L246.7 618.8L246.6 617.7L246.5 616.7L246.5 616.6L246.3 615.6L246.1 614.5L246 613.5L245.7 612.4L245.5 611.3L245.5 611.3L245.3 610.3L245 609.2L244.7 608.2L244.5 607.4L244.4 607.1L244.1 606.1L243.8 605L243.5 604.2L243.4 603.9L243.1 602.9L242.7 601.8L242.5 601.5L242.2 600.8L241.8 599.7L241.6 599.2L241.3 598.6L240.8 597.6L240.6 597L240.3 596.5L239.8 595.5L239.6 595L239.3 594.4L238.8 593.4L238.6 593.1L238.2 592.3L237.7 591.2L237.6 591.1L237.1 590.2L236.6 589.1L236.6 589.1L236.1 588.1L235.7 587L235.7 587L235.3 585.9L234.9 584.9L234.7 584.3L234.5 583.8L234.3 582.8L234 581.7L233.8 580.6L233.7 579.6L233.7 579.6L233.6 578.5L233.5 577.5L233.5 576.4L233.4 575.4L233.4 574.3L233.4 573.2L233.5 572.2L233.5 571.1L233.5 570.1L233.5 569L233.5 567.9L233.5 566.9L233.5 565.8L233.5 564.8L233.4 563.7L233.4 562.7L233.3 561.6L233.3 560.5L233.2 559.5L233.2 558.4L233.1 557.4L233.1 556.3L233 555.2L233 554.2L233 553.1L233.1 552.1L233.1 551L233.2 550L233.3 548.9L233.4 547.8L233.5 546.8L233.7 545.7L233.7 545.5L233.8 544.7L234 543.6L234.2 542.5L234.4 541.5L234.5 540.4L234.7 539.7L234.7 539.4L234.9 538.3L235.1 537.2L235.2 536.2L235.4 535.1L235.5 534.1L235.6 533L235.7 532.3L235.7 532L235.7 530.9L235.8 529.8L235.8 528.8L235.7 527.7L235.7 526.7L235.7 526.5L235.6 525.6L235.4 524.5L235.3 523.5L235.1 522.4L234.8 521.4L234.7 521L234.5 520.3L234.1 519.3L233.7 518.2L233.7 518.2L233.2 517.1L232.7 516.1L232.7 516.1L232.1 515L231.7 514.5L231.4 514L230.7 513.1L230.6 512.9L229.8 511.9L229.7 511.8L228.8 510.9L228.7 510.8L227.8 509.9L227.5 509.7L226.8 509.1L226.2 508.7L225.8 508.4L224.8 507.8L224.5 507.6L223.9 507.2L222.9 506.7L222.5 506.6L221.9 506.3L220.9 505.9L219.9 505.6L219.6 505.5L218.9 505.3L218 505L217 504.8L216 504.7L215 504.6L214 504.5L213.3 504.4L213 504.4L212.1 504.4L211.1 504.4L210.8 504.4L210.1 504.5L209.1 504.6L208.1 504.7L207.1 504.8L206.2 505L205.2 505.2L204.2 505.5L204.1 505.5L203.2 505.7L202.2 506.1L201.2 506.4L200.9 506.6L200.3 506.8L199.3 507.2L198.4 507.6L198.3 507.7L197.3 508.2L196.4 508.7L196.3 508.7L195.3 509.3L194.6 509.7L194.4 509.9L193.4 510.5L193 510.8L192.4 511.2L191.6 511.8L191.4 512L190.4 512.8L190.3 512.9L189.4 513.7L189.2 514L188.5 514.6L188.1 515L187.5 515.7L187.1 516.1L186.5 516.8L186.2 517.1L185.5 518L185.3 518.2L184.6 519.3L184.5 519.3L183.8 520.3L183.5 520.8L183.2 521.4L182.6 522.4L182.5 522.4L182 523.5L181.6 524.3L181.4 524.5L180.9 525.6L180.6 526.5L180.5 526.7L180.1 527.7L179.7 528.8L179.6 529.2L179.4 529.8L179.1 530.9L178.9 532L178.7 533L178.6 533.2L178.5 534.1L178.3 535.1L178.2 536.2L178.1 537.2L178.1 538.3L178.1 539.4L178.1 540.4L178.1 541.5L178.2 542.5L178.3 543.6L178.4 544.7L178.5 545.7L178.6 546.3L178.7 546.8L178.9 547.8L179 548.9L179.2 550L179.4 551L179.6 551.9L179.6 552.1L179.8 553.1L180 554.2L180.2 555.2L180.3 556.3L180.5 557.4L180.6 558.4L180.6 558.4L180.7 559.5L180.7 560.5L180.8 561.6L180.8 562.7L180.8 563.7L180.8 564.8L180.8 565.8L180.7 566.9L180.7 567.9L180.6 569L180.6 569.3L180.6 570.1L180.5 571.1L180.4 572.2L180.4 573.2L180.4 574.3L180.3 575.4L180.3 576.4L180.3 577.5L180.3 578.5L180.3 579.6L180.4 580.6L180.4 581.7L180.4 582.8L180.4 583.8L180.4 584.9L180.4 585.9L180.3 587L180.2 588.1L180.1 589.1L180 590.2L179.8 591.2L179.6 592.2L179.6 592.3L179.3 593.4L179 594.4L178.7 595.5L178.6 595.8L178.4 596.5L178 597.6L177.6 598.5L177.6 598.6L177.1 599.7L176.7 600.8L176.7 600.9L176.2 601.8L175.8 602.9L175.7 603.1L175.3 603.9L174.8 605L174.7 605.4L174.4 606.1L173.9 607.1L173.7 607.6L173.5 608.2L173 609.2L172.7 610L172.6 610.3L172.2 611.3L171.8 612.4L171.7 612.6L171.4 613.5L171 614.5L170.8 615.3L170.7 615.6L170.3 616.6L170 617.7L169.8 618.4L169.7 618.8L169.4 619.8L169.1 620.9L168.8 621.9L168.8 622L168.5 623L168.3 624L168.1 625.1L167.8 626.2L167.8 626.4L167.6 627.2L167.4 628.3L167.3 629.3L167.1 630.4L167 631.5L166.9 632.5L166.8 633L166.8 633.6L166.7 634.6L166.6 635.7L166.6 636.8L166.5 637.8L166.5 638.9L166.5 639.9L166.6 641L166.6 642L166.7 643.1L166.8 643.9L166.8 644.2L167 645.2L167.2 646.3L167.4 647.3L167.6 648.4L167.8 649.2L167.9 649.5L168.2 650.5L168.5 651.6L168.8 652.3L168.9 652.6L169.4 653.7L169.8 654.6L169.9 654.7L170.4 655.8L170.8 656.5L171 656.9L171.7 657.9L171.7 658.1L172.4 659L172.7 659.4L173.2 660L173.7 660.7L174.1 661.1L174.7 661.7L175.1 662.2L175.7 662.7L176.2 663.2L176.7 663.6L177.5 664.3L177.6 664.4L178.6 665.1L178.9 665.3L179.6 665.8L180.6 666.4L180.6 666.4L181.6 667L182.5 667.4L182.6 667.5L183.5 667.9L184.5 668.4L184.9 668.5L185.5 668.8L186.5 669.1L187.5 669.4L187.9 669.6L188.5 669.7L189.4 670L190.4 670.2L191.4 670.4L192.4 670.6L192.8 670.6ZM98 666.5L99 666.7L100 666.8L100.9 666.9L101.9 667L102.9 667.1L103.9 667.2L104.9 667.2L105.9 667.2L106.8 667.1L107.8 667.1L108.8 667L109.8 666.9L110.8 666.7L111.8 666.6L112.7 666.4L112.8 666.4L113.7 666.2L114.7 666L115.7 665.7L116.7 665.4L117 665.3L117.7 665.1L118.6 664.8L119.6 664.5L120.1 664.3L120.6 664.1L121.6 663.7L122.6 663.2L122.6 663.2L123.6 662.8L124.5 662.3L124.8 662.2L125.5 661.8L126.5 661.2L126.7 661.1L127.5 660.7L128.5 660L128.5 660L129.5 659.4L130 659L130.4 658.7L131.4 658L131.5 657.9L132.4 657.2L132.8 656.9L133.4 656.4L134 655.8L134.4 655.5L135.2 654.7L135.4 654.6L136.2 653.7L136.3 653.6L137.2 652.6L137.3 652.5L138.2 651.6L138.3 651.4L139 650.5L139.3 650.2L139.8 649.5L140.3 648.8L140.6 648.4L141.3 647.4L141.3 647.3L141.9 646.3L142.2 645.8L142.6 645.2L143.1 644.2L143.2 643.9L143.6 643.1L144.1 642L144.2 641.8L144.6 641L145 639.9L145.2 639.2L145.3 638.9L145.6 637.8L145.9 636.8L146.2 635.7L146.2 635.6L146.4 634.6L146.6 633.6L146.7 632.5L146.8 631.5L146.9 630.4L147 629.3L147 628.3L147 627.2L147 626.2L146.9 625.1L146.8 624L146.7 623L146.6 621.9L146.4 620.9L146.3 619.8L146.2 619.2L146.1 618.8L145.9 617.7L145.7 616.6L145.5 615.6L145.2 614.5L145.2 614.4L145 613.5L144.7 612.4L144.4 611.3L144.2 610.5L144.1 610.3L143.8 609.2L143.5 608.2L143.2 607.3L143.2 607.1L142.8 606.1L142.4 605L142.2 604.5L142 603.9L141.6 602.9L141.3 602.1L141.1 601.8L140.7 600.8L140.3 600L140.1 599.7L139.6 598.6L139.3 598.1L139 597.6L138.3 596.5L138.3 596.5L137.6 595.5L137.3 595L136.9 594.4L136.3 593.7L136 593.4L135.4 592.5L135.2 592.3L134.4 591.4L134.2 591.2L133.4 590.4L133.1 590.2L132.4 589.5L131.9 589.1L131.4 588.7L130.6 588.1L130.4 587.9L129.5 587.2L129.1 587L128.5 586.6L127.5 586L127.4 585.9L126.5 585.4L125.5 585L125.4 584.9L124.5 584.5L123.6 584.1L122.7 583.8L122.6 583.8L121.6 583.5L120.6 583.2L119.6 583L118.6 582.9L117.7 582.8L117.3 582.8L116.7 582.7L115.7 582.7L114.7 582.7L114.2 582.8L113.7 582.8L112.7 582.9L111.8 583.1L110.8 583.3L109.8 583.5L108.8 583.8L108.8 583.8L107.8 584.2L106.8 584.6L106.1 584.9L105.9 585L104.9 585.5L104 585.9L103.9 586L102.9 586.6L102.2 587L101.9 587.2L100.9 587.8L100.6 588.1L100 588.5L99.2 589.1L99 589.3L98 590.1L97.9 590.2L97 591L96.7 591.2L96 591.9L95.6 592.3L95 592.8L94.5 593.4L94.1 593.8L93.5 594.4L93.1 594.9L92.6 595.5L92.1 596.1L91.7 596.5L91.1 597.3L90.9 597.6L90.1 598.6L90.1 598.6L89.3 599.7L89.1 600L88.6 600.8L88.2 601.5L87.9 601.8L87.3 602.9L87.2 603.1L86.7 603.9L86.2 604.8L86.1 605L85.5 606.1L85.2 606.7L85 607.1L84.5 608.2L84.2 608.8L84 609.2L83.6 610.3L83.2 611.1L83.1 611.3L82.7 612.4L82.3 613.5L82.3 613.7L82 614.5L81.6 615.6L81.3 616.6L81.3 616.6L80.9 617.7L80.6 618.8L80.3 619.8L80.3 620L80.1 620.9L79.8 621.9L79.5 623L79.3 624L79.3 624L79 625.1L78.8 626.2L78.6 627.2L78.4 628.3L78.3 628.7L78.2 629.3L78 630.4L77.9 631.5L77.7 632.5L77.6 633.6L77.5 634.6L77.4 635.7L77.3 636L77.3 636.8L77.2 637.8L77.2 638.9L77.2 639.9L77.2 641L77.2 642L77.3 643.1L77.3 643.6L77.4 644.2L77.5 645.2L77.7 646.3L77.9 647.3L78.2 648.4L78.3 649L78.5 649.5L78.8 650.5L79.2 651.6L79.3 651.8L79.6 652.6L80.2 653.7L80.3 653.9L80.7 654.7L81.3 655.6L81.4 655.8L82.1 656.9L82.3 657L83 657.9L83.2 658.2L83.9 659L84.2 659.3L85 660L85.2 660.2L86.2 661.1L86.2 661.1L87.2 661.8L87.6 662.2L88.2 662.5L89.1 663.1L89.3 663.2L90.1 663.7L91.1 664.2L91.3 664.3L92.1 664.6L93.1 665L93.9 665.3L94.1 665.4L95 665.7L96 666L97 666.3L97.6 666.4ZM195.3 663.2L196.3 663.4L197.3 663.5L198.3 663.6L199.3 663.7L200.3 663.7L201.2 663.7L202.2 663.7L203.2 663.6L204.2 663.5L205.2 663.4L206.2 663.2L206.4 663.2L207.1 663.1L208.1 662.9L209.1 662.7L210.1 662.4L211 662.2L211.1 662.1L212.1 661.9L213 661.5L214 661.2L214.2 661.1L215 660.8L216 660.4L216.7 660L217 659.9L218 659.4L218.8 659L218.9 658.9L219.9 658.4L220.7 657.9L220.9 657.8L221.9 657.2L222.3 656.9L222.9 656.5L223.8 655.8L223.9 655.8L224.8 655L225.2 654.7L225.8 654.2L226.5 653.7L226.8 653.4L227.6 652.6L227.8 652.5L228.7 651.6L228.8 651.5L229.7 650.5L229.8 650.4L230.6 649.5L230.7 649.3L231.5 648.4L231.7 648L232.3 647.3L232.7 646.7L233 646.3L233.7 645.2L233.7 645.2L234.3 644.2L234.7 643.4L234.9 643.1L235.4 642L235.7 641.5L235.9 641L236.3 639.9L236.6 639.1L236.7 638.9L237.1 637.8L237.4 636.8L237.6 636L237.7 635.7L238 634.6L238.2 633.6L238.4 632.5L238.5 631.5L238.6 630.5L238.6 630.4L238.7 629.3L238.8 628.3L238.8 627.2L238.8 626.2L238.8 625.1L238.7 624L238.7 623L238.6 622.4L238.6 621.9L238.4 620.9L238.3 619.8L238.1 618.8L237.9 617.7L237.7 616.6L237.6 616.2L237.5 615.6L237.2 614.5L237 613.5L236.6 612.4L236.6 612.4L236.3 611.3L236 610.3L235.7 609.4L235.6 609.2L235.2 608.2L234.7 607.1L234.7 607L234.3 606.1L233.8 605L233.7 604.9L233.2 603.9L232.7 603L232.6 602.9L232 601.8L231.7 601.3L231.4 600.8L230.7 599.8L230.6 599.7L229.9 598.6L229.8 598.4L229.1 597.6L228.8 597.1L228.3 596.5L227.8 595.9L227.4 595.5L226.8 594.7L226.5 594.4L225.8 593.6L225.6 593.4L224.8 592.5L224.6 592.3L223.9 591.4L223.7 591.2L222.9 590.3L222.7 590.2L221.9 589.2L221.8 589.1L221 588.1L220.9 588L220.2 587L219.9 586.6L219.5 585.9L218.9 585L218.9 584.9L218.4 583.8L218 582.8L218 582.7L217.7 581.7L217.4 580.6L217.3 579.6L217.2 578.5L217.2 577.5L217.2 576.4L217.3 575.4L217.3 574.3L217.3 573.2L217.4 572.2L217.4 571.1L217.4 570.1L217.3 569L217.3 567.9L217.2 566.9L217.1 565.8L217 564.8L217 564.8L216.8 563.7L216.7 562.7L216.5 561.6L216.4 560.5L216.3 559.5L216.2 558.4L216.1 557.4L216.1 556.3L216.2 555.2L216.3 554.2L216.5 553.1L216.7 552.1L217 551.1L217 551L217.3 550L217.6 548.9L218 548L218 547.8L218.4 546.8L218.8 545.7L218.9 545.4L219.2 544.7L219.6 543.6L219.9 542.7L220 542.5L220.4 541.5L220.7 540.4L220.9 539.8L221 539.4L221.3 538.3L221.6 537.2L221.8 536.2L221.9 535.7L222 535.1L222.1 534.1L222.2 533L222.3 532L222.2 530.9L222.2 529.8L222 528.8L221.9 528.1L221.8 527.7L221.5 526.7L221.1 525.6L220.9 525.1L220.7 524.5L220 523.5L219.9 523.3L219.3 522.4L218.9 522L218.3 521.4L218 521L217.1 520.3L217 520.3L216 519.6L215.3 519.3L215 519.1L214 518.7L213 518.4L212.1 518.2L212 518.2L211.1 518.1L210.1 518L209.1 518L208.1 518L207.1 518.2L207 518.2L206.2 518.4L205.2 518.6L204.2 518.9L203.4 519.3L203.2 519.3L202.2 519.8L201.2 520.3L201.2 520.3L200.3 520.9L199.6 521.4L199.3 521.6L198.3 522.4L198.3 522.4L197.3 523.3L197.2 523.5L196.3 524.4L196.2 524.5L195.4 525.6L195.3 525.6L194.6 526.7L194.4 527.1L194 527.7L193.5 528.8L193.4 529L193 529.8L192.6 530.9L192.4 531.6L192.3 532L192 533L191.8 534.1L191.7 535.1L191.6 536.2L191.6 537.2L191.6 538.3L191.7 539.4L191.8 540.4L192 541.5L192.3 542.5L192.4 542.9L192.6 543.6L192.9 544.7L193.3 545.7L193.4 546L193.7 546.8L194.1 547.8L194.4 548.4L194.6 548.9L195 550L195.3 550.7L195.5 551L195.9 552.1L196.3 553.1L196.4 553.1L196.7 554.2L197.1 555.2L197.3 556.3L197.3 556.3L197.5 557.4L197.6 558.4L197.7 559.5L197.7 560.5L197.7 561.6L197.6 562.7L197.5 563.7L197.3 564.8L197.3 565L197.2 565.8L197.1 566.9L196.9 567.9L196.8 569L196.7 570.1L196.6 571.1L196.5 572.2L196.5 573.2L196.5 574.3L196.5 575.4L196.5 576.4L196.5 577.5L196.5 578.5L196.6 579.6L196.6 580.6L196.6 581.7L196.6 582.8L196.5 583.8L196.3 584.7L196.3 584.9L196.1 585.9L195.8 587L195.4 588.1L195.3 588.2L195 589.1L194.5 590.2L194.4 590.4L193.9 591.2L193.4 592.1L193.3 592.3L192.7 593.4L192.4 593.7L192 594.4L191.4 595.3L191.3 595.5L190.6 596.5L190.4 596.7L189.8 597.6L189.4 598.2L189.1 598.6L188.5 599.6L188.4 599.7L187.7 600.8L187.5 601.1L187 601.8L186.5 602.6L186.3 602.9L185.6 603.9L185.5 604.1L185 605L184.5 605.7L184.3 606.1L183.7 607.1L183.5 607.4L183.1 608.2L182.6 609.2L182.6 609.2L182 610.3L181.6 611.2L181.5 611.3L181 612.4L180.6 613.3L180.5 613.5L180 614.5L179.6 615.6L179.6 615.6L179.2 616.6L178.8 617.7L178.6 618.2L178.4 618.8L178.1 619.8L177.8 620.9L177.6 621.3L177.4 621.9L177.1 623L176.9 624L176.7 624.9L176.6 625.1L176.4 626.2L176.1 627.2L175.9 628.3L175.8 629.3L175.7 629.9L175.6 630.4L175.4 631.5L175.3 632.5L175.2 633.6L175.1 634.6L175.1 635.7L175 636.8L175 637.8L175 638.9L175.1 639.9L175.1 641L175.2 642L175.4 643.1L175.6 644.2L175.7 644.7L175.8 645.2L176 646.3L176.4 647.3L176.7 648.2L176.7 648.4L177.1 649.5L177.6 650.5L177.6 650.6L178.1 651.6L178.6 652.4L178.8 652.6L179.5 653.7L179.6 653.9L180.3 654.7L180.6 655.2L181.2 655.8L181.6 656.3L182.2 656.9L182.6 657.2L183.4 657.9L183.5 658.1L184.5 658.8L184.7 659L185.5 659.5L186.4 660L186.5 660.1L187.5 660.6L188.4 661.1L188.5 661.1L189.4 661.6L190.4 661.9L191.1 662.2L191.4 662.3L192.4 662.6L193.4 662.8L194.4 663.1L195.2 663.2ZM103.9 658L104.9 658.1L105.9 658.2L106.8 658.2L107.8 658.2L108.8 658.2L109.8 658.1L110.8 658L111.1 657.9L111.8 657.8L112.7 657.6L113.7 657.4L114.7 657.2L115.7 656.9L115.7 656.9L116.7 656.6L117.7 656.2L118.6 655.8L118.6 655.8L119.6 655.4L120.6 654.9L120.9 654.7L121.6 654.4L122.6 653.8L122.8 653.7L123.6 653.2L124.4 652.6L124.5 652.5L125.5 651.8L125.8 651.6L126.5 651L127.1 650.5L127.5 650.2L128.2 649.5L128.5 649.2L129.3 648.4L129.5 648.2L130.2 647.3L130.4 647.1L131.1 646.3L131.4 645.8L131.9 645.2L132.4 644.4L132.6 644.2L133.2 643.1L133.4 642.8L133.8 642L134.3 641L134.4 640.8L134.8 639.9L135.2 638.9L135.4 638.3L135.5 637.8L135.8 636.8L136.1 635.7L136.3 634.6L136.3 634.5L136.5 633.6L136.6 632.5L136.7 631.5L136.8 630.4L136.8 629.3L136.8 628.3L136.7 627.2L136.6 626.2L136.5 625.1L136.3 624.1L136.3 624L136.2 623L135.9 621.9L135.7 620.9L135.4 619.8L135.4 619.5L135.1 618.8L134.8 617.7L134.5 616.6L134.4 616.3L134.1 615.6L133.7 614.5L133.4 613.7L133.3 613.5L132.9 612.4L132.4 611.4L132.4 611.3L131.9 610.3L131.4 609.4L131.3 609.2L130.7 608.2L130.4 607.7L130.1 607.1L129.5 606.2L129.4 606.1L128.6 605L128.5 604.9L127.7 603.9L127.5 603.7L126.7 602.9L126.5 602.7L125.5 601.9L125.5 601.8L124.5 601.1L124.1 600.8L123.6 600.4L122.6 599.8L122.3 599.7L121.6 599.3L120.6 598.9L119.8 598.6L119.6 598.6L118.6 598.3L117.7 598.1L116.7 598L115.7 597.9L114.7 597.9L113.7 597.9L112.7 598L111.8 598.2L110.8 598.4L109.9 598.6L109.8 598.7L108.8 599L107.8 599.4L107.2 599.7L106.8 599.8L105.9 600.4L105.2 600.8L104.9 600.9L103.9 601.6L103.6 601.8L102.9 602.3L102.2 602.9L101.9 603.1L101 603.9L100.9 604L100 605L99.9 605L99 606L98.9 606.1L98 607.1L98 607.2L97.2 608.2L97 608.5L96.5 609.2L96 609.9L95.8 610.3L95.1 611.3L95 611.4L94.5 612.4L94.1 613.2L93.9 613.5L93.4 614.5L93.1 615.1L92.9 615.6L92.4 616.6L92.1 617.3L91.9 617.7L91.5 618.8L91.1 619.7L91.1 619.8L90.7 620.9L90.3 621.9L90.1 622.5L90 623L89.6 624L89.3 625.1L89.1 625.8L89 626.2L88.7 627.2L88.5 628.3L88.2 629.3L88.2 629.8L88 630.4L87.8 631.5L87.7 632.5L87.5 633.6L87.4 634.6L87.3 635.7L87.2 636.8L87.2 637.8L87.2 638.9L87.2 639.9L87.3 641L87.5 642L87.6 643.1L87.9 644.2L88.2 645.2L88.2 645.2L88.5 646.3L88.9 647.3L89.1 647.8L89.4 648.4L90 649.5L90.1 649.6L90.7 650.5L91.1 651L91.5 651.6L92.1 652.2L92.5 652.6L93.1 653.2L93.6 653.7L94.1 654L95 654.7L95 654.7L96 655.4L96.8 655.8L97 655.9L98 656.4L99 656.8L99.2 656.9L100 657.1L100.9 657.4L101.9 657.7L102.9 657.9L103.4 657.9ZM196.3 659.2L197.3 659.3L198.3 659.5L199.3 659.6L200.3 659.7L201.2 659.7L202.2 659.7L203.2 659.6L204.2 659.6L205.2 659.5L206.2 659.3L207.1 659.2L208.1 659L208.1 659L209.1 658.7L210.1 658.5L211.1 658.2L211.9 657.9L212.1 657.9L213 657.5L214 657.1L214.6 656.9L215 656.7L216 656.2L216.8 655.8L217 655.7L218 655.2L218.7 654.7L218.9 654.6L219.9 654L220.3 653.7L220.9 653.3L221.8 652.6L221.9 652.6L222.9 651.8L223.1 651.6L223.9 650.9L224.3 650.5L224.8 650L225.4 649.5L225.8 649L226.4 648.4L226.8 647.9L227.3 647.3L227.8 646.7L228.1 646.3L228.8 645.4L228.9 645.2L229.6 644.2L229.8 643.9L230.3 643.1L230.7 642.2L230.8 642L231.4 641L231.7 640.2L231.9 639.9L232.3 638.9L232.7 637.8L232.7 637.8L233 636.8L233.3 635.7L233.6 634.6L233.7 634.2L233.8 633.6L234 632.5L234.2 631.5L234.3 630.4L234.4 629.3L234.4 628.3L234.4 627.2L234.4 626.2L234.4 625.1L234.3 624L234.2 623L234 621.9L233.9 620.9L233.7 619.9L233.7 619.8L233.5 618.8L233.2 617.7L232.9 616.6L232.7 615.8L232.6 615.6L232.3 614.5L232 613.5L231.7 612.8L231.6 612.4L231.1 611.3L230.7 610.4L230.7 610.3L230.2 609.2L229.8 608.4L229.6 608.2L229 607.1L228.8 606.7L228.4 606.1L227.8 605.1L227.7 605L227 603.9L226.8 603.7L226.1 602.9L225.8 602.5L225.2 601.8L224.8 601.4L224.2 600.8L223.9 600.4L223.1 599.7L222.9 599.5L221.9 598.6L221.9 598.6L220.9 597.8L220.6 597.6L219.9 597.1L219 596.5L218.9 596.5L218 595.9L217.2 595.5L217 595.3L216 594.9L215 594.4L214.9 594.4L214 594.1L213 593.8L212.1 593.5L211.1 593.4L211.1 593.4L210.1 593.2L209.1 593.2L208.1 593.2L207.2 593.4L207.1 593.4L206.2 593.5L205.2 593.8L204.2 594.2L203.7 594.4L203.2 594.6L202.2 595.1L201.6 595.5L201.2 595.7L200.3 596.3L199.9 596.5L199.3 597L198.5 597.6L198.3 597.7L197.3 598.5L197.2 598.6L196.3 599.4L196 599.7L195.3 600.3L194.9 600.8L194.4 601.2L193.8 601.8L193.4 602.3L192.8 602.9L192.4 603.4L191.9 603.9L191.4 604.5L191 605L190.4 605.8L190.2 606.1L189.4 607.1L189.4 607.1L188.7 608.2L188.5 608.5L188 609.2L187.5 610L187.3 610.3L186.7 611.3L186.5 611.7L186.1 612.4L185.5 613.5L185.5 613.5L185 614.5L184.5 615.5L184.5 615.6L184 616.6L183.5 617.7L183.5 617.7L183.1 618.8L182.7 619.8L182.6 620.3L182.3 620.9L182 621.9L181.7 623L181.6 623.3L181.4 624L181.1 625.1L180.8 626.2L180.6 627.1L180.6 627.2L180.3 628.3L180.1 629.3L180 630.4L179.8 631.5L179.7 632.5L179.6 633.2L179.6 633.6L179.5 634.6L179.4 635.7L179.4 636.8L179.4 637.8L179.5 638.9L179.5 639.9L179.6 640.5L179.7 641L179.8 642L180 643.1L180.3 644.2L180.6 645.2L180.6 645.3L180.9 646.3L181.3 647.3L181.6 647.9L181.8 648.4L182.4 649.5L182.6 649.8L183 650.5L183.5 651.3L183.7 651.6L184.5 652.5L184.6 652.6L185.5 653.6L185.6 653.7L186.5 654.5L186.8 654.7L187.5 655.3L188.2 655.8L188.5 656L189.4 656.6L189.9 656.9L190.4 657.1L191.4 657.6L192.2 657.9L192.4 658L193.4 658.4L194.4 658.7L195.3 658.9L195.5 659ZM106.8 652.6L107.8 652.7L108.8 652.7L109.8 652.7L110.2 652.6L110.8 652.6L111.8 652.4L112.7 652.2L113.7 652L114.7 651.7L115.2 651.6L115.7 651.4L116.7 651L117.7 650.6L117.8 650.5L118.6 650.1L119.6 649.6L119.8 649.5L120.6 649L121.4 648.4L121.6 648.3L122.6 647.5L122.8 647.3L123.6 646.7L124 646.3L124.5 645.7L125 645.2L125.5 644.7L125.9 644.2L126.5 643.4L126.8 643.1L127.5 642L127.5 642L128.1 641L128.5 640.3L128.7 639.9L129.1 638.9L129.5 638L129.5 637.8L129.9 636.8L130.2 635.7L130.4 634.6L130.4 634.4L130.6 633.6L130.7 632.5L130.8 631.5L130.8 630.4L130.8 629.3L130.7 628.3L130.6 627.2L130.4 626.5L130.4 626.2L130.2 625.1L129.9 624L129.6 623L129.5 622.4L129.3 621.9L128.9 620.9L128.5 619.8L128.5 619.7L128.1 618.8L127.6 617.7L127.5 617.5L127 616.6L126.5 615.7L126.4 615.6L125.7 614.5L125.5 614.2L125 613.5L124.5 612.9L124.2 612.4L123.6 611.7L123.2 611.3L122.6 610.7L122.1 610.3L121.6 609.9L120.7 609.2L120.6 609.2L119.6 608.6L118.8 608.2L118.6 608.1L117.7 607.7L116.7 607.5L115.7 607.3L114.7 607.2L113.7 607.2L112.7 607.2L111.8 607.4L110.8 607.6L109.8 607.9L109.2 608.2L108.8 608.3L107.8 608.8L107.1 609.2L106.8 609.4L105.9 610.1L105.6 610.3L104.9 610.8L104.3 611.3L103.9 611.7L103.2 612.4L102.9 612.7L102.2 613.5L101.9 613.8L101.4 614.5L100.9 615.1L100.6 615.6L100 616.5L99.8 616.6L99.2 617.7L99 618L98.6 618.8L98 619.8L98 619.8L97.5 620.9L97 621.8L97 621.9L96.5 623L96 624L96 624.1L95.6 625.1L95.3 626.2L95 626.8L94.9 627.2L94.6 628.3L94.3 629.3L94.1 630.3L94 630.4L93.8 631.5L93.6 632.5L93.4 633.6L93.3 634.6L93.2 635.7L93.2 636.8L93.2 637.8L93.3 638.9L93.4 639.9L93.5 641L93.8 642L94.1 643L94.1 643.1L94.5 644.2L95 645.2L95 645.3L95.6 646.3L96 646.9L96.4 647.3L97 648.1L97.3 648.4L98 649.1L98.5 649.5L99 649.8L100 650.5L100 650.5L100.9 651L101.9 651.5L102.1 651.6L102.9 651.9L103.9 652.1L104.9 652.4L105.9 652.5L106.7 652.6ZM202.2 654.8L203.2 654.8L204.1 654.7L204.2 654.7L205.2 654.7L206.2 654.5L207.1 654.4L208.1 654.2L209.1 653.9L209.9 653.7L210.1 653.6L211.1 653.3L212.1 653L212.8 652.6L213 652.5L214 652.1L215 651.6L215 651.6L216 651L216.8 650.5L217 650.4L218 649.8L218.4 649.5L218.9 649L219.7 648.4L219.9 648.2L220.9 647.3L220.9 647.3L221.9 646.4L222 646.3L222.9 645.3L222.9 645.2L223.8 644.2L223.9 644.1L224.6 643.1L224.8 642.7L225.3 642L225.8 641.1L225.9 641L226.4 639.9L226.8 639.1L226.9 638.9L227.4 637.8L227.8 636.8L227.8 636.7L228.1 635.7L228.4 634.6L228.6 633.6L228.8 632.7L228.8 632.5L228.9 631.5L229 630.4L229.1 629.3L229.1 628.3L229.1 627.2L229.1 626.2L229 625.1L228.8 624L228.8 623.7L228.7 623L228.5 621.9L228.2 620.9L228 619.8L227.8 619.3L227.6 618.8L227.3 617.7L226.9 616.6L226.8 616.4L226.5 615.6L226 614.5L225.8 614.2L225.5 613.5L224.9 612.4L224.8 612.3L224.2 611.3L223.9 610.8L223.5 610.3L222.9 609.4L222.7 609.2L221.9 608.3L221.8 608.2L220.9 607.2L220.8 607.1L219.9 606.3L219.6 606.1L218.9 605.6L218.1 605L218 604.9L217 604.3L216.3 603.9L216 603.8L215 603.4L214 603L213.5 602.9L213 602.7L212.1 602.5L211.1 602.4L210.1 602.3L209.1 602.3L208.1 602.4L207.1 602.5L206.2 602.7L205.5 602.9L205.2 603L204.2 603.3L203.2 603.7L202.6 603.9L202.2 604.1L201.2 604.6L200.7 605L200.3 605.2L199.3 605.9L199.1 606.1L198.3 606.6L197.7 607.1L197.3 607.5L196.5 608.2L196.3 608.4L195.4 609.2L195.3 609.3L194.5 610.3L194.4 610.4L193.6 611.3L193.4 611.6L192.8 612.4L192.4 612.9L192 613.5L191.4 614.3L191.3 614.5L190.6 615.6L190.4 616L190 616.6L189.5 617.7L189.4 617.8L188.9 618.8L188.5 619.8L188.5 619.8L188 620.9L187.6 621.9L187.5 622.2L187.2 623L186.8 624L186.5 625L186.5 625.1L186.2 626.2L185.9 627.2L185.6 628.3L185.5 628.9L185.4 629.3L185.2 630.4L185 631.5L184.9 632.5L184.8 633.6L184.7 634.6L184.7 635.7L184.7 636.8L184.8 637.8L184.8 638.9L185 639.9L185.2 641L185.4 642L185.5 642.4L185.7 643.1L186.1 644.2L186.5 645.1L186.5 645.2L187.1 646.3L187.5 646.9L187.7 647.3L188.5 648.4L188.5 648.4L189.4 649.5L189.4 649.5L190.4 650.5L190.5 650.5L191.4 651.3L191.8 651.6L192.4 651.9L193.4 652.5L193.6 652.6L194.4 653L195.3 653.4L196 653.7L196.3 653.8L197.3 654.1L198.3 654.3L199.3 654.5L200.3 654.7L201.2 654.7L201.4 654.7ZM106.8 643.1L107.8 643.5L108.8 643.7L109.8 643.8L110.8 643.8L111.8 643.7L112.7 643.5L113.7 643.2L114 643.1L114.7 642.8L115.7 642.3L116.1 642L116.7 641.6L117.5 641L117.7 640.8L118.5 639.9L118.6 639.8L119.4 638.9L119.6 638.5L120 637.8L120.6 636.8L120.6 636.6L120.9 635.7L121.2 634.6L121.4 633.6L121.5 632.5L121.5 631.5L121.4 630.4L121.1 629.3L120.8 628.3L120.6 627.7L120.4 627.2L119.9 626.2L119.6 625.8L119.2 625.1L118.6 624.5L118.2 624L117.7 623.5L116.9 623L116.7 622.8L115.7 622.3L114.7 622L114.4 621.9L113.7 621.8L112.7 621.8L111.8 621.9L111.8 621.9L110.8 622.2L109.8 622.6L109.2 623L108.8 623.2L107.8 624L107.7 624L106.8 624.9L106.7 625.1L105.9 626.1L105.8 626.2L105.1 627.2L104.9 627.5L104.4 628.3L103.9 629.3L103.9 629.4L103.5 630.4L103.1 631.5L102.9 632.2L102.8 632.5L102.6 633.6L102.5 634.6L102.5 635.7L102.5 636.8L102.7 637.8L102.9 638.5L103 638.9L103.5 639.9L103.9 640.6L104.2 641L104.9 641.8L105.2 642L105.9 642.5L106.8 643.1ZM202.2 649.5L203.2 649.6L204.2 649.6L205.2 649.5L205.8 649.5L206.2 649.4L207.1 649.3L208.1 649L209.1 648.8L210.1 648.4L210.2 648.4L211.1 648.1L212.1 647.6L212.6 647.3L213 647.1L214 646.5L214.4 646.3L215 645.9L215.9 645.2L216 645.1L217 644.3L217.1 644.2L218 643.3L218.2 643.1L218.9 642.2L219.1 642L219.9 641L219.9 641L220.6 639.9L220.9 639.4L221.2 638.9L221.8 637.8L221.9 637.5L222.2 636.8L222.6 635.7L222.9 634.8L222.9 634.6L223.2 633.6L223.4 632.5L223.5 631.5L223.6 630.4L223.6 629.3L223.6 628.3L223.5 627.2L223.4 626.2L223.2 625.1L223 624L222.9 623.5L222.7 623L222.4 621.9L222 620.9L221.9 620.5L221.6 619.8L221.1 618.8L220.9 618.4L220.5 617.7L219.9 616.8L219.8 616.6L219 615.6L218.9 615.4L218.1 614.5L218 614.3L217 613.5L217 613.4L216 612.6L215.7 612.4L215 612L214 611.4L213.8 611.3L213 611L212.1 610.7L211.1 610.5L210.1 610.3L209.1 610.3L208.1 610.3L207.1 610.4L206.2 610.6L205.2 610.9L204.2 611.3L204 611.3L203.2 611.7L202.2 612.2L202 612.4L201.2 612.9L200.4 613.5L200.3 613.6L199.3 614.4L199.2 614.5L198.3 615.4L198.1 615.6L197.3 616.4L197.1 616.6L196.3 617.6L196.3 617.7L195.5 618.8L195.3 619L194.8 619.8L194.4 620.6L194.2 620.9L193.6 621.9L193.4 622.4L193.1 623L192.6 624L192.4 624.6L192.2 625.1L191.8 626.2L191.5 627.2L191.4 627.4L191.2 628.3L190.9 629.3L190.7 630.4L190.5 631.5L190.4 632L190.4 632.5L190.3 633.6L190.2 634.6L190.2 635.7L190.3 636.8L190.4 637.8L190.4 638L190.6 638.9L190.8 639.9L191.1 641L191.4 641.6L191.6 642L192.1 643.1L192.4 643.6L192.8 644.2L193.4 645L193.6 645.2L194.4 646L194.7 646.3L195.3 646.8L196 647.3L196.3 647.5L197.3 648.1L198 648.4L198.3 648.5L199.3 648.9L200.3 649.2L201.2 649.4L202 649.5ZM203.2 639.2L204.2 639.6L205.2 639.7L206.2 639.7L207.1 639.6L208.1 639.3L209.1 638.9L209.2 638.9L210.1 638.3L210.7 637.8L211.1 637.5L211.7 636.8L212.1 636.3L212.5 635.7L213 634.7L213.1 634.6L213.4 633.6L213.7 632.5L213.8 631.5L213.8 630.4L213.7 629.3L213.4 628.3L213 627.3L213 627.2L212.4 626.2L212.1 625.8L211.4 625.1L211.1 624.8L210.1 624.2L209.7 624L209.1 623.9L208.1 623.7L207.1 623.7L206.2 624L205.9 624L205.2 624.4L204.2 625L204 625.1L203.2 625.8L202.9 626.2L202.2 626.9L202 627.2L201.4 628.3L201.2 628.5L200.9 629.3L200.5 630.4L200.3 631.2L200.2 631.5L200 632.5L200 633.6L200.1 634.6L200.3 635.4L200.3 635.7L200.8 636.8L201.2 637.5L201.4 637.8L202.2 638.6L202.6 638.9Z" fill="none" stroke="#a07146" stroke-width="2.0" stroke-linejoin="round"/>
</g>
<g clip-path="url(#c21)">
<rect x="293" y="474" width="197" height="213" fill="#262730"/>
<path d="M321.5 474V687M409.5 474V687M293 654.5H490M293 616.5H490M293 578.5H490M293 541.5H490M293 503.5H490" stroke="#1e1e20" stroke-width="1" fill="none"/>
<path d="M353 672.1L354 672.2L355 672.3L356 672.4L357 672.5L358 672.5L358.9 672.5L359.9 672.5L360.9 672.5L361.9 672.5L362.9 672.4L363.9 672.4L364.9 672.3L365.8 672.2L366.8 672.1L367.8 672.1L368.8 672L368.9 672L369.8 671.9L370.8 671.9L371.7 671.8L372.7 671.7L373.7 671.7L374.7 671.7L375.7 671.6L376.7 671.6L377.7 671.5L378.6 671.5L379.6 671.5L380.6 671.5L381.6 671.4L382.6 671.4L383.6 671.3L384.5 671.2L385.5 671.2L386.5 671.1L387.3 671L387.5 670.9L388.5 670.8L389.5 670.7L390.5 670.5L391.4 670.3L392.4 670.1L393 669.9L393.4 669.9L394.4 669.6L395.4 669.4L396.4 669.1L396.8 668.9L397.3 668.8L398.3 668.5L399.3 668.2L400.1 667.9L400.3 667.9L401.3 667.6L402.3 667.2L403.2 666.9L403.3 666.9L404.2 666.5L405.2 666.2L406 665.9L406.2 665.8L407.2 665.4L408.2 665L408.6 664.9L409.2 664.7L410.1 664.2L411 663.9L411.1 663.8L412.1 663.4L413.1 663L413.3 662.8L414.1 662.5L415.1 662.1L415.6 661.8L416.1 661.7L417 661.2L418 660.8L418 660.8L419 660.4L420 660L420.5 659.8L421 659.6L422 659.3L422.9 658.9L423.4 658.8L423.9 658.6L424.9 658.3L425.9 658.1L426.9 657.8L427 657.8L427.9 657.6L428.9 657.3L429.8 657.1L430.8 656.9L431.4 656.8L431.8 656.7L432.8 656.5L433.8 656.3L434.8 656L435.7 655.8L436.1 655.7L436.7 655.6L437.7 655.4L438.7 655.1L439.7 654.8L440.1 654.7L440.7 654.6L441.7 654.3L442.6 653.9L443.3 653.7L443.6 653.6L444.6 653.2L445.6 652.8L445.7 652.7L446.6 652.3L447.6 651.7L447.6 651.7L448.5 651.1L449.1 650.7L449.5 650.4L450.3 649.7L450.5 649.5L451.4 648.6L451.5 648.5L452.2 647.6L452.5 647.2L452.9 646.6L453.5 645.6L453.5 645.6L453.9 644.6L454.3 643.6L454.5 643L454.6 642.6L454.7 641.5L454.8 640.5L454.9 639.5L454.8 638.5L454.6 637.5L454.5 636.7L454.4 636.5L454.1 635.5L453.7 634.4L453.5 633.9L453.2 633.4L452.7 632.4L452.5 632.1L452 631.4L451.5 630.7L451.3 630.4L450.5 629.4L450.5 629.3L449.8 628.4L449.5 628L449 627.3L448.5 626.6L448.3 626.3L447.8 625.3L447.6 624.9L447.3 624.3L447 623.3L446.8 622.3L446.7 621.3L446.7 620.2L446.8 619.2L446.9 618.2L447.1 617.2L447.3 616.2L447.5 615.2L447.6 614.8L447.7 614.2L447.9 613.1L448.2 612.1L448.4 611.1L448.5 610.1L448.5 609.8L448.6 609.1L448.7 608.1L448.8 607.1L448.7 606L448.6 605L448.5 604.5L448.5 604L448.2 603L448 602L447.6 601L447.6 600.9L447.2 600L446.7 598.9L446.6 598.8L446.1 597.9L445.6 597.1L445.5 596.9L444.8 595.9L444.6 595.7L444 594.9L443.6 594.4L443.2 593.9L442.6 593.3L442.2 592.9L441.7 592.3L441.2 591.8L440.7 591.4L440 590.8L439.7 590.6L438.7 589.9L438.6 589.8L437.7 589.3L436.9 588.8L436.7 588.7L435.7 588.2L434.8 587.8L434.8 587.7L433.8 587.3L432.8 586.9L432.3 586.8L431.8 586.6L430.8 586.2L429.8 585.9L429.3 585.8L428.9 585.6L427.9 585.3L426.9 584.9L426.3 584.7L425.9 584.6L424.9 584.1L424.2 583.7L423.9 583.5L423 582.7L422.9 582.6L422.3 581.7L422 580.7L422 580.5L421.8 579.7L421.8 578.7L421.9 577.6L422 576.7L422 576.6L422.1 575.6L422.2 574.6L422.4 573.6L422.5 572.6L422.6 571.6L422.7 570.5L422.7 569.5L422.7 568.5L422.7 567.5L422.6 566.5L422.5 565.5L422.3 564.5L422.1 563.4L422 563L421.8 562.4L421.5 561.4L421.1 560.4L421 560.1L420.7 559.4L420.2 558.4L420 557.9L419.7 557.3L419.3 556.3L419 555.8L418.8 555.3L418.4 554.3L418 553.4L418 553.3L417.7 552.3L417.5 551.3L417.5 550.2L417.6 549.2L418 548.2L418 548.1L418.4 547.2L419 546.2L419 546.2L419.7 545.2L420 544.8L420.5 544.2L421 543.5L421.2 543.1L422 542.1L422 542.1L422.7 541.1L422.9 540.6L423.3 540.1L423.8 539.1L423.9 538.8L424.2 538.1L424.5 537.1L424.7 536L424.8 535L424.8 534L424.7 533L424.4 532L424.1 531L423.9 530.7L423.6 530L423 528.9L422.9 528.8L422.3 527.9L422 527.4L421.6 526.9L421 526.2L420.7 525.9L420 525.1L419.8 524.9L419 524L418.9 523.9L418 523L417.9 522.9L417 521.9L416.9 521.8L416.1 520.9L416 520.8L415.1 519.9L415 519.8L414.1 518.9L414 518.8L413.1 517.9L413 517.8L412.1 516.9L411.9 516.8L411.1 516.1L410.7 515.8L410.1 515.3L409.4 514.7L409.2 514.6L408.2 514L407.7 513.7L407.2 513.5L406.2 513.1L405.3 512.7L405.2 512.7L404.2 512.4L403.3 512.2L402.3 512.1L401.3 512L400.3 512L399.3 512L398.3 512.1L397.3 512.3L396.4 512.5L395.7 512.7L395.4 512.8L394.4 513.2L393.4 513.6L393 513.7L392.4 514L391.4 514.6L391.1 514.7L390.5 515.1L389.5 515.8L389.5 515.8L388.5 516.5L388 516.8L387.5 517.2L386.6 517.8L386.5 517.8L385.5 518.5L385 518.8L384.5 519.1L383.6 519.5L382.7 519.8L382.6 519.9L381.6 520.1L380.6 520.2L379.6 520.2L378.6 520.1L377.7 519.9L377.3 519.8L376.7 519.7L375.7 519.4L374.7 519.1L373.7 518.9L373.5 518.8L372.7 518.6L371.7 518.3L370.8 518.1L369.8 517.9L368.8 517.8L368.3 517.8L367.8 517.8L367.3 517.8L366.8 517.8L365.8 517.9L364.9 518.1L363.9 518.4L362.9 518.8L362.9 518.8L361.9 519.3L360.9 519.8L360.9 519.8L359.9 520.4L359.4 520.8L358.9 521.1L358 521.8L358 521.9L357 522.7L356.8 522.9L356 523.6L355.7 523.9L355 524.5L354.6 524.9L354 525.5L353.6 525.9L353 526.5L352.7 526.9L352.1 527.6L351.8 527.9L351.1 528.8L350.9 528.9L350.1 530L350.1 530.1L349.4 531L349.1 531.5L348.8 532L348.2 533L348.1 533.1L347.6 534L347.1 535L347.1 535L346.7 536L346.3 537.1L346.1 537.8L346 538.1L345.8 539.1L345.6 540.1L345.5 541.1L345.4 542.1L345.4 543.1L345.4 544.2L345.5 545.2L345.7 546.2L345.8 547.2L346.1 548.2L346.1 548.4L346.4 549.2L346.7 550.2L347 551.3L347.1 551.5L347.4 552.3L347.8 553.3L348.1 554L348.2 554.3L348.6 555.3L349 556.3L349.1 556.6L349.3 557.3L349.6 558.4L349.7 559.4L349.8 560.4L349.8 561.4L349.6 562.4L349.4 563.4L349.1 564.3L349 564.5L348.6 565.5L348.1 566.2L347.9 566.5L347.1 567.4L347.1 567.5L346.1 568.3L345.9 568.5L345.2 569.1L344.4 569.5L344.2 569.7L343.2 570.1L342.3 570.5L342.2 570.6L341.2 571L340.2 571.3L339.6 571.6L339.3 571.7L338.3 572L337.3 572.3L336.3 572.6L336.3 572.6L335.3 572.8L334.3 573.1L333.3 573.4L332.8 573.6L332.4 573.7L331.4 574L330.4 574.3L329.4 574.6L329.4 574.6L328.4 574.9L327.4 575.2L326.5 575.6L326.4 575.6L325.5 576L324.5 576.4L324 576.6L323.5 576.9L322.5 577.4L322.1 577.6L321.5 578L320.5 578.6L320.5 578.7L319.6 579.4L319.2 579.7L318.6 580.2L318 580.7L317.6 581.1L317 581.7L316.6 582.2L316.2 582.7L315.6 583.4L315.4 583.7L314.7 584.7L314.6 584.8L314 585.8L313.7 586.5L313.5 586.8L313 587.8L312.7 588.4L312.5 588.8L312.1 589.8L311.7 590.8L311.7 590.9L311.3 591.8L311 592.9L310.8 593.9L310.7 594.1L310.5 594.9L310.3 595.9L310.1 596.9L309.9 597.9L309.7 598.9L309.7 599L309.6 600L309.4 601L309.3 602L309.2 603L309.1 604L309 605L308.9 606L308.8 607.1L308.8 608.1L308.7 608.8L308.7 609.1L308.7 610.1L308.6 611.1L308.5 612.1L308.5 613.1L308.5 614.2L308.4 615.2L308.4 616.2L308.4 617.2L308.4 618.2L308.4 619.2L308.4 620.2L308.4 621.3L308.5 622.3L308.5 623.3L308.6 624.3L308.6 625.3L308.7 626.3L308.7 626.5L308.8 627.3L308.9 628.4L309 629.4L309.1 630.4L309.3 631.4L309.5 632.4L309.7 633.4L309.7 633.5L309.9 634.4L310.2 635.5L310.4 636.5L310.7 637.3L310.8 637.5L311.1 638.5L311.5 639.5L311.7 639.9L312 640.5L312.5 641.5L312.7 641.9L313 642.6L313.7 643.6L313.7 643.6L314.4 644.6L314.6 644.9L315.2 645.6L315.6 646L316.2 646.6L316.6 647L317.4 647.6L317.6 647.8L318.6 648.5L318.8 648.6L319.6 649.1L320.5 649.7L320.6 649.7L321.5 650.2L322.5 650.7L322.5 650.7L323.5 651.2L324.5 651.7L324.5 651.7L325.5 652.3L326.1 652.7L326.5 653L327.4 653.7L327.4 653.8L328.4 654.7L328.5 654.7L329.4 655.7L329.4 655.7L330.3 656.8L330.4 656.9L331.1 657.8L331.4 658.1L331.9 658.8L332.4 659.3L332.7 659.8L333.3 660.5L333.6 660.8L334.3 661.7L334.5 661.8L335.3 662.8L335.4 662.8L336.3 663.8L336.4 663.9L337.3 664.7L337.5 664.9L338.3 665.6L338.6 665.9L339.3 666.4L340 666.9L340.2 667.1L341.2 667.8L341.5 667.9L342.2 668.4L343.2 668.9L343.2 668.9L344.2 669.4L345.2 669.9L345.3 669.9L346.1 670.3L347.1 670.7L348.1 671L348.1 671L349.1 671.3L350.1 671.5L351.1 671.7L352.1 671.9L352.5 672ZM390.5 552.8L389.6 552.3L389.5 552.2L388.6 551.3L388.5 551.1L388 550.2L387.7 549.2L387.6 548.2L387.8 547.2L388.1 546.2L388.5 545.5L388.7 545.2L389.5 544.5L390.1 544.2L390.5 544L391.4 543.9L392.4 544L392.9 544.2L393.4 544.4L394.4 544.9L394.7 545.2L395.4 545.7L395.9 546.2L396.4 546.8L396.6 547.2L397.1 548.2L397.2 549.2L397 550.2L396.4 551.3L396.4 551.4L395.4 552.3L395.4 552.3L394.4 552.8L393.4 553.2L392.4 553.3L391.4 553.1L390.5 552.8M355 669L356 669.1L357 669.1L358 669.2L358.9 669.2L359.9 669.2L360.9 669.2L361.9 669.2L362.9 669.1L363.9 669.1L364.9 669L365.7 668.9L365.8 668.9L366.8 668.9L367.8 668.8L368.8 668.7L369.8 668.6L370.8 668.5L371.7 668.4L372.7 668.3L373.7 668.3L374.7 668.2L375.7 668.1L376.7 668L377.6 667.9L377.7 667.9L378.6 667.8L379.6 667.8L380.6 667.7L381.6 667.6L382.6 667.5L383.6 667.4L384.5 667.3L385.5 667.2L386.5 667L387.4 666.9L387.5 666.9L388.5 666.7L389.5 666.6L390.5 666.3L391.4 666.1L392.3 665.9L392.4 665.9L393.4 665.6L394.4 665.4L395.4 665.1L395.9 664.9L396.4 664.8L397.3 664.4L398.3 664.1L399 663.9L399.3 663.8L400.3 663.4L401.3 663.1L401.8 662.8L402.3 662.7L403.3 662.3L404.2 661.9L404.4 661.8L405.2 661.5L406.2 661.1L406.8 660.8L407.2 660.6L408.2 660.2L409 659.8L409.2 659.7L410.1 659.3L411.1 658.8L411.1 658.8L412.1 658.3L413.1 657.8L413.1 657.8L414.1 657.3L415.1 656.8L415.1 656.8L416.1 656.3L417 655.7L417 655.7L418 655.2L419 654.7L419 654.7L420 654.2L421 653.7L421 653.7L422 653.3L422.9 652.8L423.3 652.7L423.9 652.4L424.9 652L425.7 651.7L425.9 651.6L426.9 651.2L427.9 650.9L428.4 650.7L428.9 650.5L429.8 650.1L430.8 649.8L431.2 649.7L431.8 649.4L432.8 649L433.8 648.7L433.8 648.6L434.8 648.3L435.7 647.8L436.2 647.6L436.7 647.4L437.7 646.9L438.2 646.6L438.7 646.3L439.7 645.7L439.8 645.6L440.7 644.9L441.1 644.6L441.7 644L442 643.6L442.6 642.6L442.7 642.6L443.1 641.5L443.4 640.5L443.4 639.5L443.3 638.5L443 637.5L442.6 636.5L442.6 636.5L442.1 635.5L441.7 634.7L441.5 634.4L440.8 633.4L440.7 633.2L440.2 632.4L439.7 631.6L439.5 631.4L439 630.4L438.7 629.8L438.5 629.4L438.1 628.4L437.9 627.3L437.7 626.3L437.7 626.2L437.7 625.3L437.7 624.3L437.7 624.3L437.8 623.3L438 622.3L438.2 621.3L438.5 620.2L438.7 619.5L438.8 619.2L439 618.2L439.3 617.2L439.6 616.2L439.7 615.8L439.8 615.2L440 614.2L440.2 613.1L440.3 612.1L440.4 611.1L440.5 610.1L440.5 609.1L440.4 608.1L440.2 607.1L440 606L439.7 605L439.7 604.8L439.4 604L438.9 603L438.7 602.5L438.4 602L437.8 601L437.7 600.9L437.1 600L436.7 599.5L436.2 598.9L435.7 598.4L435.2 597.9L434.8 597.5L434.1 596.9L433.8 596.7L432.8 596L432.7 595.9L431.8 595.3L431 594.9L430.8 594.8L429.8 594.3L428.9 594L428.6 593.9L427.9 593.6L426.9 593.4L425.9 593.1L424.9 593L424.2 592.9L423.9 592.8L422.9 592.7L422 592.6L421 592.6L420 592.5L419 592.5L418 592.4L417 592.3L416.1 592.2L415.1 592.1L414.1 591.9L413.5 591.8L413.1 591.7L412.1 591.5L411.1 591.1L410.2 590.8L410.1 590.8L409.2 590.3L408.2 589.8L408.1 589.8L407.2 589.2L406.6 588.8L406.2 588.5L405.4 587.8L405.2 587.5L404.7 586.8L404.6 585.8L405 584.7L405.2 584.4L405.7 583.7L406.2 583.2L406.6 582.7L407.2 582.2L407.6 581.7L408.2 581.1L408.6 580.7L409.2 580L409.4 579.7L410.1 578.8L410.2 578.7L410.9 577.6L411.1 577.3L411.5 576.6L412.1 575.6L412.1 575.5L412.5 574.6L412.9 573.6L413.1 572.7L413.1 572.6L413.3 571.6L413.4 570.5L413.4 569.5L413.3 568.5L413.2 567.5L413.1 567.3L412.9 566.5L412.5 565.5L412.1 564.8L411.9 564.5L411.1 563.5L411.1 563.4L410.1 562.5L410 562.4L409.2 561.9L408.2 561.5L407.8 561.4L407.2 561.2L406.2 561.1L405.2 561.2L404.2 561.3L403.7 561.4L403.3 561.5L402.3 561.8L401.3 562.1L400.5 562.4L400.3 562.5L399.3 562.9L398.3 563.3L397.9 563.4L397.3 563.7L396.4 564L395.4 564.3L394.4 564.5L394.4 564.5L393.4 564.6L392.4 564.6L391.4 564.5L391.3 564.5L390.5 564.3L389.5 563.9L388.5 563.5L388.3 563.4L387.5 563L386.5 562.4L386.5 562.4L385.5 561.8L385 561.4L384.5 561.1L383.7 560.4L383.6 560.3L382.6 559.5L382.4 559.4L381.6 558.8L381.1 558.4L380.6 558L379.9 557.3L379.6 557.1L378.7 556.3L378.6 556.3L377.7 555.4L377.5 555.3L376.7 554.5L376.4 554.3L375.7 553.4L375.5 553.3L374.8 552.3L374.7 552.1L374.3 551.3L373.9 550.2L373.8 549.2L373.7 548.2L373.8 547.2L373.9 546.2L374 545.2L374.2 544.2L374.4 543.1L374.5 542.1L374.6 541.1L374.6 540.1L374.6 539.1L374.6 538.1L374.4 537.1L374.2 536L373.8 535L373.7 534.8L373.3 534L372.7 533L372.7 533L371.9 532L371.7 531.8L370.8 531L370.8 530.9L369.8 530.2L369.3 530L368.8 529.7L367.8 529.3L366.8 529.1L365.8 529L364.9 529L363.9 529.1L362.9 529.3L361.9 529.6L361.1 530L360.9 530.1L359.9 530.6L359.3 531L358.9 531.2L358 532L358 532L357 532.9L356.9 533L356 534L356 534L355.3 535L355 535.4L354.6 536L354.1 537.1L354 537.3L353.7 538.1L353.4 539.1L353.1 540.1L353 540.8L353 541.1L352.9 542.1L353 543.1L353 543.6L353.1 544.2L353.4 545.2L353.7 546.2L354 547L354.1 547.2L354.7 548.2L355 548.8L355.3 549.2L356 550.2L356 550.2L356.8 551.3L357 551.5L357.7 552.3L358 552.7L358.4 553.3L358.9 554.1L359.1 554.3L359.6 555.3L359.9 556.2L360 556.3L360.1 557.3L360.2 558.4L360.1 559.4L359.9 560.4L359.9 560.4L359.7 561.4L359.5 562.4L359.2 563.4L358.9 564.3L358.9 564.5L358.6 565.5L358.3 566.5L358 567.5L358 567.8L357.8 568.5L357.5 569.5L357.2 570.5L357 571.5L357 571.6L356.7 572.6L356.5 573.6L356.2 574.6L356 575.6L356 575.7L355.8 576.6L355.5 577.6L355.1 578.7L355 579L354.6 579.7L354 580.5L353.7 580.7L353 581.1L352.1 581.3L351.1 581.3L350.1 581.3L349.1 581.2L348.1 581L347.1 580.9L346.1 580.8L345.2 580.7L344.7 580.7L344.2 580.6L343.2 580.6L342.2 580.6L341.2 580.6L340.5 580.7L340.2 580.7L339.3 580.8L338.3 580.9L337.3 581L336.3 581.1L335.3 581.3L334.3 581.4L333.3 581.6L333 581.7L332.4 581.8L331.4 582L330.4 582.3L329.4 582.6L328.9 582.7L328.4 582.9L327.4 583.2L326.5 583.6L326.2 583.7L325.5 584.1L324.5 584.6L324.2 584.7L323.5 585.2L322.7 585.8L322.5 585.9L321.5 586.7L321.5 586.8L320.5 587.7L320.4 587.8L319.6 588.8L319.6 588.8L318.8 589.8L318.6 590.2L318.2 590.8L317.6 591.8L317.6 591.8L317.1 592.9L316.6 593.9L316.6 593.9L316.2 594.9L315.8 595.9L315.6 596.6L315.5 596.9L315.2 597.9L315 598.9L314.7 600L314.6 600.4L314.5 601L314.3 602L314.2 603L314 604L313.9 605L313.7 606L313.7 606.7L313.6 607.1L313.5 608.1L313.4 609.1L313.3 610.1L313.3 611.1L313.2 612.1L313.1 613.1L313.1 614.2L313.1 615.2L313.1 616.2L313.1 617.2L313.1 618.2L313.1 619.2L313.2 620.2L313.2 621.3L313.3 622.3L313.4 623.3L313.5 624.3L313.6 625.3L313.7 625.8L313.7 626.3L313.9 627.3L314.1 628.4L314.3 629.4L314.5 630.4L314.6 630.9L314.8 631.4L315.1 632.4L315.4 633.4L315.6 634L315.8 634.4L316.3 635.5L316.6 636.2L316.8 636.5L317.3 637.5L317.6 637.9L318 638.5L318.6 639.2L318.8 639.5L319.6 640.3L319.8 640.5L320.5 641.3L320.9 641.5L321.5 642L322.2 642.6L322.5 642.7L323.5 643.4L323.8 643.6L324.5 644L325.4 644.6L325.5 644.7L326.5 645.4L326.7 645.6L327.4 646.2L327.9 646.6L328.4 647.1L328.9 647.6L329.4 648.3L329.7 648.6L330.4 649.6L330.4 649.7L331.1 650.7L331.4 651.1L331.7 651.7L332.4 652.7L332.4 652.7L333 653.7L333.3 654.3L333.6 654.7L334.3 655.7L334.3 655.8L334.9 656.8L335.3 657.3L335.7 657.8L336.3 658.6L336.4 658.8L337.3 659.8L337.3 659.8L338.2 660.8L338.3 660.9L339.2 661.8L339.3 661.9L340.2 662.8L340.3 662.8L341.2 663.6L341.6 663.9L342.2 664.3L343 664.9L343.2 665L344.2 665.6L344.7 665.9L345.2 666.1L346.1 666.6L346.9 666.9L347.1 667L348.1 667.4L349.1 667.7L349.7 667.9L350.1 668L351.1 668.3L352.1 668.5L353 668.7L354 668.8L354.8 668.9ZM358 666.9L358.9 667L359.9 667L360.9 667L361.9 667L362.9 666.9L362.9 666.9L363.9 666.9L364.9 666.8L365.8 666.7L366.8 666.6L367.8 666.5L368.8 666.4L369.8 666.3L370.8 666.2L371.7 666.1L372.7 666L373.7 665.9L373.8 665.9L374.7 665.8L375.7 665.7L376.7 665.6L377.7 665.5L378.6 665.4L379.6 665.3L380.6 665.1L381.6 665L382.6 664.9L382.6 664.9L383.6 664.8L384.5 664.6L385.5 664.5L386.5 664.3L387.5 664.1L388.5 663.9L388.6 663.9L389.5 663.7L390.5 663.4L391.4 663.2L392.4 662.9L392.7 662.8L393.4 662.6L394.4 662.3L395.4 662L395.9 661.8L396.4 661.7L397.3 661.3L398.3 661L398.7 660.8L399.3 660.6L400.3 660.2L401.3 659.8L401.3 659.8L402.3 659.4L403.3 659L403.6 658.8L404.2 658.5L405.2 658.1L405.8 657.8L406.2 657.6L407.2 657.1L407.9 656.8L408.2 656.6L409.2 656.1L409.7 655.7L410.1 655.5L411.1 655L411.5 654.7L412.1 654.4L413.1 653.8L413.2 653.7L414.1 653.2L414.8 652.7L415.1 652.5L416.1 651.9L416.4 651.7L417 651.3L417.9 650.7L418 650.6L419 649.9L419.4 649.7L420 649.2L420.9 648.6L421 648.6L422 647.9L422.3 647.6L422.9 647.2L423.7 646.6L423.9 646.4L424.9 645.7L425 645.6L425.9 644.9L426.2 644.6L426.9 644L427.3 643.6L427.9 643L428.3 642.6L428.9 641.8L429 641.5L429.6 640.5L429.8 639.9L430 639.5L430.2 638.5L430.3 637.5L430.3 636.5L430.2 635.5L430 634.4L429.8 633.7L429.8 633.4L429.6 632.4L429.4 631.4L429.2 630.4L429.1 629.4L429 628.4L429 627.3L429.1 626.3L429.3 625.3L429.6 624.3L429.8 623.6L429.9 623.3L430.4 622.3L430.8 621.3L430.9 621.3L431.4 620.2L431.8 619.4L431.9 619.2L432.4 618.2L432.8 617.2L432.8 617.2L433.2 616.2L433.6 615.2L433.8 614.5L433.9 614.2L434.1 613.1L434.2 612.1L434.3 611.1L434.3 610.1L434.2 609.1L434 608.1L433.8 607.1L433.8 607.1L433.4 606L432.9 605L432.8 604.8L432.3 604L431.8 603.4L431.5 603L430.8 602.3L430.5 602L429.8 601.4L429.2 601L428.9 600.7L427.9 600.2L427.4 600L426.9 599.7L425.9 599.3L424.9 599.1L424.4 598.9L423.9 598.8L422.9 598.7L422 598.6L421 598.5L420 598.5L419 598.5L418 598.4L417 598.4L416.1 598.4L415.1 598.4L414.1 598.3L413.1 598.2L412.1 598.1L411.2 597.9L411.1 597.9L410.1 597.7L409.2 597.5L408.2 597.2L407.2 597L406.9 596.9L406.2 596.7L405.2 596.4L404.2 596.2L403.3 595.9L403.2 595.9L402.3 595.6L401.3 595.4L400.3 595.2L399.3 595L398.5 594.9L398.3 594.9L397.3 594.7L396.4 594.5L395.4 594.4L394.4 594.3L393.4 594.1L392.4 594L391.5 593.9L391.4 593.9L390.5 593.7L389.5 593.5L388.5 593.4L387.5 593.2L386.5 593L385.7 592.9L385.5 592.8L384.5 592.6L383.6 592.4L382.6 592.2L381.6 591.9L381.1 591.8L380.6 591.7L379.6 591.5L378.6 591.3L377.7 591.1L376.7 591L375.7 590.9L374.7 590.9L373.7 591L372.7 591.2L371.7 591.6L371.1 591.8L370.8 592L369.8 592.5L369.2 592.9L368.8 593.1L367.8 593.7L367.6 593.9L366.8 594.4L366.2 594.9L365.8 595.2L364.9 595.9L364.9 596L363.9 596.8L363.7 596.9L362.9 597.6L362.6 597.9L361.9 598.5L361.4 598.9L360.9 599.4L360.4 600L359.9 600.4L359.3 601L358.9 601.3L358.2 602L358 602.3L357.2 603L357 603.2L356 604L356 604L355 604.8L354.7 605L354 605.5L353 606L353 606L352.1 606.4L351.1 606.6L350.1 606.6L349.1 606.3L348.8 606L348.1 605.4L347.9 605L347.3 604L347.1 603.5L346.9 603L346.6 602L346.3 601L346.1 600.7L345.9 600L345.5 598.9L345.2 598L345.1 597.9L344.6 596.9L344.2 596.1L344.1 595.9L343.4 594.9L343.2 594.6L342.6 593.9L342.2 593.5L341.5 592.9L341.2 592.6L340.2 591.9L340.2 591.8L339.3 591.3L338.3 590.8L338.3 590.8L337.3 590.5L336.3 590.2L335.3 590L334.3 589.8L333.9 589.8L333.3 589.8L332.4 589.8L331.4 589.8L331.4 589.8L330.4 589.9L329.4 590.1L328.4 590.4L327.4 590.7L327.2 590.8L326.5 591.2L325.5 591.7L325.3 591.8L324.5 592.5L324 592.9L323.5 593.3L323 593.9L322.5 594.4L322.1 594.9L321.5 595.8L321.4 595.9L320.8 596.9L320.5 597.5L320.3 597.9L319.9 598.9L319.6 599.7L319.5 600L319.1 601L318.8 602L318.6 602.7L318.5 603L318.3 604L318 605L317.8 606L317.7 607.1L317.6 607.5L317.5 608.1L317.4 609.1L317.3 610.1L317.2 611.1L317.1 612.1L317 613.1L317 614.2L317 615.2L317 616.2L317 617.2L317.1 618.2L317.1 619.2L317.2 620.2L317.3 621.3L317.5 622.3L317.6 623L317.6 623.3L317.8 624.3L318 625.3L318.3 626.3L318.6 627.3L318.6 627.4L318.9 628.4L319.3 629.4L319.6 630.1L319.7 630.4L320.2 631.4L320.5 632L320.8 632.4L321.5 633.4L321.5 633.5L322.3 634.4L322.5 634.6L323.3 635.5L323.5 635.6L324.5 636.4L324.5 636.5L325.5 637.2L325.8 637.5L326.5 638L327.1 638.5L327.4 638.8L328.2 639.5L328.4 639.7L329.1 640.5L329.4 640.8L329.9 641.5L330.4 642.3L330.5 642.6L331.1 643.6L331.4 644.1L331.6 644.6L332 645.6L332.4 646.3L332.5 646.6L332.9 647.6L333.3 648.5L333.4 648.6L333.8 649.7L334.3 650.6L334.3 650.7L334.8 651.7L335.3 652.6L335.4 652.7L335.9 653.7L336.3 654.4L336.5 654.7L337.2 655.7L337.3 655.9L337.9 656.8L338.3 657.3L338.6 657.8L339.3 658.5L339.5 658.8L340.2 659.6L340.5 659.8L341.2 660.5L341.5 660.8L342.2 661.4L342.8 661.8L343.2 662.2L344.2 662.8L344.2 662.8L345.2 663.5L345.9 663.9L346.1 664L347.1 664.5L348 664.9L348.1 664.9L349.1 665.3L350.1 665.6L351 665.9L351.1 665.9L352.1 666.2L353 666.4L354 666.6L355 666.7L356 666.8L357 666.9L357.3 666.9ZM371.7 581.8L372.7 582L373.7 582.1L374.7 581.9L375.4 581.7L375.7 581.6L376.7 581.1L377.4 580.7L377.7 580.5L378.6 579.8L378.8 579.7L379.6 578.9L379.9 578.7L380.6 577.8L380.8 577.6L381.5 576.6L381.6 576.4L382 575.6L382.4 574.6L382.5 573.6L382.5 572.6L382.4 571.6L382 570.5L381.6 569.7L381.5 569.5L380.8 568.5L380.6 568.2L380 567.5L379.6 567.1L378.9 566.5L378.6 566.2L377.7 565.5L377.6 565.5L376.7 564.9L375.7 564.5L375.7 564.4L374.7 564.1L373.7 563.9L372.7 563.8L371.7 563.9L370.8 564.1L370 564.5L369.8 564.6L368.8 565.2L368.5 565.5L367.8 566.2L367.6 566.5L366.9 567.5L366.8 567.7L366.4 568.5L366.1 569.5L365.8 570.4L365.8 570.5L365.7 571.6L365.6 572.6L365.7 573.6L365.8 574.5L365.9 574.6L366.1 575.6L366.5 576.6L366.8 577.3L367 577.6L367.7 578.7L367.8 578.8L368.5 579.7L368.8 579.9L369.7 580.7L369.8 580.8L370.8 581.4L371.5 581.7ZM353 664L354 664.2L355 664.4L356 664.5L357 664.6L358 664.7L358.9 664.7L359.9 664.8L360.9 664.8L361.9 664.7L362.9 664.7L363.9 664.6L364.9 664.6L365.8 664.5L366.8 664.4L367.8 664.3L368.8 664.2L369.8 664.1L370.8 663.9L371.3 663.9L371.7 663.8L372.7 663.7L373.7 663.6L374.7 663.4L375.7 663.3L376.7 663.2L377.7 663L378.6 662.9L378.7 662.8L379.6 662.7L380.6 662.6L381.6 662.4L382.6 662.2L383.6 662L384.5 661.8L384.6 661.8L385.5 661.7L386.5 661.4L387.5 661.2L388.5 661L389 660.8L389.5 660.7L390.5 660.4L391.4 660.1L392.4 659.8L392.5 659.8L393.4 659.5L394.4 659.2L395.4 658.8L395.4 658.8L396.4 658.4L397.3 658L397.9 657.8L398.3 657.6L399.3 657.2L400.3 656.8L400.3 656.7L401.3 656.3L402.3 655.8L402.4 655.7L403.3 655.3L404.2 654.8L404.3 654.7L405.2 654.2L406.1 653.7L406.2 653.7L407.2 653.1L407.8 652.7L408.2 652.5L409.2 651.8L409.3 651.7L410.1 651.1L410.7 650.7L411.1 650.4L412.1 649.7L412.1 649.6L413.1 648.8L413.3 648.6L414.1 647.9L414.4 647.6L415.1 647L415.5 646.6L416.1 646L416.4 645.6L417 644.9L417.3 644.6L418 643.6L418.1 643.6L418.7 642.6L419 642.1L419.3 641.5L419.8 640.5L420 639.9L420.1 639.5L420.4 638.5L420.5 637.5L420.6 636.5L420.6 635.5L420.5 634.4L420.3 633.4L420.1 632.4L420 631.9L419.9 631.4L419.6 630.4L419.3 629.4L419 628.6L418.9 628.4L418.6 627.3L418.4 626.3L418.1 625.3L418 624.6L418 624.3L417.9 623.3L417.9 622.3L418 621.6L418.1 621.3L418.4 620.2L418.8 619.2L419 618.7L419.3 618.2L419.9 617.2L420 617.1L420.6 616.2L421 615.5L421.2 615.2L421.8 614.2L422 613.7L422.2 613.1L422.4 612.1L422.4 611.1L422 610.1L422 610L421.2 609.1L421 608.9L420 608.3L419.4 608.1L419 607.9L418 607.6L417 607.4L416.1 607.1L415.9 607.1L415.1 606.9L414.1 606.6L413.1 606.3L412.4 606L412.1 606L411.1 605.6L410.1 605.2L409.8 605L409.2 604.8L408.2 604.3L407.5 604L407.2 603.9L406.2 603.4L405.2 603L405.2 603L404.2 602.6L403.3 602.1L402.8 602L402.3 601.8L401.3 601.4L400.3 601L400.1 601L399.3 600.7L398.3 600.4L397.3 600.2L396.4 600L396.4 599.9L395.4 599.7L394.4 599.5L393.4 599.3L392.4 599.1L391.4 599L391.3 598.9L390.5 598.8L389.5 598.7L388.5 598.5L387.5 598.4L386.5 598.3L385.5 598.1L384.5 598L383.6 598L383.1 597.9L382.6 597.9L381.6 597.8L380.6 597.8L379.6 597.8L378.6 597.8L377.7 597.8L376.8 597.9L376.7 597.9L375.7 598.1L374.7 598.3L373.7 598.5L372.7 598.8L372.4 598.9L371.7 599.2L370.8 599.6L370.1 600L369.8 600.1L368.8 600.7L368.4 601L367.8 601.3L366.9 602L366.8 602.1L365.8 602.9L365.7 603L364.9 603.8L364.6 604L363.9 604.7L363.5 605L362.9 605.7L362.5 606L361.9 606.7L361.5 607.1L360.9 607.7L360.5 608.1L359.9 608.6L359.5 609.1L358.9 609.6L358.4 610.1L358 610.4L357.2 611.1L357 611.3L356 612L355.8 612.1L355 612.7L354.3 613.1L354 613.3L353 613.9L352.6 614.2L352.1 614.5L351.1 615L350.8 615.2L350.1 615.5L349.1 616.1L348.8 616.2L348.1 616.5L347.1 617L346.7 617.2L346.1 617.5L345.2 617.9L344.5 618.2L344.2 618.4L343.2 618.8L342.2 619.2L342.2 619.2L341.2 619.6L340.2 619.9L339.3 620.1L338.3 620L337.3 619.3L337.3 619.2L337 618.2L336.8 617.2L336.8 616.2L336.8 615.2L336.8 614.2L336.8 613.1L336.7 612.1L336.7 611.1L336.6 610.1L336.4 609.1L336.3 608.4L336.2 608.1L336 607.1L335.6 606L335.3 605.4L335.1 605L334.5 604L334.3 603.8L333.6 603L333.3 602.8L332.4 602.1L332 602L331.4 601.7L330.4 601.6L329.4 601.6L328.4 601.8L328.1 602L327.4 602.4L326.6 603L326.5 603.1L325.7 604L325.5 604.3L325 605L324.5 606L324.5 606L324.1 607.1L323.7 608.1L323.5 608.8L323.4 609.1L323.2 610.1L323.1 611.1L323 612.1L322.9 613.1L322.9 614.2L323 615.2L323.1 616.2L323.2 617.2L323.4 618.2L323.5 618.6L323.7 619.2L324.1 620.2L324.5 621.3L324.5 621.3L325.1 622.3L325.5 622.9L325.8 623.3L326.5 623.9L326.9 624.3L327.4 624.7L328.4 625.2L328.7 625.3L329.4 625.6L330.4 625.9L331.4 626.3L331.4 626.3L332.4 627.1L332.5 627.3L332.9 628.4L333.2 629.4L333.3 630.4L333.3 630.7L333.4 631.4L333.5 632.4L333.5 633.4L333.6 634.4L333.7 635.5L333.8 636.5L333.9 637.5L334 638.5L334.2 639.5L334.3 640.5L334.3 640.5L334.5 641.5L334.7 642.6L334.9 643.6L335.1 644.6L335.3 645.2L335.4 645.6L335.7 646.6L336 647.6L336.3 648.5L336.4 648.6L336.7 649.7L337.2 650.7L337.3 650.9L337.6 651.7L338.2 652.7L338.3 652.9L338.7 653.7L339.3 654.5L339.4 654.7L340.1 655.7L340.2 655.9L340.9 656.8L341.2 657.1L341.8 657.8L342.2 658.2L342.8 658.8L343.2 659.1L344 659.8L344.2 659.9L345.2 660.7L345.4 660.8L346.1 661.3L347.1 661.8L347.1 661.9L348.1 662.4L349.1 662.8L349.2 662.8L350.1 663.2L351.1 663.5L352.1 663.8L352.4 663.9ZM353 662L354 662.2L355 662.4L356 662.5L357 662.6L358 662.7L358.9 662.8L359.9 662.8L360.9 662.8L361.9 662.8L362.9 662.7L363.9 662.7L364.9 662.6L365.8 662.5L366.8 662.4L367.8 662.3L368.8 662.2L369.8 662.1L370.8 661.9L371.4 661.8L371.7 661.8L372.7 661.7L373.7 661.5L374.7 661.3L375.7 661.2L376.7 661L377.7 660.8L377.7 660.8L378.6 660.7L379.6 660.5L380.6 660.3L381.6 660.1L382.6 659.9L382.8 659.8L383.6 659.6L384.5 659.4L385.5 659.2L386.5 658.9L386.9 658.8L387.5 658.6L388.5 658.3L389.5 658L390.2 657.8L390.5 657.7L391.4 657.4L392.4 657L393 656.8L393.4 656.6L394.4 656.2L395.4 655.8L395.5 655.7L396.4 655.3L397.3 654.9L397.7 654.7L398.3 654.4L399.3 653.9L399.7 653.7L400.3 653.4L401.3 652.8L401.5 652.7L402.3 652.2L403.1 651.7L403.3 651.6L404.2 651L404.7 650.7L405.2 650.3L406 649.7L406.2 649.5L407.2 648.7L407.3 648.6L408.2 647.9L408.4 647.6L409.2 646.9L409.4 646.6L410.1 645.8L410.4 645.6L411.1 644.6L411.2 644.6L411.9 643.6L412.1 643.1L412.4 642.6L412.9 641.5L413.1 641.1L413.3 640.5L413.6 639.5L413.7 638.5L413.8 637.5L413.8 636.5L413.6 635.5L413.4 634.4L413.1 633.6L413 633.4L412.6 632.4L412.1 631.4L412.1 631.4L411.5 630.4L411.1 629.7L410.9 629.4L410.2 628.4L410.1 628.2L409.6 627.3L409.2 626.7L408.9 626.3L408.2 625.3L408.2 625.2L407.7 624.3L407.2 623.3L407.2 623.3L406.8 622.3L406.4 621.3L406.2 620.5L406.1 620.2L405.9 619.2L405.7 618.2L405.6 617.2L405.4 616.2L405.2 615.2L405.2 615.2L405 614.2L404.6 613.1L404.2 612.2L404.2 612.1L403.7 611.1L403.3 610.5L403 610.1L402.3 609.3L402.1 609.1L401.3 608.3L401 608.1L400.3 607.5L399.7 607.1L399.3 606.8L398.3 606.2L398.1 606L397.3 605.7L396.4 605.2L396 605L395.4 604.8L394.4 604.4L393.4 604.1L393.3 604L392.4 603.8L391.4 603.5L390.5 603.3L389.5 603L389.2 603L388.5 602.9L387.5 602.7L386.5 602.6L385.5 602.4L384.5 602.3L383.6 602.3L382.6 602.2L381.6 602.2L380.6 602.2L379.6 602.3L378.6 602.4L377.7 602.5L376.7 602.7L375.7 602.9L375.3 603L374.7 603.2L373.7 603.5L372.7 603.9L372.5 604L371.7 604.4L370.8 604.9L370.6 605L369.8 605.5L369 606L368.8 606.2L367.8 607L367.7 607.1L366.8 607.8L366.5 608.1L365.8 608.6L365.3 609.1L364.9 609.5L364.2 610.1L363.9 610.4L363 611.1L362.9 611.2L361.9 612.1L361.8 612.1L360.9 612.8L360.5 613.1L359.9 613.6L359.1 614.2L358.9 614.3L358 614.9L357.6 615.2L357 615.6L356 616.2L356 616.2L355 616.7L354.3 617.2L354 617.3L353 617.9L352.5 618.2L352.1 618.5L351.1 619L350.8 619.2L350.1 619.6L349.1 620.2L349.1 620.3L348.1 620.9L347.6 621.3L347.1 621.6L346.2 622.3L346.1 622.3L345.2 623.1L344.9 623.3L344.2 624L343.8 624.3L343.2 624.9L342.8 625.3L342.2 626L341.9 626.3L341.2 627.2L341.1 627.3L340.4 628.4L340.2 628.6L339.8 629.4L339.3 630.4L339.3 630.5L338.8 631.4L338.4 632.4L338.3 633L338.1 633.4L337.8 634.4L337.6 635.5L337.5 636.5L337.4 637.5L337.3 638.5L337.3 638.5L337.2 639.5L337.3 640.5L337.3 641.2L337.3 641.5L337.4 642.6L337.5 643.6L337.6 644.6L337.8 645.6L338.1 646.6L338.3 647.2L338.4 647.6L338.7 648.6L339.1 649.7L339.3 650L339.5 650.7L340 651.7L340.2 652.1L340.6 652.7L341.2 653.7L341.2 653.7L341.9 654.7L342.2 655.1L342.8 655.7L343.2 656.2L343.7 656.8L344.2 657.2L344.8 657.8L345.2 658.1L346.1 658.8L346.1 658.8L347.1 659.5L347.7 659.8L348.1 660L349.1 660.5L349.7 660.8L350.1 661L351.1 661.4L352.1 661.7L352.6 661.8ZM355 659.8L356 660L357 660.2L358 660.3L358.9 660.3L359.9 660.4L360.9 660.4L361.9 660.4L362.9 660.3L363.9 660.3L364.9 660.2L365.8 660.1L366.8 660L367.8 659.9L368.3 659.8L368.8 659.7L369.8 659.6L370.8 659.5L371.7 659.3L372.7 659.1L373.7 658.9L374.4 658.8L374.7 658.7L375.7 658.5L376.7 658.3L377.7 658.1L378.6 657.9L379.1 657.8L379.6 657.7L380.6 657.4L381.6 657.1L382.6 656.9L382.9 656.8L383.6 656.6L384.5 656.3L385.5 655.9L386.1 655.7L386.5 655.6L387.5 655.3L388.5 654.9L388.8 654.7L389.5 654.5L390.5 654L391.2 653.7L391.4 653.6L392.4 653.1L393.3 652.7L393.4 652.6L394.4 652.1L395.1 651.7L395.4 651.6L396.4 651L396.8 650.7L397.3 650.3L398.3 649.7L398.3 649.7L399.3 648.9L399.7 648.6L400.3 648.1L400.9 647.6L401.3 647.3L402 646.6L402.3 646.3L402.9 645.6L403.3 645.1L403.7 644.6L404.2 643.7L404.3 643.6L404.9 642.6L405.2 641.7L405.3 641.5L405.6 640.5L405.7 639.5L405.8 638.5L405.7 637.5L405.5 636.5L405.2 635.6L405.2 635.5L404.7 634.4L404.2 633.5L404.2 633.4L403.6 632.4L403.3 631.9L402.9 631.4L402.3 630.5L402.2 630.4L401.4 629.4L401.3 629.2L400.7 628.4L400.3 627.8L399.9 627.3L399.3 626.4L399.2 626.3L398.6 625.3L398.3 624.9L398 624.3L397.4 623.3L397.3 623.1L397 622.3L396.5 621.3L396.4 620.8L396.1 620.2L395.8 619.2L395.4 618.2L395.4 618.1L395 617.2L394.6 616.2L394.4 615.7L394.2 615.2L393.6 614.2L393.4 613.9L392.9 613.1L392.4 612.6L392 612.1L391.4 611.7L390.8 611.1L390.5 610.9L389.5 610.3L389.1 610.1L388.5 609.8L387.5 609.4L386.5 609.1L386.4 609.1L385.5 608.9L384.5 608.7L383.6 608.5L382.6 608.5L381.6 608.4L380.6 608.5L379.6 608.5L378.6 608.7L377.7 608.9L376.7 609.1L376.7 609.1L375.7 609.4L374.7 609.8L373.9 610.1L373.7 610.2L372.7 610.6L371.8 611.1L371.7 611.2L370.8 611.7L370.1 612.1L369.8 612.3L368.8 612.9L368.5 613.1L367.8 613.5L366.8 614.2L366.8 614.2L365.8 614.8L365.2 615.2L364.9 615.4L363.9 615.9L363.5 616.2L362.9 616.5L361.9 617.1L361.7 617.2L360.9 617.6L359.9 618.1L359.7 618.2L358.9 618.6L358 619.1L357.8 619.2L357 619.6L356 620.2L355.9 620.2L355 620.7L354 621.3L354 621.3L353 621.8L352.3 622.3L352.1 622.4L351.1 623.1L350.7 623.3L350.1 623.7L349.3 624.3L349.1 624.5L348.1 625.3L348.1 625.3L347.1 626.2L346.9 626.3L346.1 627.1L345.9 627.3L345.2 628.2L345 628.4L344.3 629.4L344.2 629.5L343.5 630.4L343.2 631L342.9 631.4L342.4 632.4L342.2 632.8L341.9 633.4L341.5 634.4L341.2 635.3L341.2 635.5L340.9 636.5L340.6 637.5L340.5 638.5L340.4 639.5L340.3 640.5L340.3 641.5L340.3 642.6L340.4 643.6L340.5 644.6L340.7 645.6L340.9 646.6L341.2 647.6L341.2 647.7L341.6 648.6L342 649.7L342.2 650.1L342.5 650.7L343 651.7L343.2 651.9L343.7 652.7L344.2 653.3L344.5 653.7L345.2 654.5L345.4 654.7L346.1 655.5L346.5 655.7L347.1 656.3L347.7 656.8L348.1 657L349.1 657.6L349.4 657.8L350.1 658.2L351.1 658.6L351.5 658.8L352.1 659L353 659.3L354 659.6L354.9 659.8ZM356 657.8L357 658L358 658.1L358.9 658.2L359.9 658.3L360.9 658.3L361.9 658.3L362.9 658.2L363.9 658.2L364.9 658.1L365.8 658L366.8 657.9L367.5 657.8L367.8 657.7L368.8 657.6L369.8 657.4L370.8 657.3L371.7 657.1L372.7 656.9L373.2 656.8L373.7 656.7L374.7 656.4L375.7 656.2L376.7 656L377.4 655.7L377.7 655.7L378.6 655.4L379.6 655.1L380.6 654.8L380.8 654.7L381.6 654.5L382.6 654.1L383.6 653.8L383.7 653.7L384.5 653.4L385.5 652.9L386.1 652.7L386.5 652.5L387.5 652L388.2 651.7L388.5 651.5L389.5 651L390 650.7L390.5 650.4L391.4 649.8L391.6 649.7L392.4 649.1L393.1 648.6L393.4 648.4L394.3 647.6L394.4 647.6L395.4 646.7L395.4 646.6L396.4 645.6L396.4 645.6L397.2 644.6L397.3 644.3L397.8 643.6L398.3 642.6L398.4 642.6L398.7 641.5L399 640.5L399.1 639.5L399.1 638.5L398.9 637.5L398.6 636.5L398.3 635.6L398.3 635.5L397.8 634.4L397.3 633.6L397.3 633.4L396.6 632.4L396.4 632L396 631.4L395.4 630.6L395.2 630.4L394.5 629.4L394.4 629.2L393.8 628.4L393.4 627.9L393 627.3L392.4 626.6L392.2 626.3L391.5 625.3L391.4 625.2L390.7 624.3L390.5 623.9L390 623.3L389.5 622.5L389.3 622.3L388.5 621.3L388.5 621.3L387.7 620.2L387.5 620L386.8 619.2L386.5 618.9L385.7 618.2L385.5 618L384.5 617.3L384.4 617.2L383.6 616.7L382.6 616.3L382.2 616.2L381.6 616L380.6 615.8L379.6 615.6L378.6 615.6L377.7 615.6L376.7 615.7L375.7 615.9L374.7 616.1L374.2 616.2L373.7 616.3L372.7 616.5L371.7 616.8L370.8 617.2L370.7 617.2L369.8 617.5L368.8 617.8L367.8 618.2L367.8 618.2L366.8 618.6L365.8 618.9L365.1 619.2L364.9 619.3L363.9 619.7L362.9 620.1L362.6 620.2L361.9 620.5L360.9 620.9L360.1 621.3L359.9 621.3L358.9 621.8L358 622.2L357.9 622.3L357 622.7L356 623.2L355.8 623.3L355 623.7L354 624.3L354 624.3L353 624.9L352.4 625.3L352.1 625.5L351.1 626.3L351 626.3L350.1 627L349.7 627.3L349.1 627.9L348.6 628.4L348.1 628.9L347.6 629.4L347.1 630L346.8 630.4L346.1 631.3L346 631.4L345.4 632.4L345.2 632.8L344.8 633.4L344.3 634.4L344.2 634.8L343.9 635.5L343.5 636.5L343.3 637.5L343.2 637.8L343 638.5L342.9 639.5L342.7 640.5L342.7 641.5L342.7 642.6L342.8 643.6L342.9 644.6L343.1 645.6L343.2 646L343.3 646.6L343.7 647.6L344.1 648.6L344.2 648.9L344.6 649.7L345.1 650.7L345.2 650.7L345.8 651.7L346.1 652.1L346.7 652.7L347.1 653.2L347.6 653.7L348.1 654.1L348.9 654.7L349.1 654.9L350.1 655.6L350.4 655.7L351.1 656.1L352.1 656.6L352.5 656.8L353 657L354 657.3L355 657.6L355.9 657.8ZM356 653.8L357 654L358 654.2L358.9 654.4L359.9 654.5L360.9 654.5L361.9 654.5L362.9 654.5L363.9 654.4L364.9 654.4L365.8 654.2L366.8 654.1L367.8 653.9L368.8 653.8L369 653.7L369.8 653.6L370.8 653.3L371.7 653.1L372.7 652.8L373.2 652.7L373.7 652.5L374.7 652.2L375.7 651.9L376.3 651.7L376.7 651.6L377.7 651.2L378.6 650.7L378.8 650.7L379.6 650.3L380.6 649.8L380.9 649.7L381.6 649.3L382.6 648.7L382.6 648.6L383.6 648L384.1 647.6L384.5 647.3L385.3 646.6L385.5 646.4L386.3 645.6L386.5 645.4L387.2 644.6L387.5 644.2L387.9 643.6L388.4 642.6L388.5 642.4L388.8 641.5L389.1 640.5L389.2 639.5L389.2 638.5L389 637.5L388.8 636.5L388.5 635.7L388.4 635.5L387.9 634.4L387.5 633.7L387.4 633.4L386.7 632.4L386.5 632.2L385.9 631.4L385.5 630.9L385 630.4L384.5 629.9L384.1 629.4L383.6 628.9L382.9 628.4L382.6 628.1L381.6 627.3L381.6 627.3L380.6 626.7L380 626.3L379.6 626.1L378.6 625.7L377.8 625.3L377.7 625.3L376.7 624.9L375.7 624.7L374.7 624.5L373.7 624.3L373.4 624.3L372.7 624.2L371.7 624.2L370.8 624.2L369.8 624.2L368.8 624.3L368.5 624.3L367.8 624.4L366.8 624.5L365.8 624.6L364.9 624.8L363.9 625.1L362.9 625.3L362.9 625.3L361.9 625.6L360.9 625.9L359.9 626.3L359.8 626.3L358.9 626.6L358 627.1L357.4 627.3L357 627.6L356 628.1L355.5 628.4L355 628.7L354 629.3L354 629.4L353 630.1L352.7 630.4L352.1 630.9L351.6 631.4L351.1 631.9L350.6 632.4L350.1 633.1L349.8 633.4L349.1 634.4L349.1 634.5L348.5 635.5L348.1 636.3L348 636.5L347.6 637.5L347.3 638.5L347.1 639.4L347.1 639.5L347 640.5L346.9 641.5L346.9 642.6L347 643.6L347.1 644.6L347.1 644.6L347.4 645.6L347.7 646.6L348.1 647.4L348.2 647.6L348.8 648.6L349.1 649.1L349.5 649.7L350.1 650.3L350.5 650.7L351.1 651.2L351.7 651.7L352.1 652L353 652.6L353.3 652.7L354 653.1L355 653.5L355.8 653.7ZM361.9 649.7L362.9 649.7L363.9 649.7L363.9 649.7L364.9 649.6L365.8 649.4L366.8 649.2L367.8 649L368.8 648.8L369.2 648.6L369.8 648.4L370.8 648.1L371.7 647.7L371.9 647.6L372.7 647.3L373.7 646.8L374 646.6L374.7 646.2L375.6 645.6L375.7 645.5L376.7 644.7L376.8 644.6L377.7 643.7L377.8 643.6L378.5 642.6L378.6 642.3L379 641.5L379.3 640.5L379.4 639.5L379.4 638.5L379.2 637.5L378.8 636.5L378.6 636.3L378.1 635.5L377.7 634.8L377.3 634.4L376.7 633.8L376.2 633.4L375.7 633.1L374.7 632.4L374.7 632.4L373.7 631.9L372.7 631.5L372.3 631.4L371.7 631.2L370.8 631L369.8 630.8L368.8 630.6L367.8 630.6L366.8 630.5L365.8 630.6L364.9 630.7L363.9 630.8L362.9 631L361.9 631.2L361.3 631.4L360.9 631.5L359.9 631.9L358.9 632.3L358.8 632.4L358 632.9L357.1 633.4L357 633.5L356 634.3L355.8 634.4L355 635.2L354.8 635.5L354 636.5L354 636.5L353.4 637.5L353 638.2L352.9 638.5L352.6 639.5L352.4 640.5L352.3 641.5L352.4 642.6L352.5 643.6L352.9 644.6L353 644.9L353.4 645.6L354 646.4L354.2 646.6L355 647.4L355.3 647.6L356 648.1L356.9 648.6L357 648.7L358 649L358.9 649.3L359.9 649.5L360.9 649.7L361.1 649.7Z" fill="none" stroke="#5d86a5" stroke-width="2.0" stroke-linejoin="round"/>
<path d="M352 672.8L352.9 672.8L353.8 672.8L354.6 672.8L354.6 672.8L355.5 672.7L356.3 672.7L357.2 672.6L358 672.5L358.9 672.4L359.7 672.3L360.6 672.1L361.4 672L362.3 671.8L362.6 671.7L363.2 671.6L364 671.4L364.9 671.2L365.7 670.9L366.6 670.7L366.7 670.6L367.4 670.4L368.3 670.2L369.1 669.9L369.9 669.6L370 669.5L370.8 669.2L371.7 668.9L372.6 668.6L372.7 668.5L373.4 668.2L374.3 667.8L375.1 667.5L375.2 667.4L376 667.1L376.8 666.7L377.6 666.3L377.7 666.3L378.5 665.9L379.4 665.5L379.8 665.3L380.3 665.1L381.1 664.7L382 664.3L382.1 664.2L382.8 663.9L383.7 663.5L384.3 663.1L384.5 663.1L385.4 662.7L386.2 662.3L386.7 662.1L387.1 661.9L387.9 661.5L388.8 661.2L389.2 661L389.7 660.8L390.5 660.5L391.4 660.1L391.9 659.9L392.2 659.8L393.1 659.5L393.9 659.1L394.7 658.8L394.8 658.8L395.6 658.5L396.5 658.2L397.4 657.9L397.6 657.8L398.2 657.6L399.1 657.3L399.9 656.9L400.5 656.7L400.8 656.6L401.6 656.3L402.5 655.9L403.2 655.6L403.3 655.6L404.2 655.2L405 654.8L405.6 654.6L405.9 654.4L406.8 654L407.6 653.6L407.8 653.5L408.5 653.2L409.3 652.7L409.8 652.4L410.2 652.2L411 651.8L411.7 651.4L411.9 651.3L412.7 650.8L413.5 650.3L413.6 650.2L414.4 649.7L415.1 649.2L415.3 649.1L416.2 648.5L416.7 648.1L417 647.9L417.9 647.2L418.1 647.1L418.7 646.5L419.4 646L419.6 645.8L420.4 645L420.5 644.9L421.3 644.2L421.6 643.9L422.1 643.3L422.6 642.8L423 642.3L423.4 641.7L423.9 641.1L424.2 640.6L424.7 639.8L424.8 639.6L425.4 638.5L425.6 638.2L425.9 637.4L426.3 636.4L426.4 636.1L426.7 635.3L427 634.2L427.3 633.1L427.3 633.1L427.5 632.1L427.6 631L427.8 629.9L427.9 628.9L427.9 627.8L428 626.7L428 625.6L428 624.6L427.9 623.5L427.9 622.4L427.8 621.4L427.8 620.3L427.7 619.2L427.6 618.1L427.4 617.1L427.3 616.1L427.3 616L427.1 614.9L426.9 613.9L426.7 612.8L426.4 611.7L426.4 611.6L426.2 610.6L425.9 609.6L425.6 608.5L425.6 608.4L425.3 607.4L424.9 606.4L424.7 605.9L424.5 605.3L424.1 604.2L423.9 603.6L423.7 603.1L423.2 602.1L423 601.5L422.8 601L422.3 599.9L422.1 599.5L421.9 598.9L421.4 597.8L421.3 597.6L420.9 596.7L420.5 595.7L420.4 595.6L420 594.6L419.6 593.5L419.6 593.5L419.2 592.4L418.8 591.4L418.7 591.2L418.4 590.3L418.1 589.2L417.9 588.4L417.8 588.2L417.5 587.1L417.3 586L417.1 584.9L417 584.5L416.9 583.9L416.8 582.8L416.7 581.7L416.6 580.7L416.6 579.6L416.6 578.5L416.7 577.4L416.7 576.4L416.8 575.3L416.9 574.2L417 573.2L417 572.9L417.1 572.1L417.2 571L417.4 569.9L417.6 568.9L417.7 567.8L417.9 567.2L418 566.7L418.2 565.7L418.4 564.6L418.7 563.5L418.7 563.5L419 562.4L419.4 561.4L419.6 561L419.8 560.3L420.3 559.2L420.4 559L420.8 558.2L421.3 557.3L421.4 557.1L422.1 556L422.1 555.9L422.8 554.9L423 554.6L423.5 553.9L423.9 553.4L424.3 552.8L424.7 552.3L425.2 551.7L425.6 551.2L426 550.7L426.4 550.1L426.9 549.6L427.3 549.1L427.7 548.5L428.1 548L428.5 547.4L429 546.8L429.3 546.4L429.8 545.6L430 545.3L430.7 544.3L430.7 544.2L431.3 543.2L431.5 542.8L431.9 542.1L432.4 541L432.4 541L432.8 540L433.2 538.9L433.3 538.8L433.6 537.8L433.8 536.7L434 535.7L434.1 534.9L434.1 534.6L434.2 533.5L434.2 532.5L434.1 531.5L434.1 531.4L433.9 530.3L433.7 529.2L433.3 528.2L433.3 528.1L432.8 527.1L432.4 526.4L432.2 526L431.5 525.2L431.4 525L430.7 524.2L430.4 523.9L429.8 523.4L429.1 522.8L429 522.7L428.1 522.2L427.4 521.7L427.3 521.7L426.4 521.3L425.6 520.9L424.8 520.7L424.7 520.7L423.9 520.4L423 520.2L422.1 520.1L421.3 520L420.4 520L419.6 520L418.7 520L417.9 520.1L417 520.2L416.2 520.4L415.3 520.6L415 520.7L414.4 520.8L413.6 521.1L412.7 521.3L411.9 521.6L411.6 521.7L411 521.9L410.2 522.3L409.3 522.6L408.6 522.8L408.5 522.8L407.6 523.1L406.8 523.3L405.9 523.5L405 523.5L404.2 523.4L403.3 523.3L402.5 522.9L402.3 522.8L401.6 522.4L400.9 521.7L400.8 521.6L399.9 520.7L399.9 520.7L399.1 519.7L399 519.6L398.2 518.5L398.2 518.5L397.5 517.5L397.4 517.3L396.7 516.4L396.5 516L396 515.3L395.6 514.8L395.2 514.2L394.8 513.7L394.4 513.2L393.9 512.6L393.5 512.1L393.1 511.6L392.5 511L392.2 510.7L391.4 510L391.4 509.9L390.5 509.2L390.1 508.9L389.7 508.6L388.8 508.1L388.3 507.8L387.9 507.6L387.1 507.2L386.2 506.9L385.5 506.7L385.4 506.7L384.5 506.5L383.7 506.4L382.8 506.4L382 506.4L381.1 506.5L380.3 506.6L379.6 506.7L379.4 506.8L378.5 507L377.7 507.2L376.8 507.5L376 507.8L376 507.8L375.1 508.2L374.3 508.5L373.4 508.9L373.4 508.9L372.6 509.3L371.7 509.6L371 510L370.8 510L370 510.4L369.1 510.8L368.6 511L368.3 511.2L367.4 511.5L366.6 511.8L365.8 512.1L365.7 512.1L364.9 512.4L364 512.7L363.2 513L362.5 513.2L362.3 513.2L361.4 513.5L360.6 513.7L359.7 514L359 514.2L358.9 514.3L358 514.6L357.2 514.9L356.3 515.3L356.3 515.3L355.5 515.8L354.6 516.3L354.5 516.4L353.8 517L353.2 517.5L352.9 517.7L352.1 518.5L352 518.6L351.2 519.6L351.2 519.6L350.5 520.7L350.3 520.9L349.9 521.7L349.5 522.5L349.3 522.8L348.9 523.9L348.6 524.6L348.5 525L348.2 526L347.9 527.1L347.8 527.8L347.7 528.2L347.5 529.2L347.4 530.3L347.3 531.4L347.2 532.5L347.1 533.5L347.1 534.6L347.1 535.7L347.1 536.7L347.1 537.8L347.1 538.9L347.1 540L347.1 541L347.1 542.1L347.1 543.2L347.1 544.2L347.1 545.3L347 546.4L347 547.4L346.9 548L346.9 548.5L346.8 549.6L346.7 550.7L346.5 551.7L346.4 552.8L346.2 553.9L346.1 554.8L346 554.9L345.8 556L345.6 557.1L345.4 558.2L345.2 559L345.1 559.2L344.9 560.3L344.6 561.4L344.3 562.4L344.3 562.4L344 563.5L343.7 564.6L343.5 565.2L343.4 565.7L343 566.7L342.6 567.7L342.6 567.8L342.2 568.9L341.8 569.7L341.7 569.9L341.2 571L340.9 571.5L340.6 572.1L340.1 572.9L339.9 573.2L339.2 574.1L339.1 574.2L338.4 575.1L338.1 575.3L337.5 575.9L337 576.4L336.7 576.7L335.8 577.4L335.7 577.4L334.9 578L334.2 578.5L334.1 578.6L333.2 579.1L332.5 579.6L332.4 579.6L331.5 580.1L330.7 580.7L330.7 580.7L329.8 581.2L329 581.7L329 581.8L328.1 582.3L327.5 582.8L327.3 583L326.4 583.6L326.1 583.9L325.5 584.3L324.8 584.9L324.7 585L323.8 585.8L323.7 586L323 586.7L322.6 587.1L322.1 587.6L321.7 588.2L321.3 588.7L320.8 589.2L320.4 589.8L320 590.3L319.6 590.9L319.3 591.4L318.7 592.2L318.6 592.4L317.9 593.5L317.8 593.6L317.3 594.6L317 595.1L316.7 595.7L316.2 596.7L316.1 596.8L315.6 597.8L315.3 598.6L315.2 598.9L314.7 599.9L314.4 600.5L314.2 601L313.8 602.1L313.6 602.7L313.4 603.1L313 604.2L312.7 605.1L312.6 605.3L312.3 606.4L311.9 607.4L311.9 607.7L311.6 608.5L311.3 609.6L311 610.6L311 610.7L310.7 611.7L310.5 612.8L310.2 613.9L310.2 614.2L310 614.9L309.8 616L309.5 617.1L309.4 618.1L309.3 618.5L309.2 619.2L309 620.3L308.8 621.4L308.7 622.4L308.6 623.5L308.5 624.6L308.4 624.8L308.4 625.6L308.3 626.7L308.2 627.8L308.2 628.9L308.1 629.9L308.1 631L308.1 632.1L308.2 633.1L308.2 634.2L308.3 635.3L308.4 636.4L308.4 636.6L308.5 637.4L308.7 638.5L308.9 639.6L309.1 640.6L309.3 641.5L309.3 641.7L309.6 642.8L310 643.9L310.2 644.4L310.3 644.9L310.8 646L311 646.5L311.3 647.1L311.8 648.1L311.9 648.2L312.5 649.2L312.7 649.5L313.3 650.3L313.6 650.7L314.2 651.4L314.4 651.6L315.3 652.4L315.3 652.4L316.1 653.2L316.6 653.5L317 653.8L317.8 654.3L318.3 654.6L318.7 654.8L319.6 655.2L320.4 655.6L320.4 655.6L321.3 656L322.1 656.3L323 656.7L323.1 656.7L323.8 657L324.7 657.4L325.5 657.8L325.5 657.8L326.4 658.3L327.3 658.8L327.4 658.8L328.1 659.3L328.9 659.9L329 660L329.8 660.7L330.1 661L330.7 661.5L331.3 662.1L331.5 662.3L332.4 663.1L332.4 663.1L333.2 664L333.5 664.2L334.1 664.8L334.6 665.3L334.9 665.6L335.8 666.3L335.8 666.4L336.7 667.1L337.1 667.4L337.5 667.8L338.4 668.4L338.5 668.5L339.2 669L340.1 669.5L340.2 669.6L340.9 670L341.8 670.4L342.3 670.6L342.6 670.8L343.5 671.1L344.3 671.4L345.2 671.7L345.2 671.7L346.1 671.9L346.9 672.1L347.8 672.3L348.6 672.5L349.5 672.6L350.3 672.7L351.2 672.7L352 672.8ZM352.9 667.5L353.8 667.5L354.6 667.5L355.5 667.5L356.3 667.5L357.1 667.4L357.2 667.4L358 667.3L358.9 667.2L359.7 667.1L360.6 667L361.4 666.8L362.3 666.7L363.2 666.5L363.7 666.3L364 666.3L364.9 666L365.7 665.8L366.6 665.5L367.4 665.3L367.4 665.3L368.3 665L369.1 664.7L370 664.3L370.3 664.2L370.8 664L371.7 663.7L372.6 663.3L372.9 663.1L373.4 662.9L374.3 662.5L375.1 662.1L375.2 662.1L376 661.7L376.8 661.2L377.3 661L377.7 660.8L378.5 660.3L379.3 659.9L379.4 659.9L380.3 659.4L381.1 658.9L381.2 658.8L382 658.4L382.8 658L383.1 657.8L383.7 657.5L384.5 657L385 656.7L385.4 656.5L386.2 656L386.9 655.6L387.1 655.5L387.9 655.1L388.8 654.6L388.9 654.6L389.7 654.1L390.5 653.7L390.9 653.5L391.4 653.2L392.2 652.8L392.9 652.4L393.1 652.3L393.9 651.9L394.8 651.4L395 651.4L395.6 651L396.5 650.6L397 650.3L397.4 650.1L398.2 649.6L399 649.2L399.1 649.2L399.9 648.7L400.8 648.2L400.9 648.1L401.6 647.7L402.5 647.2L402.7 647.1L403.3 646.7L404.2 646.1L404.3 646L405 645.5L405.8 644.9L405.9 644.9L406.8 644.2L407.2 643.9L407.6 643.5L408.5 642.8L408.5 642.8L409.3 642L409.6 641.7L410.2 641.2L410.7 640.6L411 640.3L411.6 639.6L411.9 639.3L412.5 638.5L412.7 638.2L413.3 637.4L413.6 637L414 636.4L414.4 635.6L414.7 635.3L415.2 634.2L415.3 634.1L415.7 633.1L416.2 632.2L416.2 632.1L416.6 631L416.9 629.9L417 629.7L417.3 628.9L417.5 627.8L417.7 626.7L417.9 626L417.9 625.6L418.1 624.6L418.2 623.5L418.3 622.4L418.3 621.4L418.3 620.3L418.3 619.2L418.3 618.1L418.2 617.1L418.1 616L418 614.9L417.9 614.2L417.8 613.9L417.6 612.8L417.4 611.7L417.2 610.6L417 610L416.9 609.6L416.6 608.5L416.3 607.4L416.2 607.2L415.9 606.4L415.5 605.3L415.3 604.8L415.1 604.2L414.6 603.1L414.4 602.8L414.1 602.1L413.6 601L413.6 601L413 599.9L412.7 599.4L412.4 598.9L411.9 597.9L411.8 597.8L411.2 596.7L411 596.5L410.5 595.7L410.2 595.2L409.8 594.6L409.3 593.9L409 593.5L408.5 592.8L408.2 592.4L407.6 591.6L407.4 591.4L406.8 590.6L406.5 590.3L405.9 589.6L405.6 589.2L405 588.6L404.6 588.2L404.2 587.7L403.6 587.1L403.3 586.8L402.5 586L402.5 586L401.6 585.3L401.2 584.9L400.8 584.6L399.9 584L399.6 583.9L399.1 583.5L398.2 583.1L397.5 582.8L397.4 582.7L396.5 582.4L395.6 582.2L394.8 582L393.9 581.9L393.1 581.8L392.2 581.8L391.4 581.8L390.5 581.9L389.7 582L388.8 582.2L387.9 582.3L387.1 582.6L386.3 582.8L386.2 582.8L385.4 583.1L384.5 583.3L383.7 583.6L383 583.9L382.8 583.9L382 584.2L381.1 584.5L380.3 584.7L379.5 584.9L379.4 585L378.5 585.2L377.7 585.3L376.8 585.5L376 585.6L375.1 585.6L374.3 585.7L373.4 585.6L372.6 585.5L371.7 585.4L370.8 585.2L370.1 584.9L370 584.9L369.1 584.5L368.3 584L368 583.9L367.4 583.4L366.7 582.8L366.6 582.6L365.8 581.7L365.7 581.6L365.1 580.7L364.9 580.2L364.5 579.6L364.1 578.5L364 578.2L363.7 577.4L363.5 576.4L363.3 575.3L363.2 574.2L363.2 573.7L363.1 573.2L363.1 572.1L363.2 571L363.2 571L363.2 569.9L363.4 568.9L363.5 567.8L363.7 566.7L364 565.7L364 565.5L364.2 564.6L364.5 563.5L364.9 562.4L364.9 562.4L365.2 561.4L365.6 560.3L365.7 560L366 559.2L366.4 558.2L366.6 557.8L366.9 557.1L367.4 556L367.4 555.9L367.9 554.9L368.3 554.3L368.5 553.9L369.1 552.8L369.2 552.8L369.9 551.7L370 551.6L370.7 550.7L370.8 550.5L371.6 549.6L371.7 549.5L372.6 548.7L372.7 548.5L373.4 548L374.1 547.4L374.3 547.4L375.1 546.8L376 546.4L376 546.4L376.8 546L377.7 545.7L378.5 545.3L378.6 545.3L379.4 545L380.3 544.7L381.1 544.3L381.3 544.2L382 543.9L382.8 543.4L383.2 543.2L383.7 542.9L384.5 542.2L384.6 542.1L385.4 541.4L385.7 541L386.2 540.4L386.6 540L387.1 539.1L387.2 538.9L387.8 537.8L387.9 537.5L388.2 536.7L388.6 535.7L388.8 534.7L388.8 534.6L389 533.5L389.1 532.5L389.1 531.4L389 530.3L388.9 529.2L388.8 528.8L388.7 528.2L388.4 527.1L388 526L387.9 525.9L387.5 525L387.1 524.2L386.9 523.9L386.2 523L386.1 522.8L385.4 522.1L385 521.7L384.5 521.4L383.7 520.9L383.2 520.7L382.8 520.5L382 520.3L381.1 520.2L380.3 520.2L379.4 520.3L378.5 520.5L378 520.7L377.7 520.8L376.8 521.1L376 521.5L375.6 521.7L375.1 522L374.3 522.6L373.9 522.8L373.4 523.2L372.6 523.8L372.4 523.9L371.7 524.5L371.1 525L370.8 525.2L370 525.9L369.9 526L369.1 526.7L368.7 527.1L368.3 527.5L367.5 528.2L367.4 528.3L366.6 529.1L366.5 529.2L365.7 530L365.5 530.3L364.9 531L364.6 531.4L364 532.1L363.8 532.5L363.2 533.3L363 533.5L362.4 534.6L362.3 534.8L361.9 535.7L361.4 536.6L361.4 536.7L361 537.8L360.6 538.9L360.6 539L360.3 540L360.1 541L359.8 542.1L359.7 542.5L359.6 543.2L359.4 544.2L359.3 545.3L359.1 546.4L358.9 547.4L358.9 547.8L358.8 548.5L358.7 549.6L358.5 550.7L358.4 551.7L358.3 552.8L358.2 553.9L358.1 554.9L358 555.3L358 556L357.9 557.1L357.8 558.2L357.7 559.2L357.6 560.3L357.5 561.4L357.4 562.4L357.3 563.5L357.2 564.6L357.2 565L357.1 565.7L357 566.7L356.9 567.8L356.7 568.9L356.6 569.9L356.3 571L356.3 571L356.1 572.1L355.8 573.2L355.5 574L355.4 574.2L355 575.3L354.6 576L354.5 576.4L353.9 577.4L353.8 577.6L353.2 578.5L352.9 578.9L352.4 579.6L352 580.1L351.5 580.7L351.2 581L350.5 581.7L350.3 581.9L349.5 582.6L349.2 582.8L348.6 583.2L347.8 583.8L347.7 583.9L346.9 584.3L346.1 584.8L345.7 584.9L345.2 585.1L344.3 585.5L343.5 585.8L342.8 586L342.6 586.1L341.8 586.3L340.9 586.6L340.1 586.8L339.2 587L339 587.1L338.4 587.2L337.5 587.5L336.7 587.7L335.8 587.9L335.2 588.2L334.9 588.2L334.1 588.5L333.2 588.8L332.4 589.2L332.3 589.2L331.5 589.6L330.7 590L330.2 590.3L329.8 590.5L329 591L328.5 591.4L328.1 591.6L327.3 592.3L327.1 592.4L326.4 593L325.9 593.5L325.5 593.8L324.8 594.6L324.7 594.7L323.8 595.7L323.8 595.7L323 596.7L323 596.7L322.2 597.8L322.1 597.9L321.5 598.9L321.3 599.2L320.8 599.9L320.4 600.6L320.2 601L319.6 602.1L319.6 602.2L319.1 603.1L318.7 604L318.6 604.2L318.1 605.3L317.8 605.9L317.7 606.4L317.3 607.4L317 608.2L316.9 608.5L316.5 609.6L316.2 610.6L316.1 610.7L315.8 611.7L315.5 612.8L315.3 613.7L315.2 613.9L315 614.9L314.7 616L314.5 617.1L314.4 617.4L314.3 618.1L314.1 619.2L313.9 620.3L313.8 621.4L313.6 622.4L313.6 623.1L313.5 623.5L313.4 624.6L313.4 625.6L313.3 626.7L313.3 627.8L313.3 628.9L313.3 629.9L313.4 631L313.5 632.1L313.6 633.1L313.6 633.1L313.7 634.2L313.9 635.3L314.1 636.4L314.4 637.4L314.4 637.5L314.7 638.5L315.1 639.6L315.3 639.9L315.6 640.6L316.1 641.7L316.1 641.7L316.8 642.8L317 643.1L317.6 643.9L317.8 644.2L318.5 644.9L318.7 645.1L319.6 645.9L319.7 646L320.4 646.5L321.3 647.1L321.3 647.1L322.1 647.5L323 648L323.4 648.1L323.8 648.3L324.7 648.7L325.5 649.1L325.9 649.2L326.4 649.4L327.3 649.9L328.1 650.3L328.1 650.3L329 650.8L329.7 651.4L329.8 651.4L330.7 652.2L331 652.4L331.5 653L332 653.5L332.4 653.9L333 654.6L333.2 654.9L333.8 655.6L334.1 655.9L334.7 656.7L334.9 657L335.6 657.8L335.8 658.1L336.4 658.8L336.7 659.1L337.4 659.9L337.5 660.1L338.4 660.9L338.4 661L339.2 661.8L339.5 662.1L340.1 662.5L340.8 663.1L340.9 663.2L341.8 663.8L342.4 664.2L342.6 664.4L343.5 664.9L344.3 665.3L344.3 665.3L345.2 665.7L346.1 666.1L346.9 666.3L346.9 666.4L347.8 666.6L348.6 666.8L349.5 667L350.3 667.2L351.2 667.3L352 667.4L352.4 667.4ZM351.2 663.3L352 663.4L352.9 663.5L353.8 663.6L354.6 663.7L355.5 663.7L356.3 663.7L357.2 663.7L358 663.6L358.9 663.5L359.7 663.4L360.6 663.3L361.4 663.1L361.4 663.1L362.3 663L363.2 662.8L364 662.6L364.9 662.3L365.7 662.1L365.8 662.1L366.6 661.8L367.4 661.5L368.3 661.2L368.9 661L369.1 660.9L370 660.6L370.8 660.2L371.5 659.9L371.7 659.8L372.6 659.4L373.4 659L373.7 658.8L374.3 658.6L375.1 658.1L375.8 657.8L376 657.7L376.8 657.2L377.7 656.7L377.7 656.7L378.5 656.2L379.4 655.7L379.5 655.6L380.3 655.2L381.1 654.6L381.2 654.6L382 654.1L382.8 653.5L382.8 653.5L383.7 652.9L384.4 652.4L384.5 652.4L385.4 651.8L386 651.4L386.2 651.2L387.1 650.6L387.6 650.3L387.9 650L388.8 649.5L389.2 649.2L389.7 648.9L390.5 648.3L390.7 648.1L391.4 647.7L392.2 647.1L392.3 647.1L393.1 646.5L393.8 646L393.9 645.9L394.8 645.3L395.3 644.9L395.6 644.7L396.5 644L396.7 643.9L397.4 643.4L398.1 642.8L398.2 642.7L399.1 642L399.5 641.7L399.9 641.3L400.7 640.6L400.8 640.6L401.6 639.8L401.8 639.6L402.5 638.9L402.9 638.5L403.3 638L403.9 637.4L404.2 637L404.8 636.4L405 636L405.6 635.3L405.9 634.8L406.3 634.2L406.8 633.5L407 633.1L407.6 632.1L407.6 632L408.1 631L408.5 630.2L408.6 629.9L409 628.9L409.3 628L409.4 627.8L409.7 626.7L410 625.6L410.2 624.9L410.3 624.6L410.5 623.5L410.6 622.4L410.7 621.4L410.8 620.3L410.9 619.2L410.9 618.1L410.8 617.1L410.8 616L410.6 614.9L410.5 613.9L410.3 612.8L410.2 612.4L410 611.7L409.7 610.6L409.4 609.6L409.3 609.5L408.9 608.5L408.5 607.4L408.5 607.4L407.9 606.4L407.6 605.8L407.3 605.3L406.8 604.5L406.6 604.2L405.9 603.4L405.7 603.1L405 602.4L404.8 602.1L404.2 601.5L403.7 601L403.3 600.7L402.5 600L402.4 599.9L401.6 599.4L400.9 598.9L400.8 598.8L399.9 598.3L399.1 597.8L399.1 597.8L398.2 597.4L397.4 597L396.7 596.7L396.5 596.6L395.6 596.3L394.8 596.1L393.9 595.8L393.2 595.7L393.1 595.6L392.2 595.5L391.4 595.3L390.5 595.2L389.7 595.1L388.8 595L387.9 595L387.1 595L386.2 594.9L385.4 594.9L384.5 594.9L383.7 595L382.8 595L382 595L381.1 595.1L380.3 595.1L379.4 595.1L378.5 595.2L377.7 595.2L376.8 595.3L376 595.3L375.1 595.4L374.3 595.5L373.4 595.5L372.6 595.6L371.7 595.6L370.8 595.6L370.7 595.7L370 595.7L369.1 595.7L368.3 595.8L367.4 595.8L366.6 595.8L365.7 595.8L364.9 595.9L364 595.9L363.2 596L362.3 596L361.4 596.1L360.6 596.2L359.7 596.2L358.9 596.3L358 596.4L357.2 596.6L356.3 596.7L356 596.7L355.5 596.8L354.6 596.9L353.8 597L352.9 597.1L352 597.2L351.2 597.2L350.3 597.2L349.5 597.2L348.6 597.1L347.8 597L346.9 596.9L346.1 596.8L345.9 596.7L345.2 596.6L344.3 596.4L343.5 596.2L342.6 596L341.8 595.9L340.9 595.7L340.2 595.7L340.1 595.6L339.2 595.6L338.4 595.5L337.5 595.5L336.7 595.6L335.8 595.6L335.7 595.7L334.9 595.8L334.1 596L333.2 596.2L332.4 596.5L331.9 596.7L331.5 596.9L330.7 597.3L329.9 597.8L329.8 597.8L329 598.4L328.4 598.9L328.1 599.1L327.3 599.9L327.2 599.9L326.4 600.7L326.1 601L325.5 601.7L325.2 602.1L324.7 602.8L324.4 603.1L323.8 604L323.7 604.2L323.1 605.3L323 605.4L322.5 606.4L322.1 607L321.9 607.4L321.4 608.5L321.3 608.9L321 609.6L320.5 610.6L320.4 611L320.1 611.7L319.8 612.8L319.6 613.5L319.5 613.9L319.2 614.9L318.9 616L318.7 616.8L318.6 617.1L318.4 618.1L318.2 619.2L318 620.3L317.9 621.4L317.8 621.9L317.8 622.4L317.7 623.5L317.6 624.6L317.6 625.6L317.6 626.7L317.7 627.8L317.7 628.9L317.8 629.8L317.9 629.9L318 631L318.2 632.1L318.5 633.1L318.7 633.7L318.9 634.2L319.3 635.3L319.6 635.9L319.8 636.4L320.4 637.3L320.5 637.4L321.3 638.5L321.3 638.5L322.1 639.4L322.4 639.6L323 640.1L323.8 640.6L323.8 640.7L324.7 641.2L325.5 641.6L325.8 641.7L326.4 642L327.3 642.4L328.1 642.8L328.2 642.8L329 643.2L329.8 643.6L330.2 643.9L330.7 644.2L331.5 644.8L331.6 644.9L332.4 645.6L332.7 646L333.2 646.6L333.6 647.1L334.1 647.7L334.4 648.1L334.9 649L335.1 649.2L335.7 650.3L335.8 650.4L336.4 651.4L336.7 651.8L337.1 652.4L337.5 653.1L337.7 653.5L338.4 654.4L338.5 654.6L339.2 655.6L339.3 655.6L340.1 656.7L340.1 656.7L340.9 657.6L341.1 657.8L341.8 658.5L342.2 658.8L342.6 659.3L343.5 659.9L343.5 659.9L344.3 660.5L345.1 661L345.2 661.1L346.1 661.5L346.9 662L347.2 662.1L347.8 662.3L348.6 662.6L349.5 662.9L350.3 663.1L350.5 663.1ZM352 659L352.9 659.2L353.8 659.3L354.6 659.4L355.5 659.5L356.3 659.5L357.2 659.5L358 659.5L358.9 659.4L359.7 659.4L360.6 659.2L361.4 659.1L362.3 658.9L362.7 658.8L363.2 658.8L364 658.6L364.9 658.3L365.7 658.1L366.6 657.8L366.6 657.8L367.4 657.5L368.3 657.2L369.1 656.8L369.4 656.7L370 656.5L370.8 656.1L371.7 655.6L371.7 655.6L372.6 655.2L373.4 654.8L373.8 654.6L374.3 654.3L375.1 653.8L375.6 653.5L376 653.3L376.8 652.7L377.3 652.4L377.7 652.2L378.5 651.6L378.9 651.4L379.4 651L380.3 650.3L380.3 650.3L381.1 649.7L381.7 649.2L382 649L382.8 648.4L383.1 648.1L383.7 647.7L384.4 647.1L384.5 646.9L385.4 646.2L385.6 646L386.2 645.5L386.8 644.9L387.1 644.7L387.9 643.9L388 643.9L388.8 643.1L389.1 642.8L389.7 642.3L390.2 641.7L390.5 641.4L391.3 640.6L391.4 640.5L392.2 639.6L392.3 639.6L393.1 638.7L393.2 638.5L393.9 637.7L394.1 637.4L394.8 636.6L395 636.4L395.6 635.5L395.8 635.3L396.5 634.3L396.5 634.2L397.2 633.1L397.4 633L397.9 632.1L398.2 631.5L398.5 631L399 629.9L399.1 629.8L399.5 628.9L399.9 627.8L399.9 627.7L400.2 626.7L400.6 625.6L400.8 624.7L400.8 624.6L401 623.5L401.1 622.4L401.2 621.4L401.2 620.3L401.2 619.2L401.1 618.1L400.9 617.1L400.8 616.5L400.6 616L400.3 614.9L399.9 614.1L399.8 613.9L399.2 612.8L399.1 612.5L398.5 611.7L398.2 611.3L397.6 610.6L397.4 610.3L396.6 609.6L396.5 609.5L395.6 608.7L395.4 608.5L394.8 608L394 607.4L393.9 607.4L393.1 606.8L392.3 606.4L392.2 606.3L391.4 605.8L390.5 605.4L390.4 605.3L389.7 604.9L388.8 604.6L388 604.2L387.9 604.2L387.1 603.9L386.2 603.6L385.4 603.4L384.6 603.1L384.5 603.1L383.7 602.9L382.8 602.8L382 602.6L381.1 602.5L380.3 602.4L379.4 602.3L378.5 602.3L377.7 602.2L376.8 602.2L376 602.2L375.1 602.2L374.3 602.2L373.4 602.3L372.6 602.3L371.7 602.4L370.8 602.5L370 602.6L369.1 602.7L368.3 602.8L367.4 602.9L366.6 603.1L366.3 603.1L365.7 603.3L364.9 603.4L364 603.6L363.2 603.9L362.3 604.1L361.9 604.2L361.4 604.3L360.6 604.6L359.7 604.9L358.9 605.2L358.7 605.3L358 605.5L357.2 605.9L356.3 606.3L356.1 606.4L355.5 606.6L354.6 607L353.8 607.4L353.7 607.4L352.9 607.8L352 608.2L351.4 608.5L351.2 608.6L350.3 608.9L349.5 609.3L348.6 609.6L348.6 609.6L347.8 609.8L346.9 610L346.1 610.1L345.2 610.1L344.3 610L343.5 609.8L342.9 609.6L342.6 609.5L341.8 609L340.9 608.5L340.9 608.5L340.1 608L339.2 607.5L339.1 607.4L338.4 607.1L337.5 606.7L336.7 606.4L336.4 606.4L335.8 606.2L334.9 606.2L334.1 606.2L333.2 606.3L333.1 606.4L332.4 606.6L331.5 607L330.7 607.4L330.7 607.5L329.8 608.1L329.4 608.5L329 608.9L328.4 609.6L328.1 609.9L327.6 610.6L327.3 611.1L326.9 611.7L326.4 612.6L326.3 612.8L325.8 613.9L325.5 614.5L325.4 614.9L325 616L324.7 617.1L324.7 617.1L324.4 618.1L324.2 619.2L324.1 620.3L324 621.4L323.9 622.4L324 623.5L324.1 624.6L324.2 625.6L324.5 626.7L324.7 627.3L324.9 627.8L325.4 628.9L325.5 629.1L326.1 629.9L326.4 630.2L327.2 631L327.3 631L328.1 631.6L329 632.1L329 632.1L329.8 632.4L330.7 632.8L331.5 633.1L331.5 633.1L332.4 633.5L333.2 634L333.5 634.2L334.1 634.7L334.6 635.3L334.9 635.7L335.4 636.4L335.8 637L336 637.4L336.5 638.5L336.7 638.9L336.9 639.6L337.3 640.6L337.5 641.2L337.7 641.7L338.1 642.8L338.4 643.6L338.4 643.9L338.8 644.9L339.2 646L339.2 646L339.6 647.1L340.1 648L340.1 648.1L340.6 649.2L340.9 649.8L341.2 650.3L341.8 651.3L341.8 651.4L342.5 652.4L342.6 652.6L343.3 653.5L343.5 653.7L344.3 654.6L344.3 654.6L345.2 655.5L345.4 655.6L346.1 656.2L346.8 656.7L346.9 656.8L347.8 657.3L348.6 657.8L348.7 657.8L349.5 658.2L350.3 658.5L351.2 658.8L351.5 658.8ZM352.9 654.8L353.8 655L354.6 655.2L355.5 655.3L356.3 655.4L357.2 655.5L358 655.5L358.9 655.5L359.7 655.4L360.6 655.3L361.4 655.2L362.3 655.1L363.2 654.9L364 654.7L364.4 654.6L364.9 654.4L365.7 654.2L366.6 653.9L367.4 653.6L367.6 653.5L368.3 653.2L369.1 652.9L370 652.5L370.1 652.4L370.8 652L371.7 651.6L372.1 651.4L372.6 651.1L373.4 650.6L373.9 650.3L374.3 650L375.1 649.5L375.5 649.2L376 648.9L376.8 648.2L376.9 648.1L377.7 647.6L378.3 647.1L378.5 646.8L379.4 646.1L379.5 646L380.3 645.3L380.7 644.9L381.1 644.5L381.8 643.9L382 643.7L382.8 642.8L382.8 642.8L383.7 641.8L383.8 641.7L384.5 640.8L384.7 640.6L385.4 639.8L385.5 639.6L386.2 638.6L386.3 638.5L387.1 637.4L387.1 637.4L387.8 636.4L387.9 636L388.4 635.3L388.8 634.5L389 634.2L389.5 633.1L389.7 632.8L390 632.1L390.4 631L390.5 630.7L390.8 629.9L391.1 628.9L391.3 627.8L391.4 627.5L391.5 626.7L391.6 625.6L391.7 624.6L391.7 623.5L391.6 622.4L391.4 621.4L391.4 621.2L391.2 620.3L390.8 619.2L390.5 618.4L390.4 618.1L389.9 617.1L389.7 616.7L389.2 616L388.8 615.4L388.5 614.9L387.9 614.3L387.6 613.9L387.1 613.4L386.5 612.8L386.2 612.6L385.4 611.9L385.2 611.7L384.5 611.3L383.7 610.7L383.6 610.6L382.8 610.2L382 609.8L381.4 609.6L381.1 609.5L380.3 609.2L379.4 608.9L378.5 608.7L377.7 608.5L377.7 608.5L376.8 608.4L376 608.3L375.1 608.2L374.3 608.2L373.4 608.2L372.6 608.2L371.7 608.2L370.8 608.3L370 608.4L369.4 608.5L369.1 608.6L368.3 608.7L367.4 608.9L366.6 609.1L365.7 609.3L364.9 609.6L364.9 609.6L364 609.9L363.2 610.2L362.3 610.5L362 610.6L361.4 610.9L360.6 611.3L359.7 611.7L359.7 611.7L358.9 612.2L358 612.6L357.8 612.8L357.2 613.2L356.3 613.7L356.1 613.9L355.5 614.3L354.6 614.9L354.6 614.9L353.8 615.5L353.2 616L352.9 616.2L352 617L351.9 617.1L351.2 617.7L350.7 618.1L350.3 618.5L349.6 619.2L349.5 619.4L348.6 620.3L348.6 620.3L347.8 621.3L347.7 621.4L346.9 622.4L346.9 622.4L346.1 623.5L346.1 623.6L345.5 624.6L345.2 625.1L344.9 625.6L344.4 626.7L344.3 626.8L343.9 627.8L343.6 628.9L343.5 629.1L343.3 629.9L343 631L342.8 632.1L342.6 633.1L342.6 633.2L342.5 634.2L342.5 635.3L342.4 636.4L342.4 637.4L342.5 638.5L342.6 639.6L342.6 640.2L342.7 640.6L342.8 641.7L343.1 642.8L343.3 643.9L343.5 644.4L343.6 644.9L344 646L344.3 646.8L344.5 647.1L345 648.1L345.2 648.5L345.6 649.2L346.1 649.8L346.4 650.3L346.9 650.9L347.3 651.4L347.8 651.8L348.5 652.4L348.6 652.5L349.5 653.1L350 653.5L350.3 653.7L351.2 654.1L352 654.5L352.3 654.6ZM357.2 649.3L358 649.4L358.9 649.5L359.7 649.5L360.6 649.5L361.4 649.4L362.3 649.3L362.9 649.2L363.2 649.2L364 649L364.9 648.7L365.7 648.5L366.6 648.1L366.6 648.1L367.4 647.8L368.3 647.4L368.9 647.1L369.1 647L370 646.5L370.8 646L370.8 646L371.7 645.4L372.3 644.9L372.6 644.8L373.4 644.1L373.7 643.9L374.3 643.4L374.9 642.8L375.1 642.6L376 641.7L376 641.7L376.8 640.8L376.9 640.6L377.7 639.7L377.8 639.6L378.5 638.6L378.6 638.5L379.3 637.4L379.4 637.2L379.9 636.4L380.3 635.7L380.4 635.3L380.9 634.2L381.1 633.7L381.3 633.1L381.7 632.1L381.9 631L382 630.7L382.1 629.9L382.2 628.9L382.2 627.8L382.2 626.7L382.1 625.6L382 625.1L381.8 624.6L381.5 623.5L381.1 622.5L381.1 622.4L380.5 621.4L380.3 621L379.7 620.3L379.4 619.9L378.7 619.2L378.5 619.1L377.7 618.4L377.3 618.1L376.8 617.9L376 617.4L375.1 617.1L375.1 617.1L374.3 616.8L373.4 616.7L372.6 616.5L371.7 616.5L370.8 616.5L370 616.5L369.1 616.6L368.3 616.8L367.4 616.9L366.9 617.1L366.6 617.2L365.7 617.4L364.9 617.7L364 618.1L363.9 618.1L363.2 618.5L362.3 618.9L361.7 619.2L361.4 619.4L360.6 619.9L360 620.3L359.7 620.4L358.9 621.1L358.5 621.4L358 621.7L357.2 622.4L357.2 622.4L356.3 623.2L356 623.5L355.5 624L355 624.6L354.6 625L354 625.6L353.8 626L353.2 626.7L352.9 627.1L352.4 627.8L352 628.4L351.8 628.9L351.2 629.9L351.2 630L350.7 631L350.3 631.9L350.3 632.1L349.9 633.1L349.6 634.2L349.5 634.7L349.4 635.3L349.2 636.4L349.1 637.4L349.1 638.5L349.1 639.6L349.2 640.6L349.4 641.7L349.5 641.8L349.8 642.8L350.2 643.9L350.3 644.1L350.8 644.9L351.2 645.5L351.5 646L352 646.6L352.6 647.1L352.9 647.3L353.8 647.9L354.1 648.1L354.6 648.4L355.5 648.8L356.3 649.1L356.9 649.2ZM359.7 640.8L360.6 641.1L361.4 641.3L362.3 641.4L363.2 641.4L364 641.3L364.9 641L365.7 640.8L366 640.6L366.6 640.3L367.4 639.9L367.9 639.6L368.3 639.3L369.1 638.6L369.2 638.5L370 637.7L370.2 637.4L370.8 636.6L371.1 636.4L371.7 635.3L371.7 635.3L372.2 634.2L372.5 633.1L372.6 632.7L372.7 632.1L372.7 631L372.6 630.4L372.5 629.9L372 628.9L371.7 628.4L371.2 627.8L370.8 627.5L370 627L369.1 626.7L369 626.7L368.3 626.6L367.4 626.6L366.7 626.7L366.6 626.7L365.7 626.9L364.9 627.2L364 627.6L363.7 627.8L363.2 628.1L362.3 628.7L362 628.9L361.4 629.3L360.8 629.9L360.6 630.2L359.8 631L359.7 631.1L359.1 632.1L358.9 632.4L358.5 633.1L358 634.2L358 634.2L357.7 635.3L357.6 636.4L357.6 637.4L357.9 638.5L358 638.8L358.4 639.6L358.9 640.1L359.6 640.6Z" fill="none" stroke="#a07146" stroke-width="2.0" stroke-linejoin="round"/>
</g>
<g clip-path="url(#c22)">
<rect x="525" y="474" width="196" height="213" fill="#262730"/>
<path d="M533.5 474V687M631.5 474V687M525 654.5H721M525 616.5H721M525 578.5H721M525 541.5H721M525 503.5H721" stroke="#1e1e20" stroke-width="1" fill="none"/>
<rect x="541.5" y="664.5" width="8.0" height="25.5" fill="#9e6934" fill-opacity="0.5" stroke="#1c1c1e" stroke-width="1" stroke-opacity="0.9"/>
<rect x="549.5" y="673.5" width="8.0" height="16.5" fill="#9e6934" fill-opacity="0.5" stroke="#1c1c1e" stroke-width="1" stroke-opacity="0.9"/>
<rect x="557.5" y="666.5" width="8.0" height="23.5" fill="#9e6934" fill-opacity="0.5" stroke="#1c1c1e" stroke-width="1" stroke-opacity="0.9"/>
<rect x="565.5" y="680.5" width="9.0" height="9.5" fill="#9e6934" fill-opacity="0.5" stroke="#1c1c1e" stroke-width="1" stroke-opacity="0.9"/>
<rect x="574.5" y="678.5" width="8.0" height="11.5" fill="#9e6934" fill-opacity="0.5" stroke="#1c1c1e" stroke-width="1" stroke-opacity="0.9"/>
<rect x="582.5" y="672.5" width="8.0" height="17.5" fill="#9e6934" fill-opacity="0.5" stroke="#1c1c1e" stroke-width="1" stroke-opacity="0.9"/>
<rect x="590.5" y="680.5" width="8.0" height="9.5" fill="#9e6934" fill-opacity="0.5" stroke="#1c1c1e" stroke-width="1" stroke-opacity="0.9"/>
<rect x="598.5" y="685.5" width="8.0" height="4.5" fill="#9e6934" fill-opacity="0.5" stroke="#1c1c1e" stroke-width="1" stroke-opacity="0.9"/>
<rect x="606.5" y="684.5" width="8.0" height="5.5" fill="#9e6934" fill-opacity="0.5" stroke="#1c1c1e" stroke-width="1" stroke-opacity="0.9"/>
<rect x="614.5" y="686.5" width="9.0" height="3.5" fill="#9e6934" fill-opacity="0.5" stroke="#1c1c1e" stroke-width="1" stroke-opacity="0.9"/>
<rect x="623.5" y="685.5" width="8.0" height="4.5" fill="#9e6934" fill-opacity="0.5" stroke="#1c1c1e" stroke-width="1" stroke-opacity="0.9"/>
<rect x="631.5" y="684.5" width="8.0" height="5.5" fill="#9e6934" fill-opacity="0.5" stroke="#1c1c1e" stroke-width="1" stroke-opacity="0.9"/>
<rect x="639.5" y="684.5" width="8.0" height="5.5" fill="#9e6934" fill-opacity="0.5" stroke="#1c1c1e" stroke-width="1" stroke-opacity="0.9"/>
<rect x="647.5" y="685.5" width="8.0" height="4.5" fill="#9e6934" fill-opacity="0.5" stroke="#1c1c1e" stroke-width="1" stroke-opacity="0.9"/>
<rect x="655.5" y="686.5" width="8.0" height="3.5" fill="#9e6934" fill-opacity="0.5" stroke="#1c1c1e" stroke-width="1" stroke-opacity="0.9"/>
<rect x="663.5" y="684.5" width="9.0" height="5.5" fill="#9e6934" fill-opacity="0.5" stroke="#1c1c1e" stroke-width="1" stroke-opacity="0.9"/>
<rect x="672.5" y="686.5" width="8.0" height="3.5" fill="#9e6934" fill-opacity="0.5" stroke="#1c1c1e" stroke-width="1" stroke-opacity="0.9"/>
<rect x="680.5" y="683.5" width="8.0" height="6.5" fill="#9e6934" fill-opacity="0.5" stroke="#1c1c1e" stroke-width="1" stroke-opacity="0.9"/>
<rect x="688.5" y="684.5" width="8.0" height="5.5" fill="#9e6934" fill-opacity="0.5" stroke="#1c1c1e" stroke-width="1" stroke-opacity="0.9"/>
<rect x="696.5" y="684.5" width="8.0" height="5.5" fill="#9e6934" fill-opacity="0.5" stroke="#1c1c1e" stroke-width="1" stroke-opacity="0.9"/>
<rect x="704.5" y="685.5" width="9.0" height="4.5" fill="#9e6934" fill-opacity="0.5" stroke="#1c1c1e" stroke-width="1" stroke-opacity="0.9"/>
<rect x="533.5" y="680.5" width="8.0" height="9.5" fill="#64869c" fill-opacity="0.5" stroke="#1c1c1e" stroke-width="1" stroke-opacity="0.9"/>
<rect x="541.5" y="589.5" width="8.0" height="100.5" fill="#64869c" fill-opacity="0.5" stroke="#1c1c1e" stroke-width="1" stroke-opacity="0.9"/>
<rect x="549.5" y="660.5" width="8.0" height="29.5" fill="#64869c" fill-opacity="0.5" stroke="#1c1c1e" stroke-width="1" stroke-opacity="0.9"/>
<rect x="557.5" y="656.5" width="8.0" height="33.5" fill="#64869c" fill-opacity="0.5" stroke="#1c1c1e" stroke-width="1" stroke-opacity="0.9"/>
<rect x="565.5" y="680.5" width="9.0" height="9.5" fill="#64869c" fill-opacity="0.5" stroke="#1c1c1e" stroke-width="1" stroke-opacity="0.9"/>
<rect x="574.5" y="680.5" width="8.0" height="9.5" fill="#64869c" fill-opacity="0.5" stroke="#1c1c1e" stroke-width="1" stroke-opacity="0.9"/>
<rect x="582.5" y="664.5" width="8.0" height="25.5" fill="#64869c" fill-opacity="0.5" stroke="#1c1c1e" stroke-width="1" stroke-opacity="0.9"/>
<rect x="590.5" y="674.5" width="8.0" height="15.5" fill="#64869c" fill-opacity="0.5" stroke="#1c1c1e" stroke-width="1" stroke-opacity="0.9"/>
<rect x="598.5" y="681.5" width="8.0" height="8.5" fill="#64869c" fill-opacity="0.5" stroke="#1c1c1e" stroke-width="1" stroke-opacity="0.9"/>
<rect x="606.5" y="682.5" width="8.0" height="7.5" fill="#64869c" fill-opacity="0.5" stroke="#1c1c1e" stroke-width="1" stroke-opacity="0.9"/>
<rect x="614.5" y="686.5" width="9.0" height="3.5" fill="#64869c" fill-opacity="0.5" stroke="#1c1c1e" stroke-width="1" stroke-opacity="0.9"/>
<rect x="623.5" y="684.5" width="8.0" height="5.5" fill="#64869c" fill-opacity="0.5" stroke="#1c1c1e" stroke-width="1" stroke-opacity="0.9"/>
<rect x="631.5" y="681.5" width="8.0" height="8.5" fill="#64869c" fill-opacity="0.5" stroke="#1c1c1e" stroke-width="1" stroke-opacity="0.9"/>
<rect x="639.5" y="682.5" width="8.0" height="7.5" fill="#64869c" fill-opacity="0.5" stroke="#1c1c1e" stroke-width="1" stroke-opacity="0.9"/>
<rect x="647.5" y="685.5" width="8.0" height="4.5" fill="#64869c" fill-opacity="0.5" stroke="#1c1c1e" stroke-width="1" stroke-opacity="0.9"/>
<rect x="655.5" y="686.5" width="8.0" height="3.5" fill="#64869c" fill-opacity="0.5" stroke="#1c1c1e" stroke-width="1" stroke-opacity="0.9"/>
<rect x="663.5" y="684.5" width="9.0" height="5.5" fill="#64869c" fill-opacity="0.5" stroke="#1c1c1e" stroke-width="1" stroke-opacity="0.9"/>
<rect x="672.5" y="684.5" width="8.0" height="5.5" fill="#64869c" fill-opacity="0.5" stroke="#1c1c1e" stroke-width="1" stroke-opacity="0.9"/>
<rect x="680.5" y="685.5" width="8.0" height="4.5" fill="#64869c" fill-opacity="0.5" stroke="#1c1c1e" stroke-width="1" stroke-opacity="0.9"/>
<rect x="688.5" y="684.5" width="8.0" height="5.5" fill="#64869c" fill-opacity="0.5" stroke="#1c1c1e" stroke-width="1" stroke-opacity="0.9"/>
<rect x="696.5" y="686.5" width="8.0" height="3.5" fill="#64869c" fill-opacity="0.5" stroke="#1c1c1e" stroke-width="1" stroke-opacity="0.9"/>
<rect x="704.5" y="685.5" width="9.0" height="4.5" fill="#64869c" fill-opacity="0.5" stroke="#1c1c1e" stroke-width="1" stroke-opacity="0.9"/>
</g>
<defs><filter id="g" filterUnits="userSpaceOnUse" x="0" y="0" width="731" height="736"><feOffset dx="0" dy="0"/></filter></defs>
<g filter="url(#g)" fill="#b2b2b2">
<g font-size="12.5">
<path transform="translate(32.83 24.15) scale(0.006104 -0.006104)" d="M763 0H583V1147Q518 1085 412.5 1023Q307 961 223 930V1104Q374 1175 487 1276Q600 1377 647 1472H763Z"/><text x="39.78" y="24.15">.0</text>
<text x="32.83" y="63.15">0.8</text>
<text x="32.83" y="102.15">0.6</text>
<text x="32.83" y="140.15">0.4</text>
<text x="32.83" y="179.15">0.2</text>
<text x="32.83" y="218.15">0.0</text>
<text x="36.30" y="277.15">80</text>
<text x="36.30" y="315.15">60</text>
<text x="35.40" y="353.15">40</text>
<text x="36.30" y="391.15">20</text>
<text x="44.75" y="429.15">0</text>
<path transform="translate(28.70 508.15) scale(0.006104 -0.006104)" d="M763 0H583V1147Q518 1085 412.5 1023Q307 961 223 930V1104Q374 1175 487 1276Q600 1377 647 1472H763Z"/><text x="34.9 42.9" y="508.15">00</text>
<text x="36.30" y="546.15">75</text>
<text x="36.30" y="584.15">50</text>
<text x="36.30" y="622.15">25</text>
<text x="44.75" y="660.15">0</text>
<text x="109.33" y="706.3">0</text>
<path transform="translate(203.53 706.30) scale(0.006104 -0.006104)" d="M763 0H583V1147Q518 1085 412.5 1023Q307 961 223 930V1104Q374 1175 487 1276Q600 1377 647 1472H763Z"/>
<text x="318.32" y="706.3">0</text>
<text x="402.15" y="706.3">50</text>
<text x="530.32" y="706.3">0</text>
<text x="624.20" y="706.3">50</text>
</g>
<g font-size="13.3">
<text x="159.6" y="724.1" text-anchor="middle">survived</text>
<text x="391.1" y="724.1" text-anchor="middle">age</text>
<text x="622.5" y="724.1" text-anchor="middle">fare</text>
<text transform="translate(22.4 118.1) rotate(-90)" text-anchor="middle">survived</text>
<text transform="translate(25.9 350.1) rotate(-90)" text-anchor="middle">age</text>
<text transform="translate(18.3 582.6) rotate(-90)" text-anchor="middle">fare</text>
</g>
</g>
</svg>
</body></html>
